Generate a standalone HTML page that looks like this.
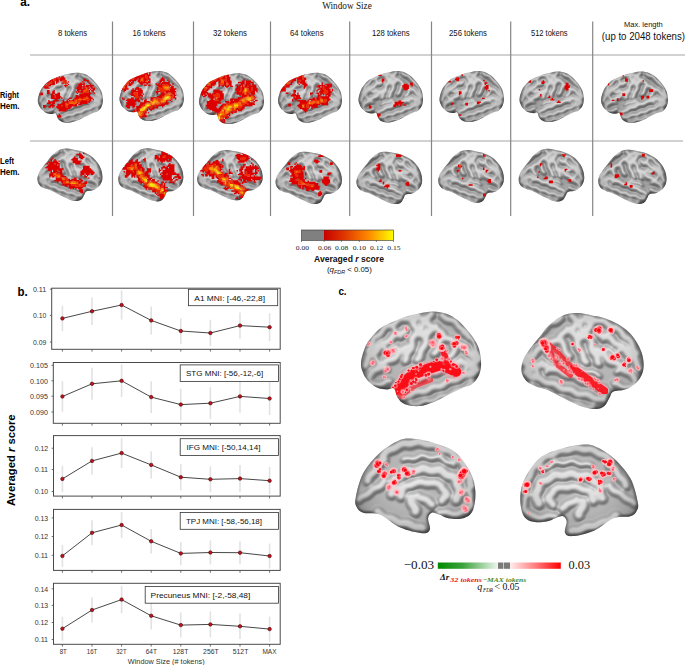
<!DOCTYPE html><html><head><meta charset="utf-8"><style>html,body{margin:0;padding:0;background:#fff;}svg{display:block;}</style></head><body>
<svg width="685" height="665" viewBox="0 0 685 665">
<rect width="685" height="665" fill="#fff"/>
<defs>
<radialGradient id="gVig" cx="52%" cy="45%" r="58%"><stop offset="0" stop-color="#505050" stop-opacity="0"/><stop offset="0.55" stop-color="#505050" stop-opacity="0.05"/><stop offset="0.85" stop-color="#505050" stop-opacity="0.25"/><stop offset="1" stop-color="#404040" stop-opacity="0.45"/></radialGradient>
<filter id="fb1" x="-10%" y="-10%" width="120%" height="120%"><feGaussianBlur stdDeviation="0.9"/></filter>
<filter id="fb2" x="-10%" y="-10%" width="120%" height="120%"><feGaussianBlur stdDeviation="0.5"/></filter>
<clipPath id="cLat"><path d="M0.00,43.00 C0.42,39.15 2.53,32.63 4.20,28.90 C5.87,25.17 7.92,23.08 10.00,20.60 C12.08,18.12 13.92,15.92 16.70,14.00 C19.48,12.08 23.37,10.60 26.70,9.10 C30.03,7.60 33.10,6.17 36.70,5.00 C40.30,3.83 44.42,2.85 48.30,2.10 C52.18,1.35 56.10,0.43 60.00,0.50 C63.90,0.57 68.37,1.35 71.70,2.50 C75.03,3.65 77.50,5.48 80.00,7.40 C82.50,9.32 84.48,11.52 86.70,14.00 C88.92,16.48 91.37,19.27 93.30,22.30 C95.23,25.33 97.18,28.35 98.30,32.20 C99.42,36.05 100.13,41.55 100.00,45.40 C99.87,49.25 98.88,52.55 97.50,55.30 C96.12,58.05 94.07,60.25 91.70,61.90 C89.33,63.55 86.63,63.68 83.30,65.20 C79.97,66.72 75.58,69.08 71.70,71.00 C67.82,72.92 63.90,75.20 60.00,76.70 C56.10,78.20 52.18,79.72 48.30,80.00 C44.42,80.28 39.62,79.50 36.70,78.40 C33.78,77.30 32.33,75.60 30.80,73.40 C29.27,71.20 29.02,66.43 27.50,65.20 C25.98,63.97 24.07,66.13 21.70,66.00 C19.33,65.87 15.95,65.63 13.30,64.40 C10.65,63.17 7.73,60.67 5.80,58.60 C3.87,56.53 2.67,54.60 1.70,52.00 C0.73,49.40 -0.42,46.85 0.00,43.00 Z"/></clipPath>
<clipPath id="cLatM"><path d="M0.00,44.90 C0.28,42.33 1.08,39.17 2.50,36.30 C3.92,33.43 6.37,30.55 8.50,27.70 C10.63,24.85 13.05,22.05 15.30,19.20 C17.55,16.35 19.18,13.32 22.00,10.60 C24.82,7.88 29.08,4.63 32.20,2.90 C35.32,1.17 37.87,0.63 40.70,0.20 C43.53,-0.23 46.38,-0.02 49.20,0.30 C52.02,0.62 54.78,1.52 57.60,2.10 C60.42,2.68 62.98,2.82 66.10,3.80 C69.22,4.78 73.05,6.30 76.30,8.00 C79.55,9.70 82.78,11.57 85.60,14.00 C88.42,16.43 91.08,19.45 93.20,22.60 C95.32,25.75 97.17,29.47 98.30,32.90 C99.43,36.33 100.00,40.07 100.00,43.20 C100.00,46.33 99.43,49.13 98.30,51.70 C97.17,54.27 95.47,56.60 93.20,58.60 C90.93,60.60 87.73,62.55 84.70,63.70 C81.67,64.85 77.12,64.37 75.00,65.50 C72.88,66.63 73.20,68.52 72.00,70.50 C70.80,72.48 69.63,75.82 67.80,77.40 C65.97,78.98 63.83,79.85 61.00,80.00 C58.17,80.15 54.18,79.30 50.80,78.30 C47.42,77.30 44.08,75.58 40.70,74.00 C37.32,72.42 33.90,70.52 30.50,68.80 C27.10,67.08 23.40,64.98 20.30,63.70 C17.20,62.42 14.43,62.10 11.90,61.10 C9.37,60.10 6.95,59.27 5.10,57.70 C3.25,56.13 1.65,53.83 0.80,51.70 C-0.05,49.57 -0.28,47.47 0.00,44.90 Z"/></clipPath>
<clipPath id="cMed"><path d="M0.00,49.90 C0.90,45.15 2.83,35.63 6.20,29.30 C9.57,22.97 15.28,16.52 20.20,11.90 C25.12,7.28 31.05,3.58 35.70,1.60 C40.35,-0.38 42.93,-0.40 48.10,0.00 C53.27,0.40 60.77,2.02 66.70,4.00 C72.63,5.98 78.80,7.68 83.70,11.90 C88.60,16.12 93.38,23.77 96.10,29.30 C98.82,34.83 99.73,39.82 100.00,45.10 C100.27,50.38 99.38,57.30 97.70,61.00 C96.02,64.70 93.27,66.25 89.90,67.30 C86.53,68.35 80.85,67.82 77.50,67.30 C74.15,66.78 72.12,64.98 69.80,64.20 C67.48,63.42 65.15,62.08 63.60,62.60 C62.05,63.12 60.77,64.93 60.50,67.30 C60.23,69.67 62.78,74.68 62.00,76.80 C61.22,78.92 59.93,80.27 55.80,80.00 C51.67,79.73 43.13,77.83 37.20,75.20 C31.27,72.57 25.37,66.30 20.20,64.20 C15.03,62.10 9.43,63.67 6.20,62.60 C2.97,61.53 1.83,59.92 0.80,57.80 C-0.23,55.68 -0.90,54.65 0.00,49.90 Z"/></clipPath>
<clipPath id="cMedM"><path transform="translate(100,0) scale(-1,1)" d="M0.00,49.90 C0.90,45.15 2.83,35.63 6.20,29.30 C9.57,22.97 15.28,16.52 20.20,11.90 C25.12,7.28 31.05,3.58 35.70,1.60 C40.35,-0.38 42.93,-0.40 48.10,0.00 C53.27,0.40 60.77,2.02 66.70,4.00 C72.63,5.98 78.80,7.68 83.70,11.90 C88.60,16.12 93.38,23.77 96.10,29.30 C98.82,34.83 99.73,39.82 100.00,45.10 C100.27,50.38 99.38,57.30 97.70,61.00 C96.02,64.70 93.27,66.25 89.90,67.30 C86.53,68.35 80.85,67.82 77.50,67.30 C74.15,66.78 72.12,64.98 69.80,64.20 C67.48,63.42 65.15,62.08 63.60,62.60 C62.05,63.12 60.77,64.93 60.50,67.30 C60.23,69.67 62.78,74.68 62.00,76.80 C61.22,78.92 59.93,80.27 55.80,80.00 C51.67,79.73 43.13,77.83 37.20,75.20 C31.27,72.57 25.37,66.30 20.20,64.20 C15.03,62.10 9.43,63.67 6.20,62.60 C2.97,61.53 1.83,59.92 0.80,57.80 C-0.23,55.68 -0.90,54.65 0.00,49.90 Z"/></clipPath>
<g id="geoLat">
<path d="M0.00,43.00 C0.42,39.15 2.53,32.63 4.20,28.90 C5.87,25.17 7.92,23.08 10.00,20.60 C12.08,18.12 13.92,15.92 16.70,14.00 C19.48,12.08 23.37,10.60 26.70,9.10 C30.03,7.60 33.10,6.17 36.70,5.00 C40.30,3.83 44.42,2.85 48.30,2.10 C52.18,1.35 56.10,0.43 60.00,0.50 C63.90,0.57 68.37,1.35 71.70,2.50 C75.03,3.65 77.50,5.48 80.00,7.40 C82.50,9.32 84.48,11.52 86.70,14.00 C88.92,16.48 91.37,19.27 93.30,22.30 C95.23,25.33 97.18,28.35 98.30,32.20 C99.42,36.05 100.13,41.55 100.00,45.40 C99.87,49.25 98.88,52.55 97.50,55.30 C96.12,58.05 94.07,60.25 91.70,61.90 C89.33,63.55 86.63,63.68 83.30,65.20 C79.97,66.72 75.58,69.08 71.70,71.00 C67.82,72.92 63.90,75.20 60.00,76.70 C56.10,78.20 52.18,79.72 48.30,80.00 C44.42,80.28 39.62,79.50 36.70,78.40 C33.78,77.30 32.33,75.60 30.80,73.40 C29.27,71.20 29.02,66.43 27.50,65.20 C25.98,63.97 24.07,66.13 21.70,66.00 C19.33,65.87 15.95,65.63 13.30,64.40 C10.65,63.17 7.73,60.67 5.80,58.60 C3.87,56.53 2.67,54.60 1.70,52.00 C0.73,49.40 -0.42,46.85 0.00,43.00 Z" fill="#000" fill-opacity="0.4"/>
<g fill="none" stroke-linecap="round" stroke-linejoin="round" stroke="#000">
<path d="M6.0,34.0L7.3,32.8L8.3,31.4L8.9,29.8L9.1,28.1L9.3,26.3L9.7,24.6L10.6,23.2L11.8,21.8L13.5,21.2L15.1,20.4L16.3,19.2L17.2,17.8L18.0,16.1L19.0,14.6L20.2,13.5L21.8,12.6L23.6,12.4L25.3,12.2L26.9,11.5L28.2,10.5L29.5,9.2L30.7,7.9L32.1,6.9L33.8,6.4L35.7,6.5L37.5,6.6L39.3,6.4L40.8,5.6L42.3,4.5L44.0,4.0" stroke-width="6.50"/>
<path d="M3.6,46.4L4.6,45.2L5.2,43.8L5.6,42.2L6.0,40.6L6.6,39.1L7.5,37.8L8.7,36.7L10.3,36.0L11.8,35.3L13.1,34.2L14.0,32.8L14.7,31.2L15.4,29.7L16.5,28.3L17.8,27.5L19.4,27.1L21.0,26.7L22.5,26.2L23.8,25.3L24.8,24.2L25.7,22.9L26.7,21.5L28.0,20.5L29.5,19.9L31.2,19.6L32.9,19.5L34.5,19.2L36.0,18.5L37.0,17.0" stroke-width="6.50"/>
<path d="M6.6,56.6L7.4,55.0L8.2,53.4L9.0,51.8L10.2,50.6L11.8,49.7L13.5,49.2L15.1,48.6L16.5,47.7L17.6,46.4L18.6,44.9L19.6,43.4L21.0,42.4L22.5,41.7L24.3,41.4L26.0,41.1L27.6,40.5L28.9,39.5L30.1,38.1L30.8,36.5L31.7,35.1L32.9,33.9L34.4,33.1L36.1,32.4L37.0,31.0" stroke-width="6.50"/>
<path d="M6.0,63.1L7.5,62.3L9.1,61.7L10.7,61.6L12.4,61.9L14.1,62.3L15.9,62.3L17.6,61.8L19.1,60.9L20.6,59.7L22.1,58.7L24.0,59.0" stroke-width="5.50"/>
<path d="M47.6,3.3L47.2,4.8L46.5,6.1L45.4,7.3L44.2,8.4L43.3,10.3L43.8,11.7L44.7,13.0L45.8,14.2L47.0,15.4L47.8,17.4L46.8,18.9L45.5,20.3L44.1,21.5L43.0,23.0L42.3,24.8L42.5,26.6L42.7,28.3L42.7,30.0L42.2,31.6L41.2,33.1L40.0,34.3L38.9,35.7L38.2,37.2L37.9,38.8L37.9,40.6L37.0,42.0" stroke-width="6.50"/>
<path d="M58.8,2.3L57.9,3.6L56.7,4.8L55.6,6.0L54.8,7.2L54.3,9.3L55.3,10.5L56.5,11.7L57.5,12.9L58.2,14.2L58.5,16.3L57.1,17.6L55.8,18.9L54.8,20.4L54.3,22.2L54.1,24.0L54.3,25.8L54.1,27.4L53.4,29.0L52.4,30.4L51.5,31.7L50.4,33.1L49.7,34.7L49.4,36.4L49.1,38.3L48.6,39.9L47.0,41.0" stroke-width="6.50"/>
<path d="M68.1,3.8L69.4,5.2L70.8,6.4L72.5,7.1L74.3,7.4L76.3,7.6L77.9,8.3L79.1,9.4L80.2,10.8L81.1,12.3L82.2,13.7L83.3,14.5L84.7,15.6L86.2,16.5L87.6,17.5L88.7,18.8L89.4,20.4L90.0,22.0" stroke-width="6.50"/>
<path d="M62.5,13.3L63.3,14.9L64.4,16.2L65.9,17.3L67.5,18.3L68.9,20.2L68.3,21.8L67.4,23.2L66.4,24.7L65.6,26.2L65.3,27.6L64.8,29.1L64.5,30.8L64.1,32.4L63.4,33.8L62.4,35.0L61.0,36.0" stroke-width="6.00"/>
<path d="M69.6,22.8L71.1,23.3L72.8,23.6L74.5,23.9L76.0,24.4L77.7,25.8L77.6,27.7L77.5,29.7L77.6,31.5L78.5,32.5L77.8,34.2L77.0,35.8L76.0,37.2L74.7,38.3L73.0,39.0" stroke-width="6.00"/>
<path d="M81.8,28.3L83.5,28.8L85.1,29.4L86.5,30.3L87.6,31.6L88.6,33.1L89.4,34.4L90.1,35.8L91.1,37.0L92.4,38.0L93.8,39.1L94.9,40.2L95.8,42.1L95.2,43.6L94.3,45.2L93.6,46.7L93.3,48.3L94.0,50.0" stroke-width="6.50"/>
<path d="M29.7,65.6L30.6,64.3L31.9,63.4L33.3,62.7L34.9,62.2L36.3,61.7L37.8,61.3L39.1,60.5L40.3,59.4L41.5,58.3L42.8,57.3L44.3,56.8L45.8,56.6L47.6,56.6L49.3,56.4L50.8,56.0L52.2,55.1L53.5,53.9L54.8,52.7L56.2,51.8L57.8,51.3L59.4,51.3L61.1,51.4L62.8,51.3L64.3,50.8L65.6,49.9L67.0,48.9L68.3,47.8L69.7,47.2L71.2,46.8L72.8,46.7L74.4,46.7L76.0,46.5L77.5,45.9L78.8,45.0L80.0,43.9L81.6,43.3L83.2,43.1L84.8,43.3L86.4,43.9L88.0,44.0" stroke-width="7.00"/>
<path d="M32.7,72.1L34.3,71.9L36.0,71.9L37.7,72.0L39.3,71.8L40.8,71.3L42.1,70.4L43.4,69.4L44.8,68.5L46.3,68.0L47.8,67.9L49.5,68.0L51.1,68.2L52.7,68.2L54.3,67.8L55.6,66.9L56.9,65.8L58.3,64.8L59.7,64.1L61.3,63.9L63.0,63.9L64.7,64.0L66.3,63.8L67.8,63.1L69.1,62.0L70.4,60.8L71.7,59.7L73.2,59.1L74.8,58.8L76.6,58.8L78.2,58.7L79.8,58.4L81.2,57.6L82.5,56.6L83.8,55.5L85.2,54.7L86.7,54.2L88.4,54.2L90.1,54.2L91.8,53.9L93.2,53.2L94.5,52.1L95.6,50.8L97.0,50.0" stroke-width="6.50"/>
<path d="M41.9,78.5L43.6,78.8L45.2,79.1L46.8,79.1L48.3,78.6L49.8,77.8L51.3,76.9L52.7,76.2L54.3,76.0L55.9,76.1L57.6,76.2L59.3,76.2L60.9,75.8L62.4,75.0L63.8,74.0L65.1,72.9L66.6,72.1L68.2,71.8L69.9,71.9L71.6,71.8L73.1,71.6L74.5,71.0L75.8,70.0L77.0,68.9L78.1,67.8L79.4,67.0L80.9,66.5L82.5,66.4L84.2,66.3L85.9,65.9L87.4,65.1L88.7,63.8L89.9,62.4L91.1,61.1L93.0,61.0" stroke-width="6.00"/>
<path d="M95.6,30.1L95.6,31.7L95.9,33.2L96.6,34.6L97.6,36.0L98.5,37.3L99.1,38.8L99.4,40.3L99.0,42.0" stroke-width="5.00"/>
<path d="M85.4,18.6L86.6,19.7L88.1,20.4L89.7,21.1L91.2,22.0L92.3,23.1L93.2,24.6L94.0,26.0" stroke-width="5.00"/>
<path d="M36.2,52.5L37.6,51.4L39.0,50.2L40.5,49.4L42.2,49.0L44.0,49.0L45.8,49.1L47.6,48.9L49.2,48.1L50.7,47.0L52.2,45.9L54.0,46.0" stroke-width="4.00"/>
<path d="M22.2,10.8L23.9,11.4L25.3,12.3L26.5,13.6L27.5,15.2L28.4,16.4L29.3,18.0L30.6,19.2L32.2,20.4L33.0,22.0" stroke-width="4.50"/>
<path d="M12.7,40.5L13.6,41.7L14.3,43.3L14.8,44.9L15.7,46.7L17.1,47.5L18.8,48.0L20.6,48.1L22.0,49.0" stroke-width="4.50"/>
<path d="M18.4,29.4L19.5,31.0L20.7,32.5L22.0,33.7L24.3,34.5L25.5,33.0L26.6,31.4L28.0,30.3L30.0,30.0" stroke-width="4.00"/>
<path d="M51.9,6.0L51.1,7.5L50.7,9.1L50.7,10.7L51.1,12.4L51.5,14.1L51.7,15.7L51.4,17.3L50.7,18.8L49.9,20.4L50.0,22.0" stroke-width="3.50"/>
<path d="M83.3,40.5L84.3,42.0L85.7,43.2L87.3,44.3L88.8,46.3L88.3,47.8L87.4,49.1L86.3,50.4L86.0,52.0" stroke-width="4.50"/>
<path d="M73.6,46.6L75.4,47.1L77.3,47.6L79.0,48.3L80.0,50.0" stroke-width="4.00"/>
</g>
</g>
<g id="geoMed">
<path d="M0.00,49.90 C0.90,45.15 2.83,35.63 6.20,29.30 C9.57,22.97 15.28,16.52 20.20,11.90 C25.12,7.28 31.05,3.58 35.70,1.60 C40.35,-0.38 42.93,-0.40 48.10,0.00 C53.27,0.40 60.77,2.02 66.70,4.00 C72.63,5.98 78.80,7.68 83.70,11.90 C88.60,16.12 93.38,23.77 96.10,29.30 C98.82,34.83 99.73,39.82 100.00,45.10 C100.27,50.38 99.38,57.30 97.70,61.00 C96.02,64.70 93.27,66.25 89.90,67.30 C86.53,68.35 80.85,67.82 77.50,67.30 C74.15,66.78 72.12,64.98 69.80,64.20 C67.48,63.42 65.15,62.08 63.60,62.60 C62.05,63.12 60.77,64.93 60.50,67.30 C60.23,69.67 62.78,74.68 62.00,76.80 C61.22,78.92 59.93,80.27 55.80,80.00 C51.67,79.73 43.13,77.83 37.20,75.20 C31.27,72.57 25.37,66.30 20.20,64.20 C15.03,62.10 9.43,63.67 6.20,62.60 C2.97,61.53 1.83,59.92 0.80,57.80 C-0.23,55.68 -0.90,54.65 0.00,49.90 Z" fill="#000" fill-opacity="0.55"/>
<g fill="none" stroke-linecap="round" stroke-linejoin="round" stroke="#000">
<path d="M30.0,47.0L30.9,45.6L31.6,44.2L31.9,42.7L31.8,41.1L31.6,39.4L31.5,37.8L31.8,36.3L32.6,34.5L34.3,34.0L35.9,33.5L37.4,32.7L38.6,31.6L39.5,30.2L40.4,28.7L41.9,27.2L43.4,26.9L45.1,27.1L46.7,27.5L48.3,27.8L49.9,27.8L51.4,27.3L52.9,26.5L54.4,25.7L56.1,25.1L57.6,25.3L59.1,25.8L60.6,26.6L62.2,27.2L63.7,27.4L65.3,27.3L66.9,26.8L68.5,26.4L70.4,26.2L71.9,27.0L73.1,28.3L74.3,29.6L75.6,30.7L77.1,31.5L78.8,31.8L80.6,32.0L82.7,32.6L83.6,34.1L84.1,35.8L84.3,37.6L84.7,39.4L85.4,40.9L86.5,41.9L86.7,43.7L86.7,45.5L86.3,47.3L85.5,48.8L84.4,50.3L84.0,52.0" stroke-width="8.00"/>
<path d="M37.7,49.3L38.4,48.0L38.8,46.4L38.9,44.8L38.9,43.2L39.6,41.2L41.2,40.5L43.1,40.2L45.0,40.0L46.8,39.6L48.1,38.8L49.6,38.1L51.1,37.4L52.6,36.9L54.2,36.7L55.7,36.9L57.3,37.4L58.9,37.8L60.5,38.0L61.8,37.7L63.6,37.7L65.5,37.5L67.3,37.7L68.9,38.3L70.4,39.3L71.6,40.2L72.0,41.8L72.9,43.2L74.1,44.4L75.4,45.5L76.6,47.4L75.7,49.0L74.3,50.2L72.8,51.3L72.0,53.0" stroke-width="7.00"/>
<path d="M22.5,14.7L23.5,13.4L24.5,12.0L25.6,10.7L26.8,9.7L28.3,9.1L30.0,8.7L31.7,8.3L33.2,7.6L34.2,6.7L35.6,5.9L37.0,4.9L38.5,4.2L40.0,3.8L41.7,3.9L43.4,4.2L45.0,4.4L46.6,4.2L48.0,3.6L49.5,3.2L51.1,2.7L52.7,2.5L54.3,2.6L55.8,3.2L57.3,3.9L58.8,4.5L60.4,4.8L61.8,4.6L63.5,4.6L65.3,4.6L67.0,4.8L68.5,5.5L69.8,6.6L71.2,7.7L72.6,8.7L74.2,9.2L75.8,9.3L77.4,9.7L78.9,10.1L80.3,10.9L81.4,12.0L82.3,13.3L83.2,14.6L84.3,15.8L85.3,16.5L86.5,17.6L87.9,18.6L89.3,19.7L90.3,21.0L90.9,22.6L91.2,24.3L91.6,26.0L92.1,27.3L92.7,28.7L93.6,30.0L94.7,31.2L95.5,32.5L96.1,34.0L96.2,35.5L96.1,37.1L96.0,38.7L97.0,40.0" stroke-width="8.00"/>
<path d="M10.1,36.1L10.4,34.3L11.0,32.7L11.9,31.3L13.2,30.2L14.6,29.1L15.9,27.9L16.6,26.6L17.4,25.1L18.1,23.6L18.9,22.0L19.9,20.8L21.3,19.9L22.9,19.2L24.0,18.0" stroke-width="7.00"/>
<path d="M2.6,51.5L3.6,50.3L4.9,49.5L6.4,48.9L7.9,48.3L9.4,47.6L10.4,46.8L11.8,45.6L13.1,44.1L14.4,42.9L16.0,42.0L17.7,41.7L19.4,41.0L21.0,40.2L22.2,39.0L23.1,37.5L24.0,36.0" stroke-width="6.50"/>
<path d="M18.4,62.2L19.7,63.3L20.9,64.7L22.2,65.9L23.6,66.8L25.3,67.2L27.0,67.4L28.8,67.6L30.2,68.1L31.7,68.8L33.1,69.8L34.5,70.8L36.0,71.6L37.6,72.0L39.3,71.9L41.0,71.8L42.7,71.8L44.2,72.2L45.6,72.9L47.0,73.8L48.3,74.7L49.8,75.4L51.3,75.6L52.9,75.5L54.6,75.3L56.0,76.0" stroke-width="8.00"/>
<path d="M46.2,49.9L46.1,51.6L46.2,53.3L46.7,54.8L47.5,56.2L48.6,57.5L49.6,58.8L50.4,60.2L50.0,62.0" stroke-width="8.00"/>
<path d="M51.7,48.5L53.0,49.7L54.6,50.5L56.5,51.0L58.4,51.5L60.0,52.3L61.3,53.5L62.5,55.1L64.0,56.0" stroke-width="7.00"/>
<path d="M69.8,62.9L71.6,62.9L73.4,62.6L75.1,62.3L76.8,62.5L78.5,63.1L80.0,64.0L81.7,64.5L83.4,64.6L85.1,64.2L86.7,63.4L88.3,62.6L89.4,62.4L90.6,61.3L92.2,60.5L93.8,59.8L95.3,58.9L96.4,57.8L97.0,56.0" stroke-width="6.50"/>
<path d="M93.6,44.1L94.8,45.6L95.8,47.1L96.3,48.8L96.4,50.6L96.2,52.4L97.0,54.0" stroke-width="5.50"/>
<path d="M39.9,17.5L41.3,16.9L42.8,16.6L44.4,16.7L46.0,17.0L47.6,17.2L49.2,17.1L50.6,16.6L52.0,15.8L53.4,14.9L55.1,14.2L56.6,14.2L58.0,14.7L59.5,15.3L61.0,16.0L62.4,16.4L63.9,16.4L65.5,16.1L67.0,15.6L68.5,15.2L70.4,15.2L71.8,16.2L73.0,17.5L74.2,18.8L75.6,19.8L77.2,20.4L78.9,20.6L80.7,20.8L82.0,22.0" stroke-width="4.50"/>
</g>
</g>
<g id="geoLatC">
<path d="M0.00,43.00 C0.42,39.15 2.53,32.63 4.20,28.90 C5.87,25.17 7.92,23.08 10.00,20.60 C12.08,18.12 13.92,15.92 16.70,14.00 C19.48,12.08 23.37,10.60 26.70,9.10 C30.03,7.60 33.10,6.17 36.70,5.00 C40.30,3.83 44.42,2.85 48.30,2.10 C52.18,1.35 56.10,0.43 60.00,0.50 C63.90,0.57 68.37,1.35 71.70,2.50 C75.03,3.65 77.50,5.48 80.00,7.40 C82.50,9.32 84.48,11.52 86.70,14.00 C88.92,16.48 91.37,19.27 93.30,22.30 C95.23,25.33 97.18,28.35 98.30,32.20 C99.42,36.05 100.13,41.55 100.00,45.40 C99.87,49.25 98.88,52.55 97.50,55.30 C96.12,58.05 94.07,60.25 91.70,61.90 C89.33,63.55 86.63,63.68 83.30,65.20 C79.97,66.72 75.58,69.08 71.70,71.00 C67.82,72.92 63.90,75.20 60.00,76.70 C56.10,78.20 52.18,79.72 48.30,80.00 C44.42,80.28 39.62,79.50 36.70,78.40 C33.78,77.30 32.33,75.60 30.80,73.40 C29.27,71.20 29.02,66.43 27.50,65.20 C25.98,63.97 24.07,66.13 21.70,66.00 C19.33,65.87 15.95,65.63 13.30,64.40 C10.65,63.17 7.73,60.67 5.80,58.60 C3.87,56.53 2.67,54.60 1.70,52.00 C0.73,49.40 -0.42,46.85 0.00,43.00 Z" fill="#000" fill-opacity="0.55"/>
<g fill="none" stroke-linecap="round" stroke-linejoin="round" stroke="#000">
<path d="M6.0,34.0L7.3,32.8L8.3,31.4L8.9,29.8L9.1,28.1L9.3,26.3L9.7,24.6L10.6,23.2L11.8,21.8L13.5,21.2L15.1,20.4L16.3,19.2L17.2,17.8L18.0,16.1L19.0,14.6L20.2,13.5L21.8,12.6L23.6,12.4L25.3,12.2L26.9,11.5L28.2,10.5L29.5,9.2L30.7,7.9L32.1,6.9L33.8,6.4L35.7,6.5L37.5,6.6L39.3,6.4L40.8,5.6L42.3,4.5L44.0,4.0" stroke-width="6.50"/>
<path d="M3.6,46.4L4.6,45.2L5.2,43.8L5.6,42.2L6.0,40.6L6.6,39.1L7.5,37.8L8.7,36.7L10.3,36.0L11.8,35.3L13.1,34.2L14.0,32.8L14.7,31.2L15.4,29.7L16.5,28.3L17.8,27.5L19.4,27.1L21.0,26.7L22.5,26.2L23.8,25.3L24.8,24.2L25.7,22.9L26.7,21.5L28.0,20.5L29.5,19.9L31.2,19.6L32.9,19.5L34.5,19.2L36.0,18.5L37.0,17.0" stroke-width="6.50"/>
<path d="M6.6,56.6L7.4,55.0L8.2,53.4L9.0,51.8L10.2,50.6L11.8,49.7L13.5,49.2L15.1,48.6L16.5,47.7L17.6,46.4L18.6,44.9L19.6,43.4L21.0,42.4L22.5,41.7L24.3,41.4L26.0,41.1L27.6,40.5L28.9,39.5L30.1,38.1L30.8,36.5L31.7,35.1L32.9,33.9L34.4,33.1L36.1,32.4L37.0,31.0" stroke-width="6.50"/>
<path d="M6.0,63.1L7.5,62.3L9.1,61.7L10.7,61.6L12.4,61.9L14.1,62.3L15.9,62.3L17.6,61.8L19.1,60.9L20.6,59.7L22.1,58.7L24.0,59.0" stroke-width="5.50"/>
<path d="M47.6,3.3L47.2,4.8L46.5,6.1L45.4,7.3L44.2,8.4L43.3,10.3L43.8,11.7L44.7,13.0L45.8,14.2L47.0,15.4L47.8,17.4L46.8,18.9L45.5,20.3L44.1,21.5L43.0,23.0L42.3,24.8L42.5,26.6L42.7,28.3L42.7,30.0L42.2,31.6L41.2,33.1L40.0,34.3L38.9,35.7L38.2,37.2L37.9,38.8L37.9,40.6L37.0,42.0" stroke-width="6.50"/>
<path d="M58.8,2.3L57.9,3.6L56.7,4.8L55.6,6.0L54.8,7.2L54.3,9.3L55.3,10.5L56.5,11.7L57.5,12.9L58.2,14.2L58.5,16.3L57.1,17.6L55.8,18.9L54.8,20.4L54.3,22.2L54.1,24.0L54.3,25.8L54.1,27.4L53.4,29.0L52.4,30.4L51.5,31.7L50.4,33.1L49.7,34.7L49.4,36.4L49.1,38.3L48.6,39.9L47.0,41.0" stroke-width="6.50"/>
<path d="M68.1,3.8L69.4,5.2L70.8,6.4L72.5,7.1L74.3,7.4L76.3,7.6L77.9,8.3L79.1,9.4L80.2,10.8L81.1,12.3L82.2,13.7L83.3,14.5L84.7,15.6L86.2,16.5L87.6,17.5L88.7,18.8L89.4,20.4L90.0,22.0" stroke-width="6.50"/>
<path d="M62.5,13.3L63.3,14.9L64.4,16.2L65.9,17.3L67.5,18.3L68.9,20.2L68.3,21.8L67.4,23.2L66.4,24.7L65.6,26.2L65.3,27.6L64.8,29.1L64.5,30.8L64.1,32.4L63.4,33.8L62.4,35.0L61.0,36.0" stroke-width="6.00"/>
<path d="M69.6,22.8L71.1,23.3L72.8,23.6L74.5,23.9L76.0,24.4L77.7,25.8L77.6,27.7L77.5,29.7L77.6,31.5L78.5,32.5L77.8,34.2L77.0,35.8L76.0,37.2L74.7,38.3L73.0,39.0" stroke-width="6.00"/>
<path d="M81.8,28.3L83.5,28.8L85.1,29.4L86.5,30.3L87.6,31.6L88.6,33.1L89.4,34.4L90.1,35.8L91.1,37.0L92.4,38.0L93.8,39.1L94.9,40.2L95.8,42.1L95.2,43.6L94.3,45.2L93.6,46.7L93.3,48.3L94.0,50.0" stroke-width="6.50"/>
<path d="M29.7,65.6L30.6,64.3L31.9,63.4L33.3,62.7L34.9,62.2L36.3,61.7L37.8,61.3L39.1,60.5L40.3,59.4L41.5,58.3L42.8,57.3L44.3,56.8L45.8,56.6L47.6,56.6L49.3,56.4L50.8,56.0L52.2,55.1L53.5,53.9L54.8,52.7L56.2,51.8L57.8,51.3L59.4,51.3L61.1,51.4L62.8,51.3L64.3,50.8L65.6,49.9L67.0,48.9L68.3,47.8L69.7,47.2L71.2,46.8L72.8,46.7L74.4,46.7L76.0,46.5L77.5,45.9L78.8,45.0L80.0,43.9L81.6,43.3L83.2,43.1L84.8,43.3L86.4,43.9L88.0,44.0" stroke-width="7.00"/>
<path d="M32.7,72.1L34.3,71.9L36.0,71.9L37.7,72.0L39.3,71.8L40.8,71.3L42.1,70.4L43.4,69.4L44.8,68.5L46.3,68.0L47.8,67.9L49.5,68.0L51.1,68.2L52.7,68.2L54.3,67.8L55.6,66.9L56.9,65.8L58.3,64.8L59.7,64.1L61.3,63.9L63.0,63.9L64.7,64.0L66.3,63.8L67.8,63.1L69.1,62.0L70.4,60.8L71.7,59.7L73.2,59.1L74.8,58.8L76.6,58.8L78.2,58.7L79.8,58.4L81.2,57.6L82.5,56.6L83.8,55.5L85.2,54.7L86.7,54.2L88.4,54.2L90.1,54.2L91.8,53.9L93.2,53.2L94.5,52.1L95.6,50.8L97.0,50.0" stroke-width="6.50"/>
<path d="M41.9,78.5L43.6,78.8L45.2,79.1L46.8,79.1L48.3,78.6L49.8,77.8L51.3,76.9L52.7,76.2L54.3,76.0L55.9,76.1L57.6,76.2L59.3,76.2L60.9,75.8L62.4,75.0L63.8,74.0L65.1,72.9L66.6,72.1L68.2,71.8L69.9,71.9L71.6,71.8L73.1,71.6L74.5,71.0L75.8,70.0L77.0,68.9L78.1,67.8L79.4,67.0L80.9,66.5L82.5,66.4L84.2,66.3L85.9,65.9L87.4,65.1L88.7,63.8L89.9,62.4L91.1,61.1L93.0,61.0" stroke-width="6.00"/>
<path d="M95.6,30.1L95.6,31.7L95.9,33.2L96.6,34.6L97.6,36.0L98.5,37.3L99.1,38.8L99.4,40.3L99.0,42.0" stroke-width="5.00"/>
<path d="M85.4,18.6L86.6,19.7L88.1,20.4L89.7,21.1L91.2,22.0L92.3,23.1L93.2,24.6L94.0,26.0" stroke-width="5.00"/>
<path d="M36.2,52.5L37.6,51.4L39.0,50.2L40.5,49.4L42.2,49.0L44.0,49.0L45.8,49.1L47.6,48.9L49.2,48.1L50.7,47.0L52.2,45.9L54.0,46.0" stroke-width="4.00"/>
<path d="M22.2,10.8L23.9,11.4L25.3,12.3L26.5,13.6L27.5,15.2L28.4,16.4L29.3,18.0L30.6,19.2L32.2,20.4L33.0,22.0" stroke-width="4.50"/>
<path d="M12.7,40.5L13.6,41.7L14.3,43.3L14.8,44.9L15.7,46.7L17.1,47.5L18.8,48.0L20.6,48.1L22.0,49.0" stroke-width="4.50"/>
<path d="M18.4,29.4L19.5,31.0L20.7,32.5L22.0,33.7L24.3,34.5L25.5,33.0L26.6,31.4L28.0,30.3L30.0,30.0" stroke-width="4.00"/>
<path d="M51.9,6.0L51.1,7.5L50.7,9.1L50.7,10.7L51.1,12.4L51.5,14.1L51.7,15.7L51.4,17.3L50.7,18.8L49.9,20.4L50.0,22.0" stroke-width="3.50"/>
<path d="M83.3,40.5L84.3,42.0L85.7,43.2L87.3,44.3L88.8,46.3L88.3,47.8L87.4,49.1L86.3,50.4L86.0,52.0" stroke-width="4.50"/>
<path d="M73.6,46.6L75.4,47.1L77.3,47.6L79.0,48.3L80.0,50.0" stroke-width="4.00"/>
</g>
</g>
<g id="geoLatM">
<path d="M0.00,44.90 C0.28,42.33 1.08,39.17 2.50,36.30 C3.92,33.43 6.37,30.55 8.50,27.70 C10.63,24.85 13.05,22.05 15.30,19.20 C17.55,16.35 19.18,13.32 22.00,10.60 C24.82,7.88 29.08,4.63 32.20,2.90 C35.32,1.17 37.87,0.63 40.70,0.20 C43.53,-0.23 46.38,-0.02 49.20,0.30 C52.02,0.62 54.78,1.52 57.60,2.10 C60.42,2.68 62.98,2.82 66.10,3.80 C69.22,4.78 73.05,6.30 76.30,8.00 C79.55,9.70 82.78,11.57 85.60,14.00 C88.42,16.43 91.08,19.45 93.20,22.60 C95.32,25.75 97.17,29.47 98.30,32.90 C99.43,36.33 100.00,40.07 100.00,43.20 C100.00,46.33 99.43,49.13 98.30,51.70 C97.17,54.27 95.47,56.60 93.20,58.60 C90.93,60.60 87.73,62.55 84.70,63.70 C81.67,64.85 77.12,64.37 75.00,65.50 C72.88,66.63 73.20,68.52 72.00,70.50 C70.80,72.48 69.63,75.82 67.80,77.40 C65.97,78.98 63.83,79.85 61.00,80.00 C58.17,80.15 54.18,79.30 50.80,78.30 C47.42,77.30 44.08,75.58 40.70,74.00 C37.32,72.42 33.90,70.52 30.50,68.80 C27.10,67.08 23.40,64.98 20.30,63.70 C17.20,62.42 14.43,62.10 11.90,61.10 C9.37,60.10 6.95,59.27 5.10,57.70 C3.25,56.13 1.65,53.83 0.80,51.70 C-0.05,49.57 -0.28,47.47 0.00,44.90 Z" fill="#000" fill-opacity="0.4"/>
<g fill="none" stroke-linecap="round" stroke-linejoin="round" stroke="#000" transform="translate(100,0) scale(-1,1)">
<path d="M6.0,34.0L7.3,32.8L8.3,31.4L8.9,29.8L9.1,28.1L9.3,26.3L9.7,24.6L10.6,23.2L11.8,21.8L13.5,21.2L15.1,20.4L16.3,19.2L17.2,17.8L18.0,16.1L19.0,14.6L20.2,13.5L21.8,12.6L23.6,12.4L25.3,12.2L26.9,11.5L28.2,10.5L29.5,9.2L30.7,7.9L32.1,6.9L33.8,6.4L35.7,6.5L37.5,6.6L39.3,6.4L40.8,5.6L42.3,4.5L44.0,4.0" stroke-width="6.50"/>
<path d="M3.6,46.4L4.6,45.2L5.2,43.8L5.6,42.2L6.0,40.6L6.6,39.1L7.5,37.8L8.7,36.7L10.3,36.0L11.8,35.3L13.1,34.2L14.0,32.8L14.7,31.2L15.4,29.7L16.5,28.3L17.8,27.5L19.4,27.1L21.0,26.7L22.5,26.2L23.8,25.3L24.8,24.2L25.7,22.9L26.7,21.5L28.0,20.5L29.5,19.9L31.2,19.6L32.9,19.5L34.5,19.2L36.0,18.5L37.0,17.0" stroke-width="6.50"/>
<path d="M6.6,56.6L7.4,55.0L8.2,53.4L9.0,51.8L10.2,50.6L11.8,49.7L13.5,49.2L15.1,48.6L16.5,47.7L17.6,46.4L18.6,44.9L19.6,43.4L21.0,42.4L22.5,41.7L24.3,41.4L26.0,41.1L27.6,40.5L28.9,39.5L30.1,38.1L30.8,36.5L31.7,35.1L32.9,33.9L34.4,33.1L36.1,32.4L37.0,31.0" stroke-width="6.50"/>
<path d="M6.0,63.1L7.5,62.3L9.1,61.7L10.7,61.6L12.4,61.9L14.1,62.3L15.9,62.3L17.6,61.8L19.1,60.9L20.6,59.7L22.1,58.7L24.0,59.0" stroke-width="5.50"/>
<path d="M47.6,3.3L47.2,4.8L46.5,6.1L45.4,7.3L44.2,8.4L43.3,10.3L43.8,11.7L44.7,13.0L45.8,14.2L47.0,15.4L47.8,17.4L46.8,18.9L45.5,20.3L44.1,21.5L43.0,23.0L42.3,24.8L42.5,26.6L42.7,28.3L42.7,30.0L42.2,31.6L41.2,33.1L40.0,34.3L38.9,35.7L38.2,37.2L37.9,38.8L37.9,40.6L37.0,42.0" stroke-width="6.50"/>
<path d="M58.8,2.3L57.9,3.6L56.7,4.8L55.6,6.0L54.8,7.2L54.3,9.3L55.3,10.5L56.5,11.7L57.5,12.9L58.2,14.2L58.5,16.3L57.1,17.6L55.8,18.9L54.8,20.4L54.3,22.2L54.1,24.0L54.3,25.8L54.1,27.4L53.4,29.0L52.4,30.4L51.5,31.7L50.4,33.1L49.7,34.7L49.4,36.4L49.1,38.3L48.6,39.9L47.0,41.0" stroke-width="6.50"/>
<path d="M68.1,3.8L69.4,5.2L70.8,6.4L72.5,7.1L74.3,7.4L76.3,7.6L77.9,8.3L79.1,9.4L80.2,10.8L81.1,12.3L82.2,13.7L83.3,14.5L84.7,15.6L86.2,16.5L87.6,17.5L88.7,18.8L89.4,20.4L90.0,22.0" stroke-width="6.50"/>
<path d="M62.5,13.3L63.3,14.9L64.4,16.2L65.9,17.3L67.5,18.3L68.9,20.2L68.3,21.8L67.4,23.2L66.4,24.7L65.6,26.2L65.3,27.6L64.8,29.1L64.5,30.8L64.1,32.4L63.4,33.8L62.4,35.0L61.0,36.0" stroke-width="6.00"/>
<path d="M69.6,22.8L71.1,23.3L72.8,23.6L74.5,23.9L76.0,24.4L77.7,25.8L77.6,27.7L77.5,29.7L77.6,31.5L78.5,32.5L77.8,34.2L77.0,35.8L76.0,37.2L74.7,38.3L73.0,39.0" stroke-width="6.00"/>
<path d="M81.8,28.3L83.5,28.8L85.1,29.4L86.5,30.3L87.6,31.6L88.6,33.1L89.4,34.4L90.1,35.8L91.1,37.0L92.4,38.0L93.8,39.1L94.9,40.2L95.8,42.1L95.2,43.6L94.3,45.2L93.6,46.7L93.3,48.3L94.0,50.0" stroke-width="6.50"/>
<path d="M29.7,65.6L30.6,64.3L31.9,63.4L33.3,62.7L34.9,62.2L36.3,61.7L37.8,61.3L39.1,60.5L40.3,59.4L41.5,58.3L42.8,57.3L44.3,56.8L45.8,56.6L47.6,56.6L49.3,56.4L50.8,56.0L52.2,55.1L53.5,53.9L54.8,52.7L56.2,51.8L57.8,51.3L59.4,51.3L61.1,51.4L62.8,51.3L64.3,50.8L65.6,49.9L67.0,48.9L68.3,47.8L69.7,47.2L71.2,46.8L72.8,46.7L74.4,46.7L76.0,46.5L77.5,45.9L78.8,45.0L80.0,43.9L81.6,43.3L83.2,43.1L84.8,43.3L86.4,43.9L88.0,44.0" stroke-width="7.00"/>
<path d="M32.7,72.1L34.3,71.9L36.0,71.9L37.7,72.0L39.3,71.8L40.8,71.3L42.1,70.4L43.4,69.4L44.8,68.5L46.3,68.0L47.8,67.9L49.5,68.0L51.1,68.2L52.7,68.2L54.3,67.8L55.6,66.9L56.9,65.8L58.3,64.8L59.7,64.1L61.3,63.9L63.0,63.9L64.7,64.0L66.3,63.8L67.8,63.1L69.1,62.0L70.4,60.8L71.7,59.7L73.2,59.1L74.8,58.8L76.6,58.8L78.2,58.7L79.8,58.4L81.2,57.6L82.5,56.6L83.8,55.5L85.2,54.7L86.7,54.2L88.4,54.2L90.1,54.2L91.8,53.9L93.2,53.2L94.5,52.1L95.6,50.8L97.0,50.0" stroke-width="6.50"/>
<path d="M41.9,78.5L43.6,78.8L45.2,79.1L46.8,79.1L48.3,78.6L49.8,77.8L51.3,76.9L52.7,76.2L54.3,76.0L55.9,76.1L57.6,76.2L59.3,76.2L60.9,75.8L62.4,75.0L63.8,74.0L65.1,72.9L66.6,72.1L68.2,71.8L69.9,71.9L71.6,71.8L73.1,71.6L74.5,71.0L75.8,70.0L77.0,68.9L78.1,67.8L79.4,67.0L80.9,66.5L82.5,66.4L84.2,66.3L85.9,65.9L87.4,65.1L88.7,63.8L89.9,62.4L91.1,61.1L93.0,61.0" stroke-width="6.00"/>
<path d="M95.6,30.1L95.6,31.7L95.9,33.2L96.6,34.6L97.6,36.0L98.5,37.3L99.1,38.8L99.4,40.3L99.0,42.0" stroke-width="5.00"/>
<path d="M85.4,18.6L86.6,19.7L88.1,20.4L89.7,21.1L91.2,22.0L92.3,23.1L93.2,24.6L94.0,26.0" stroke-width="5.00"/>
<path d="M36.2,52.5L37.6,51.4L39.0,50.2L40.5,49.4L42.2,49.0L44.0,49.0L45.8,49.1L47.6,48.9L49.2,48.1L50.7,47.0L52.2,45.9L54.0,46.0" stroke-width="4.00"/>
<path d="M22.2,10.8L23.9,11.4L25.3,12.3L26.5,13.6L27.5,15.2L28.4,16.4L29.3,18.0L30.6,19.2L32.2,20.4L33.0,22.0" stroke-width="4.50"/>
<path d="M12.7,40.5L13.6,41.7L14.3,43.3L14.8,44.9L15.7,46.7L17.1,47.5L18.8,48.0L20.6,48.1L22.0,49.0" stroke-width="4.50"/>
<path d="M18.4,29.4L19.5,31.0L20.7,32.5L22.0,33.7L24.3,34.5L25.5,33.0L26.6,31.4L28.0,30.3L30.0,30.0" stroke-width="4.00"/>
<path d="M51.9,6.0L51.1,7.5L50.7,9.1L50.7,10.7L51.1,12.4L51.5,14.1L51.7,15.7L51.4,17.3L50.7,18.8L49.9,20.4L50.0,22.0" stroke-width="3.50"/>
<path d="M83.3,40.5L84.3,42.0L85.7,43.2L87.3,44.3L88.8,46.3L88.3,47.8L87.4,49.1L86.3,50.4L86.0,52.0" stroke-width="4.50"/>
<path d="M73.6,46.6L75.4,47.1L77.3,47.6L79.0,48.3L80.0,50.0" stroke-width="4.00"/>
</g>
</g>
<g id="geoLatCM">
<path d="M0.00,44.90 C0.28,42.33 1.08,39.17 2.50,36.30 C3.92,33.43 6.37,30.55 8.50,27.70 C10.63,24.85 13.05,22.05 15.30,19.20 C17.55,16.35 19.18,13.32 22.00,10.60 C24.82,7.88 29.08,4.63 32.20,2.90 C35.32,1.17 37.87,0.63 40.70,0.20 C43.53,-0.23 46.38,-0.02 49.20,0.30 C52.02,0.62 54.78,1.52 57.60,2.10 C60.42,2.68 62.98,2.82 66.10,3.80 C69.22,4.78 73.05,6.30 76.30,8.00 C79.55,9.70 82.78,11.57 85.60,14.00 C88.42,16.43 91.08,19.45 93.20,22.60 C95.32,25.75 97.17,29.47 98.30,32.90 C99.43,36.33 100.00,40.07 100.00,43.20 C100.00,46.33 99.43,49.13 98.30,51.70 C97.17,54.27 95.47,56.60 93.20,58.60 C90.93,60.60 87.73,62.55 84.70,63.70 C81.67,64.85 77.12,64.37 75.00,65.50 C72.88,66.63 73.20,68.52 72.00,70.50 C70.80,72.48 69.63,75.82 67.80,77.40 C65.97,78.98 63.83,79.85 61.00,80.00 C58.17,80.15 54.18,79.30 50.80,78.30 C47.42,77.30 44.08,75.58 40.70,74.00 C37.32,72.42 33.90,70.52 30.50,68.80 C27.10,67.08 23.40,64.98 20.30,63.70 C17.20,62.42 14.43,62.10 11.90,61.10 C9.37,60.10 6.95,59.27 5.10,57.70 C3.25,56.13 1.65,53.83 0.80,51.70 C-0.05,49.57 -0.28,47.47 0.00,44.90 Z" fill="#000" fill-opacity="0.55"/>
<g fill="none" stroke-linecap="round" stroke-linejoin="round" stroke="#000" transform="translate(100,0) scale(-1,1)">
<path d="M6.0,34.0L7.3,32.8L8.3,31.4L8.9,29.8L9.1,28.1L9.3,26.3L9.7,24.6L10.6,23.2L11.8,21.8L13.5,21.2L15.1,20.4L16.3,19.2L17.2,17.8L18.0,16.1L19.0,14.6L20.2,13.5L21.8,12.6L23.6,12.4L25.3,12.2L26.9,11.5L28.2,10.5L29.5,9.2L30.7,7.9L32.1,6.9L33.8,6.4L35.7,6.5L37.5,6.6L39.3,6.4L40.8,5.6L42.3,4.5L44.0,4.0" stroke-width="6.50"/>
<path d="M3.6,46.4L4.6,45.2L5.2,43.8L5.6,42.2L6.0,40.6L6.6,39.1L7.5,37.8L8.7,36.7L10.3,36.0L11.8,35.3L13.1,34.2L14.0,32.8L14.7,31.2L15.4,29.7L16.5,28.3L17.8,27.5L19.4,27.1L21.0,26.7L22.5,26.2L23.8,25.3L24.8,24.2L25.7,22.9L26.7,21.5L28.0,20.5L29.5,19.9L31.2,19.6L32.9,19.5L34.5,19.2L36.0,18.5L37.0,17.0" stroke-width="6.50"/>
<path d="M6.6,56.6L7.4,55.0L8.2,53.4L9.0,51.8L10.2,50.6L11.8,49.7L13.5,49.2L15.1,48.6L16.5,47.7L17.6,46.4L18.6,44.9L19.6,43.4L21.0,42.4L22.5,41.7L24.3,41.4L26.0,41.1L27.6,40.5L28.9,39.5L30.1,38.1L30.8,36.5L31.7,35.1L32.9,33.9L34.4,33.1L36.1,32.4L37.0,31.0" stroke-width="6.50"/>
<path d="M6.0,63.1L7.5,62.3L9.1,61.7L10.7,61.6L12.4,61.9L14.1,62.3L15.9,62.3L17.6,61.8L19.1,60.9L20.6,59.7L22.1,58.7L24.0,59.0" stroke-width="5.50"/>
<path d="M47.6,3.3L47.2,4.8L46.5,6.1L45.4,7.3L44.2,8.4L43.3,10.3L43.8,11.7L44.7,13.0L45.8,14.2L47.0,15.4L47.8,17.4L46.8,18.9L45.5,20.3L44.1,21.5L43.0,23.0L42.3,24.8L42.5,26.6L42.7,28.3L42.7,30.0L42.2,31.6L41.2,33.1L40.0,34.3L38.9,35.7L38.2,37.2L37.9,38.8L37.9,40.6L37.0,42.0" stroke-width="6.50"/>
<path d="M58.8,2.3L57.9,3.6L56.7,4.8L55.6,6.0L54.8,7.2L54.3,9.3L55.3,10.5L56.5,11.7L57.5,12.9L58.2,14.2L58.5,16.3L57.1,17.6L55.8,18.9L54.8,20.4L54.3,22.2L54.1,24.0L54.3,25.8L54.1,27.4L53.4,29.0L52.4,30.4L51.5,31.7L50.4,33.1L49.7,34.7L49.4,36.4L49.1,38.3L48.6,39.9L47.0,41.0" stroke-width="6.50"/>
<path d="M68.1,3.8L69.4,5.2L70.8,6.4L72.5,7.1L74.3,7.4L76.3,7.6L77.9,8.3L79.1,9.4L80.2,10.8L81.1,12.3L82.2,13.7L83.3,14.5L84.7,15.6L86.2,16.5L87.6,17.5L88.7,18.8L89.4,20.4L90.0,22.0" stroke-width="6.50"/>
<path d="M62.5,13.3L63.3,14.9L64.4,16.2L65.9,17.3L67.5,18.3L68.9,20.2L68.3,21.8L67.4,23.2L66.4,24.7L65.6,26.2L65.3,27.6L64.8,29.1L64.5,30.8L64.1,32.4L63.4,33.8L62.4,35.0L61.0,36.0" stroke-width="6.00"/>
<path d="M69.6,22.8L71.1,23.3L72.8,23.6L74.5,23.9L76.0,24.4L77.7,25.8L77.6,27.7L77.5,29.7L77.6,31.5L78.5,32.5L77.8,34.2L77.0,35.8L76.0,37.2L74.7,38.3L73.0,39.0" stroke-width="6.00"/>
<path d="M81.8,28.3L83.5,28.8L85.1,29.4L86.5,30.3L87.6,31.6L88.6,33.1L89.4,34.4L90.1,35.8L91.1,37.0L92.4,38.0L93.8,39.1L94.9,40.2L95.8,42.1L95.2,43.6L94.3,45.2L93.6,46.7L93.3,48.3L94.0,50.0" stroke-width="6.50"/>
<path d="M29.7,65.6L30.6,64.3L31.9,63.4L33.3,62.7L34.9,62.2L36.3,61.7L37.8,61.3L39.1,60.5L40.3,59.4L41.5,58.3L42.8,57.3L44.3,56.8L45.8,56.6L47.6,56.6L49.3,56.4L50.8,56.0L52.2,55.1L53.5,53.9L54.8,52.7L56.2,51.8L57.8,51.3L59.4,51.3L61.1,51.4L62.8,51.3L64.3,50.8L65.6,49.9L67.0,48.9L68.3,47.8L69.7,47.2L71.2,46.8L72.8,46.7L74.4,46.7L76.0,46.5L77.5,45.9L78.8,45.0L80.0,43.9L81.6,43.3L83.2,43.1L84.8,43.3L86.4,43.9L88.0,44.0" stroke-width="7.00"/>
<path d="M32.7,72.1L34.3,71.9L36.0,71.9L37.7,72.0L39.3,71.8L40.8,71.3L42.1,70.4L43.4,69.4L44.8,68.5L46.3,68.0L47.8,67.9L49.5,68.0L51.1,68.2L52.7,68.2L54.3,67.8L55.6,66.9L56.9,65.8L58.3,64.8L59.7,64.1L61.3,63.9L63.0,63.9L64.7,64.0L66.3,63.8L67.8,63.1L69.1,62.0L70.4,60.8L71.7,59.7L73.2,59.1L74.8,58.8L76.6,58.8L78.2,58.7L79.8,58.4L81.2,57.6L82.5,56.6L83.8,55.5L85.2,54.7L86.7,54.2L88.4,54.2L90.1,54.2L91.8,53.9L93.2,53.2L94.5,52.1L95.6,50.8L97.0,50.0" stroke-width="6.50"/>
<path d="M41.9,78.5L43.6,78.8L45.2,79.1L46.8,79.1L48.3,78.6L49.8,77.8L51.3,76.9L52.7,76.2L54.3,76.0L55.9,76.1L57.6,76.2L59.3,76.2L60.9,75.8L62.4,75.0L63.8,74.0L65.1,72.9L66.6,72.1L68.2,71.8L69.9,71.9L71.6,71.8L73.1,71.6L74.5,71.0L75.8,70.0L77.0,68.9L78.1,67.8L79.4,67.0L80.9,66.5L82.5,66.4L84.2,66.3L85.9,65.9L87.4,65.1L88.7,63.8L89.9,62.4L91.1,61.1L93.0,61.0" stroke-width="6.00"/>
<path d="M95.6,30.1L95.6,31.7L95.9,33.2L96.6,34.6L97.6,36.0L98.5,37.3L99.1,38.8L99.4,40.3L99.0,42.0" stroke-width="5.00"/>
<path d="M85.4,18.6L86.6,19.7L88.1,20.4L89.7,21.1L91.2,22.0L92.3,23.1L93.2,24.6L94.0,26.0" stroke-width="5.00"/>
<path d="M36.2,52.5L37.6,51.4L39.0,50.2L40.5,49.4L42.2,49.0L44.0,49.0L45.8,49.1L47.6,48.9L49.2,48.1L50.7,47.0L52.2,45.9L54.0,46.0" stroke-width="4.00"/>
<path d="M22.2,10.8L23.9,11.4L25.3,12.3L26.5,13.6L27.5,15.2L28.4,16.4L29.3,18.0L30.6,19.2L32.2,20.4L33.0,22.0" stroke-width="4.50"/>
<path d="M12.7,40.5L13.6,41.7L14.3,43.3L14.8,44.9L15.7,46.7L17.1,47.5L18.8,48.0L20.6,48.1L22.0,49.0" stroke-width="4.50"/>
<path d="M18.4,29.4L19.5,31.0L20.7,32.5L22.0,33.7L24.3,34.5L25.5,33.0L26.6,31.4L28.0,30.3L30.0,30.0" stroke-width="4.00"/>
<path d="M51.9,6.0L51.1,7.5L50.7,9.1L50.7,10.7L51.1,12.4L51.5,14.1L51.7,15.7L51.4,17.3L50.7,18.8L49.9,20.4L50.0,22.0" stroke-width="3.50"/>
<path d="M83.3,40.5L84.3,42.0L85.7,43.2L87.3,44.3L88.8,46.3L88.3,47.8L87.4,49.1L86.3,50.4L86.0,52.0" stroke-width="4.50"/>
<path d="M73.6,46.6L75.4,47.1L77.3,47.6L79.0,48.3L80.0,50.0" stroke-width="4.00"/>
</g>
</g>
<path id="vigLat" d="M0.00,43.00 C0.42,39.15 2.53,32.63 4.20,28.90 C5.87,25.17 7.92,23.08 10.00,20.60 C12.08,18.12 13.92,15.92 16.70,14.00 C19.48,12.08 23.37,10.60 26.70,9.10 C30.03,7.60 33.10,6.17 36.70,5.00 C40.30,3.83 44.42,2.85 48.30,2.10 C52.18,1.35 56.10,0.43 60.00,0.50 C63.90,0.57 68.37,1.35 71.70,2.50 C75.03,3.65 77.50,5.48 80.00,7.40 C82.50,9.32 84.48,11.52 86.70,14.00 C88.92,16.48 91.37,19.27 93.30,22.30 C95.23,25.33 97.18,28.35 98.30,32.20 C99.42,36.05 100.13,41.55 100.00,45.40 C99.87,49.25 98.88,52.55 97.50,55.30 C96.12,58.05 94.07,60.25 91.70,61.90 C89.33,63.55 86.63,63.68 83.30,65.20 C79.97,66.72 75.58,69.08 71.70,71.00 C67.82,72.92 63.90,75.20 60.00,76.70 C56.10,78.20 52.18,79.72 48.30,80.00 C44.42,80.28 39.62,79.50 36.70,78.40 C33.78,77.30 32.33,75.60 30.80,73.40 C29.27,71.20 29.02,66.43 27.50,65.20 C25.98,63.97 24.07,66.13 21.70,66.00 C19.33,65.87 15.95,65.63 13.30,64.40 C10.65,63.17 7.73,60.67 5.80,58.60 C3.87,56.53 2.67,54.60 1.70,52.00 C0.73,49.40 -0.42,46.85 0.00,43.00 Z" fill="url(#gVig)"/>
<path id="outLat" d="M0.00,43.00 C0.42,39.15 2.53,32.63 4.20,28.90 C5.87,25.17 7.92,23.08 10.00,20.60 C12.08,18.12 13.92,15.92 16.70,14.00 C19.48,12.08 23.37,10.60 26.70,9.10 C30.03,7.60 33.10,6.17 36.70,5.00 C40.30,3.83 44.42,2.85 48.30,2.10 C52.18,1.35 56.10,0.43 60.00,0.50 C63.90,0.57 68.37,1.35 71.70,2.50 C75.03,3.65 77.50,5.48 80.00,7.40 C82.50,9.32 84.48,11.52 86.70,14.00 C88.92,16.48 91.37,19.27 93.30,22.30 C95.23,25.33 97.18,28.35 98.30,32.20 C99.42,36.05 100.13,41.55 100.00,45.40 C99.87,49.25 98.88,52.55 97.50,55.30 C96.12,58.05 94.07,60.25 91.70,61.90 C89.33,63.55 86.63,63.68 83.30,65.20 C79.97,66.72 75.58,69.08 71.70,71.00 C67.82,72.92 63.90,75.20 60.00,76.70 C56.10,78.20 52.18,79.72 48.30,80.00 C44.42,80.28 39.62,79.50 36.70,78.40 C33.78,77.30 32.33,75.60 30.80,73.40 C29.27,71.20 29.02,66.43 27.50,65.20 C25.98,63.97 24.07,66.13 21.70,66.00 C19.33,65.87 15.95,65.63 13.30,64.40 C10.65,63.17 7.73,60.67 5.80,58.60 C3.87,56.53 2.67,54.60 1.70,52.00 C0.73,49.40 -0.42,46.85 0.00,43.00 Z"/>
<path id="outLatM" d="M0.00,44.90 C0.28,42.33 1.08,39.17 2.50,36.30 C3.92,33.43 6.37,30.55 8.50,27.70 C10.63,24.85 13.05,22.05 15.30,19.20 C17.55,16.35 19.18,13.32 22.00,10.60 C24.82,7.88 29.08,4.63 32.20,2.90 C35.32,1.17 37.87,0.63 40.70,0.20 C43.53,-0.23 46.38,-0.02 49.20,0.30 C52.02,0.62 54.78,1.52 57.60,2.10 C60.42,2.68 62.98,2.82 66.10,3.80 C69.22,4.78 73.05,6.30 76.30,8.00 C79.55,9.70 82.78,11.57 85.60,14.00 C88.42,16.43 91.08,19.45 93.20,22.60 C95.32,25.75 97.17,29.47 98.30,32.90 C99.43,36.33 100.00,40.07 100.00,43.20 C100.00,46.33 99.43,49.13 98.30,51.70 C97.17,54.27 95.47,56.60 93.20,58.60 C90.93,60.60 87.73,62.55 84.70,63.70 C81.67,64.85 77.12,64.37 75.00,65.50 C72.88,66.63 73.20,68.52 72.00,70.50 C70.80,72.48 69.63,75.82 67.80,77.40 C65.97,78.98 63.83,79.85 61.00,80.00 C58.17,80.15 54.18,79.30 50.80,78.30 C47.42,77.30 44.08,75.58 40.70,74.00 C37.32,72.42 33.90,70.52 30.50,68.80 C27.10,67.08 23.40,64.98 20.30,63.70 C17.20,62.42 14.43,62.10 11.90,61.10 C9.37,60.10 6.95,59.27 5.10,57.70 C3.25,56.13 1.65,53.83 0.80,51.70 C-0.05,49.57 -0.28,47.47 0.00,44.90 Z"/>
<path id="vigLatM" d="M0.00,44.90 C0.28,42.33 1.08,39.17 2.50,36.30 C3.92,33.43 6.37,30.55 8.50,27.70 C10.63,24.85 13.05,22.05 15.30,19.20 C17.55,16.35 19.18,13.32 22.00,10.60 C24.82,7.88 29.08,4.63 32.20,2.90 C35.32,1.17 37.87,0.63 40.70,0.20 C43.53,-0.23 46.38,-0.02 49.20,0.30 C52.02,0.62 54.78,1.52 57.60,2.10 C60.42,2.68 62.98,2.82 66.10,3.80 C69.22,4.78 73.05,6.30 76.30,8.00 C79.55,9.70 82.78,11.57 85.60,14.00 C88.42,16.43 91.08,19.45 93.20,22.60 C95.32,25.75 97.17,29.47 98.30,32.90 C99.43,36.33 100.00,40.07 100.00,43.20 C100.00,46.33 99.43,49.13 98.30,51.70 C97.17,54.27 95.47,56.60 93.20,58.60 C90.93,60.60 87.73,62.55 84.70,63.70 C81.67,64.85 77.12,64.37 75.00,65.50 C72.88,66.63 73.20,68.52 72.00,70.50 C70.80,72.48 69.63,75.82 67.80,77.40 C65.97,78.98 63.83,79.85 61.00,80.00 C58.17,80.15 54.18,79.30 50.80,78.30 C47.42,77.30 44.08,75.58 40.70,74.00 C37.32,72.42 33.90,70.52 30.50,68.80 C27.10,67.08 23.40,64.98 20.30,63.70 C17.20,62.42 14.43,62.10 11.90,61.10 C9.37,60.10 6.95,59.27 5.10,57.70 C3.25,56.13 1.65,53.83 0.80,51.70 C-0.05,49.57 -0.28,47.47 0.00,44.90 Z" fill="url(#gVig)"/>
<path id="outMed" d="M0.00,49.90 C0.90,45.15 2.83,35.63 6.20,29.30 C9.57,22.97 15.28,16.52 20.20,11.90 C25.12,7.28 31.05,3.58 35.70,1.60 C40.35,-0.38 42.93,-0.40 48.10,0.00 C53.27,0.40 60.77,2.02 66.70,4.00 C72.63,5.98 78.80,7.68 83.70,11.90 C88.60,16.12 93.38,23.77 96.10,29.30 C98.82,34.83 99.73,39.82 100.00,45.10 C100.27,50.38 99.38,57.30 97.70,61.00 C96.02,64.70 93.27,66.25 89.90,67.30 C86.53,68.35 80.85,67.82 77.50,67.30 C74.15,66.78 72.12,64.98 69.80,64.20 C67.48,63.42 65.15,62.08 63.60,62.60 C62.05,63.12 60.77,64.93 60.50,67.30 C60.23,69.67 62.78,74.68 62.00,76.80 C61.22,78.92 59.93,80.27 55.80,80.00 C51.67,79.73 43.13,77.83 37.20,75.20 C31.27,72.57 25.37,66.30 20.20,64.20 C15.03,62.10 9.43,63.67 6.20,62.60 C2.97,61.53 1.83,59.92 0.80,57.80 C-0.23,55.68 -0.90,54.65 0.00,49.90 Z"/>
<path id="vigMed" d="M0.00,49.90 C0.90,45.15 2.83,35.63 6.20,29.30 C9.57,22.97 15.28,16.52 20.20,11.90 C25.12,7.28 31.05,3.58 35.70,1.60 C40.35,-0.38 42.93,-0.40 48.10,0.00 C53.27,0.40 60.77,2.02 66.70,4.00 C72.63,5.98 78.80,7.68 83.70,11.90 C88.60,16.12 93.38,23.77 96.10,29.30 C98.82,34.83 99.73,39.82 100.00,45.10 C100.27,50.38 99.38,57.30 97.70,61.00 C96.02,64.70 93.27,66.25 89.90,67.30 C86.53,68.35 80.85,67.82 77.50,67.30 C74.15,66.78 72.12,64.98 69.80,64.20 C67.48,63.42 65.15,62.08 63.60,62.60 C62.05,63.12 60.77,64.93 60.50,67.30 C60.23,69.67 62.78,74.68 62.00,76.80 C61.22,78.92 59.93,80.27 55.80,80.00 C51.67,79.73 43.13,77.83 37.20,75.20 C31.27,72.57 25.37,66.30 20.20,64.20 C15.03,62.10 9.43,63.67 6.20,62.60 C2.97,61.53 1.83,59.92 0.80,57.80 C-0.23,55.68 -0.90,54.65 0.00,49.90 Z" fill="url(#gVig)"/>
</defs>
<defs>
<radialGradient id="gBlob"><stop offset="0" stop-color="#f40000"/><stop offset="0.55" stop-color="#ff0a14"/><stop offset="0.8" stop-color="#ff6070" stop-opacity="0.9"/><stop offset="1" stop-color="#ffb0b8" stop-opacity="0.2"/></radialGradient>
<radialGradient id="gBlobP"><stop offset="0" stop-color="#ff3848"/><stop offset="0.5" stop-color="#ff7080"/><stop offset="0.8" stop-color="#ffa8b0" stop-opacity="0.9"/><stop offset="1" stop-color="#ffd8dc" stop-opacity="0.2"/></radialGradient>
</defs>
<g stroke="#c2c2c2" stroke-width="1.7" fill="none">
<line x1="30" y1="55" x2="685" y2="55"/>
<line x1="30" y1="141" x2="683" y2="141"/>
</g>
<g stroke="#858585" stroke-width="1.2" fill="none">
<line x1="112.5" y1="21.5" x2="112.5" y2="216"/>
<line x1="193.5" y1="21.5" x2="193.5" y2="216"/>
<line x1="270.5" y1="21.5" x2="270.5" y2="216"/>
<line x1="349.7" y1="21.5" x2="349.7" y2="216"/>
<line x1="431.5" y1="21.5" x2="431.5" y2="216"/>
<line x1="510.7" y1="21.5" x2="510.7" y2="216"/>
<line x1="592.7" y1="21.5" x2="592.7" y2="216"/>
</g>
<text x="20.2" y="6.4" font-family='"Liberation Sans", sans-serif' font-size="12" font-weight="bold" font-style="normal" fill="#000" text-anchor="start" textLength="9.7" lengthAdjust="spacingAndGlyphs" >a.</text>
<text x="322.2" y="9.0" font-family='"Liberation Serif", serif' font-size="9.3" font-weight="normal" font-style="normal" fill="#111" text-anchor="start" textLength="49.6" lengthAdjust="spacingAndGlyphs" >Window Size</text>
<text x="58" y="35.7" font-family='"Liberation Sans", sans-serif' font-size="9.3" font-weight="normal" font-style="normal" fill="#111" text-anchor="start" textLength="29" lengthAdjust="spacingAndGlyphs" >8 tokens</text>
<text x="132.6" y="35.7" font-family='"Liberation Sans", sans-serif' font-size="9.3" font-weight="normal" font-style="normal" fill="#111" text-anchor="start" textLength="33.1" lengthAdjust="spacingAndGlyphs" >16 tokens</text>
<text x="213" y="35.7" font-family='"Liberation Sans", sans-serif' font-size="9.3" font-weight="normal" font-style="normal" fill="#111" text-anchor="start" textLength="33.9" lengthAdjust="spacingAndGlyphs" >32 tokens</text>
<text x="290" y="35.7" font-family='"Liberation Sans", sans-serif' font-size="9.3" font-weight="normal" font-style="normal" fill="#111" text-anchor="start" textLength="33.5" lengthAdjust="spacingAndGlyphs" >64 tokens</text>
<text x="372" y="35.7" font-family='"Liberation Sans", sans-serif' font-size="9.3" font-weight="normal" font-style="normal" fill="#111" text-anchor="start" textLength="37.5" lengthAdjust="spacingAndGlyphs" >128 tokens</text>
<text x="449" y="35.7" font-family='"Liberation Sans", sans-serif' font-size="9.3" font-weight="normal" font-style="normal" fill="#111" text-anchor="start" textLength="38" lengthAdjust="spacingAndGlyphs" >256 tokens</text>
<text x="531" y="35.7" font-family='"Liberation Sans", sans-serif' font-size="9.3" font-weight="normal" font-style="normal" fill="#111" text-anchor="start" textLength="36.6" lengthAdjust="spacingAndGlyphs" >512 tokens</text>
<text x="624" y="26.6" font-family='"Liberation Sans", sans-serif' font-size="8.1" font-weight="normal" font-style="normal" fill="#111" text-anchor="start" textLength="38.8" lengthAdjust="spacingAndGlyphs" >Max. length</text>
<text x="601.8" y="40.2" font-family='"Liberation Sans", sans-serif' font-size="11.2" font-weight="normal" font-style="normal" fill="#111" text-anchor="start" textLength="83.2" lengthAdjust="spacingAndGlyphs" >(up to 2048 tokens)</text>
<text x="0" y="97.7" font-family='"Liberation Sans", sans-serif' font-size="8.2" font-weight="bold" font-style="normal" fill="#000" text-anchor="start" textLength="18.9" lengthAdjust="spacingAndGlyphs" >Right</text>
<text x="0" y="108.8" font-family='"Liberation Sans", sans-serif' font-size="8.2" font-weight="bold" font-style="normal" fill="#000" text-anchor="start" textLength="19.6" lengthAdjust="spacingAndGlyphs" >Hem.</text>
<text x="0" y="163.6" font-family='"Liberation Sans", sans-serif' font-size="8.2" font-weight="bold" font-style="normal" fill="#000" text-anchor="start" textLength="14" lengthAdjust="spacingAndGlyphs" >Left</text>
<text x="0" y="174.7" font-family='"Liberation Sans", sans-serif' font-size="8.2" font-weight="bold" font-style="normal" fill="#000" text-anchor="start" textLength="19.6" lengthAdjust="spacingAndGlyphs" >Hem.</text>
<defs>
<filter id="fR1" filterUnits="userSpaceOnUse" x="33.8" y="68.4" width="73.1" height="58.3" color-interpolation-filters="sRGB"><feGaussianBlur in="SourceAlpha" stdDeviation="0.896" result="h"/><feDiffuseLighting in="h" surfaceScale="3.938" diffuseConstant="1" lighting-color="#f8f8f8" result="lit"><feDistantLight azimuth="250" elevation="70"/></feDiffuseLighting><feColorMatrix in="h" type="matrix" values="0 0 0 0.7 0.08  0 0 0 0.7 0.08  0 0 0 0.7 0.08  0 0 0 0 1" result="hg"/><feComposite in="lit" in2="hg" operator="arithmetic" k1="0" k2="0.5" k3="0.5" k4="0.0" result="rel"/><feComponentTransfer in="h" result="mask"><feFuncA type="linear" slope="5" intercept="-0.3"/></feComponentTransfer><feComposite in="rel" in2="mask" operator="in"/></filter>
<clipPath id="kfR1"><use href="#outLat" transform="translate(37.80,72.40) scale(0.6510,0.6287)"/></clipPath>
</defs>
<g clip-path="url(#kfR1)"><g filter="url(#fR1)"><use href="#geoLat" transform="translate(37.80,72.40) scale(0.6510,0.6287)"/></g></g>
<use href="#vigLat" transform="translate(37.80,72.40) scale(0.6510,0.6287)"/>
<defs>
<filter id="fR2" filterUnits="userSpaceOnUse" x="115.5" y="66.8" width="72.4" height="58.2" color-interpolation-filters="sRGB"><feGaussianBlur in="SourceAlpha" stdDeviation="0.890" result="h"/><feDiffuseLighting in="h" surfaceScale="3.912" diffuseConstant="1" lighting-color="#f8f8f8" result="lit"><feDistantLight azimuth="250" elevation="70"/></feDiffuseLighting><feColorMatrix in="h" type="matrix" values="0 0 0 0.7 0.08  0 0 0 0.7 0.08  0 0 0 0.7 0.08  0 0 0 0 1" result="hg"/><feComposite in="lit" in2="hg" operator="arithmetic" k1="0" k2="0.5" k3="0.5" k4="0.0" result="rel"/><feComponentTransfer in="h" result="mask"><feFuncA type="linear" slope="5" intercept="-0.3"/></feComponentTransfer><feComposite in="rel" in2="mask" operator="in"/></filter>
<clipPath id="kfR2"><use href="#outLat" transform="translate(119.50,70.80) scale(0.6440,0.6275)"/></clipPath>
</defs>
<g clip-path="url(#kfR2)"><g filter="url(#fR2)"><use href="#geoLat" transform="translate(119.50,70.80) scale(0.6440,0.6275)"/></g></g>
<use href="#vigLat" transform="translate(119.50,70.80) scale(0.6440,0.6275)"/>
<defs>
<filter id="fR3" filterUnits="userSpaceOnUse" x="195.0" y="68.9" width="73.0" height="59.1" color-interpolation-filters="sRGB"><feGaussianBlur in="SourceAlpha" stdDeviation="0.902" result="h"/><feDiffuseLighting in="h" surfaceScale="3.965" diffuseConstant="1" lighting-color="#f8f8f8" result="lit"><feDistantLight azimuth="250" elevation="70"/></feDiffuseLighting><feColorMatrix in="h" type="matrix" values="0 0 0 0.7 0.08  0 0 0 0.7 0.08  0 0 0 0.7 0.08  0 0 0 0 1" result="hg"/><feComposite in="lit" in2="hg" operator="arithmetic" k1="0" k2="0.5" k3="0.5" k4="0.0" result="rel"/><feComponentTransfer in="h" result="mask"><feFuncA type="linear" slope="5" intercept="-0.3"/></feComponentTransfer><feComposite in="rel" in2="mask" operator="in"/></filter>
<clipPath id="kfR3"><use href="#outLat" transform="translate(199.00,72.90) scale(0.6500,0.6387)"/></clipPath>
</defs>
<g clip-path="url(#kfR3)"><g filter="url(#fR3)"><use href="#geoLat" transform="translate(199.00,72.90) scale(0.6500,0.6387)"/></g></g>
<use href="#vigLat" transform="translate(199.00,72.90) scale(0.6500,0.6387)"/>
<defs>
<filter id="fR4" filterUnits="userSpaceOnUse" x="274.0" y="68.4" width="72.0" height="58.3" color-interpolation-filters="sRGB"><feGaussianBlur in="SourceAlpha" stdDeviation="0.888" result="h"/><feDiffuseLighting in="h" surfaceScale="3.904" diffuseConstant="1" lighting-color="#f8f8f8" result="lit"><feDistantLight azimuth="250" elevation="70"/></feDiffuseLighting><feColorMatrix in="h" type="matrix" values="0 0 0 0.7 0.08  0 0 0 0.7 0.08  0 0 0 0.7 0.08  0 0 0 0 1" result="hg"/><feComposite in="lit" in2="hg" operator="arithmetic" k1="0" k2="0.5" k3="0.5" k4="0.0" result="rel"/><feComponentTransfer in="h" result="mask"><feFuncA type="linear" slope="5" intercept="-0.3"/></feComponentTransfer><feComposite in="rel" in2="mask" operator="in"/></filter>
<clipPath id="kfR4"><use href="#outLat" transform="translate(278.00,72.40) scale(0.6400,0.6287)"/></clipPath>
</defs>
<g clip-path="url(#kfR4)"><g filter="url(#fR4)"><use href="#geoLat" transform="translate(278.00,72.40) scale(0.6400,0.6287)"/></g></g>
<use href="#vigLat" transform="translate(278.00,72.40) scale(0.6400,0.6287)"/>
<defs>
<filter id="fR5" filterUnits="userSpaceOnUse" x="354.5" y="66.8" width="72.5" height="59.7" color-interpolation-filters="sRGB"><feGaussianBlur in="SourceAlpha" stdDeviation="0.904" result="h"/><feDiffuseLighting in="h" surfaceScale="3.973" diffuseConstant="1" lighting-color="#f8f8f8" result="lit"><feDistantLight azimuth="250" elevation="70"/></feDiffuseLighting><feColorMatrix in="h" type="matrix" values="0 0 0 0.7 0.08  0 0 0 0.7 0.08  0 0 0 0.7 0.08  0 0 0 0 1" result="hg"/><feComposite in="lit" in2="hg" operator="arithmetic" k1="0" k2="0.5" k3="0.5" k4="0.0" result="rel"/><feComponentTransfer in="h" result="mask"><feFuncA type="linear" slope="5" intercept="-0.3"/></feComponentTransfer><feComposite in="rel" in2="mask" operator="in"/></filter>
<clipPath id="kfR5"><use href="#outLat" transform="translate(358.50,70.80) scale(0.6450,0.6462)"/></clipPath>
</defs>
<g clip-path="url(#kfR5)"><g filter="url(#fR5)"><use href="#geoLat" transform="translate(358.50,70.80) scale(0.6450,0.6462)"/></g></g>
<use href="#vigLat" transform="translate(358.50,70.80) scale(0.6450,0.6462)"/>
<defs>
<filter id="fR6" filterUnits="userSpaceOnUse" x="435.5" y="66.8" width="72.4" height="59.2" color-interpolation-filters="sRGB"><feGaussianBlur in="SourceAlpha" stdDeviation="0.899" result="h"/><feDiffuseLighting in="h" surfaceScale="3.951" diffuseConstant="1" lighting-color="#f8f8f8" result="lit"><feDistantLight azimuth="250" elevation="70"/></feDiffuseLighting><feColorMatrix in="h" type="matrix" values="0 0 0 0.7 0.08  0 0 0 0.7 0.08  0 0 0 0.7 0.08  0 0 0 0 1" result="hg"/><feComposite in="lit" in2="hg" operator="arithmetic" k1="0" k2="0.5" k3="0.5" k4="0.0" result="rel"/><feComponentTransfer in="h" result="mask"><feFuncA type="linear" slope="5" intercept="-0.3"/></feComponentTransfer><feComposite in="rel" in2="mask" operator="in"/></filter>
<clipPath id="kfR6"><use href="#outLat" transform="translate(439.50,70.80) scale(0.6440,0.6400)"/></clipPath>
</defs>
<g clip-path="url(#kfR6)"><g filter="url(#fR6)"><use href="#geoLat" transform="translate(439.50,70.80) scale(0.6440,0.6400)"/></g></g>
<use href="#vigLat" transform="translate(439.50,70.80) scale(0.6440,0.6400)"/>
<defs>
<filter id="fR7" filterUnits="userSpaceOnUse" x="515.5" y="67.3" width="72.3" height="58.7" color-interpolation-filters="sRGB"><feGaussianBlur in="SourceAlpha" stdDeviation="0.894" result="h"/><feDiffuseLighting in="h" surfaceScale="3.928" diffuseConstant="1" lighting-color="#f8f8f8" result="lit"><feDistantLight azimuth="250" elevation="70"/></feDiffuseLighting><feColorMatrix in="h" type="matrix" values="0 0 0 0.7 0.08  0 0 0 0.7 0.08  0 0 0 0.7 0.08  0 0 0 0 1" result="hg"/><feComposite in="lit" in2="hg" operator="arithmetic" k1="0" k2="0.5" k3="0.5" k4="0.0" result="rel"/><feComponentTransfer in="h" result="mask"><feFuncA type="linear" slope="5" intercept="-0.3"/></feComponentTransfer><feComposite in="rel" in2="mask" operator="in"/></filter>
<clipPath id="kfR7"><use href="#outLat" transform="translate(519.50,71.30) scale(0.6430,0.6338)"/></clipPath>
</defs>
<g clip-path="url(#kfR7)"><g filter="url(#fR7)"><use href="#geoLat" transform="translate(519.50,71.30) scale(0.6430,0.6338)"/></g></g>
<use href="#vigLat" transform="translate(519.50,71.30) scale(0.6430,0.6338)"/>
<defs>
<filter id="fR8" filterUnits="userSpaceOnUse" x="597.0" y="67.3" width="74.9" height="59.5" color-interpolation-filters="sRGB"><feGaussianBlur in="SourceAlpha" stdDeviation="0.919" result="h"/><feDiffuseLighting in="h" surfaceScale="4.039" diffuseConstant="1" lighting-color="#f8f8f8" result="lit"><feDistantLight azimuth="250" elevation="70"/></feDiffuseLighting><feColorMatrix in="h" type="matrix" values="0 0 0 0.7 0.08  0 0 0 0.7 0.08  0 0 0 0.7 0.08  0 0 0 0 1" result="hg"/><feComposite in="lit" in2="hg" operator="arithmetic" k1="0" k2="0.5" k3="0.5" k4="0.0" result="rel"/><feComponentTransfer in="h" result="mask"><feFuncA type="linear" slope="5" intercept="-0.3"/></feComponentTransfer><feComposite in="rel" in2="mask" operator="in"/></filter>
<clipPath id="kfR8"><use href="#outLat" transform="translate(601.00,71.30) scale(0.6690,0.6438)"/></clipPath>
</defs>
<g clip-path="url(#kfR8)"><g filter="url(#fR8)"><use href="#geoLat" transform="translate(601.00,71.30) scale(0.6690,0.6438)"/></g></g>
<use href="#vigLat" transform="translate(601.00,71.30) scale(0.6690,0.6438)"/>
<defs>
<filter id="fR9" filterUnits="userSpaceOnUse" x="33.5" y="144.6" width="73.0" height="60.4" color-interpolation-filters="sRGB"><feGaussianBlur in="SourceAlpha" stdDeviation="0.914" result="h"/><feDiffuseLighting in="h" surfaceScale="4.015" diffuseConstant="1" lighting-color="#f8f8f8" result="lit"><feDistantLight azimuth="250" elevation="70"/></feDiffuseLighting><feColorMatrix in="h" type="matrix" values="0 0 0 0.7 0.08  0 0 0 0.7 0.08  0 0 0 0.7 0.08  0 0 0 0 1" result="hg"/><feComposite in="lit" in2="hg" operator="arithmetic" k1="0" k2="0.5" k3="0.5" k4="0.0" result="rel"/><feComponentTransfer in="h" result="mask"><feFuncA type="linear" slope="5" intercept="-0.3"/></feComponentTransfer><feComposite in="rel" in2="mask" operator="in"/></filter>
<clipPath id="kfR9"><use href="#outLatM" transform="translate(37.50,148.60) scale(0.6500,0.6550)"/></clipPath>
</defs>
<g clip-path="url(#kfR9)"><g filter="url(#fR9)"><use href="#geoLatM" transform="translate(37.50,148.60) scale(0.6500,0.6550)"/></g></g>
<use href="#vigLatM" transform="translate(37.50,148.60) scale(0.6500,0.6550)"/>
<defs>
<filter id="fR10" filterUnits="userSpaceOnUse" x="114.3" y="144.4" width="73.1" height="61.1" color-interpolation-filters="sRGB"><feGaussianBlur in="SourceAlpha" stdDeviation="0.920" result="h"/><feDiffuseLighting in="h" surfaceScale="4.045" diffuseConstant="1" lighting-color="#f8f8f8" result="lit"><feDistantLight azimuth="250" elevation="70"/></feDiffuseLighting><feColorMatrix in="h" type="matrix" values="0 0 0 0.7 0.08  0 0 0 0.7 0.08  0 0 0 0.7 0.08  0 0 0 0 1" result="hg"/><feComposite in="lit" in2="hg" operator="arithmetic" k1="0" k2="0.5" k3="0.5" k4="0.0" result="rel"/><feComponentTransfer in="h" result="mask"><feFuncA type="linear" slope="5" intercept="-0.3"/></feComponentTransfer><feComposite in="rel" in2="mask" operator="in"/></filter>
<clipPath id="kfR10"><use href="#outLatM" transform="translate(118.30,148.40) scale(0.6510,0.6637)"/></clipPath>
</defs>
<g clip-path="url(#kfR10)"><g filter="url(#fR10)"><use href="#geoLatM" transform="translate(118.30,148.40) scale(0.6510,0.6637)"/></g></g>
<use href="#vigLatM" transform="translate(118.30,148.40) scale(0.6510,0.6637)"/>
<defs>
<filter id="fR11" filterUnits="userSpaceOnUse" x="193.2" y="146.0" width="73.6" height="58.3" color-interpolation-filters="sRGB"><feGaussianBlur in="SourceAlpha" stdDeviation="0.899" result="h"/><feDiffuseLighting in="h" surfaceScale="3.953" diffuseConstant="1" lighting-color="#f8f8f8" result="lit"><feDistantLight azimuth="250" elevation="70"/></feDiffuseLighting><feColorMatrix in="h" type="matrix" values="0 0 0 0.7 0.08  0 0 0 0.7 0.08  0 0 0 0.7 0.08  0 0 0 0 1" result="hg"/><feComposite in="lit" in2="hg" operator="arithmetic" k1="0" k2="0.5" k3="0.5" k4="0.0" result="rel"/><feComponentTransfer in="h" result="mask"><feFuncA type="linear" slope="5" intercept="-0.3"/></feComponentTransfer><feComposite in="rel" in2="mask" operator="in"/></filter>
<clipPath id="kfR11"><use href="#outLatM" transform="translate(197.20,150.00) scale(0.6560,0.6288)"/></clipPath>
</defs>
<g clip-path="url(#kfR11)"><g filter="url(#fR11)"><use href="#geoLatM" transform="translate(197.20,150.00) scale(0.6560,0.6288)"/></g></g>
<use href="#vigLatM" transform="translate(197.20,150.00) scale(0.6560,0.6288)"/>
<defs>
<filter id="fR12" filterUnits="userSpaceOnUse" x="271.6" y="147.7" width="74.4" height="60.3" color-interpolation-filters="sRGB"><feGaussianBlur in="SourceAlpha" stdDeviation="0.922" result="h"/><feDiffuseLighting in="h" surfaceScale="4.055" diffuseConstant="1" lighting-color="#f8f8f8" result="lit"><feDistantLight azimuth="250" elevation="70"/></feDiffuseLighting><feColorMatrix in="h" type="matrix" values="0 0 0 0.7 0.08  0 0 0 0.7 0.08  0 0 0 0.7 0.08  0 0 0 0 1" result="hg"/><feComposite in="lit" in2="hg" operator="arithmetic" k1="0" k2="0.5" k3="0.5" k4="0.0" result="rel"/><feComponentTransfer in="h" result="mask"><feFuncA type="linear" slope="5" intercept="-0.3"/></feComponentTransfer><feComposite in="rel" in2="mask" operator="in"/></filter>
<clipPath id="kfR12"><use href="#outLatM" transform="translate(275.60,151.70) scale(0.6640,0.6538)"/></clipPath>
</defs>
<g clip-path="url(#kfR12)"><g filter="url(#fR12)"><use href="#geoLatM" transform="translate(275.60,151.70) scale(0.6640,0.6538)"/></g></g>
<use href="#vigLatM" transform="translate(275.60,151.70) scale(0.6640,0.6538)"/>
<defs>
<filter id="fR13" filterUnits="userSpaceOnUse" x="352.5" y="147.7" width="73.7" height="60.4" color-interpolation-filters="sRGB"><feGaussianBlur in="SourceAlpha" stdDeviation="0.918" result="h"/><feDiffuseLighting in="h" surfaceScale="4.037" diffuseConstant="1" lighting-color="#f8f8f8" result="lit"><feDistantLight azimuth="250" elevation="70"/></feDiffuseLighting><feColorMatrix in="h" type="matrix" values="0 0 0 0.7 0.08  0 0 0 0.7 0.08  0 0 0 0.7 0.08  0 0 0 0 1" result="hg"/><feComposite in="lit" in2="hg" operator="arithmetic" k1="0" k2="0.5" k3="0.5" k4="0.0" result="rel"/><feComponentTransfer in="h" result="mask"><feFuncA type="linear" slope="5" intercept="-0.3"/></feComponentTransfer><feComposite in="rel" in2="mask" operator="in"/></filter>
<clipPath id="kfR13"><use href="#outLatM" transform="translate(356.50,151.70) scale(0.6570,0.6550)"/></clipPath>
</defs>
<g clip-path="url(#kfR13)"><g filter="url(#fR13)"><use href="#geoLatM" transform="translate(356.50,151.70) scale(0.6570,0.6550)"/></g></g>
<use href="#vigLatM" transform="translate(356.50,151.70) scale(0.6570,0.6550)"/>
<defs>
<filter id="fR14" filterUnits="userSpaceOnUse" x="434.3" y="146.0" width="73.7" height="60.8" color-interpolation-filters="sRGB"><feGaussianBlur in="SourceAlpha" stdDeviation="0.922" result="h"/><feDiffuseLighting in="h" surfaceScale="4.052" diffuseConstant="1" lighting-color="#f8f8f8" result="lit"><feDistantLight azimuth="250" elevation="70"/></feDiffuseLighting><feColorMatrix in="h" type="matrix" values="0 0 0 0.7 0.08  0 0 0 0.7 0.08  0 0 0 0.7 0.08  0 0 0 0 1" result="hg"/><feComposite in="lit" in2="hg" operator="arithmetic" k1="0" k2="0.5" k3="0.5" k4="0.0" result="rel"/><feComponentTransfer in="h" result="mask"><feFuncA type="linear" slope="5" intercept="-0.3"/></feComponentTransfer><feComposite in="rel" in2="mask" operator="in"/></filter>
<clipPath id="kfR14"><use href="#outLatM" transform="translate(438.30,150.00) scale(0.6570,0.6600)"/></clipPath>
</defs>
<g clip-path="url(#kfR14)"><g filter="url(#fR14)"><use href="#geoLatM" transform="translate(438.30,150.00) scale(0.6570,0.6600)"/></g></g>
<use href="#vigLatM" transform="translate(438.30,150.00) scale(0.6570,0.6600)"/>
<defs>
<filter id="fR15" filterUnits="userSpaceOnUse" x="514.7" y="144.9" width="73.6" height="60.6" color-interpolation-filters="sRGB"><feGaussianBlur in="SourceAlpha" stdDeviation="0.919" result="h"/><feDiffuseLighting in="h" surfaceScale="4.042" diffuseConstant="1" lighting-color="#f8f8f8" result="lit"><feDistantLight azimuth="250" elevation="70"/></feDiffuseLighting><feColorMatrix in="h" type="matrix" values="0 0 0 0.7 0.08  0 0 0 0.7 0.08  0 0 0 0.7 0.08  0 0 0 0 1" result="hg"/><feComposite in="lit" in2="hg" operator="arithmetic" k1="0" k2="0.5" k3="0.5" k4="0.0" result="rel"/><feComponentTransfer in="h" result="mask"><feFuncA type="linear" slope="5" intercept="-0.3"/></feComponentTransfer><feComposite in="rel" in2="mask" operator="in"/></filter>
<clipPath id="kfR15"><use href="#outLatM" transform="translate(518.70,148.90) scale(0.6560,0.6575)"/></clipPath>
</defs>
<g clip-path="url(#kfR15)"><g filter="url(#fR15)"><use href="#geoLatM" transform="translate(518.70,148.90) scale(0.6560,0.6575)"/></g></g>
<use href="#vigLatM" transform="translate(518.70,148.90) scale(0.6560,0.6575)"/>
<defs>
<filter id="fR16" filterUnits="userSpaceOnUse" x="594.3" y="145.7" width="76.3" height="62.3" color-interpolation-filters="sRGB"><feGaussianBlur in="SourceAlpha" stdDeviation="0.953" result="h"/><feDiffuseLighting in="h" surfaceScale="4.190" diffuseConstant="1" lighting-color="#f8f8f8" result="lit"><feDistantLight azimuth="250" elevation="70"/></feDiffuseLighting><feColorMatrix in="h" type="matrix" values="0 0 0 0.7 0.08  0 0 0 0.7 0.08  0 0 0 0.7 0.08  0 0 0 0 1" result="hg"/><feComposite in="lit" in2="hg" operator="arithmetic" k1="0" k2="0.5" k3="0.5" k4="0.0" result="rel"/><feComponentTransfer in="h" result="mask"><feFuncA type="linear" slope="5" intercept="-0.3"/></feComponentTransfer><feComposite in="rel" in2="mask" operator="in"/></filter>
<clipPath id="kfR16"><use href="#outLatM" transform="translate(598.30,149.70) scale(0.6830,0.6788)"/></clipPath>
</defs>
<g clip-path="url(#kfR16)"><g filter="url(#fR16)"><use href="#geoLatM" transform="translate(598.30,149.70) scale(0.6830,0.6788)"/></g></g>
<use href="#vigLatM" transform="translate(598.30,149.70) scale(0.6830,0.6788)"/>
<g transform="translate(37.80,72.40) scale(0.6510,0.6287)" clip-path="url(#cLat)">
<path fill="#dc0000" d="M2.0 34.0h2.2v2.2h-2.2zM4.0 32.0h2.2v2.2h-2.2zM4.0 34.0h2.2v2.2h-2.2zM6.0 32.0h2.2v2.2h-2.2zM6.0 34.0h2.2v2.2h-2.2zM8.0 22.0h2.2v2.2h-2.2zM8.0 52.0h2.2v2.2h-2.2zM8.0 54.0h2.2v2.2h-2.2zM10.0 14.0h2.2v2.2h-2.2zM10.0 16.0h2.2v2.2h-2.2zM10.0 18.0h2.2v2.2h-2.2zM10.0 20.0h2.2v2.2h-2.2zM10.0 22.0h2.2v2.2h-2.2zM10.0 24.0h2.2v2.2h-2.2zM10.0 52.0h2.2v2.2h-2.2zM10.0 54.0h2.2v2.2h-2.2zM12.0 14.0h2.2v2.2h-2.2zM12.0 16.0h2.2v2.2h-2.2zM12.0 22.0h2.2v2.2h-2.2zM12.0 24.0h2.2v2.2h-2.2zM14.0 16.0h2.2v2.2h-2.2zM14.0 22.0h2.2v2.2h-2.2zM14.0 24.0h2.2v2.2h-2.2zM14.0 28.0h2.2v2.2h-2.2zM14.0 30.0h2.2v2.2h-2.2zM14.0 32.0h2.2v2.2h-2.2zM14.0 48.0h2.2v2.2h-2.2zM16.0 14.0h2.2v2.2h-2.2zM16.0 16.0h2.2v2.2h-2.2zM16.0 20.0h2.2v2.2h-2.2zM16.0 24.0h2.2v2.2h-2.2zM16.0 28.0h2.2v2.2h-2.2zM16.0 30.0h2.2v2.2h-2.2zM16.0 32.0h2.2v2.2h-2.2zM16.0 44.0h2.2v2.2h-2.2zM16.0 46.0h2.2v2.2h-2.2zM16.0 48.0h2.2v2.2h-2.2zM16.0 54.0h2.2v2.2h-2.2zM18.0 12.0h2.2v2.2h-2.2zM18.0 14.0h2.2v2.2h-2.2zM18.0 18.0h2.2v2.2h-2.2zM18.0 20.0h2.2v2.2h-2.2zM18.0 46.0h2.2v2.2h-2.2zM18.0 48.0h2.2v2.2h-2.2zM18.0 52.0h2.2v2.2h-2.2zM18.0 54.0h2.2v2.2h-2.2zM20.0 10.0h2.2v2.2h-2.2zM20.0 12.0h2.2v2.2h-2.2zM20.0 18.0h2.2v2.2h-2.2zM20.0 34.0h2.2v2.2h-2.2zM20.0 36.0h2.2v2.2h-2.2zM20.0 38.0h2.2v2.2h-2.2zM20.0 40.0h2.2v2.2h-2.2zM20.0 46.0h2.2v2.2h-2.2zM20.0 50.0h2.2v2.2h-2.2zM20.0 52.0h2.2v2.2h-2.2zM22.0 10.0h2.2v2.2h-2.2zM22.0 12.0h2.2v2.2h-2.2zM22.0 14.0h2.2v2.2h-2.2zM22.0 16.0h2.2v2.2h-2.2zM22.0 18.0h2.2v2.2h-2.2zM22.0 30.0h2.2v2.2h-2.2zM22.0 32.0h2.2v2.2h-2.2zM22.0 34.0h2.2v2.2h-2.2zM22.0 36.0h2.2v2.2h-2.2zM22.0 38.0h2.2v2.2h-2.2zM22.0 40.0h2.2v2.2h-2.2zM22.0 46.0h2.2v2.2h-2.2zM22.0 48.0h2.2v2.2h-2.2zM22.0 50.0h2.2v2.2h-2.2zM22.0 52.0h2.2v2.2h-2.2zM22.0 54.0h2.2v2.2h-2.2zM24.0 6.0h2.2v2.2h-2.2zM24.0 8.0h2.2v2.2h-2.2zM24.0 14.0h2.2v2.2h-2.2zM24.0 16.0h2.2v2.2h-2.2zM24.0 18.0h2.2v2.2h-2.2zM24.0 28.0h2.2v2.2h-2.2zM24.0 30.0h2.2v2.2h-2.2zM24.0 32.0h2.2v2.2h-2.2zM24.0 36.0h2.2v2.2h-2.2zM24.0 38.0h2.2v2.2h-2.2zM24.0 40.0h2.2v2.2h-2.2zM24.0 44.0h2.2v2.2h-2.2zM24.0 46.0h2.2v2.2h-2.2zM24.0 48.0h2.2v2.2h-2.2zM24.0 52.0h2.2v2.2h-2.2zM26.0 8.0h2.2v2.2h-2.2zM26.0 34.0h2.2v2.2h-2.2zM26.0 40.0h2.2v2.2h-2.2zM26.0 42.0h2.2v2.2h-2.2zM26.0 44.0h2.2v2.2h-2.2zM28.0 6.0h2.2v2.2h-2.2zM28.0 8.0h2.2v2.2h-2.2zM28.0 10.0h2.2v2.2h-2.2zM28.0 12.0h2.2v2.2h-2.2zM28.0 14.0h2.2v2.2h-2.2zM28.0 16.0h2.2v2.2h-2.2zM28.0 34.0h2.2v2.2h-2.2zM28.0 36.0h2.2v2.2h-2.2zM28.0 38.0h2.2v2.2h-2.2zM28.0 40.0h2.2v2.2h-2.2zM28.0 42.0h2.2v2.2h-2.2zM28.0 44.0h2.2v2.2h-2.2zM28.0 54.0h2.2v2.2h-2.2zM30.0 4.0h2.2v2.2h-2.2zM30.0 6.0h2.2v2.2h-2.2zM30.0 10.0h2.2v2.2h-2.2zM30.0 12.0h2.2v2.2h-2.2zM30.0 14.0h2.2v2.2h-2.2zM30.0 32.0h2.2v2.2h-2.2zM30.0 34.0h2.2v2.2h-2.2zM30.0 36.0h2.2v2.2h-2.2zM30.0 38.0h2.2v2.2h-2.2zM30.0 40.0h2.2v2.2h-2.2zM30.0 44.0h2.2v2.2h-2.2zM30.0 50.0h2.2v2.2h-2.2zM30.0 52.0h2.2v2.2h-2.2zM30.0 54.0h2.2v2.2h-2.2zM30.0 56.0h2.2v2.2h-2.2zM30.0 68.0h2.2v2.2h-2.2zM30.0 70.0h2.2v2.2h-2.2zM32.0 4.0h2.2v2.2h-2.2zM32.0 6.0h2.2v2.2h-2.2zM32.0 32.0h2.2v2.2h-2.2zM32.0 34.0h2.2v2.2h-2.2zM32.0 36.0h2.2v2.2h-2.2zM32.0 38.0h2.2v2.2h-2.2zM32.0 40.0h2.2v2.2h-2.2zM32.0 50.0h2.2v2.2h-2.2zM32.0 52.0h2.2v2.2h-2.2zM32.0 54.0h2.2v2.2h-2.2zM32.0 56.0h2.2v2.2h-2.2zM32.0 58.0h2.2v2.2h-2.2zM32.0 60.0h2.2v2.2h-2.2zM32.0 66.0h2.2v2.2h-2.2zM32.0 68.0h2.2v2.2h-2.2zM32.0 70.0h2.2v2.2h-2.2zM34.0 8.0h2.2v2.2h-2.2zM34.0 10.0h2.2v2.2h-2.2zM34.0 12.0h2.2v2.2h-2.2zM34.0 38.0h2.2v2.2h-2.2zM34.0 50.0h2.2v2.2h-2.2zM34.0 52.0h2.2v2.2h-2.2zM34.0 54.0h2.2v2.2h-2.2zM34.0 56.0h2.2v2.2h-2.2zM34.0 58.0h2.2v2.2h-2.2zM34.0 60.0h2.2v2.2h-2.2zM34.0 68.0h2.2v2.2h-2.2zM34.0 70.0h2.2v2.2h-2.2zM36.0 6.0h2.2v2.2h-2.2zM36.0 8.0h2.2v2.2h-2.2zM36.0 10.0h2.2v2.2h-2.2zM36.0 12.0h2.2v2.2h-2.2zM36.0 16.0h2.2v2.2h-2.2zM36.0 40.0h2.2v2.2h-2.2zM36.0 48.0h2.2v2.2h-2.2zM36.0 50.0h2.2v2.2h-2.2zM36.0 54.0h2.2v2.2h-2.2zM36.0 56.0h2.2v2.2h-2.2zM36.0 58.0h2.2v2.2h-2.2zM36.0 60.0h2.2v2.2h-2.2zM38.0 6.0h2.2v2.2h-2.2zM38.0 8.0h2.2v2.2h-2.2zM38.0 10.0h2.2v2.2h-2.2zM38.0 16.0h2.2v2.2h-2.2zM38.0 44.0h2.2v2.2h-2.2zM38.0 46.0h2.2v2.2h-2.2zM38.0 48.0h2.2v2.2h-2.2zM38.0 50.0h2.2v2.2h-2.2zM38.0 52.0h2.2v2.2h-2.2zM38.0 54.0h2.2v2.2h-2.2zM38.0 56.0h2.2v2.2h-2.2zM38.0 58.0h2.2v2.2h-2.2zM38.0 60.0h2.2v2.2h-2.2zM40.0 8.0h2.2v2.2h-2.2zM40.0 10.0h2.2v2.2h-2.2zM40.0 20.0h2.2v2.2h-2.2zM40.0 46.0h2.2v2.2h-2.2zM40.0 48.0h2.2v2.2h-2.2zM40.0 50.0h2.2v2.2h-2.2zM40.0 52.0h2.2v2.2h-2.2zM40.0 54.0h2.2v2.2h-2.2zM40.0 56.0h2.2v2.2h-2.2zM40.0 58.0h2.2v2.2h-2.2zM40.0 60.0h2.2v2.2h-2.2zM42.0 12.0h2.2v2.2h-2.2zM42.0 14.0h2.2v2.2h-2.2zM42.0 20.0h2.2v2.2h-2.2zM42.0 22.0h2.2v2.2h-2.2zM42.0 46.0h2.2v2.2h-2.2zM42.0 54.0h2.2v2.2h-2.2zM42.0 56.0h2.2v2.2h-2.2zM42.0 58.0h2.2v2.2h-2.2zM42.0 60.0h2.2v2.2h-2.2zM44.0 16.0h2.2v2.2h-2.2zM44.0 20.0h2.2v2.2h-2.2zM44.0 44.0h2.2v2.2h-2.2zM44.0 46.0h2.2v2.2h-2.2zM44.0 48.0h2.2v2.2h-2.2zM44.0 56.0h2.2v2.2h-2.2zM44.0 58.0h2.2v2.2h-2.2zM46.0 14.0h2.2v2.2h-2.2zM46.0 18.0h2.2v2.2h-2.2zM46.0 42.0h2.2v2.2h-2.2zM46.0 46.0h2.2v2.2h-2.2zM46.0 52.0h2.2v2.2h-2.2zM46.0 54.0h2.2v2.2h-2.2zM46.0 56.0h2.2v2.2h-2.2zM48.0 40.0h2.2v2.2h-2.2zM48.0 44.0h2.2v2.2h-2.2zM48.0 50.0h2.2v2.2h-2.2zM48.0 52.0h2.2v2.2h-2.2zM48.0 54.0h2.2v2.2h-2.2zM48.0 56.0h2.2v2.2h-2.2zM50.0 40.0h2.2v2.2h-2.2zM50.0 50.0h2.2v2.2h-2.2zM50.0 52.0h2.2v2.2h-2.2zM50.0 54.0h2.2v2.2h-2.2zM52.0 44.0h2.2v2.2h-2.2zM52.0 50.0h2.2v2.2h-2.2zM52.0 52.0h2.2v2.2h-2.2zM54.0 42.0h2.2v2.2h-2.2zM54.0 44.0h2.2v2.2h-2.2zM54.0 52.0h2.2v2.2h-2.2zM56.0 40.0h2.2v2.2h-2.2zM56.0 50.0h2.2v2.2h-2.2zM56.0 52.0h2.2v2.2h-2.2zM58.0 24.0h2.2v2.2h-2.2zM58.0 30.0h2.2v2.2h-2.2zM58.0 36.0h2.2v2.2h-2.2zM58.0 38.0h2.2v2.2h-2.2zM58.0 40.0h2.2v2.2h-2.2zM58.0 50.0h2.2v2.2h-2.2zM58.0 52.0h2.2v2.2h-2.2zM60.0 22.0h2.2v2.2h-2.2zM60.0 24.0h2.2v2.2h-2.2zM60.0 26.0h2.2v2.2h-2.2zM60.0 28.0h2.2v2.2h-2.2zM60.0 32.0h2.2v2.2h-2.2zM60.0 36.0h2.2v2.2h-2.2zM60.0 38.0h2.2v2.2h-2.2zM60.0 40.0h2.2v2.2h-2.2zM60.0 48.0h2.2v2.2h-2.2zM62.0 18.0h2.2v2.2h-2.2zM62.0 20.0h2.2v2.2h-2.2zM62.0 22.0h2.2v2.2h-2.2zM62.0 24.0h2.2v2.2h-2.2zM62.0 26.0h2.2v2.2h-2.2zM62.0 28.0h2.2v2.2h-2.2zM62.0 30.0h2.2v2.2h-2.2zM62.0 38.0h2.2v2.2h-2.2zM62.0 40.0h2.2v2.2h-2.2zM62.0 50.0h2.2v2.2h-2.2zM64.0 16.0h2.2v2.2h-2.2zM64.0 18.0h2.2v2.2h-2.2zM64.0 20.0h2.2v2.2h-2.2zM64.0 22.0h2.2v2.2h-2.2zM64.0 24.0h2.2v2.2h-2.2zM64.0 26.0h2.2v2.2h-2.2zM64.0 30.0h2.2v2.2h-2.2zM64.0 34.0h2.2v2.2h-2.2zM64.0 36.0h2.2v2.2h-2.2zM64.0 38.0h2.2v2.2h-2.2zM64.0 46.0h2.2v2.2h-2.2zM64.0 48.0h2.2v2.2h-2.2zM64.0 50.0h2.2v2.2h-2.2zM66.0 16.0h2.2v2.2h-2.2zM66.0 18.0h2.2v2.2h-2.2zM66.0 20.0h2.2v2.2h-2.2zM66.0 22.0h2.2v2.2h-2.2zM66.0 24.0h2.2v2.2h-2.2zM66.0 26.0h2.2v2.2h-2.2zM66.0 28.0h2.2v2.2h-2.2zM66.0 30.0h2.2v2.2h-2.2zM66.0 34.0h2.2v2.2h-2.2zM66.0 36.0h2.2v2.2h-2.2zM66.0 38.0h2.2v2.2h-2.2zM66.0 40.0h2.2v2.2h-2.2zM66.0 44.0h2.2v2.2h-2.2zM66.0 46.0h2.2v2.2h-2.2zM66.0 48.0h2.2v2.2h-2.2zM66.0 50.0h2.2v2.2h-2.2zM68.0 14.0h2.2v2.2h-2.2zM68.0 18.0h2.2v2.2h-2.2zM68.0 22.0h2.2v2.2h-2.2zM68.0 26.0h2.2v2.2h-2.2zM68.0 28.0h2.2v2.2h-2.2zM68.0 30.0h2.2v2.2h-2.2zM68.0 34.0h2.2v2.2h-2.2zM68.0 36.0h2.2v2.2h-2.2zM68.0 38.0h2.2v2.2h-2.2zM68.0 40.0h2.2v2.2h-2.2zM68.0 44.0h2.2v2.2h-2.2zM68.0 46.0h2.2v2.2h-2.2zM68.0 48.0h2.2v2.2h-2.2zM70.0 10.0h2.2v2.2h-2.2zM70.0 12.0h2.2v2.2h-2.2zM70.0 16.0h2.2v2.2h-2.2zM70.0 18.0h2.2v2.2h-2.2zM70.0 20.0h2.2v2.2h-2.2zM70.0 22.0h2.2v2.2h-2.2zM70.0 24.0h2.2v2.2h-2.2zM70.0 26.0h2.2v2.2h-2.2zM70.0 32.0h2.2v2.2h-2.2zM70.0 34.0h2.2v2.2h-2.2zM70.0 36.0h2.2v2.2h-2.2zM70.0 38.0h2.2v2.2h-2.2zM70.0 44.0h2.2v2.2h-2.2zM70.0 46.0h2.2v2.2h-2.2zM70.0 48.0h2.2v2.2h-2.2zM72.0 10.0h2.2v2.2h-2.2zM72.0 12.0h2.2v2.2h-2.2zM72.0 22.0h2.2v2.2h-2.2zM72.0 32.0h2.2v2.2h-2.2zM72.0 34.0h2.2v2.2h-2.2zM72.0 36.0h2.2v2.2h-2.2zM72.0 38.0h2.2v2.2h-2.2zM72.0 44.0h2.2v2.2h-2.2zM72.0 46.0h2.2v2.2h-2.2zM72.0 48.0h2.2v2.2h-2.2zM74.0 12.0h2.2v2.2h-2.2zM74.0 20.0h2.2v2.2h-2.2zM74.0 22.0h2.2v2.2h-2.2zM74.0 32.0h2.2v2.2h-2.2zM74.0 34.0h2.2v2.2h-2.2zM74.0 36.0h2.2v2.2h-2.2zM74.0 44.0h2.2v2.2h-2.2zM74.0 46.0h2.2v2.2h-2.2zM74.0 48.0h2.2v2.2h-2.2zM76.0 12.0h2.2v2.2h-2.2zM76.0 14.0h2.2v2.2h-2.2zM76.0 20.0h2.2v2.2h-2.2zM76.0 22.0h2.2v2.2h-2.2zM76.0 24.0h2.2v2.2h-2.2zM76.0 26.0h2.2v2.2h-2.2zM76.0 32.0h2.2v2.2h-2.2zM76.0 34.0h2.2v2.2h-2.2zM76.0 36.0h2.2v2.2h-2.2zM76.0 38.0h2.2v2.2h-2.2zM76.0 46.0h2.2v2.2h-2.2zM78.0 16.0h2.2v2.2h-2.2zM78.0 20.0h2.2v2.2h-2.2zM78.0 24.0h2.2v2.2h-2.2zM78.0 28.0h2.2v2.2h-2.2zM78.0 30.0h2.2v2.2h-2.2zM78.0 32.0h2.2v2.2h-2.2zM78.0 34.0h2.2v2.2h-2.2zM78.0 36.0h2.2v2.2h-2.2zM78.0 38.0h2.2v2.2h-2.2zM78.0 40.0h2.2v2.2h-2.2zM78.0 44.0h2.2v2.2h-2.2zM78.0 46.0h2.2v2.2h-2.2zM80.0 18.0h2.2v2.2h-2.2zM80.0 20.0h2.2v2.2h-2.2zM80.0 22.0h2.2v2.2h-2.2zM80.0 26.0h2.2v2.2h-2.2zM80.0 32.0h2.2v2.2h-2.2zM80.0 38.0h2.2v2.2h-2.2zM80.0 40.0h2.2v2.2h-2.2zM80.0 42.0h2.2v2.2h-2.2zM80.0 44.0h2.2v2.2h-2.2zM82.0 20.0h2.2v2.2h-2.2zM82.0 22.0h2.2v2.2h-2.2zM82.0 24.0h2.2v2.2h-2.2zM82.0 28.0h2.2v2.2h-2.2zM82.0 40.0h2.2v2.2h-2.2zM84.0 20.0h2.2v2.2h-2.2zM84.0 24.0h2.2v2.2h-2.2zM84.0 26.0h2.2v2.2h-2.2zM84.0 28.0h2.2v2.2h-2.2zM84.0 30.0h2.2v2.2h-2.2zM84.0 42.0h2.2v2.2h-2.2zM86.0 24.0h2.2v2.2h-2.2zM86.0 26.0h2.2v2.2h-2.2zM86.0 32.0h2.2v2.2h-2.2z"/>
<path fill="#ee2a00" d="M12.0 20.0h2.2v2.2h-2.2zM14.0 18.0h2.2v2.2h-2.2zM14.0 20.0h2.2v2.2h-2.2zM16.0 18.0h2.2v2.2h-2.2zM18.0 16.0h2.2v2.2h-2.2zM20.0 14.0h2.2v2.2h-2.2zM20.0 16.0h2.2v2.2h-2.2zM24.0 10.0h2.2v2.2h-2.2zM24.0 12.0h2.2v2.2h-2.2zM26.0 10.0h2.2v2.2h-2.2zM26.0 12.0h2.2v2.2h-2.2zM26.0 36.0h2.2v2.2h-2.2zM26.0 38.0h2.2v2.2h-2.2zM30.0 8.0h2.2v2.2h-2.2zM32.0 8.0h2.2v2.2h-2.2zM32.0 10.0h2.2v2.2h-2.2zM36.0 52.0h2.2v2.2h-2.2zM38.0 12.0h2.2v2.2h-2.2zM38.0 14.0h2.2v2.2h-2.2zM40.0 12.0h2.2v2.2h-2.2zM40.0 14.0h2.2v2.2h-2.2zM40.0 16.0h2.2v2.2h-2.2zM42.0 16.0h2.2v2.2h-2.2zM42.0 18.0h2.2v2.2h-2.2zM42.0 48.0h2.2v2.2h-2.2zM42.0 50.0h2.2v2.2h-2.2zM42.0 52.0h2.2v2.2h-2.2zM44.0 52.0h2.2v2.2h-2.2zM44.0 54.0h2.2v2.2h-2.2zM46.0 48.0h2.2v2.2h-2.2zM46.0 50.0h2.2v2.2h-2.2zM48.0 46.0h2.2v2.2h-2.2zM50.0 44.0h2.2v2.2h-2.2zM50.0 46.0h2.2v2.2h-2.2zM54.0 46.0h2.2v2.2h-2.2zM54.0 50.0h2.2v2.2h-2.2zM56.0 42.0h2.2v2.2h-2.2zM56.0 44.0h2.2v2.2h-2.2zM56.0 46.0h2.2v2.2h-2.2zM58.0 42.0h2.2v2.2h-2.2zM58.0 48.0h2.2v2.2h-2.2zM60.0 42.0h2.2v2.2h-2.2zM60.0 44.0h2.2v2.2h-2.2zM60.0 46.0h2.2v2.2h-2.2zM62.0 44.0h2.2v2.2h-2.2zM62.0 46.0h2.2v2.2h-2.2zM64.0 40.0h2.2v2.2h-2.2zM64.0 44.0h2.2v2.2h-2.2zM68.0 32.0h2.2v2.2h-2.2zM68.0 42.0h2.2v2.2h-2.2zM70.0 30.0h2.2v2.2h-2.2zM70.0 40.0h2.2v2.2h-2.2zM72.0 24.0h2.2v2.2h-2.2zM72.0 26.0h2.2v2.2h-2.2zM72.0 30.0h2.2v2.2h-2.2zM72.0 40.0h2.2v2.2h-2.2zM74.0 24.0h2.2v2.2h-2.2zM74.0 28.0h2.2v2.2h-2.2zM74.0 30.0h2.2v2.2h-2.2zM74.0 38.0h2.2v2.2h-2.2zM74.0 42.0h2.2v2.2h-2.2zM76.0 28.0h2.2v2.2h-2.2zM76.0 30.0h2.2v2.2h-2.2zM76.0 40.0h2.2v2.2h-2.2zM76.0 42.0h2.2v2.2h-2.2zM76.0 44.0h2.2v2.2h-2.2zM78.0 42.0h2.2v2.2h-2.2z"/>
<path fill="#fa6400" d="M44.0 50.0h2.2v2.2h-2.2zM48.0 48.0h2.2v2.2h-2.2zM50.0 48.0h2.2v2.2h-2.2zM52.0 46.0h2.2v2.2h-2.2zM52.0 48.0h2.2v2.2h-2.2zM54.0 48.0h2.2v2.2h-2.2zM56.0 48.0h2.2v2.2h-2.2zM58.0 44.0h2.2v2.2h-2.2zM58.0 46.0h2.2v2.2h-2.2zM62.0 42.0h2.2v2.2h-2.2zM64.0 42.0h2.2v2.2h-2.2zM66.0 42.0h2.2v2.2h-2.2zM70.0 28.0h2.2v2.2h-2.2zM70.0 42.0h2.2v2.2h-2.2zM72.0 28.0h2.2v2.2h-2.2zM72.0 42.0h2.2v2.2h-2.2zM74.0 26.0h2.2v2.2h-2.2zM74.0 40.0h2.2v2.2h-2.2z"/>
</g>
<g transform="translate(119.50,70.80) scale(0.6440,0.6275)" clip-path="url(#cLat)">
<path fill="#dc0000" d="M0.0 22.0h2.2v2.2h-2.2zM2.0 22.0h2.2v2.2h-2.2zM2.0 24.0h2.2v2.2h-2.2zM2.0 26.0h2.2v2.2h-2.2zM2.0 28.0h2.2v2.2h-2.2zM2.0 30.0h2.2v2.2h-2.2zM4.0 22.0h2.2v2.2h-2.2zM4.0 28.0h2.2v2.2h-2.2zM4.0 42.0h2.2v2.2h-2.2zM4.0 44.0h2.2v2.2h-2.2zM6.0 20.0h2.2v2.2h-2.2zM6.0 28.0h2.2v2.2h-2.2zM6.0 30.0h2.2v2.2h-2.2zM6.0 32.0h2.2v2.2h-2.2zM6.0 44.0h2.2v2.2h-2.2zM8.0 16.0h2.2v2.2h-2.2zM8.0 18.0h2.2v2.2h-2.2zM8.0 24.0h2.2v2.2h-2.2zM8.0 26.0h2.2v2.2h-2.2zM8.0 28.0h2.2v2.2h-2.2zM8.0 30.0h2.2v2.2h-2.2zM10.0 14.0h2.2v2.2h-2.2zM10.0 16.0h2.2v2.2h-2.2zM10.0 22.0h2.2v2.2h-2.2zM10.0 24.0h2.2v2.2h-2.2zM10.0 26.0h2.2v2.2h-2.2zM10.0 28.0h2.2v2.2h-2.2zM10.0 46.0h2.2v2.2h-2.2zM10.0 50.0h2.2v2.2h-2.2zM10.0 54.0h2.2v2.2h-2.2zM10.0 56.0h2.2v2.2h-2.2zM12.0 12.0h2.2v2.2h-2.2zM12.0 14.0h2.2v2.2h-2.2zM12.0 28.0h2.2v2.2h-2.2zM12.0 44.0h2.2v2.2h-2.2zM12.0 46.0h2.2v2.2h-2.2zM12.0 48.0h2.2v2.2h-2.2zM12.0 50.0h2.2v2.2h-2.2zM12.0 52.0h2.2v2.2h-2.2zM12.0 54.0h2.2v2.2h-2.2zM12.0 56.0h2.2v2.2h-2.2zM12.0 58.0h2.2v2.2h-2.2zM14.0 10.0h2.2v2.2h-2.2zM14.0 12.0h2.2v2.2h-2.2zM14.0 14.0h2.2v2.2h-2.2zM14.0 18.0h2.2v2.2h-2.2zM14.0 20.0h2.2v2.2h-2.2zM14.0 22.0h2.2v2.2h-2.2zM14.0 44.0h2.2v2.2h-2.2zM14.0 46.0h2.2v2.2h-2.2zM14.0 48.0h2.2v2.2h-2.2zM14.0 50.0h2.2v2.2h-2.2zM14.0 52.0h2.2v2.2h-2.2zM14.0 54.0h2.2v2.2h-2.2zM14.0 56.0h2.2v2.2h-2.2zM14.0 58.0h2.2v2.2h-2.2zM16.0 10.0h2.2v2.2h-2.2zM16.0 12.0h2.2v2.2h-2.2zM16.0 14.0h2.2v2.2h-2.2zM16.0 16.0h2.2v2.2h-2.2zM16.0 20.0h2.2v2.2h-2.2zM16.0 22.0h2.2v2.2h-2.2zM16.0 36.0h2.2v2.2h-2.2zM16.0 44.0h2.2v2.2h-2.2zM16.0 46.0h2.2v2.2h-2.2zM16.0 48.0h2.2v2.2h-2.2zM16.0 50.0h2.2v2.2h-2.2zM16.0 52.0h2.2v2.2h-2.2zM16.0 54.0h2.2v2.2h-2.2zM18.0 8.0h2.2v2.2h-2.2zM18.0 10.0h2.2v2.2h-2.2zM18.0 14.0h2.2v2.2h-2.2zM18.0 18.0h2.2v2.2h-2.2zM18.0 20.0h2.2v2.2h-2.2zM18.0 30.0h2.2v2.2h-2.2zM18.0 32.0h2.2v2.2h-2.2zM18.0 34.0h2.2v2.2h-2.2zM18.0 36.0h2.2v2.2h-2.2zM18.0 38.0h2.2v2.2h-2.2zM18.0 42.0h2.2v2.2h-2.2zM18.0 44.0h2.2v2.2h-2.2zM18.0 46.0h2.2v2.2h-2.2zM18.0 48.0h2.2v2.2h-2.2zM18.0 50.0h2.2v2.2h-2.2zM18.0 52.0h2.2v2.2h-2.2zM18.0 54.0h2.2v2.2h-2.2zM20.0 8.0h2.2v2.2h-2.2zM20.0 14.0h2.2v2.2h-2.2zM20.0 16.0h2.2v2.2h-2.2zM20.0 18.0h2.2v2.2h-2.2zM20.0 28.0h2.2v2.2h-2.2zM20.0 30.0h2.2v2.2h-2.2zM20.0 32.0h2.2v2.2h-2.2zM20.0 34.0h2.2v2.2h-2.2zM20.0 36.0h2.2v2.2h-2.2zM20.0 38.0h2.2v2.2h-2.2zM20.0 42.0h2.2v2.2h-2.2zM20.0 44.0h2.2v2.2h-2.2zM20.0 46.0h2.2v2.2h-2.2zM20.0 48.0h2.2v2.2h-2.2zM20.0 50.0h2.2v2.2h-2.2zM20.0 52.0h2.2v2.2h-2.2zM20.0 54.0h2.2v2.2h-2.2zM20.0 56.0h2.2v2.2h-2.2zM20.0 58.0h2.2v2.2h-2.2zM20.0 64.0h2.2v2.2h-2.2zM20.0 68.0h2.2v2.2h-2.2zM20.0 72.0h2.2v2.2h-2.2zM22.0 6.0h2.2v2.2h-2.2zM22.0 8.0h2.2v2.2h-2.2zM22.0 12.0h2.2v2.2h-2.2zM22.0 14.0h2.2v2.2h-2.2zM22.0 30.0h2.2v2.2h-2.2zM22.0 32.0h2.2v2.2h-2.2zM22.0 38.0h2.2v2.2h-2.2zM22.0 40.0h2.2v2.2h-2.2zM22.0 46.0h2.2v2.2h-2.2zM22.0 48.0h2.2v2.2h-2.2zM22.0 50.0h2.2v2.2h-2.2zM22.0 52.0h2.2v2.2h-2.2zM22.0 54.0h2.2v2.2h-2.2zM22.0 56.0h2.2v2.2h-2.2zM22.0 62.0h2.2v2.2h-2.2zM22.0 64.0h2.2v2.2h-2.2zM22.0 66.0h2.2v2.2h-2.2zM22.0 68.0h2.2v2.2h-2.2zM22.0 70.0h2.2v2.2h-2.2zM22.0 72.0h2.2v2.2h-2.2zM22.0 74.0h2.2v2.2h-2.2zM24.0 2.0h2.2v2.2h-2.2zM24.0 4.0h2.2v2.2h-2.2zM24.0 6.0h2.2v2.2h-2.2zM24.0 8.0h2.2v2.2h-2.2zM24.0 10.0h2.2v2.2h-2.2zM24.0 12.0h2.2v2.2h-2.2zM24.0 14.0h2.2v2.2h-2.2zM24.0 28.0h2.2v2.2h-2.2zM24.0 30.0h2.2v2.2h-2.2zM24.0 32.0h2.2v2.2h-2.2zM24.0 44.0h2.2v2.2h-2.2zM24.0 46.0h2.2v2.2h-2.2zM24.0 48.0h2.2v2.2h-2.2zM24.0 52.0h2.2v2.2h-2.2zM24.0 64.0h2.2v2.2h-2.2zM24.0 66.0h2.2v2.2h-2.2zM24.0 74.0h2.2v2.2h-2.2zM24.0 76.0h2.2v2.2h-2.2zM26.0 4.0h2.2v2.2h-2.2zM26.0 6.0h2.2v2.2h-2.2zM26.0 8.0h2.2v2.2h-2.2zM26.0 10.0h2.2v2.2h-2.2zM26.0 12.0h2.2v2.2h-2.2zM26.0 26.0h2.2v2.2h-2.2zM26.0 28.0h2.2v2.2h-2.2zM26.0 32.0h2.2v2.2h-2.2zM26.0 44.0h2.2v2.2h-2.2zM26.0 46.0h2.2v2.2h-2.2zM26.0 56.0h2.2v2.2h-2.2zM26.0 58.0h2.2v2.2h-2.2zM26.0 60.0h2.2v2.2h-2.2zM26.0 62.0h2.2v2.2h-2.2zM26.0 64.0h2.2v2.2h-2.2zM26.0 74.0h2.2v2.2h-2.2zM26.0 76.0h2.2v2.2h-2.2zM28.0 2.0h2.2v2.2h-2.2zM28.0 4.0h2.2v2.2h-2.2zM28.0 8.0h2.2v2.2h-2.2zM28.0 10.0h2.2v2.2h-2.2zM28.0 14.0h2.2v2.2h-2.2zM28.0 16.0h2.2v2.2h-2.2zM28.0 26.0h2.2v2.2h-2.2zM28.0 28.0h2.2v2.2h-2.2zM28.0 30.0h2.2v2.2h-2.2zM28.0 32.0h2.2v2.2h-2.2zM28.0 34.0h2.2v2.2h-2.2zM28.0 36.0h2.2v2.2h-2.2zM28.0 38.0h2.2v2.2h-2.2zM28.0 42.0h2.2v2.2h-2.2zM28.0 44.0h2.2v2.2h-2.2zM28.0 46.0h2.2v2.2h-2.2zM28.0 48.0h2.2v2.2h-2.2zM28.0 56.0h2.2v2.2h-2.2zM28.0 58.0h2.2v2.2h-2.2zM28.0 60.0h2.2v2.2h-2.2zM28.0 62.0h2.2v2.2h-2.2zM28.0 76.0h2.2v2.2h-2.2zM28.0 78.0h2.2v2.2h-2.2zM30.0 8.0h2.2v2.2h-2.2zM30.0 10.0h2.2v2.2h-2.2zM30.0 12.0h2.2v2.2h-2.2zM30.0 14.0h2.2v2.2h-2.2zM30.0 16.0h2.2v2.2h-2.2zM30.0 18.0h2.2v2.2h-2.2zM30.0 28.0h2.2v2.2h-2.2zM30.0 30.0h2.2v2.2h-2.2zM30.0 32.0h2.2v2.2h-2.2zM30.0 34.0h2.2v2.2h-2.2zM30.0 36.0h2.2v2.2h-2.2zM30.0 38.0h2.2v2.2h-2.2zM30.0 40.0h2.2v2.2h-2.2zM30.0 46.0h2.2v2.2h-2.2zM30.0 48.0h2.2v2.2h-2.2zM30.0 54.0h2.2v2.2h-2.2zM30.0 56.0h2.2v2.2h-2.2zM30.0 58.0h2.2v2.2h-2.2zM30.0 76.0h2.2v2.2h-2.2zM32.0 4.0h2.2v2.2h-2.2zM32.0 6.0h2.2v2.2h-2.2zM32.0 8.0h2.2v2.2h-2.2zM32.0 10.0h2.2v2.2h-2.2zM32.0 18.0h2.2v2.2h-2.2zM32.0 20.0h2.2v2.2h-2.2zM32.0 28.0h2.2v2.2h-2.2zM32.0 30.0h2.2v2.2h-2.2zM32.0 32.0h2.2v2.2h-2.2zM32.0 34.0h2.2v2.2h-2.2zM32.0 36.0h2.2v2.2h-2.2zM32.0 38.0h2.2v2.2h-2.2zM32.0 42.0h2.2v2.2h-2.2zM32.0 50.0h2.2v2.2h-2.2zM32.0 52.0h2.2v2.2h-2.2zM32.0 54.0h2.2v2.2h-2.2zM32.0 56.0h2.2v2.2h-2.2zM32.0 58.0h2.2v2.2h-2.2zM32.0 76.0h2.2v2.2h-2.2zM34.0 2.0h2.2v2.2h-2.2zM34.0 6.0h2.2v2.2h-2.2zM34.0 8.0h2.2v2.2h-2.2zM34.0 18.0h2.2v2.2h-2.2zM34.0 20.0h2.2v2.2h-2.2zM34.0 30.0h2.2v2.2h-2.2zM34.0 32.0h2.2v2.2h-2.2zM34.0 34.0h2.2v2.2h-2.2zM34.0 38.0h2.2v2.2h-2.2zM34.0 40.0h2.2v2.2h-2.2zM34.0 44.0h2.2v2.2h-2.2zM34.0 50.0h2.2v2.2h-2.2zM34.0 52.0h2.2v2.2h-2.2zM34.0 54.0h2.2v2.2h-2.2zM34.0 72.0h2.2v2.2h-2.2zM36.0 0.0h2.2v2.2h-2.2zM36.0 2.0h2.2v2.2h-2.2zM36.0 6.0h2.2v2.2h-2.2zM36.0 8.0h2.2v2.2h-2.2zM36.0 18.0h2.2v2.2h-2.2zM36.0 36.0h2.2v2.2h-2.2zM36.0 50.0h2.2v2.2h-2.2zM36.0 52.0h2.2v2.2h-2.2zM36.0 70.0h2.2v2.2h-2.2zM36.0 72.0h2.2v2.2h-2.2zM38.0 0.0h2.2v2.2h-2.2zM38.0 2.0h2.2v2.2h-2.2zM38.0 4.0h2.2v2.2h-2.2zM38.0 6.0h2.2v2.2h-2.2zM38.0 8.0h2.2v2.2h-2.2zM38.0 10.0h2.2v2.2h-2.2zM38.0 12.0h2.2v2.2h-2.2zM38.0 14.0h2.2v2.2h-2.2zM38.0 16.0h2.2v2.2h-2.2zM38.0 18.0h2.2v2.2h-2.2zM38.0 22.0h2.2v2.2h-2.2zM38.0 46.0h2.2v2.2h-2.2zM38.0 48.0h2.2v2.2h-2.2zM38.0 50.0h2.2v2.2h-2.2zM38.0 52.0h2.2v2.2h-2.2zM38.0 66.0h2.2v2.2h-2.2zM38.0 68.0h2.2v2.2h-2.2zM38.0 70.0h2.2v2.2h-2.2zM38.0 72.0h2.2v2.2h-2.2zM40.0 0.0h2.2v2.2h-2.2zM40.0 2.0h2.2v2.2h-2.2zM40.0 4.0h2.2v2.2h-2.2zM40.0 12.0h2.2v2.2h-2.2zM40.0 14.0h2.2v2.2h-2.2zM40.0 18.0h2.2v2.2h-2.2zM40.0 22.0h2.2v2.2h-2.2zM40.0 44.0h2.2v2.2h-2.2zM40.0 46.0h2.2v2.2h-2.2zM40.0 48.0h2.2v2.2h-2.2zM40.0 50.0h2.2v2.2h-2.2zM40.0 64.0h2.2v2.2h-2.2zM40.0 66.0h2.2v2.2h-2.2zM40.0 70.0h2.2v2.2h-2.2zM40.0 72.0h2.2v2.2h-2.2zM42.0 0.0h2.2v2.2h-2.2zM42.0 2.0h2.2v2.2h-2.2zM42.0 4.0h2.2v2.2h-2.2zM42.0 6.0h2.2v2.2h-2.2zM42.0 12.0h2.2v2.2h-2.2zM42.0 18.0h2.2v2.2h-2.2zM42.0 20.0h2.2v2.2h-2.2zM42.0 48.0h2.2v2.2h-2.2zM42.0 60.0h2.2v2.2h-2.2zM42.0 62.0h2.2v2.2h-2.2zM44.0 0.0h2.2v2.2h-2.2zM44.0 6.0h2.2v2.2h-2.2zM44.0 8.0h2.2v2.2h-2.2zM44.0 10.0h2.2v2.2h-2.2zM44.0 12.0h2.2v2.2h-2.2zM44.0 16.0h2.2v2.2h-2.2zM44.0 18.0h2.2v2.2h-2.2zM44.0 22.0h2.2v2.2h-2.2zM44.0 48.0h2.2v2.2h-2.2zM44.0 58.0h2.2v2.2h-2.2zM44.0 66.0h2.2v2.2h-2.2zM46.0 2.0h2.2v2.2h-2.2zM46.0 4.0h2.2v2.2h-2.2zM46.0 6.0h2.2v2.2h-2.2zM46.0 12.0h2.2v2.2h-2.2zM46.0 14.0h2.2v2.2h-2.2zM46.0 16.0h2.2v2.2h-2.2zM46.0 18.0h2.2v2.2h-2.2zM46.0 22.0h2.2v2.2h-2.2zM46.0 58.0h2.2v2.2h-2.2zM46.0 60.0h2.2v2.2h-2.2zM48.0 42.0h2.2v2.2h-2.2zM48.0 44.0h2.2v2.2h-2.2zM48.0 46.0h2.2v2.2h-2.2zM48.0 54.0h2.2v2.2h-2.2zM48.0 60.0h2.2v2.2h-2.2zM48.0 62.0h2.2v2.2h-2.2zM50.0 42.0h2.2v2.2h-2.2zM50.0 44.0h2.2v2.2h-2.2zM50.0 58.0h2.2v2.2h-2.2zM50.0 60.0h2.2v2.2h-2.2zM52.0 42.0h2.2v2.2h-2.2zM52.0 56.0h2.2v2.2h-2.2zM52.0 58.0h2.2v2.2h-2.2zM52.0 60.0h2.2v2.2h-2.2zM54.0 42.0h2.2v2.2h-2.2zM54.0 54.0h2.2v2.2h-2.2zM54.0 58.0h2.2v2.2h-2.2zM56.0 20.0h2.2v2.2h-2.2zM56.0 32.0h2.2v2.2h-2.2zM56.0 34.0h2.2v2.2h-2.2zM56.0 42.0h2.2v2.2h-2.2zM56.0 56.0h2.2v2.2h-2.2zM56.0 58.0h2.2v2.2h-2.2zM58.0 22.0h2.2v2.2h-2.2zM58.0 26.0h2.2v2.2h-2.2zM58.0 28.0h2.2v2.2h-2.2zM58.0 30.0h2.2v2.2h-2.2zM58.0 32.0h2.2v2.2h-2.2zM58.0 34.0h2.2v2.2h-2.2zM58.0 36.0h2.2v2.2h-2.2zM58.0 40.0h2.2v2.2h-2.2zM58.0 54.0h2.2v2.2h-2.2zM58.0 56.0h2.2v2.2h-2.2zM58.0 58.0h2.2v2.2h-2.2zM60.0 20.0h2.2v2.2h-2.2zM60.0 22.0h2.2v2.2h-2.2zM60.0 24.0h2.2v2.2h-2.2zM60.0 28.0h2.2v2.2h-2.2zM60.0 32.0h2.2v2.2h-2.2zM60.0 40.0h2.2v2.2h-2.2zM60.0 42.0h2.2v2.2h-2.2zM60.0 48.0h2.2v2.2h-2.2zM60.0 54.0h2.2v2.2h-2.2zM62.0 14.0h2.2v2.2h-2.2zM62.0 16.0h2.2v2.2h-2.2zM62.0 18.0h2.2v2.2h-2.2zM62.0 22.0h2.2v2.2h-2.2zM62.0 24.0h2.2v2.2h-2.2zM62.0 32.0h2.2v2.2h-2.2zM62.0 38.0h2.2v2.2h-2.2zM62.0 40.0h2.2v2.2h-2.2zM62.0 42.0h2.2v2.2h-2.2zM62.0 54.0h2.2v2.2h-2.2zM64.0 12.0h2.2v2.2h-2.2zM64.0 14.0h2.2v2.2h-2.2zM64.0 16.0h2.2v2.2h-2.2zM64.0 20.0h2.2v2.2h-2.2zM64.0 22.0h2.2v2.2h-2.2zM64.0 24.0h2.2v2.2h-2.2zM64.0 26.0h2.2v2.2h-2.2zM64.0 34.0h2.2v2.2h-2.2zM64.0 36.0h2.2v2.2h-2.2zM64.0 38.0h2.2v2.2h-2.2zM64.0 40.0h2.2v2.2h-2.2zM64.0 42.0h2.2v2.2h-2.2zM64.0 52.0h2.2v2.2h-2.2zM64.0 54.0h2.2v2.2h-2.2zM66.0 10.0h2.2v2.2h-2.2zM66.0 12.0h2.2v2.2h-2.2zM66.0 14.0h2.2v2.2h-2.2zM66.0 18.0h2.2v2.2h-2.2zM66.0 20.0h2.2v2.2h-2.2zM66.0 34.0h2.2v2.2h-2.2zM66.0 36.0h2.2v2.2h-2.2zM66.0 38.0h2.2v2.2h-2.2zM66.0 52.0h2.2v2.2h-2.2zM66.0 54.0h2.2v2.2h-2.2zM66.0 56.0h2.2v2.2h-2.2zM68.0 12.0h2.2v2.2h-2.2zM68.0 14.0h2.2v2.2h-2.2zM68.0 16.0h2.2v2.2h-2.2zM68.0 18.0h2.2v2.2h-2.2zM68.0 20.0h2.2v2.2h-2.2zM68.0 34.0h2.2v2.2h-2.2zM68.0 36.0h2.2v2.2h-2.2zM68.0 38.0h2.2v2.2h-2.2zM68.0 52.0h2.2v2.2h-2.2zM68.0 54.0h2.2v2.2h-2.2zM70.0 18.0h2.2v2.2h-2.2zM70.0 20.0h2.2v2.2h-2.2zM70.0 36.0h2.2v2.2h-2.2zM70.0 50.0h2.2v2.2h-2.2zM70.0 52.0h2.2v2.2h-2.2zM72.0 18.0h2.2v2.2h-2.2zM72.0 20.0h2.2v2.2h-2.2zM72.0 32.0h2.2v2.2h-2.2zM72.0 34.0h2.2v2.2h-2.2zM72.0 48.0h2.2v2.2h-2.2zM72.0 50.0h2.2v2.2h-2.2zM72.0 52.0h2.2v2.2h-2.2zM74.0 14.0h2.2v2.2h-2.2zM74.0 18.0h2.2v2.2h-2.2zM74.0 20.0h2.2v2.2h-2.2zM74.0 32.0h2.2v2.2h-2.2zM74.0 34.0h2.2v2.2h-2.2zM74.0 46.0h2.2v2.2h-2.2zM74.0 50.0h2.2v2.2h-2.2zM74.0 52.0h2.2v2.2h-2.2zM76.0 16.0h2.2v2.2h-2.2zM76.0 18.0h2.2v2.2h-2.2zM76.0 20.0h2.2v2.2h-2.2zM76.0 22.0h2.2v2.2h-2.2zM76.0 32.0h2.2v2.2h-2.2zM78.0 22.0h2.2v2.2h-2.2zM78.0 28.0h2.2v2.2h-2.2zM78.0 30.0h2.2v2.2h-2.2zM78.0 32.0h2.2v2.2h-2.2zM78.0 46.0h2.2v2.2h-2.2zM80.0 24.0h2.2v2.2h-2.2zM80.0 26.0h2.2v2.2h-2.2zM80.0 28.0h2.2v2.2h-2.2zM80.0 30.0h2.2v2.2h-2.2zM80.0 32.0h2.2v2.2h-2.2zM80.0 34.0h2.2v2.2h-2.2zM80.0 38.0h2.2v2.2h-2.2zM80.0 44.0h2.2v2.2h-2.2zM80.0 48.0h2.2v2.2h-2.2zM82.0 20.0h2.2v2.2h-2.2zM82.0 24.0h2.2v2.2h-2.2zM82.0 26.0h2.2v2.2h-2.2zM82.0 28.0h2.2v2.2h-2.2zM82.0 30.0h2.2v2.2h-2.2zM82.0 32.0h2.2v2.2h-2.2zM82.0 34.0h2.2v2.2h-2.2zM82.0 36.0h2.2v2.2h-2.2zM82.0 42.0h2.2v2.2h-2.2zM84.0 28.0h2.2v2.2h-2.2zM84.0 30.0h2.2v2.2h-2.2zM84.0 32.0h2.2v2.2h-2.2zM84.0 34.0h2.2v2.2h-2.2zM84.0 36.0h2.2v2.2h-2.2zM84.0 38.0h2.2v2.2h-2.2zM84.0 40.0h2.2v2.2h-2.2zM84.0 42.0h2.2v2.2h-2.2zM86.0 28.0h2.2v2.2h-2.2zM86.0 32.0h2.2v2.2h-2.2zM86.0 38.0h2.2v2.2h-2.2zM86.0 42.0h2.2v2.2h-2.2zM86.0 44.0h2.2v2.2h-2.2z"/>
<path fill="#ee2a00" d="M4.0 24.0h2.2v2.2h-2.2zM4.0 26.0h2.2v2.2h-2.2zM6.0 22.0h2.2v2.2h-2.2zM8.0 20.0h2.2v2.2h-2.2zM8.0 22.0h2.2v2.2h-2.2zM10.0 18.0h2.2v2.2h-2.2zM10.0 20.0h2.2v2.2h-2.2zM12.0 16.0h2.2v2.2h-2.2zM12.0 18.0h2.2v2.2h-2.2zM12.0 20.0h2.2v2.2h-2.2zM14.0 16.0h2.2v2.2h-2.2zM18.0 12.0h2.2v2.2h-2.2zM20.0 10.0h2.2v2.2h-2.2zM20.0 12.0h2.2v2.2h-2.2zM22.0 10.0h2.2v2.2h-2.2zM22.0 34.0h2.2v2.2h-2.2zM22.0 36.0h2.2v2.2h-2.2zM24.0 34.0h2.2v2.2h-2.2zM24.0 36.0h2.2v2.2h-2.2zM24.0 38.0h2.2v2.2h-2.2zM24.0 40.0h2.2v2.2h-2.2zM24.0 42.0h2.2v2.2h-2.2zM24.0 68.0h2.2v2.2h-2.2zM24.0 70.0h2.2v2.2h-2.2zM24.0 72.0h2.2v2.2h-2.2zM26.0 34.0h2.2v2.2h-2.2zM26.0 36.0h2.2v2.2h-2.2zM26.0 38.0h2.2v2.2h-2.2zM26.0 40.0h2.2v2.2h-2.2zM26.0 42.0h2.2v2.2h-2.2zM26.0 66.0h2.2v2.2h-2.2zM26.0 72.0h2.2v2.2h-2.2zM28.0 6.0h2.2v2.2h-2.2zM28.0 40.0h2.2v2.2h-2.2zM28.0 64.0h2.2v2.2h-2.2zM28.0 70.0h2.2v2.2h-2.2zM28.0 72.0h2.2v2.2h-2.2zM28.0 74.0h2.2v2.2h-2.2zM30.0 6.0h2.2v2.2h-2.2zM30.0 60.0h2.2v2.2h-2.2zM30.0 62.0h2.2v2.2h-2.2zM30.0 72.0h2.2v2.2h-2.2zM30.0 74.0h2.2v2.2h-2.2zM32.0 12.0h2.2v2.2h-2.2zM32.0 14.0h2.2v2.2h-2.2zM32.0 16.0h2.2v2.2h-2.2zM32.0 72.0h2.2v2.2h-2.2zM32.0 74.0h2.2v2.2h-2.2zM34.0 4.0h2.2v2.2h-2.2zM34.0 10.0h2.2v2.2h-2.2zM34.0 16.0h2.2v2.2h-2.2zM34.0 56.0h2.2v2.2h-2.2zM34.0 68.0h2.2v2.2h-2.2zM34.0 70.0h2.2v2.2h-2.2zM36.0 4.0h2.2v2.2h-2.2zM36.0 10.0h2.2v2.2h-2.2zM36.0 12.0h2.2v2.2h-2.2zM36.0 14.0h2.2v2.2h-2.2zM36.0 16.0h2.2v2.2h-2.2zM36.0 54.0h2.2v2.2h-2.2zM36.0 64.0h2.2v2.2h-2.2zM36.0 66.0h2.2v2.2h-2.2zM36.0 68.0h2.2v2.2h-2.2zM38.0 54.0h2.2v2.2h-2.2zM38.0 64.0h2.2v2.2h-2.2zM40.0 6.0h2.2v2.2h-2.2zM40.0 8.0h2.2v2.2h-2.2zM40.0 10.0h2.2v2.2h-2.2zM40.0 16.0h2.2v2.2h-2.2zM40.0 60.0h2.2v2.2h-2.2zM40.0 62.0h2.2v2.2h-2.2zM42.0 8.0h2.2v2.2h-2.2zM42.0 10.0h2.2v2.2h-2.2zM42.0 14.0h2.2v2.2h-2.2zM42.0 50.0h2.2v2.2h-2.2zM42.0 58.0h2.2v2.2h-2.2zM44.0 50.0h2.2v2.2h-2.2zM46.0 48.0h2.2v2.2h-2.2zM46.0 50.0h2.2v2.2h-2.2zM46.0 56.0h2.2v2.2h-2.2zM48.0 52.0h2.2v2.2h-2.2zM48.0 56.0h2.2v2.2h-2.2zM48.0 58.0h2.2v2.2h-2.2zM50.0 46.0h2.2v2.2h-2.2zM50.0 54.0h2.2v2.2h-2.2zM50.0 56.0h2.2v2.2h-2.2zM52.0 44.0h2.2v2.2h-2.2zM52.0 54.0h2.2v2.2h-2.2zM54.0 52.0h2.2v2.2h-2.2zM56.0 44.0h2.2v2.2h-2.2zM56.0 52.0h2.2v2.2h-2.2zM56.0 54.0h2.2v2.2h-2.2zM58.0 42.0h2.2v2.2h-2.2zM58.0 44.0h2.2v2.2h-2.2zM60.0 26.0h2.2v2.2h-2.2zM60.0 44.0h2.2v2.2h-2.2zM60.0 46.0h2.2v2.2h-2.2zM60.0 52.0h2.2v2.2h-2.2zM62.0 26.0h2.2v2.2h-2.2zM62.0 28.0h2.2v2.2h-2.2zM62.0 30.0h2.2v2.2h-2.2zM62.0 44.0h2.2v2.2h-2.2zM62.0 46.0h2.2v2.2h-2.2zM62.0 48.0h2.2v2.2h-2.2zM62.0 50.0h2.2v2.2h-2.2zM62.0 52.0h2.2v2.2h-2.2zM64.0 28.0h2.2v2.2h-2.2zM64.0 30.0h2.2v2.2h-2.2zM64.0 32.0h2.2v2.2h-2.2zM64.0 44.0h2.2v2.2h-2.2zM64.0 50.0h2.2v2.2h-2.2zM66.0 22.0h2.2v2.2h-2.2zM66.0 24.0h2.2v2.2h-2.2zM66.0 26.0h2.2v2.2h-2.2zM66.0 28.0h2.2v2.2h-2.2zM66.0 30.0h2.2v2.2h-2.2zM66.0 32.0h2.2v2.2h-2.2zM66.0 40.0h2.2v2.2h-2.2zM66.0 42.0h2.2v2.2h-2.2zM66.0 50.0h2.2v2.2h-2.2zM68.0 22.0h2.2v2.2h-2.2zM68.0 28.0h2.2v2.2h-2.2zM68.0 30.0h2.2v2.2h-2.2zM68.0 32.0h2.2v2.2h-2.2zM68.0 40.0h2.2v2.2h-2.2zM68.0 50.0h2.2v2.2h-2.2zM70.0 22.0h2.2v2.2h-2.2zM70.0 30.0h2.2v2.2h-2.2zM70.0 32.0h2.2v2.2h-2.2zM72.0 22.0h2.2v2.2h-2.2zM72.0 30.0h2.2v2.2h-2.2zM72.0 36.0h2.2v2.2h-2.2zM72.0 46.0h2.2v2.2h-2.2zM74.0 22.0h2.2v2.2h-2.2zM74.0 30.0h2.2v2.2h-2.2zM74.0 36.0h2.2v2.2h-2.2zM76.0 24.0h2.2v2.2h-2.2zM76.0 28.0h2.2v2.2h-2.2zM76.0 30.0h2.2v2.2h-2.2zM76.0 34.0h2.2v2.2h-2.2zM76.0 46.0h2.2v2.2h-2.2zM78.0 26.0h2.2v2.2h-2.2zM78.0 34.0h2.2v2.2h-2.2zM78.0 38.0h2.2v2.2h-2.2zM78.0 44.0h2.2v2.2h-2.2zM80.0 36.0h2.2v2.2h-2.2zM80.0 40.0h2.2v2.2h-2.2zM80.0 42.0h2.2v2.2h-2.2zM82.0 38.0h2.2v2.2h-2.2zM82.0 40.0h2.2v2.2h-2.2z"/>
<path fill="#fa6400" d="M6.0 24.0h2.2v2.2h-2.2zM6.0 26.0h2.2v2.2h-2.2zM26.0 68.0h2.2v2.2h-2.2zM26.0 70.0h2.2v2.2h-2.2zM28.0 66.0h2.2v2.2h-2.2zM30.0 64.0h2.2v2.2h-2.2zM30.0 70.0h2.2v2.2h-2.2zM32.0 64.0h2.2v2.2h-2.2zM32.0 66.0h2.2v2.2h-2.2zM32.0 68.0h2.2v2.2h-2.2zM32.0 70.0h2.2v2.2h-2.2zM34.0 12.0h2.2v2.2h-2.2zM34.0 14.0h2.2v2.2h-2.2zM34.0 58.0h2.2v2.2h-2.2zM34.0 64.0h2.2v2.2h-2.2zM34.0 66.0h2.2v2.2h-2.2zM36.0 56.0h2.2v2.2h-2.2zM38.0 62.0h2.2v2.2h-2.2zM40.0 52.0h2.2v2.2h-2.2zM42.0 16.0h2.2v2.2h-2.2zM44.0 56.0h2.2v2.2h-2.2zM46.0 52.0h2.2v2.2h-2.2zM48.0 50.0h2.2v2.2h-2.2zM50.0 48.0h2.2v2.2h-2.2zM52.0 46.0h2.2v2.2h-2.2zM52.0 52.0h2.2v2.2h-2.2zM54.0 44.0h2.2v2.2h-2.2zM54.0 50.0h2.2v2.2h-2.2zM56.0 46.0h2.2v2.2h-2.2zM56.0 50.0h2.2v2.2h-2.2zM58.0 46.0h2.2v2.2h-2.2zM58.0 50.0h2.2v2.2h-2.2zM58.0 52.0h2.2v2.2h-2.2zM60.0 50.0h2.2v2.2h-2.2zM64.0 46.0h2.2v2.2h-2.2zM66.0 44.0h2.2v2.2h-2.2zM66.0 46.0h2.2v2.2h-2.2zM68.0 24.0h2.2v2.2h-2.2zM68.0 26.0h2.2v2.2h-2.2zM68.0 42.0h2.2v2.2h-2.2zM70.0 24.0h2.2v2.2h-2.2zM70.0 28.0h2.2v2.2h-2.2zM70.0 38.0h2.2v2.2h-2.2zM70.0 48.0h2.2v2.2h-2.2zM72.0 24.0h2.2v2.2h-2.2zM72.0 28.0h2.2v2.2h-2.2zM72.0 38.0h2.2v2.2h-2.2zM74.0 24.0h2.2v2.2h-2.2zM74.0 28.0h2.2v2.2h-2.2zM74.0 38.0h2.2v2.2h-2.2zM74.0 44.0h2.2v2.2h-2.2zM76.0 26.0h2.2v2.2h-2.2zM76.0 36.0h2.2v2.2h-2.2zM76.0 38.0h2.2v2.2h-2.2zM76.0 44.0h2.2v2.2h-2.2zM78.0 36.0h2.2v2.2h-2.2zM78.0 40.0h2.2v2.2h-2.2zM78.0 42.0h2.2v2.2h-2.2z"/>
<path fill="#ff9c00" d="M28.0 68.0h2.2v2.2h-2.2zM30.0 66.0h2.2v2.2h-2.2zM30.0 68.0h2.2v2.2h-2.2zM32.0 60.0h2.2v2.2h-2.2zM36.0 62.0h2.2v2.2h-2.2zM38.0 56.0h2.2v2.2h-2.2zM40.0 54.0h2.2v2.2h-2.2zM40.0 58.0h2.2v2.2h-2.2zM42.0 52.0h2.2v2.2h-2.2zM42.0 56.0h2.2v2.2h-2.2zM44.0 52.0h2.2v2.2h-2.2zM46.0 54.0h2.2v2.2h-2.2zM48.0 48.0h2.2v2.2h-2.2zM50.0 50.0h2.2v2.2h-2.2zM50.0 52.0h2.2v2.2h-2.2zM52.0 48.0h2.2v2.2h-2.2zM54.0 46.0h2.2v2.2h-2.2zM54.0 48.0h2.2v2.2h-2.2zM56.0 48.0h2.2v2.2h-2.2zM58.0 48.0h2.2v2.2h-2.2zM64.0 48.0h2.2v2.2h-2.2zM66.0 48.0h2.2v2.2h-2.2zM68.0 44.0h2.2v2.2h-2.2zM68.0 46.0h2.2v2.2h-2.2zM68.0 48.0h2.2v2.2h-2.2zM70.0 26.0h2.2v2.2h-2.2zM70.0 40.0h2.2v2.2h-2.2zM70.0 46.0h2.2v2.2h-2.2zM72.0 26.0h2.2v2.2h-2.2zM72.0 40.0h2.2v2.2h-2.2zM72.0 44.0h2.2v2.2h-2.2zM74.0 26.0h2.2v2.2h-2.2zM76.0 40.0h2.2v2.2h-2.2zM76.0 42.0h2.2v2.2h-2.2z"/>
<path fill="#ffd000" d="M32.0 62.0h2.2v2.2h-2.2zM34.0 60.0h2.2v2.2h-2.2zM34.0 62.0h2.2v2.2h-2.2zM36.0 58.0h2.2v2.2h-2.2zM36.0 60.0h2.2v2.2h-2.2zM38.0 60.0h2.2v2.2h-2.2zM40.0 56.0h2.2v2.2h-2.2zM52.0 50.0h2.2v2.2h-2.2zM70.0 42.0h2.2v2.2h-2.2zM70.0 44.0h2.2v2.2h-2.2zM74.0 40.0h2.2v2.2h-2.2z"/>
<path fill="#fff000" d="M38.0 58.0h2.2v2.2h-2.2zM42.0 54.0h2.2v2.2h-2.2zM44.0 54.0h2.2v2.2h-2.2zM72.0 42.0h2.2v2.2h-2.2zM74.0 42.0h2.2v2.2h-2.2z"/>
</g>
<g transform="translate(199.00,72.90) scale(0.6500,0.6387)" clip-path="url(#cLat)">
<path fill="#dc0000" d="M0.0 24.0h2.2v2.2h-2.2zM0.0 26.0h2.2v2.2h-2.2zM0.0 28.0h2.2v2.2h-2.2zM2.0 20.0h2.2v2.2h-2.2zM2.0 24.0h2.2v2.2h-2.2zM2.0 26.0h2.2v2.2h-2.2zM2.0 28.0h2.2v2.2h-2.2zM2.0 30.0h2.2v2.2h-2.2zM2.0 32.0h2.2v2.2h-2.2zM4.0 20.0h2.2v2.2h-2.2zM4.0 22.0h2.2v2.2h-2.2zM4.0 24.0h2.2v2.2h-2.2zM4.0 26.0h2.2v2.2h-2.2zM4.0 28.0h2.2v2.2h-2.2zM4.0 30.0h2.2v2.2h-2.2zM4.0 32.0h2.2v2.2h-2.2zM4.0 34.0h2.2v2.2h-2.2zM6.0 16.0h2.2v2.2h-2.2zM6.0 18.0h2.2v2.2h-2.2zM6.0 20.0h2.2v2.2h-2.2zM6.0 22.0h2.2v2.2h-2.2zM6.0 24.0h2.2v2.2h-2.2zM6.0 26.0h2.2v2.2h-2.2zM6.0 28.0h2.2v2.2h-2.2zM6.0 30.0h2.2v2.2h-2.2zM6.0 32.0h2.2v2.2h-2.2zM6.0 36.0h2.2v2.2h-2.2zM8.0 16.0h2.2v2.2h-2.2zM8.0 18.0h2.2v2.2h-2.2zM8.0 20.0h2.2v2.2h-2.2zM8.0 28.0h2.2v2.2h-2.2zM8.0 30.0h2.2v2.2h-2.2zM8.0 32.0h2.2v2.2h-2.2zM8.0 34.0h2.2v2.2h-2.2zM8.0 36.0h2.2v2.2h-2.2zM10.0 10.0h2.2v2.2h-2.2zM10.0 12.0h2.2v2.2h-2.2zM10.0 14.0h2.2v2.2h-2.2zM10.0 16.0h2.2v2.2h-2.2zM10.0 18.0h2.2v2.2h-2.2zM10.0 20.0h2.2v2.2h-2.2zM10.0 26.0h2.2v2.2h-2.2zM10.0 28.0h2.2v2.2h-2.2zM10.0 30.0h2.2v2.2h-2.2zM10.0 34.0h2.2v2.2h-2.2zM10.0 50.0h2.2v2.2h-2.2zM12.0 10.0h2.2v2.2h-2.2zM12.0 12.0h2.2v2.2h-2.2zM12.0 20.0h2.2v2.2h-2.2zM12.0 24.0h2.2v2.2h-2.2zM12.0 26.0h2.2v2.2h-2.2zM12.0 30.0h2.2v2.2h-2.2zM12.0 32.0h2.2v2.2h-2.2zM12.0 44.0h2.2v2.2h-2.2zM12.0 46.0h2.2v2.2h-2.2zM12.0 48.0h2.2v2.2h-2.2zM12.0 50.0h2.2v2.2h-2.2zM12.0 52.0h2.2v2.2h-2.2zM12.0 54.0h2.2v2.2h-2.2zM14.0 8.0h2.2v2.2h-2.2zM14.0 10.0h2.2v2.2h-2.2zM14.0 20.0h2.2v2.2h-2.2zM14.0 22.0h2.2v2.2h-2.2zM14.0 24.0h2.2v2.2h-2.2zM14.0 32.0h2.2v2.2h-2.2zM14.0 34.0h2.2v2.2h-2.2zM14.0 36.0h2.2v2.2h-2.2zM14.0 44.0h2.2v2.2h-2.2zM14.0 46.0h2.2v2.2h-2.2zM14.0 48.0h2.2v2.2h-2.2zM14.0 50.0h2.2v2.2h-2.2zM14.0 52.0h2.2v2.2h-2.2zM14.0 54.0h2.2v2.2h-2.2zM16.0 6.0h2.2v2.2h-2.2zM16.0 8.0h2.2v2.2h-2.2zM16.0 12.0h2.2v2.2h-2.2zM16.0 20.0h2.2v2.2h-2.2zM16.0 22.0h2.2v2.2h-2.2zM16.0 32.0h2.2v2.2h-2.2zM16.0 34.0h2.2v2.2h-2.2zM16.0 36.0h2.2v2.2h-2.2zM16.0 38.0h2.2v2.2h-2.2zM16.0 42.0h2.2v2.2h-2.2zM16.0 44.0h2.2v2.2h-2.2zM16.0 46.0h2.2v2.2h-2.2zM16.0 48.0h2.2v2.2h-2.2zM16.0 50.0h2.2v2.2h-2.2zM16.0 52.0h2.2v2.2h-2.2zM16.0 54.0h2.2v2.2h-2.2zM16.0 56.0h2.2v2.2h-2.2zM18.0 6.0h2.2v2.2h-2.2zM18.0 8.0h2.2v2.2h-2.2zM18.0 10.0h2.2v2.2h-2.2zM18.0 16.0h2.2v2.2h-2.2zM18.0 18.0h2.2v2.2h-2.2zM18.0 20.0h2.2v2.2h-2.2zM18.0 22.0h2.2v2.2h-2.2zM18.0 34.0h2.2v2.2h-2.2zM18.0 36.0h2.2v2.2h-2.2zM18.0 38.0h2.2v2.2h-2.2zM18.0 40.0h2.2v2.2h-2.2zM18.0 42.0h2.2v2.2h-2.2zM18.0 44.0h2.2v2.2h-2.2zM18.0 46.0h2.2v2.2h-2.2zM18.0 48.0h2.2v2.2h-2.2zM18.0 50.0h2.2v2.2h-2.2zM18.0 52.0h2.2v2.2h-2.2zM18.0 54.0h2.2v2.2h-2.2zM18.0 56.0h2.2v2.2h-2.2zM18.0 72.0h2.2v2.2h-2.2zM20.0 2.0h2.2v2.2h-2.2zM20.0 6.0h2.2v2.2h-2.2zM20.0 8.0h2.2v2.2h-2.2zM20.0 10.0h2.2v2.2h-2.2zM20.0 14.0h2.2v2.2h-2.2zM20.0 16.0h2.2v2.2h-2.2zM20.0 18.0h2.2v2.2h-2.2zM20.0 32.0h2.2v2.2h-2.2zM20.0 34.0h2.2v2.2h-2.2zM20.0 36.0h2.2v2.2h-2.2zM20.0 38.0h2.2v2.2h-2.2zM20.0 40.0h2.2v2.2h-2.2zM20.0 42.0h2.2v2.2h-2.2zM20.0 44.0h2.2v2.2h-2.2zM20.0 46.0h2.2v2.2h-2.2zM20.0 48.0h2.2v2.2h-2.2zM20.0 50.0h2.2v2.2h-2.2zM20.0 52.0h2.2v2.2h-2.2zM20.0 54.0h2.2v2.2h-2.2zM20.0 56.0h2.2v2.2h-2.2zM20.0 58.0h2.2v2.2h-2.2zM20.0 68.0h2.2v2.2h-2.2zM20.0 70.0h2.2v2.2h-2.2zM20.0 72.0h2.2v2.2h-2.2zM22.0 4.0h2.2v2.2h-2.2zM22.0 12.0h2.2v2.2h-2.2zM22.0 14.0h2.2v2.2h-2.2zM22.0 16.0h2.2v2.2h-2.2zM22.0 18.0h2.2v2.2h-2.2zM22.0 26.0h2.2v2.2h-2.2zM22.0 28.0h2.2v2.2h-2.2zM22.0 30.0h2.2v2.2h-2.2zM22.0 32.0h2.2v2.2h-2.2zM22.0 36.0h2.2v2.2h-2.2zM22.0 38.0h2.2v2.2h-2.2zM22.0 42.0h2.2v2.2h-2.2zM22.0 44.0h2.2v2.2h-2.2zM22.0 46.0h2.2v2.2h-2.2zM22.0 48.0h2.2v2.2h-2.2zM22.0 50.0h2.2v2.2h-2.2zM22.0 52.0h2.2v2.2h-2.2zM22.0 54.0h2.2v2.2h-2.2zM22.0 56.0h2.2v2.2h-2.2zM22.0 58.0h2.2v2.2h-2.2zM22.0 68.0h2.2v2.2h-2.2zM22.0 70.0h2.2v2.2h-2.2zM22.0 72.0h2.2v2.2h-2.2zM22.0 74.0h2.2v2.2h-2.2zM22.0 76.0h2.2v2.2h-2.2zM24.0 4.0h2.2v2.2h-2.2zM24.0 6.0h2.2v2.2h-2.2zM24.0 12.0h2.2v2.2h-2.2zM24.0 14.0h2.2v2.2h-2.2zM24.0 16.0h2.2v2.2h-2.2zM24.0 26.0h2.2v2.2h-2.2zM24.0 28.0h2.2v2.2h-2.2zM24.0 30.0h2.2v2.2h-2.2zM24.0 32.0h2.2v2.2h-2.2zM24.0 44.0h2.2v2.2h-2.2zM24.0 46.0h2.2v2.2h-2.2zM24.0 48.0h2.2v2.2h-2.2zM24.0 50.0h2.2v2.2h-2.2zM24.0 52.0h2.2v2.2h-2.2zM24.0 54.0h2.2v2.2h-2.2zM24.0 56.0h2.2v2.2h-2.2zM24.0 58.0h2.2v2.2h-2.2zM24.0 60.0h2.2v2.2h-2.2zM24.0 64.0h2.2v2.2h-2.2zM24.0 66.0h2.2v2.2h-2.2zM24.0 68.0h2.2v2.2h-2.2zM24.0 70.0h2.2v2.2h-2.2zM24.0 72.0h2.2v2.2h-2.2zM24.0 74.0h2.2v2.2h-2.2zM24.0 76.0h2.2v2.2h-2.2zM24.0 78.0h2.2v2.2h-2.2zM24.0 80.0h2.2v2.2h-2.2zM26.0 6.0h2.2v2.2h-2.2zM26.0 10.0h2.2v2.2h-2.2zM26.0 12.0h2.2v2.2h-2.2zM26.0 26.0h2.2v2.2h-2.2zM26.0 28.0h2.2v2.2h-2.2zM26.0 30.0h2.2v2.2h-2.2zM26.0 44.0h2.2v2.2h-2.2zM26.0 46.0h2.2v2.2h-2.2zM26.0 48.0h2.2v2.2h-2.2zM26.0 50.0h2.2v2.2h-2.2zM26.0 54.0h2.2v2.2h-2.2zM26.0 56.0h2.2v2.2h-2.2zM26.0 58.0h2.2v2.2h-2.2zM26.0 60.0h2.2v2.2h-2.2zM26.0 70.0h2.2v2.2h-2.2zM26.0 78.0h2.2v2.2h-2.2zM26.0 80.0h2.2v2.2h-2.2zM28.0 2.0h2.2v2.2h-2.2zM28.0 4.0h2.2v2.2h-2.2zM28.0 6.0h2.2v2.2h-2.2zM28.0 8.0h2.2v2.2h-2.2zM28.0 10.0h2.2v2.2h-2.2zM28.0 26.0h2.2v2.2h-2.2zM28.0 28.0h2.2v2.2h-2.2zM28.0 30.0h2.2v2.2h-2.2zM28.0 38.0h2.2v2.2h-2.2zM28.0 40.0h2.2v2.2h-2.2zM28.0 44.0h2.2v2.2h-2.2zM28.0 46.0h2.2v2.2h-2.2zM28.0 56.0h2.2v2.2h-2.2zM28.0 58.0h2.2v2.2h-2.2zM28.0 60.0h2.2v2.2h-2.2zM28.0 62.0h2.2v2.2h-2.2zM28.0 76.0h2.2v2.2h-2.2zM28.0 78.0h2.2v2.2h-2.2zM28.0 80.0h2.2v2.2h-2.2zM30.0 0.0h2.2v2.2h-2.2zM30.0 2.0h2.2v2.2h-2.2zM30.0 8.0h2.2v2.2h-2.2zM30.0 10.0h2.2v2.2h-2.2zM30.0 12.0h2.2v2.2h-2.2zM30.0 14.0h2.2v2.2h-2.2zM30.0 16.0h2.2v2.2h-2.2zM30.0 18.0h2.2v2.2h-2.2zM30.0 20.0h2.2v2.2h-2.2zM30.0 26.0h2.2v2.2h-2.2zM30.0 28.0h2.2v2.2h-2.2zM30.0 30.0h2.2v2.2h-2.2zM30.0 32.0h2.2v2.2h-2.2zM30.0 38.0h2.2v2.2h-2.2zM30.0 40.0h2.2v2.2h-2.2zM30.0 42.0h2.2v2.2h-2.2zM30.0 44.0h2.2v2.2h-2.2zM30.0 46.0h2.2v2.2h-2.2zM30.0 54.0h2.2v2.2h-2.2zM30.0 56.0h2.2v2.2h-2.2zM30.0 58.0h2.2v2.2h-2.2zM30.0 60.0h2.2v2.2h-2.2zM30.0 76.0h2.2v2.2h-2.2zM30.0 78.0h2.2v2.2h-2.2zM30.0 80.0h2.2v2.2h-2.2zM32.0 0.0h2.2v2.2h-2.2zM32.0 2.0h2.2v2.2h-2.2zM32.0 4.0h2.2v2.2h-2.2zM32.0 12.0h2.2v2.2h-2.2zM32.0 18.0h2.2v2.2h-2.2zM32.0 28.0h2.2v2.2h-2.2zM32.0 30.0h2.2v2.2h-2.2zM32.0 32.0h2.2v2.2h-2.2zM32.0 34.0h2.2v2.2h-2.2zM32.0 36.0h2.2v2.2h-2.2zM32.0 38.0h2.2v2.2h-2.2zM32.0 40.0h2.2v2.2h-2.2zM32.0 42.0h2.2v2.2h-2.2zM32.0 46.0h2.2v2.2h-2.2zM32.0 52.0h2.2v2.2h-2.2zM32.0 54.0h2.2v2.2h-2.2zM32.0 56.0h2.2v2.2h-2.2zM32.0 58.0h2.2v2.2h-2.2zM32.0 74.0h2.2v2.2h-2.2zM32.0 78.0h2.2v2.2h-2.2zM32.0 80.0h2.2v2.2h-2.2zM34.0 0.0h2.2v2.2h-2.2zM34.0 2.0h2.2v2.2h-2.2zM34.0 4.0h2.2v2.2h-2.2zM34.0 8.0h2.2v2.2h-2.2zM34.0 18.0h2.2v2.2h-2.2zM34.0 28.0h2.2v2.2h-2.2zM34.0 30.0h2.2v2.2h-2.2zM34.0 32.0h2.2v2.2h-2.2zM34.0 34.0h2.2v2.2h-2.2zM34.0 36.0h2.2v2.2h-2.2zM34.0 38.0h2.2v2.2h-2.2zM34.0 40.0h2.2v2.2h-2.2zM34.0 50.0h2.2v2.2h-2.2zM34.0 52.0h2.2v2.2h-2.2zM34.0 54.0h2.2v2.2h-2.2zM34.0 74.0h2.2v2.2h-2.2zM34.0 76.0h2.2v2.2h-2.2zM34.0 78.0h2.2v2.2h-2.2zM36.0 0.0h2.2v2.2h-2.2zM36.0 2.0h2.2v2.2h-2.2zM36.0 6.0h2.2v2.2h-2.2zM36.0 8.0h2.2v2.2h-2.2zM36.0 18.0h2.2v2.2h-2.2zM36.0 20.0h2.2v2.2h-2.2zM36.0 32.0h2.2v2.2h-2.2zM36.0 34.0h2.2v2.2h-2.2zM36.0 36.0h2.2v2.2h-2.2zM36.0 38.0h2.2v2.2h-2.2zM36.0 40.0h2.2v2.2h-2.2zM36.0 48.0h2.2v2.2h-2.2zM36.0 50.0h2.2v2.2h-2.2zM36.0 52.0h2.2v2.2h-2.2zM36.0 68.0h2.2v2.2h-2.2zM36.0 72.0h2.2v2.2h-2.2zM36.0 76.0h2.2v2.2h-2.2zM36.0 80.0h2.2v2.2h-2.2zM38.0 0.0h2.2v2.2h-2.2zM38.0 2.0h2.2v2.2h-2.2zM38.0 4.0h2.2v2.2h-2.2zM38.0 6.0h2.2v2.2h-2.2zM38.0 8.0h2.2v2.2h-2.2zM38.0 12.0h2.2v2.2h-2.2zM38.0 14.0h2.2v2.2h-2.2zM38.0 16.0h2.2v2.2h-2.2zM38.0 18.0h2.2v2.2h-2.2zM38.0 48.0h2.2v2.2h-2.2zM38.0 72.0h2.2v2.2h-2.2zM38.0 74.0h2.2v2.2h-2.2zM38.0 76.0h2.2v2.2h-2.2zM40.0 0.0h2.2v2.2h-2.2zM40.0 2.0h2.2v2.2h-2.2zM40.0 14.0h2.2v2.2h-2.2zM40.0 16.0h2.2v2.2h-2.2zM40.0 18.0h2.2v2.2h-2.2zM40.0 20.0h2.2v2.2h-2.2zM40.0 44.0h2.2v2.2h-2.2zM40.0 48.0h2.2v2.2h-2.2zM40.0 68.0h2.2v2.2h-2.2zM40.0 70.0h2.2v2.2h-2.2zM42.0 0.0h2.2v2.2h-2.2zM42.0 2.0h2.2v2.2h-2.2zM42.0 4.0h2.2v2.2h-2.2zM42.0 6.0h2.2v2.2h-2.2zM42.0 8.0h2.2v2.2h-2.2zM42.0 10.0h2.2v2.2h-2.2zM42.0 12.0h2.2v2.2h-2.2zM42.0 20.0h2.2v2.2h-2.2zM42.0 22.0h2.2v2.2h-2.2zM42.0 44.0h2.2v2.2h-2.2zM42.0 46.0h2.2v2.2h-2.2zM42.0 64.0h2.2v2.2h-2.2zM42.0 66.0h2.2v2.2h-2.2zM42.0 68.0h2.2v2.2h-2.2zM42.0 70.0h2.2v2.2h-2.2zM44.0 2.0h2.2v2.2h-2.2zM44.0 4.0h2.2v2.2h-2.2zM44.0 6.0h2.2v2.2h-2.2zM44.0 8.0h2.2v2.2h-2.2zM44.0 10.0h2.2v2.2h-2.2zM44.0 12.0h2.2v2.2h-2.2zM44.0 14.0h2.2v2.2h-2.2zM44.0 18.0h2.2v2.2h-2.2zM44.0 20.0h2.2v2.2h-2.2zM44.0 44.0h2.2v2.2h-2.2zM44.0 46.0h2.2v2.2h-2.2zM44.0 64.0h2.2v2.2h-2.2zM44.0 68.0h2.2v2.2h-2.2zM46.0 6.0h2.2v2.2h-2.2zM46.0 8.0h2.2v2.2h-2.2zM46.0 10.0h2.2v2.2h-2.2zM46.0 12.0h2.2v2.2h-2.2zM46.0 14.0h2.2v2.2h-2.2zM46.0 16.0h2.2v2.2h-2.2zM46.0 18.0h2.2v2.2h-2.2zM46.0 46.0h2.2v2.2h-2.2zM46.0 62.0h2.2v2.2h-2.2zM46.0 64.0h2.2v2.2h-2.2zM46.0 66.0h2.2v2.2h-2.2zM48.0 12.0h2.2v2.2h-2.2zM48.0 14.0h2.2v2.2h-2.2zM48.0 16.0h2.2v2.2h-2.2zM48.0 18.0h2.2v2.2h-2.2zM48.0 20.0h2.2v2.2h-2.2zM48.0 40.0h2.2v2.2h-2.2zM48.0 42.0h2.2v2.2h-2.2zM48.0 44.0h2.2v2.2h-2.2zM48.0 46.0h2.2v2.2h-2.2zM48.0 48.0h2.2v2.2h-2.2zM48.0 60.0h2.2v2.2h-2.2zM50.0 20.0h2.2v2.2h-2.2zM50.0 40.0h2.2v2.2h-2.2zM50.0 42.0h2.2v2.2h-2.2zM50.0 44.0h2.2v2.2h-2.2zM50.0 46.0h2.2v2.2h-2.2zM50.0 54.0h2.2v2.2h-2.2zM50.0 60.0h2.2v2.2h-2.2zM50.0 62.0h2.2v2.2h-2.2zM52.0 40.0h2.2v2.2h-2.2zM52.0 44.0h2.2v2.2h-2.2zM52.0 46.0h2.2v2.2h-2.2zM52.0 60.0h2.2v2.2h-2.2zM54.0 40.0h2.2v2.2h-2.2zM54.0 42.0h2.2v2.2h-2.2zM54.0 44.0h2.2v2.2h-2.2zM54.0 60.0h2.2v2.2h-2.2zM56.0 18.0h2.2v2.2h-2.2zM56.0 24.0h2.2v2.2h-2.2zM56.0 26.0h2.2v2.2h-2.2zM56.0 30.0h2.2v2.2h-2.2zM56.0 40.0h2.2v2.2h-2.2zM56.0 42.0h2.2v2.2h-2.2zM56.0 44.0h2.2v2.2h-2.2zM56.0 56.0h2.2v2.2h-2.2zM56.0 58.0h2.2v2.2h-2.2zM56.0 60.0h2.2v2.2h-2.2zM58.0 18.0h2.2v2.2h-2.2zM58.0 20.0h2.2v2.2h-2.2zM58.0 22.0h2.2v2.2h-2.2zM58.0 24.0h2.2v2.2h-2.2zM58.0 26.0h2.2v2.2h-2.2zM58.0 28.0h2.2v2.2h-2.2zM58.0 30.0h2.2v2.2h-2.2zM58.0 32.0h2.2v2.2h-2.2zM58.0 40.0h2.2v2.2h-2.2zM58.0 42.0h2.2v2.2h-2.2zM58.0 44.0h2.2v2.2h-2.2zM58.0 54.0h2.2v2.2h-2.2zM58.0 56.0h2.2v2.2h-2.2zM60.0 14.0h2.2v2.2h-2.2zM60.0 20.0h2.2v2.2h-2.2zM60.0 22.0h2.2v2.2h-2.2zM60.0 24.0h2.2v2.2h-2.2zM60.0 26.0h2.2v2.2h-2.2zM60.0 28.0h2.2v2.2h-2.2zM60.0 30.0h2.2v2.2h-2.2zM60.0 32.0h2.2v2.2h-2.2zM60.0 38.0h2.2v2.2h-2.2zM60.0 40.0h2.2v2.2h-2.2zM60.0 42.0h2.2v2.2h-2.2zM60.0 56.0h2.2v2.2h-2.2zM60.0 58.0h2.2v2.2h-2.2zM62.0 14.0h2.2v2.2h-2.2zM62.0 18.0h2.2v2.2h-2.2zM62.0 20.0h2.2v2.2h-2.2zM62.0 22.0h2.2v2.2h-2.2zM62.0 24.0h2.2v2.2h-2.2zM62.0 26.0h2.2v2.2h-2.2zM62.0 30.0h2.2v2.2h-2.2zM62.0 32.0h2.2v2.2h-2.2zM62.0 34.0h2.2v2.2h-2.2zM62.0 38.0h2.2v2.2h-2.2zM62.0 40.0h2.2v2.2h-2.2zM62.0 56.0h2.2v2.2h-2.2zM62.0 58.0h2.2v2.2h-2.2zM64.0 14.0h2.2v2.2h-2.2zM64.0 16.0h2.2v2.2h-2.2zM64.0 18.0h2.2v2.2h-2.2zM64.0 28.0h2.2v2.2h-2.2zM64.0 30.0h2.2v2.2h-2.2zM64.0 32.0h2.2v2.2h-2.2zM64.0 38.0h2.2v2.2h-2.2zM64.0 54.0h2.2v2.2h-2.2zM64.0 56.0h2.2v2.2h-2.2zM64.0 58.0h2.2v2.2h-2.2zM66.0 12.0h2.2v2.2h-2.2zM66.0 14.0h2.2v2.2h-2.2zM66.0 16.0h2.2v2.2h-2.2zM66.0 18.0h2.2v2.2h-2.2zM66.0 20.0h2.2v2.2h-2.2zM66.0 22.0h2.2v2.2h-2.2zM66.0 24.0h2.2v2.2h-2.2zM66.0 26.0h2.2v2.2h-2.2zM66.0 32.0h2.2v2.2h-2.2zM66.0 34.0h2.2v2.2h-2.2zM66.0 36.0h2.2v2.2h-2.2zM66.0 38.0h2.2v2.2h-2.2zM66.0 52.0h2.2v2.2h-2.2zM66.0 54.0h2.2v2.2h-2.2zM66.0 56.0h2.2v2.2h-2.2zM68.0 10.0h2.2v2.2h-2.2zM68.0 12.0h2.2v2.2h-2.2zM68.0 14.0h2.2v2.2h-2.2zM68.0 16.0h2.2v2.2h-2.2zM68.0 22.0h2.2v2.2h-2.2zM68.0 24.0h2.2v2.2h-2.2zM68.0 32.0h2.2v2.2h-2.2zM68.0 34.0h2.2v2.2h-2.2zM68.0 36.0h2.2v2.2h-2.2zM68.0 50.0h2.2v2.2h-2.2zM68.0 52.0h2.2v2.2h-2.2zM68.0 54.0h2.2v2.2h-2.2zM70.0 18.0h2.2v2.2h-2.2zM70.0 20.0h2.2v2.2h-2.2zM70.0 34.0h2.2v2.2h-2.2zM70.0 36.0h2.2v2.2h-2.2zM70.0 48.0h2.2v2.2h-2.2zM70.0 50.0h2.2v2.2h-2.2zM72.0 12.0h2.2v2.2h-2.2zM72.0 14.0h2.2v2.2h-2.2zM72.0 16.0h2.2v2.2h-2.2zM72.0 18.0h2.2v2.2h-2.2zM72.0 20.0h2.2v2.2h-2.2zM72.0 34.0h2.2v2.2h-2.2zM72.0 48.0h2.2v2.2h-2.2zM72.0 50.0h2.2v2.2h-2.2zM74.0 12.0h2.2v2.2h-2.2zM74.0 14.0h2.2v2.2h-2.2zM74.0 16.0h2.2v2.2h-2.2zM74.0 18.0h2.2v2.2h-2.2zM74.0 22.0h2.2v2.2h-2.2zM74.0 30.0h2.2v2.2h-2.2zM74.0 32.0h2.2v2.2h-2.2zM74.0 44.0h2.2v2.2h-2.2zM74.0 46.0h2.2v2.2h-2.2zM74.0 50.0h2.2v2.2h-2.2zM76.0 12.0h2.2v2.2h-2.2zM76.0 14.0h2.2v2.2h-2.2zM76.0 16.0h2.2v2.2h-2.2zM76.0 18.0h2.2v2.2h-2.2zM76.0 20.0h2.2v2.2h-2.2zM76.0 22.0h2.2v2.2h-2.2zM76.0 24.0h2.2v2.2h-2.2zM76.0 26.0h2.2v2.2h-2.2zM76.0 32.0h2.2v2.2h-2.2zM76.0 34.0h2.2v2.2h-2.2zM76.0 44.0h2.2v2.2h-2.2zM76.0 46.0h2.2v2.2h-2.2zM76.0 48.0h2.2v2.2h-2.2zM76.0 50.0h2.2v2.2h-2.2zM78.0 12.0h2.2v2.2h-2.2zM78.0 14.0h2.2v2.2h-2.2zM78.0 18.0h2.2v2.2h-2.2zM78.0 20.0h2.2v2.2h-2.2zM78.0 22.0h2.2v2.2h-2.2zM78.0 24.0h2.2v2.2h-2.2zM78.0 26.0h2.2v2.2h-2.2zM78.0 30.0h2.2v2.2h-2.2zM78.0 34.0h2.2v2.2h-2.2zM78.0 46.0h2.2v2.2h-2.2zM78.0 48.0h2.2v2.2h-2.2zM78.0 50.0h2.2v2.2h-2.2zM80.0 14.0h2.2v2.2h-2.2zM80.0 20.0h2.2v2.2h-2.2zM80.0 28.0h2.2v2.2h-2.2zM80.0 30.0h2.2v2.2h-2.2zM80.0 32.0h2.2v2.2h-2.2zM80.0 46.0h2.2v2.2h-2.2zM80.0 48.0h2.2v2.2h-2.2zM80.0 50.0h2.2v2.2h-2.2zM82.0 14.0h2.2v2.2h-2.2zM82.0 16.0h2.2v2.2h-2.2zM82.0 18.0h2.2v2.2h-2.2zM82.0 20.0h2.2v2.2h-2.2zM82.0 22.0h2.2v2.2h-2.2zM82.0 24.0h2.2v2.2h-2.2zM82.0 26.0h2.2v2.2h-2.2zM82.0 28.0h2.2v2.2h-2.2zM82.0 30.0h2.2v2.2h-2.2zM82.0 32.0h2.2v2.2h-2.2zM82.0 34.0h2.2v2.2h-2.2zM82.0 42.0h2.2v2.2h-2.2zM82.0 46.0h2.2v2.2h-2.2zM82.0 48.0h2.2v2.2h-2.2zM84.0 18.0h2.2v2.2h-2.2zM84.0 20.0h2.2v2.2h-2.2zM84.0 22.0h2.2v2.2h-2.2zM84.0 24.0h2.2v2.2h-2.2zM84.0 26.0h2.2v2.2h-2.2zM84.0 28.0h2.2v2.2h-2.2zM84.0 30.0h2.2v2.2h-2.2zM84.0 32.0h2.2v2.2h-2.2zM84.0 36.0h2.2v2.2h-2.2zM84.0 40.0h2.2v2.2h-2.2zM84.0 44.0h2.2v2.2h-2.2zM84.0 48.0h2.2v2.2h-2.2zM86.0 18.0h2.2v2.2h-2.2zM86.0 20.0h2.2v2.2h-2.2zM86.0 22.0h2.2v2.2h-2.2zM86.0 24.0h2.2v2.2h-2.2zM86.0 26.0h2.2v2.2h-2.2zM86.0 38.0h2.2v2.2h-2.2zM86.0 42.0h2.2v2.2h-2.2zM88.0 24.0h2.2v2.2h-2.2zM88.0 26.0h2.2v2.2h-2.2zM88.0 28.0h2.2v2.2h-2.2zM88.0 42.0h2.2v2.2h-2.2z"/>
<path fill="#ee2a00" d="M8.0 22.0h2.2v2.2h-2.2zM8.0 24.0h2.2v2.2h-2.2zM8.0 26.0h2.2v2.2h-2.2zM10.0 24.0h2.2v2.2h-2.2zM12.0 14.0h2.2v2.2h-2.2zM12.0 16.0h2.2v2.2h-2.2zM12.0 18.0h2.2v2.2h-2.2zM12.0 22.0h2.2v2.2h-2.2zM14.0 12.0h2.2v2.2h-2.2zM14.0 14.0h2.2v2.2h-2.2zM14.0 18.0h2.2v2.2h-2.2zM16.0 10.0h2.2v2.2h-2.2zM16.0 14.0h2.2v2.2h-2.2zM16.0 16.0h2.2v2.2h-2.2zM16.0 18.0h2.2v2.2h-2.2zM18.0 12.0h2.2v2.2h-2.2zM18.0 14.0h2.2v2.2h-2.2zM20.0 12.0h2.2v2.2h-2.2zM22.0 6.0h2.2v2.2h-2.2zM22.0 8.0h2.2v2.2h-2.2zM22.0 10.0h2.2v2.2h-2.2zM22.0 34.0h2.2v2.2h-2.2zM24.0 8.0h2.2v2.2h-2.2zM24.0 10.0h2.2v2.2h-2.2zM24.0 34.0h2.2v2.2h-2.2zM24.0 36.0h2.2v2.2h-2.2zM24.0 38.0h2.2v2.2h-2.2zM24.0 40.0h2.2v2.2h-2.2zM24.0 42.0h2.2v2.2h-2.2zM26.0 8.0h2.2v2.2h-2.2zM26.0 32.0h2.2v2.2h-2.2zM26.0 34.0h2.2v2.2h-2.2zM26.0 36.0h2.2v2.2h-2.2zM26.0 40.0h2.2v2.2h-2.2zM26.0 42.0h2.2v2.2h-2.2zM26.0 64.0h2.2v2.2h-2.2zM26.0 66.0h2.2v2.2h-2.2zM26.0 68.0h2.2v2.2h-2.2zM26.0 72.0h2.2v2.2h-2.2zM26.0 74.0h2.2v2.2h-2.2zM26.0 76.0h2.2v2.2h-2.2zM28.0 32.0h2.2v2.2h-2.2zM28.0 34.0h2.2v2.2h-2.2zM28.0 36.0h2.2v2.2h-2.2zM28.0 42.0h2.2v2.2h-2.2zM28.0 64.0h2.2v2.2h-2.2zM28.0 74.0h2.2v2.2h-2.2zM30.0 4.0h2.2v2.2h-2.2zM30.0 6.0h2.2v2.2h-2.2zM30.0 34.0h2.2v2.2h-2.2zM30.0 36.0h2.2v2.2h-2.2zM30.0 62.0h2.2v2.2h-2.2zM30.0 74.0h2.2v2.2h-2.2zM32.0 8.0h2.2v2.2h-2.2zM32.0 10.0h2.2v2.2h-2.2zM32.0 14.0h2.2v2.2h-2.2zM32.0 16.0h2.2v2.2h-2.2zM32.0 60.0h2.2v2.2h-2.2zM32.0 68.0h2.2v2.2h-2.2zM32.0 72.0h2.2v2.2h-2.2zM32.0 76.0h2.2v2.2h-2.2zM34.0 6.0h2.2v2.2h-2.2zM34.0 16.0h2.2v2.2h-2.2zM34.0 56.0h2.2v2.2h-2.2zM34.0 66.0h2.2v2.2h-2.2zM34.0 68.0h2.2v2.2h-2.2zM34.0 72.0h2.2v2.2h-2.2zM36.0 4.0h2.2v2.2h-2.2zM36.0 10.0h2.2v2.2h-2.2zM36.0 16.0h2.2v2.2h-2.2zM36.0 54.0h2.2v2.2h-2.2zM36.0 66.0h2.2v2.2h-2.2zM36.0 70.0h2.2v2.2h-2.2zM38.0 10.0h2.2v2.2h-2.2zM38.0 50.0h2.2v2.2h-2.2zM38.0 58.0h2.2v2.2h-2.2zM38.0 60.0h2.2v2.2h-2.2zM38.0 62.0h2.2v2.2h-2.2zM38.0 66.0h2.2v2.2h-2.2zM38.0 68.0h2.2v2.2h-2.2zM40.0 4.0h2.2v2.2h-2.2zM40.0 6.0h2.2v2.2h-2.2zM40.0 8.0h2.2v2.2h-2.2zM40.0 10.0h2.2v2.2h-2.2zM40.0 12.0h2.2v2.2h-2.2zM40.0 50.0h2.2v2.2h-2.2zM40.0 64.0h2.2v2.2h-2.2zM40.0 66.0h2.2v2.2h-2.2zM42.0 14.0h2.2v2.2h-2.2zM42.0 18.0h2.2v2.2h-2.2zM42.0 48.0h2.2v2.2h-2.2zM44.0 16.0h2.2v2.2h-2.2zM44.0 48.0h2.2v2.2h-2.2zM44.0 62.0h2.2v2.2h-2.2zM46.0 48.0h2.2v2.2h-2.2zM46.0 60.0h2.2v2.2h-2.2zM48.0 54.0h2.2v2.2h-2.2zM50.0 48.0h2.2v2.2h-2.2zM50.0 56.0h2.2v2.2h-2.2zM50.0 58.0h2.2v2.2h-2.2zM52.0 54.0h2.2v2.2h-2.2zM52.0 56.0h2.2v2.2h-2.2zM52.0 58.0h2.2v2.2h-2.2zM54.0 46.0h2.2v2.2h-2.2zM54.0 58.0h2.2v2.2h-2.2zM56.0 46.0h2.2v2.2h-2.2zM56.0 54.0h2.2v2.2h-2.2zM58.0 46.0h2.2v2.2h-2.2zM60.0 44.0h2.2v2.2h-2.2zM60.0 52.0h2.2v2.2h-2.2zM60.0 54.0h2.2v2.2h-2.2zM62.0 28.0h2.2v2.2h-2.2zM62.0 42.0h2.2v2.2h-2.2zM62.0 44.0h2.2v2.2h-2.2zM62.0 50.0h2.2v2.2h-2.2zM62.0 52.0h2.2v2.2h-2.2zM62.0 54.0h2.2v2.2h-2.2zM64.0 22.0h2.2v2.2h-2.2zM64.0 24.0h2.2v2.2h-2.2zM64.0 26.0h2.2v2.2h-2.2zM64.0 40.0h2.2v2.2h-2.2zM64.0 44.0h2.2v2.2h-2.2zM64.0 46.0h2.2v2.2h-2.2zM64.0 48.0h2.2v2.2h-2.2zM64.0 52.0h2.2v2.2h-2.2zM66.0 28.0h2.2v2.2h-2.2zM66.0 30.0h2.2v2.2h-2.2zM66.0 46.0h2.2v2.2h-2.2zM66.0 48.0h2.2v2.2h-2.2zM66.0 50.0h2.2v2.2h-2.2zM68.0 20.0h2.2v2.2h-2.2zM68.0 26.0h2.2v2.2h-2.2zM68.0 30.0h2.2v2.2h-2.2zM68.0 38.0h2.2v2.2h-2.2zM68.0 46.0h2.2v2.2h-2.2zM68.0 48.0h2.2v2.2h-2.2zM70.0 22.0h2.2v2.2h-2.2zM70.0 42.0h2.2v2.2h-2.2zM70.0 46.0h2.2v2.2h-2.2zM72.0 22.0h2.2v2.2h-2.2zM72.0 30.0h2.2v2.2h-2.2zM72.0 32.0h2.2v2.2h-2.2zM72.0 36.0h2.2v2.2h-2.2zM72.0 44.0h2.2v2.2h-2.2zM72.0 46.0h2.2v2.2h-2.2zM74.0 20.0h2.2v2.2h-2.2zM74.0 24.0h2.2v2.2h-2.2zM74.0 26.0h2.2v2.2h-2.2zM74.0 28.0h2.2v2.2h-2.2zM74.0 34.0h2.2v2.2h-2.2zM74.0 48.0h2.2v2.2h-2.2zM76.0 28.0h2.2v2.2h-2.2zM76.0 30.0h2.2v2.2h-2.2zM76.0 36.0h2.2v2.2h-2.2zM78.0 28.0h2.2v2.2h-2.2zM78.0 36.0h2.2v2.2h-2.2zM80.0 22.0h2.2v2.2h-2.2zM80.0 24.0h2.2v2.2h-2.2zM80.0 26.0h2.2v2.2h-2.2zM80.0 34.0h2.2v2.2h-2.2zM80.0 42.0h2.2v2.2h-2.2zM82.0 36.0h2.2v2.2h-2.2zM82.0 40.0h2.2v2.2h-2.2zM84.0 38.0h2.2v2.2h-2.2z"/>
<path fill="#fa6400" d="M10.0 22.0h2.2v2.2h-2.2zM14.0 16.0h2.2v2.2h-2.2zM26.0 38.0h2.2v2.2h-2.2zM28.0 66.0h2.2v2.2h-2.2zM30.0 64.0h2.2v2.2h-2.2zM32.0 6.0h2.2v2.2h-2.2zM32.0 62.0h2.2v2.2h-2.2zM32.0 66.0h2.2v2.2h-2.2zM32.0 70.0h2.2v2.2h-2.2zM34.0 10.0h2.2v2.2h-2.2zM34.0 12.0h2.2v2.2h-2.2zM34.0 14.0h2.2v2.2h-2.2zM34.0 58.0h2.2v2.2h-2.2zM34.0 60.0h2.2v2.2h-2.2zM34.0 62.0h2.2v2.2h-2.2zM34.0 70.0h2.2v2.2h-2.2zM36.0 12.0h2.2v2.2h-2.2zM36.0 14.0h2.2v2.2h-2.2zM36.0 56.0h2.2v2.2h-2.2zM36.0 60.0h2.2v2.2h-2.2zM36.0 62.0h2.2v2.2h-2.2zM36.0 64.0h2.2v2.2h-2.2zM38.0 52.0h2.2v2.2h-2.2zM38.0 56.0h2.2v2.2h-2.2zM38.0 64.0h2.2v2.2h-2.2zM40.0 52.0h2.2v2.2h-2.2zM40.0 58.0h2.2v2.2h-2.2zM40.0 60.0h2.2v2.2h-2.2zM40.0 62.0h2.2v2.2h-2.2zM42.0 16.0h2.2v2.2h-2.2zM42.0 50.0h2.2v2.2h-2.2zM42.0 52.0h2.2v2.2h-2.2zM42.0 54.0h2.2v2.2h-2.2zM42.0 62.0h2.2v2.2h-2.2zM44.0 50.0h2.2v2.2h-2.2zM44.0 60.0h2.2v2.2h-2.2zM46.0 50.0h2.2v2.2h-2.2zM48.0 50.0h2.2v2.2h-2.2zM48.0 56.0h2.2v2.2h-2.2zM48.0 58.0h2.2v2.2h-2.2zM50.0 50.0h2.2v2.2h-2.2zM50.0 52.0h2.2v2.2h-2.2zM52.0 48.0h2.2v2.2h-2.2zM52.0 50.0h2.2v2.2h-2.2zM52.0 52.0h2.2v2.2h-2.2zM54.0 56.0h2.2v2.2h-2.2zM60.0 46.0h2.2v2.2h-2.2zM60.0 48.0h2.2v2.2h-2.2zM60.0 50.0h2.2v2.2h-2.2zM62.0 46.0h2.2v2.2h-2.2zM62.0 48.0h2.2v2.2h-2.2zM64.0 42.0h2.2v2.2h-2.2zM64.0 50.0h2.2v2.2h-2.2zM66.0 40.0h2.2v2.2h-2.2zM66.0 44.0h2.2v2.2h-2.2zM68.0 28.0h2.2v2.2h-2.2zM68.0 40.0h2.2v2.2h-2.2zM68.0 44.0h2.2v2.2h-2.2zM70.0 30.0h2.2v2.2h-2.2zM70.0 32.0h2.2v2.2h-2.2zM70.0 38.0h2.2v2.2h-2.2zM70.0 40.0h2.2v2.2h-2.2zM70.0 44.0h2.2v2.2h-2.2zM72.0 24.0h2.2v2.2h-2.2zM72.0 28.0h2.2v2.2h-2.2zM72.0 38.0h2.2v2.2h-2.2zM72.0 42.0h2.2v2.2h-2.2zM74.0 36.0h2.2v2.2h-2.2zM74.0 42.0h2.2v2.2h-2.2zM78.0 42.0h2.2v2.2h-2.2zM80.0 36.0h2.2v2.2h-2.2zM80.0 38.0h2.2v2.2h-2.2zM80.0 40.0h2.2v2.2h-2.2zM82.0 38.0h2.2v2.2h-2.2z"/>
<path fill="#ff9c00" d="M28.0 68.0h2.2v2.2h-2.2zM28.0 72.0h2.2v2.2h-2.2zM30.0 66.0h2.2v2.2h-2.2zM30.0 72.0h2.2v2.2h-2.2zM34.0 64.0h2.2v2.2h-2.2zM36.0 58.0h2.2v2.2h-2.2zM38.0 54.0h2.2v2.2h-2.2zM40.0 54.0h2.2v2.2h-2.2zM40.0 56.0h2.2v2.2h-2.2zM42.0 56.0h2.2v2.2h-2.2zM42.0 58.0h2.2v2.2h-2.2zM42.0 60.0h2.2v2.2h-2.2zM44.0 52.0h2.2v2.2h-2.2zM44.0 58.0h2.2v2.2h-2.2zM46.0 54.0h2.2v2.2h-2.2zM46.0 56.0h2.2v2.2h-2.2zM46.0 58.0h2.2v2.2h-2.2zM54.0 48.0h2.2v2.2h-2.2zM54.0 52.0h2.2v2.2h-2.2zM54.0 54.0h2.2v2.2h-2.2zM56.0 48.0h2.2v2.2h-2.2zM56.0 52.0h2.2v2.2h-2.2zM58.0 48.0h2.2v2.2h-2.2zM58.0 52.0h2.2v2.2h-2.2zM66.0 42.0h2.2v2.2h-2.2zM68.0 42.0h2.2v2.2h-2.2zM70.0 24.0h2.2v2.2h-2.2zM70.0 28.0h2.2v2.2h-2.2zM72.0 26.0h2.2v2.2h-2.2zM72.0 40.0h2.2v2.2h-2.2zM74.0 38.0h2.2v2.2h-2.2zM74.0 40.0h2.2v2.2h-2.2zM76.0 38.0h2.2v2.2h-2.2zM76.0 42.0h2.2v2.2h-2.2zM78.0 38.0h2.2v2.2h-2.2z"/>
<path fill="#ffd000" d="M28.0 70.0h2.2v2.2h-2.2zM30.0 68.0h2.2v2.2h-2.2zM44.0 54.0h2.2v2.2h-2.2zM44.0 56.0h2.2v2.2h-2.2zM46.0 52.0h2.2v2.2h-2.2zM48.0 52.0h2.2v2.2h-2.2zM54.0 50.0h2.2v2.2h-2.2zM56.0 50.0h2.2v2.2h-2.2zM58.0 50.0h2.2v2.2h-2.2zM70.0 26.0h2.2v2.2h-2.2zM76.0 40.0h2.2v2.2h-2.2zM78.0 40.0h2.2v2.2h-2.2z"/>
<path fill="#fff000" d="M30.0 70.0h2.2v2.2h-2.2zM32.0 64.0h2.2v2.2h-2.2z"/>
</g>
<g transform="translate(278.00,72.40) scale(0.6400,0.6287)" clip-path="url(#cLat)">
<path fill="#dc0000" d="M0.0 26.0h2.2v2.2h-2.2zM2.0 24.0h2.2v2.2h-2.2zM2.0 30.0h2.2v2.2h-2.2zM4.0 24.0h2.2v2.2h-2.2zM4.0 26.0h2.2v2.2h-2.2zM4.0 28.0h2.2v2.2h-2.2zM6.0 20.0h2.2v2.2h-2.2zM6.0 24.0h2.2v2.2h-2.2zM6.0 26.0h2.2v2.2h-2.2zM6.0 28.0h2.2v2.2h-2.2zM8.0 22.0h2.2v2.2h-2.2zM8.0 24.0h2.2v2.2h-2.2zM8.0 26.0h2.2v2.2h-2.2zM8.0 28.0h2.2v2.2h-2.2zM10.0 18.0h2.2v2.2h-2.2zM10.0 22.0h2.2v2.2h-2.2zM10.0 24.0h2.2v2.2h-2.2zM10.0 26.0h2.2v2.2h-2.2zM10.0 28.0h2.2v2.2h-2.2zM12.0 14.0h2.2v2.2h-2.2zM12.0 20.0h2.2v2.2h-2.2zM12.0 22.0h2.2v2.2h-2.2zM12.0 32.0h2.2v2.2h-2.2zM14.0 14.0h2.2v2.2h-2.2zM14.0 20.0h2.2v2.2h-2.2zM14.0 22.0h2.2v2.2h-2.2zM14.0 32.0h2.2v2.2h-2.2zM16.0 12.0h2.2v2.2h-2.2zM16.0 18.0h2.2v2.2h-2.2zM16.0 20.0h2.2v2.2h-2.2zM16.0 22.0h2.2v2.2h-2.2zM16.0 50.0h2.2v2.2h-2.2zM16.0 52.0h2.2v2.2h-2.2zM18.0 6.0h2.2v2.2h-2.2zM18.0 14.0h2.2v2.2h-2.2zM18.0 18.0h2.2v2.2h-2.2zM18.0 50.0h2.2v2.2h-2.2zM18.0 52.0h2.2v2.2h-2.2zM20.0 6.0h2.2v2.2h-2.2zM20.0 8.0h2.2v2.2h-2.2zM20.0 14.0h2.2v2.2h-2.2zM20.0 16.0h2.2v2.2h-2.2zM20.0 18.0h2.2v2.2h-2.2zM20.0 36.0h2.2v2.2h-2.2zM22.0 8.0h2.2v2.2h-2.2zM22.0 10.0h2.2v2.2h-2.2zM22.0 12.0h2.2v2.2h-2.2zM22.0 14.0h2.2v2.2h-2.2zM22.0 34.0h2.2v2.2h-2.2zM22.0 36.0h2.2v2.2h-2.2zM22.0 42.0h2.2v2.2h-2.2zM22.0 44.0h2.2v2.2h-2.2zM24.0 4.0h2.2v2.2h-2.2zM24.0 6.0h2.2v2.2h-2.2zM24.0 8.0h2.2v2.2h-2.2zM24.0 10.0h2.2v2.2h-2.2zM24.0 12.0h2.2v2.2h-2.2zM24.0 28.0h2.2v2.2h-2.2zM24.0 30.0h2.2v2.2h-2.2zM24.0 32.0h2.2v2.2h-2.2zM24.0 34.0h2.2v2.2h-2.2zM24.0 36.0h2.2v2.2h-2.2zM24.0 38.0h2.2v2.2h-2.2zM24.0 40.0h2.2v2.2h-2.2zM26.0 4.0h2.2v2.2h-2.2zM26.0 6.0h2.2v2.2h-2.2zM26.0 8.0h2.2v2.2h-2.2zM26.0 10.0h2.2v2.2h-2.2zM26.0 12.0h2.2v2.2h-2.2zM26.0 28.0h2.2v2.2h-2.2zM26.0 30.0h2.2v2.2h-2.2zM26.0 34.0h2.2v2.2h-2.2zM26.0 36.0h2.2v2.2h-2.2zM26.0 40.0h2.2v2.2h-2.2zM26.0 42.0h2.2v2.2h-2.2zM28.0 4.0h2.2v2.2h-2.2zM28.0 8.0h2.2v2.2h-2.2zM28.0 36.0h2.2v2.2h-2.2zM28.0 38.0h2.2v2.2h-2.2zM28.0 40.0h2.2v2.2h-2.2zM28.0 42.0h2.2v2.2h-2.2zM30.0 2.0h2.2v2.2h-2.2zM30.0 8.0h2.2v2.2h-2.2zM30.0 10.0h2.2v2.2h-2.2zM30.0 12.0h2.2v2.2h-2.2zM30.0 14.0h2.2v2.2h-2.2zM30.0 16.0h2.2v2.2h-2.2zM30.0 32.0h2.2v2.2h-2.2zM30.0 34.0h2.2v2.2h-2.2zM30.0 36.0h2.2v2.2h-2.2zM30.0 38.0h2.2v2.2h-2.2zM30.0 40.0h2.2v2.2h-2.2zM30.0 44.0h2.2v2.2h-2.2zM30.0 52.0h2.2v2.2h-2.2zM32.0 2.0h2.2v2.2h-2.2zM32.0 4.0h2.2v2.2h-2.2zM32.0 6.0h2.2v2.2h-2.2zM32.0 8.0h2.2v2.2h-2.2zM32.0 10.0h2.2v2.2h-2.2zM32.0 14.0h2.2v2.2h-2.2zM32.0 18.0h2.2v2.2h-2.2zM32.0 36.0h2.2v2.2h-2.2zM32.0 38.0h2.2v2.2h-2.2zM32.0 40.0h2.2v2.2h-2.2zM32.0 44.0h2.2v2.2h-2.2zM32.0 50.0h2.2v2.2h-2.2zM32.0 52.0h2.2v2.2h-2.2zM32.0 54.0h2.2v2.2h-2.2zM34.0 4.0h2.2v2.2h-2.2zM34.0 6.0h2.2v2.2h-2.2zM34.0 8.0h2.2v2.2h-2.2zM34.0 10.0h2.2v2.2h-2.2zM34.0 14.0h2.2v2.2h-2.2zM34.0 16.0h2.2v2.2h-2.2zM34.0 40.0h2.2v2.2h-2.2zM34.0 44.0h2.2v2.2h-2.2zM34.0 46.0h2.2v2.2h-2.2zM34.0 48.0h2.2v2.2h-2.2zM34.0 50.0h2.2v2.2h-2.2zM34.0 52.0h2.2v2.2h-2.2zM34.0 54.0h2.2v2.2h-2.2zM34.0 56.0h2.2v2.2h-2.2zM36.0 2.0h2.2v2.2h-2.2zM36.0 4.0h2.2v2.2h-2.2zM36.0 6.0h2.2v2.2h-2.2zM36.0 8.0h2.2v2.2h-2.2zM36.0 10.0h2.2v2.2h-2.2zM36.0 12.0h2.2v2.2h-2.2zM36.0 14.0h2.2v2.2h-2.2zM36.0 16.0h2.2v2.2h-2.2zM36.0 44.0h2.2v2.2h-2.2zM36.0 46.0h2.2v2.2h-2.2zM36.0 48.0h2.2v2.2h-2.2zM36.0 50.0h2.2v2.2h-2.2zM36.0 52.0h2.2v2.2h-2.2zM36.0 54.0h2.2v2.2h-2.2zM36.0 56.0h2.2v2.2h-2.2zM38.0 2.0h2.2v2.2h-2.2zM38.0 12.0h2.2v2.2h-2.2zM38.0 14.0h2.2v2.2h-2.2zM38.0 16.0h2.2v2.2h-2.2zM38.0 18.0h2.2v2.2h-2.2zM38.0 44.0h2.2v2.2h-2.2zM38.0 46.0h2.2v2.2h-2.2zM38.0 48.0h2.2v2.2h-2.2zM38.0 56.0h2.2v2.2h-2.2zM38.0 58.0h2.2v2.2h-2.2zM40.0 2.0h2.2v2.2h-2.2zM40.0 8.0h2.2v2.2h-2.2zM40.0 10.0h2.2v2.2h-2.2zM40.0 12.0h2.2v2.2h-2.2zM40.0 14.0h2.2v2.2h-2.2zM40.0 16.0h2.2v2.2h-2.2zM40.0 18.0h2.2v2.2h-2.2zM40.0 20.0h2.2v2.2h-2.2zM40.0 22.0h2.2v2.2h-2.2zM40.0 24.0h2.2v2.2h-2.2zM40.0 44.0h2.2v2.2h-2.2zM40.0 46.0h2.2v2.2h-2.2zM40.0 48.0h2.2v2.2h-2.2zM40.0 56.0h2.2v2.2h-2.2zM40.0 58.0h2.2v2.2h-2.2zM40.0 60.0h2.2v2.2h-2.2zM42.0 8.0h2.2v2.2h-2.2zM42.0 10.0h2.2v2.2h-2.2zM42.0 16.0h2.2v2.2h-2.2zM42.0 18.0h2.2v2.2h-2.2zM42.0 20.0h2.2v2.2h-2.2zM42.0 22.0h2.2v2.2h-2.2zM42.0 44.0h2.2v2.2h-2.2zM42.0 46.0h2.2v2.2h-2.2zM42.0 48.0h2.2v2.2h-2.2zM42.0 50.0h2.2v2.2h-2.2zM42.0 52.0h2.2v2.2h-2.2zM42.0 54.0h2.2v2.2h-2.2zM42.0 56.0h2.2v2.2h-2.2zM42.0 58.0h2.2v2.2h-2.2zM42.0 60.0h2.2v2.2h-2.2zM42.0 62.0h2.2v2.2h-2.2zM44.0 18.0h2.2v2.2h-2.2zM44.0 20.0h2.2v2.2h-2.2zM44.0 46.0h2.2v2.2h-2.2zM44.0 48.0h2.2v2.2h-2.2zM44.0 56.0h2.2v2.2h-2.2zM44.0 58.0h2.2v2.2h-2.2zM44.0 60.0h2.2v2.2h-2.2zM46.0 44.0h2.2v2.2h-2.2zM46.0 46.0h2.2v2.2h-2.2zM46.0 56.0h2.2v2.2h-2.2zM48.0 42.0h2.2v2.2h-2.2zM48.0 52.0h2.2v2.2h-2.2zM48.0 54.0h2.2v2.2h-2.2zM50.0 32.0h2.2v2.2h-2.2zM50.0 34.0h2.2v2.2h-2.2zM50.0 42.0h2.2v2.2h-2.2zM50.0 52.0h2.2v2.2h-2.2zM52.0 32.0h2.2v2.2h-2.2zM52.0 42.0h2.2v2.2h-2.2zM52.0 44.0h2.2v2.2h-2.2zM52.0 52.0h2.2v2.2h-2.2zM52.0 54.0h2.2v2.2h-2.2zM52.0 56.0h2.2v2.2h-2.2zM54.0 40.0h2.2v2.2h-2.2zM54.0 42.0h2.2v2.2h-2.2zM54.0 50.0h2.2v2.2h-2.2zM54.0 52.0h2.2v2.2h-2.2zM54.0 54.0h2.2v2.2h-2.2zM56.0 40.0h2.2v2.2h-2.2zM56.0 42.0h2.2v2.2h-2.2zM56.0 50.0h2.2v2.2h-2.2zM56.0 52.0h2.2v2.2h-2.2zM56.0 54.0h2.2v2.2h-2.2zM58.0 48.0h2.2v2.2h-2.2zM58.0 50.0h2.2v2.2h-2.2zM58.0 52.0h2.2v2.2h-2.2zM58.0 54.0h2.2v2.2h-2.2zM60.0 22.0h2.2v2.2h-2.2zM60.0 28.0h2.2v2.2h-2.2zM60.0 32.0h2.2v2.2h-2.2zM60.0 40.0h2.2v2.2h-2.2zM60.0 42.0h2.2v2.2h-2.2zM60.0 50.0h2.2v2.2h-2.2zM60.0 52.0h2.2v2.2h-2.2zM60.0 54.0h2.2v2.2h-2.2zM62.0 20.0h2.2v2.2h-2.2zM62.0 22.0h2.2v2.2h-2.2zM62.0 26.0h2.2v2.2h-2.2zM62.0 32.0h2.2v2.2h-2.2zM62.0 34.0h2.2v2.2h-2.2zM62.0 36.0h2.2v2.2h-2.2zM62.0 38.0h2.2v2.2h-2.2zM62.0 40.0h2.2v2.2h-2.2zM62.0 42.0h2.2v2.2h-2.2zM62.0 50.0h2.2v2.2h-2.2zM64.0 20.0h2.2v2.2h-2.2zM64.0 22.0h2.2v2.2h-2.2zM64.0 24.0h2.2v2.2h-2.2zM64.0 30.0h2.2v2.2h-2.2zM64.0 36.0h2.2v2.2h-2.2zM64.0 40.0h2.2v2.2h-2.2zM64.0 50.0h2.2v2.2h-2.2zM66.0 20.0h2.2v2.2h-2.2zM66.0 24.0h2.2v2.2h-2.2zM66.0 26.0h2.2v2.2h-2.2zM66.0 28.0h2.2v2.2h-2.2zM66.0 30.0h2.2v2.2h-2.2zM66.0 32.0h2.2v2.2h-2.2zM66.0 34.0h2.2v2.2h-2.2zM66.0 38.0h2.2v2.2h-2.2zM66.0 48.0h2.2v2.2h-2.2zM68.0 16.0h2.2v2.2h-2.2zM68.0 18.0h2.2v2.2h-2.2zM68.0 20.0h2.2v2.2h-2.2zM68.0 22.0h2.2v2.2h-2.2zM68.0 24.0h2.2v2.2h-2.2zM68.0 26.0h2.2v2.2h-2.2zM68.0 28.0h2.2v2.2h-2.2zM68.0 30.0h2.2v2.2h-2.2zM68.0 32.0h2.2v2.2h-2.2zM68.0 38.0h2.2v2.2h-2.2zM68.0 40.0h2.2v2.2h-2.2zM68.0 48.0h2.2v2.2h-2.2zM68.0 50.0h2.2v2.2h-2.2zM70.0 20.0h2.2v2.2h-2.2zM70.0 28.0h2.2v2.2h-2.2zM70.0 30.0h2.2v2.2h-2.2zM70.0 34.0h2.2v2.2h-2.2zM70.0 38.0h2.2v2.2h-2.2zM70.0 40.0h2.2v2.2h-2.2zM70.0 42.0h2.2v2.2h-2.2zM70.0 48.0h2.2v2.2h-2.2zM70.0 50.0h2.2v2.2h-2.2zM72.0 20.0h2.2v2.2h-2.2zM72.0 22.0h2.2v2.2h-2.2zM72.0 24.0h2.2v2.2h-2.2zM72.0 38.0h2.2v2.2h-2.2zM72.0 40.0h2.2v2.2h-2.2zM72.0 48.0h2.2v2.2h-2.2zM72.0 50.0h2.2v2.2h-2.2zM74.0 18.0h2.2v2.2h-2.2zM74.0 22.0h2.2v2.2h-2.2zM74.0 24.0h2.2v2.2h-2.2zM74.0 26.0h2.2v2.2h-2.2zM74.0 34.0h2.2v2.2h-2.2zM74.0 36.0h2.2v2.2h-2.2zM74.0 38.0h2.2v2.2h-2.2zM74.0 40.0h2.2v2.2h-2.2zM74.0 46.0h2.2v2.2h-2.2zM74.0 48.0h2.2v2.2h-2.2zM74.0 50.0h2.2v2.2h-2.2zM76.0 18.0h2.2v2.2h-2.2zM76.0 20.0h2.2v2.2h-2.2zM76.0 22.0h2.2v2.2h-2.2zM76.0 24.0h2.2v2.2h-2.2zM76.0 26.0h2.2v2.2h-2.2zM76.0 32.0h2.2v2.2h-2.2zM76.0 34.0h2.2v2.2h-2.2zM76.0 38.0h2.2v2.2h-2.2zM76.0 40.0h2.2v2.2h-2.2zM76.0 42.0h2.2v2.2h-2.2zM76.0 44.0h2.2v2.2h-2.2zM76.0 46.0h2.2v2.2h-2.2zM76.0 48.0h2.2v2.2h-2.2zM76.0 50.0h2.2v2.2h-2.2zM78.0 18.0h2.2v2.2h-2.2zM78.0 20.0h2.2v2.2h-2.2zM78.0 22.0h2.2v2.2h-2.2zM78.0 24.0h2.2v2.2h-2.2zM78.0 26.0h2.2v2.2h-2.2zM78.0 28.0h2.2v2.2h-2.2zM78.0 30.0h2.2v2.2h-2.2zM78.0 32.0h2.2v2.2h-2.2zM78.0 34.0h2.2v2.2h-2.2zM78.0 36.0h2.2v2.2h-2.2zM78.0 38.0h2.2v2.2h-2.2zM78.0 40.0h2.2v2.2h-2.2zM78.0 42.0h2.2v2.2h-2.2zM78.0 44.0h2.2v2.2h-2.2zM80.0 18.0h2.2v2.2h-2.2zM80.0 20.0h2.2v2.2h-2.2zM80.0 22.0h2.2v2.2h-2.2zM80.0 26.0h2.2v2.2h-2.2zM80.0 28.0h2.2v2.2h-2.2zM80.0 30.0h2.2v2.2h-2.2zM80.0 32.0h2.2v2.2h-2.2zM80.0 34.0h2.2v2.2h-2.2zM80.0 36.0h2.2v2.2h-2.2zM80.0 42.0h2.2v2.2h-2.2zM82.0 18.0h2.2v2.2h-2.2zM82.0 20.0h2.2v2.2h-2.2zM82.0 22.0h2.2v2.2h-2.2zM82.0 30.0h2.2v2.2h-2.2zM84.0 26.0h2.2v2.2h-2.2zM84.0 28.0h2.2v2.2h-2.2z"/>
<path fill="#ee2a00" d="M10.0 20.0h2.2v2.2h-2.2zM12.0 16.0h2.2v2.2h-2.2zM12.0 18.0h2.2v2.2h-2.2zM14.0 18.0h2.2v2.2h-2.2zM16.0 14.0h2.2v2.2h-2.2zM16.0 16.0h2.2v2.2h-2.2zM18.0 12.0h2.2v2.2h-2.2zM20.0 10.0h2.2v2.2h-2.2zM20.0 12.0h2.2v2.2h-2.2zM26.0 38.0h2.2v2.2h-2.2zM28.0 6.0h2.2v2.2h-2.2zM30.0 4.0h2.2v2.2h-2.2zM30.0 6.0h2.2v2.2h-2.2zM32.0 12.0h2.2v2.2h-2.2zM34.0 12.0h2.2v2.2h-2.2zM38.0 4.0h2.2v2.2h-2.2zM38.0 6.0h2.2v2.2h-2.2zM38.0 8.0h2.2v2.2h-2.2zM38.0 10.0h2.2v2.2h-2.2zM38.0 50.0h2.2v2.2h-2.2zM40.0 50.0h2.2v2.2h-2.2zM40.0 52.0h2.2v2.2h-2.2zM40.0 54.0h2.2v2.2h-2.2zM44.0 50.0h2.2v2.2h-2.2zM44.0 52.0h2.2v2.2h-2.2zM44.0 54.0h2.2v2.2h-2.2zM46.0 48.0h2.2v2.2h-2.2zM46.0 50.0h2.2v2.2h-2.2zM46.0 52.0h2.2v2.2h-2.2zM46.0 54.0h2.2v2.2h-2.2zM48.0 50.0h2.2v2.2h-2.2zM50.0 46.0h2.2v2.2h-2.2zM50.0 50.0h2.2v2.2h-2.2zM52.0 46.0h2.2v2.2h-2.2zM52.0 50.0h2.2v2.2h-2.2zM54.0 44.0h2.2v2.2h-2.2zM56.0 44.0h2.2v2.2h-2.2zM56.0 48.0h2.2v2.2h-2.2zM58.0 42.0h2.2v2.2h-2.2zM58.0 44.0h2.2v2.2h-2.2zM58.0 46.0h2.2v2.2h-2.2zM60.0 44.0h2.2v2.2h-2.2zM60.0 48.0h2.2v2.2h-2.2zM62.0 44.0h2.2v2.2h-2.2zM64.0 26.0h2.2v2.2h-2.2zM64.0 42.0h2.2v2.2h-2.2zM64.0 44.0h2.2v2.2h-2.2zM64.0 46.0h2.2v2.2h-2.2zM64.0 48.0h2.2v2.2h-2.2zM66.0 40.0h2.2v2.2h-2.2zM66.0 46.0h2.2v2.2h-2.2zM68.0 46.0h2.2v2.2h-2.2zM70.0 22.0h2.2v2.2h-2.2zM70.0 24.0h2.2v2.2h-2.2zM70.0 26.0h2.2v2.2h-2.2zM70.0 32.0h2.2v2.2h-2.2zM70.0 44.0h2.2v2.2h-2.2zM70.0 46.0h2.2v2.2h-2.2zM72.0 26.0h2.2v2.2h-2.2zM72.0 28.0h2.2v2.2h-2.2zM72.0 30.0h2.2v2.2h-2.2zM72.0 32.0h2.2v2.2h-2.2zM72.0 42.0h2.2v2.2h-2.2zM72.0 44.0h2.2v2.2h-2.2zM72.0 46.0h2.2v2.2h-2.2zM74.0 28.0h2.2v2.2h-2.2zM74.0 30.0h2.2v2.2h-2.2zM74.0 32.0h2.2v2.2h-2.2zM74.0 42.0h2.2v2.2h-2.2zM74.0 44.0h2.2v2.2h-2.2zM76.0 28.0h2.2v2.2h-2.2zM76.0 30.0h2.2v2.2h-2.2z"/>
<path fill="#fa6400" d="M14.0 16.0h2.2v2.2h-2.2zM38.0 54.0h2.2v2.2h-2.2zM48.0 46.0h2.2v2.2h-2.2zM50.0 48.0h2.2v2.2h-2.2zM52.0 48.0h2.2v2.2h-2.2zM54.0 46.0h2.2v2.2h-2.2zM54.0 48.0h2.2v2.2h-2.2zM56.0 46.0h2.2v2.2h-2.2zM60.0 46.0h2.2v2.2h-2.2zM62.0 46.0h2.2v2.2h-2.2zM62.0 48.0h2.2v2.2h-2.2zM66.0 42.0h2.2v2.2h-2.2zM66.0 44.0h2.2v2.2h-2.2zM68.0 42.0h2.2v2.2h-2.2z"/>
<path fill="#ff9c00" d="M38.0 52.0h2.2v2.2h-2.2zM48.0 48.0h2.2v2.2h-2.2zM68.0 44.0h2.2v2.2h-2.2z"/>
</g>
<g transform="translate(358.50,70.80) scale(0.6450,0.6462)" clip-path="url(#cLat)">
<path fill="#dc0000" d="M16.0 52.0h2.2v2.2h-2.2zM16.0 54.0h2.2v2.2h-2.2zM16.0 56.0h2.2v2.2h-2.2zM18.0 54.0h2.2v2.2h-2.2zM18.0 56.0h2.2v2.2h-2.2zM28.0 66.0h2.2v2.2h-2.2zM28.0 68.0h2.2v2.2h-2.2zM30.0 6.0h2.2v2.2h-2.2zM30.0 66.0h2.2v2.2h-2.2zM30.0 68.0h2.2v2.2h-2.2zM30.0 70.0h2.2v2.2h-2.2zM32.0 4.0h2.2v2.2h-2.2zM32.0 6.0h2.2v2.2h-2.2zM32.0 66.0h2.2v2.2h-2.2zM32.0 68.0h2.2v2.2h-2.2zM34.0 6.0h2.2v2.2h-2.2zM36.0 12.0h2.2v2.2h-2.2zM36.0 14.0h2.2v2.2h-2.2zM36.0 16.0h2.2v2.2h-2.2zM38.0 12.0h2.2v2.2h-2.2zM38.0 14.0h2.2v2.2h-2.2zM54.0 52.0h2.2v2.2h-2.2zM54.0 54.0h2.2v2.2h-2.2zM56.0 48.0h2.2v2.2h-2.2zM56.0 50.0h2.2v2.2h-2.2zM56.0 52.0h2.2v2.2h-2.2zM56.0 54.0h2.2v2.2h-2.2zM58.0 48.0h2.2v2.2h-2.2zM58.0 50.0h2.2v2.2h-2.2zM58.0 52.0h2.2v2.2h-2.2zM60.0 48.0h2.2v2.2h-2.2zM60.0 50.0h2.2v2.2h-2.2zM60.0 52.0h2.2v2.2h-2.2zM62.0 46.0h2.2v2.2h-2.2zM62.0 48.0h2.2v2.2h-2.2zM62.0 50.0h2.2v2.2h-2.2zM64.0 46.0h2.2v2.2h-2.2zM64.0 48.0h2.2v2.2h-2.2zM64.0 50.0h2.2v2.2h-2.2zM64.0 52.0h2.2v2.2h-2.2zM66.0 48.0h2.2v2.2h-2.2zM66.0 50.0h2.2v2.2h-2.2zM68.0 22.0h2.2v2.2h-2.2zM68.0 24.0h2.2v2.2h-2.2zM68.0 48.0h2.2v2.2h-2.2zM70.0 20.0h2.2v2.2h-2.2zM70.0 22.0h2.2v2.2h-2.2zM70.0 24.0h2.2v2.2h-2.2zM70.0 26.0h2.2v2.2h-2.2zM70.0 28.0h2.2v2.2h-2.2zM70.0 52.0h2.2v2.2h-2.2zM72.0 20.0h2.2v2.2h-2.2zM72.0 22.0h2.2v2.2h-2.2zM72.0 24.0h2.2v2.2h-2.2zM72.0 26.0h2.2v2.2h-2.2zM72.0 28.0h2.2v2.2h-2.2zM72.0 52.0h2.2v2.2h-2.2zM74.0 20.0h2.2v2.2h-2.2zM74.0 22.0h2.2v2.2h-2.2zM74.0 24.0h2.2v2.2h-2.2zM74.0 26.0h2.2v2.2h-2.2zM74.0 28.0h2.2v2.2h-2.2zM76.0 22.0h2.2v2.2h-2.2zM76.0 24.0h2.2v2.2h-2.2zM76.0 26.0h2.2v2.2h-2.2zM80.0 18.0h2.2v2.2h-2.2zM80.0 20.0h2.2v2.2h-2.2zM82.0 18.0h2.2v2.2h-2.2zM82.0 20.0h2.2v2.2h-2.2zM82.0 22.0h2.2v2.2h-2.2z"/>
</g>
<g transform="translate(439.50,70.80) scale(0.6440,0.6400)" clip-path="url(#cLat)">
<path fill="#dc0000" d="M14.0 16.0h2.2v2.2h-2.2zM16.0 16.0h2.2v2.2h-2.2zM18.0 50.0h2.2v2.2h-2.2zM18.0 52.0h2.2v2.2h-2.2zM20.0 50.0h2.2v2.2h-2.2zM24.0 12.0h2.2v2.2h-2.2zM26.0 10.0h2.2v2.2h-2.2zM26.0 12.0h2.2v2.2h-2.2zM26.0 14.0h2.2v2.2h-2.2zM28.0 10.0h2.2v2.2h-2.2zM28.0 12.0h2.2v2.2h-2.2zM28.0 14.0h2.2v2.2h-2.2zM30.0 32.0h2.2v2.2h-2.2zM30.0 34.0h2.2v2.2h-2.2zM30.0 36.0h2.2v2.2h-2.2zM30.0 68.0h2.2v2.2h-2.2zM32.0 4.0h2.2v2.2h-2.2zM32.0 32.0h2.2v2.2h-2.2zM32.0 34.0h2.2v2.2h-2.2zM32.0 68.0h2.2v2.2h-2.2zM34.0 4.0h2.2v2.2h-2.2zM34.0 6.0h2.2v2.2h-2.2zM40.0 50.0h2.2v2.2h-2.2zM40.0 52.0h2.2v2.2h-2.2zM42.0 50.0h2.2v2.2h-2.2zM42.0 52.0h2.2v2.2h-2.2zM58.0 48.0h2.2v2.2h-2.2zM58.0 50.0h2.2v2.2h-2.2zM60.0 48.0h2.2v2.2h-2.2zM60.0 50.0h2.2v2.2h-2.2zM62.0 48.0h2.2v2.2h-2.2zM66.0 42.0h2.2v2.2h-2.2zM68.0 14.0h2.2v2.2h-2.2zM68.0 42.0h2.2v2.2h-2.2zM70.0 18.0h2.2v2.2h-2.2zM70.0 20.0h2.2v2.2h-2.2zM70.0 24.0h2.2v2.2h-2.2zM70.0 26.0h2.2v2.2h-2.2zM72.0 18.0h2.2v2.2h-2.2zM72.0 22.0h2.2v2.2h-2.2zM72.0 24.0h2.2v2.2h-2.2zM72.0 26.0h2.2v2.2h-2.2zM72.0 28.0h2.2v2.2h-2.2zM74.0 22.0h2.2v2.2h-2.2zM74.0 24.0h2.2v2.2h-2.2zM74.0 26.0h2.2v2.2h-2.2zM76.0 30.0h2.2v2.2h-2.2z"/>
</g>
<g transform="translate(519.50,71.30) scale(0.6430,0.6338)" clip-path="url(#cLat)">
<path fill="#dc0000" d="M14.0 14.0h2.2v2.2h-2.2zM14.0 16.0h2.2v2.2h-2.2zM16.0 14.0h2.2v2.2h-2.2zM16.0 16.0h2.2v2.2h-2.2zM30.0 28.0h2.2v2.2h-2.2zM32.0 2.0h2.2v2.2h-2.2zM32.0 36.0h2.2v2.2h-2.2zM32.0 38.0h2.2v2.2h-2.2zM34.0 2.0h2.2v2.2h-2.2zM34.0 16.0h2.2v2.2h-2.2zM34.0 18.0h2.2v2.2h-2.2zM36.0 14.0h2.2v2.2h-2.2zM36.0 16.0h2.2v2.2h-2.2zM36.0 18.0h2.2v2.2h-2.2zM38.0 16.0h2.2v2.2h-2.2zM44.0 40.0h2.2v2.2h-2.2zM46.0 38.0h2.2v2.2h-2.2zM46.0 40.0h2.2v2.2h-2.2zM48.0 44.0h2.2v2.2h-2.2zM50.0 42.0h2.2v2.2h-2.2zM50.0 44.0h2.2v2.2h-2.2zM52.0 44.0h2.2v2.2h-2.2zM58.0 48.0h2.2v2.2h-2.2zM60.0 46.0h2.2v2.2h-2.2zM60.0 48.0h2.2v2.2h-2.2zM62.0 48.0h2.2v2.2h-2.2zM70.0 22.0h2.2v2.2h-2.2zM70.0 24.0h2.2v2.2h-2.2zM70.0 26.0h2.2v2.2h-2.2zM72.0 18.0h2.2v2.2h-2.2zM72.0 20.0h2.2v2.2h-2.2zM72.0 22.0h2.2v2.2h-2.2zM72.0 24.0h2.2v2.2h-2.2zM72.0 26.0h2.2v2.2h-2.2zM72.0 28.0h2.2v2.2h-2.2zM74.0 18.0h2.2v2.2h-2.2zM74.0 20.0h2.2v2.2h-2.2zM74.0 22.0h2.2v2.2h-2.2zM74.0 24.0h2.2v2.2h-2.2zM74.0 26.0h2.2v2.2h-2.2zM74.0 28.0h2.2v2.2h-2.2zM76.0 22.0h2.2v2.2h-2.2zM76.0 24.0h2.2v2.2h-2.2z"/>
</g>
<g transform="translate(601.00,71.30) scale(0.6690,0.6438)" clip-path="url(#cLat)">
<path fill="#dc0000" d="M10.0 18.0h2.2v2.2h-2.2zM10.0 20.0h2.2v2.2h-2.2zM16.0 44.0h2.2v2.2h-2.2zM18.0 44.0h2.2v2.2h-2.2zM24.0 42.0h2.2v2.2h-2.2zM24.0 44.0h2.2v2.2h-2.2zM28.0 4.0h2.2v2.2h-2.2zM28.0 64.0h2.2v2.2h-2.2zM28.0 66.0h2.2v2.2h-2.2zM30.0 4.0h2.2v2.2h-2.2zM30.0 64.0h2.2v2.2h-2.2zM30.0 66.0h2.2v2.2h-2.2zM32.0 4.0h2.2v2.2h-2.2zM32.0 6.0h2.2v2.2h-2.2zM32.0 34.0h2.2v2.2h-2.2zM32.0 36.0h2.2v2.2h-2.2zM34.0 34.0h2.2v2.2h-2.2zM34.0 36.0h2.2v2.2h-2.2zM36.0 10.0h2.2v2.2h-2.2zM36.0 12.0h2.2v2.2h-2.2zM36.0 14.0h2.2v2.2h-2.2zM38.0 12.0h2.2v2.2h-2.2zM38.0 14.0h2.2v2.2h-2.2zM60.0 38.0h2.2v2.2h-2.2zM60.0 40.0h2.2v2.2h-2.2zM60.0 42.0h2.2v2.2h-2.2zM62.0 14.0h2.2v2.2h-2.2zM62.0 38.0h2.2v2.2h-2.2zM62.0 40.0h2.2v2.2h-2.2zM68.0 38.0h2.2v2.2h-2.2zM68.0 40.0h2.2v2.2h-2.2zM70.0 38.0h2.2v2.2h-2.2zM70.0 40.0h2.2v2.2h-2.2zM72.0 28.0h2.2v2.2h-2.2zM72.0 30.0h2.2v2.2h-2.2zM74.0 28.0h2.2v2.2h-2.2zM74.0 30.0h2.2v2.2h-2.2zM76.0 28.0h2.2v2.2h-2.2zM76.0 30.0h2.2v2.2h-2.2z"/>
</g>
<g transform="translate(37.50,148.60) scale(0.6500,0.6550)" clip-path="url(#cLatM)">
<path fill="#dc0000" d="M10.0 22.0h2.2v2.2h-2.2zM12.0 28.0h2.2v2.2h-2.2zM14.0 22.0h2.2v2.2h-2.2zM14.0 26.0h2.2v2.2h-2.2zM14.0 28.0h2.2v2.2h-2.2zM16.0 20.0h2.2v2.2h-2.2zM16.0 24.0h2.2v2.2h-2.2zM16.0 26.0h2.2v2.2h-2.2zM16.0 28.0h2.2v2.2h-2.2zM16.0 30.0h2.2v2.2h-2.2zM16.0 32.0h2.2v2.2h-2.2zM18.0 20.0h2.2v2.2h-2.2zM18.0 22.0h2.2v2.2h-2.2zM18.0 24.0h2.2v2.2h-2.2zM18.0 26.0h2.2v2.2h-2.2zM18.0 28.0h2.2v2.2h-2.2zM18.0 30.0h2.2v2.2h-2.2zM18.0 32.0h2.2v2.2h-2.2zM18.0 38.0h2.2v2.2h-2.2zM18.0 40.0h2.2v2.2h-2.2zM18.0 42.0h2.2v2.2h-2.2zM20.0 16.0h2.2v2.2h-2.2zM20.0 18.0h2.2v2.2h-2.2zM20.0 20.0h2.2v2.2h-2.2zM20.0 22.0h2.2v2.2h-2.2zM20.0 24.0h2.2v2.2h-2.2zM20.0 26.0h2.2v2.2h-2.2zM20.0 28.0h2.2v2.2h-2.2zM20.0 30.0h2.2v2.2h-2.2zM20.0 32.0h2.2v2.2h-2.2zM20.0 34.0h2.2v2.2h-2.2zM20.0 36.0h2.2v2.2h-2.2zM20.0 38.0h2.2v2.2h-2.2zM20.0 40.0h2.2v2.2h-2.2zM22.0 14.0h2.2v2.2h-2.2zM22.0 20.0h2.2v2.2h-2.2zM22.0 22.0h2.2v2.2h-2.2zM22.0 24.0h2.2v2.2h-2.2zM22.0 26.0h2.2v2.2h-2.2zM22.0 28.0h2.2v2.2h-2.2zM22.0 30.0h2.2v2.2h-2.2zM22.0 36.0h2.2v2.2h-2.2zM22.0 38.0h2.2v2.2h-2.2zM22.0 40.0h2.2v2.2h-2.2zM22.0 42.0h2.2v2.2h-2.2zM24.0 18.0h2.2v2.2h-2.2zM24.0 20.0h2.2v2.2h-2.2zM24.0 22.0h2.2v2.2h-2.2zM24.0 24.0h2.2v2.2h-2.2zM24.0 26.0h2.2v2.2h-2.2zM24.0 28.0h2.2v2.2h-2.2zM24.0 30.0h2.2v2.2h-2.2zM24.0 32.0h2.2v2.2h-2.2zM24.0 34.0h2.2v2.2h-2.2zM24.0 36.0h2.2v2.2h-2.2zM24.0 42.0h2.2v2.2h-2.2zM26.0 16.0h2.2v2.2h-2.2zM26.0 18.0h2.2v2.2h-2.2zM26.0 20.0h2.2v2.2h-2.2zM26.0 24.0h2.2v2.2h-2.2zM26.0 26.0h2.2v2.2h-2.2zM26.0 28.0h2.2v2.2h-2.2zM26.0 30.0h2.2v2.2h-2.2zM26.0 32.0h2.2v2.2h-2.2zM26.0 34.0h2.2v2.2h-2.2zM26.0 36.0h2.2v2.2h-2.2zM26.0 48.0h2.2v2.2h-2.2zM28.0 18.0h2.2v2.2h-2.2zM28.0 20.0h2.2v2.2h-2.2zM28.0 22.0h2.2v2.2h-2.2zM28.0 24.0h2.2v2.2h-2.2zM28.0 26.0h2.2v2.2h-2.2zM28.0 28.0h2.2v2.2h-2.2zM28.0 30.0h2.2v2.2h-2.2zM28.0 32.0h2.2v2.2h-2.2zM28.0 34.0h2.2v2.2h-2.2zM28.0 44.0h2.2v2.2h-2.2zM28.0 46.0h2.2v2.2h-2.2zM28.0 48.0h2.2v2.2h-2.2zM30.0 20.0h2.2v2.2h-2.2zM30.0 22.0h2.2v2.2h-2.2zM30.0 26.0h2.2v2.2h-2.2zM30.0 28.0h2.2v2.2h-2.2zM30.0 30.0h2.2v2.2h-2.2zM30.0 34.0h2.2v2.2h-2.2zM30.0 36.0h2.2v2.2h-2.2zM30.0 44.0h2.2v2.2h-2.2zM30.0 46.0h2.2v2.2h-2.2zM30.0 48.0h2.2v2.2h-2.2zM30.0 50.0h2.2v2.2h-2.2zM32.0 18.0h2.2v2.2h-2.2zM32.0 22.0h2.2v2.2h-2.2zM32.0 24.0h2.2v2.2h-2.2zM32.0 26.0h2.2v2.2h-2.2zM32.0 28.0h2.2v2.2h-2.2zM32.0 30.0h2.2v2.2h-2.2zM32.0 32.0h2.2v2.2h-2.2zM32.0 36.0h2.2v2.2h-2.2zM32.0 44.0h2.2v2.2h-2.2zM32.0 46.0h2.2v2.2h-2.2zM32.0 48.0h2.2v2.2h-2.2zM34.0 30.0h2.2v2.2h-2.2zM34.0 32.0h2.2v2.2h-2.2zM34.0 34.0h2.2v2.2h-2.2zM34.0 36.0h2.2v2.2h-2.2zM34.0 38.0h2.2v2.2h-2.2zM34.0 44.0h2.2v2.2h-2.2zM34.0 46.0h2.2v2.2h-2.2zM34.0 48.0h2.2v2.2h-2.2zM36.0 30.0h2.2v2.2h-2.2zM36.0 32.0h2.2v2.2h-2.2zM36.0 34.0h2.2v2.2h-2.2zM36.0 36.0h2.2v2.2h-2.2zM36.0 38.0h2.2v2.2h-2.2zM36.0 40.0h2.2v2.2h-2.2zM36.0 42.0h2.2v2.2h-2.2zM36.0 46.0h2.2v2.2h-2.2zM36.0 48.0h2.2v2.2h-2.2zM36.0 50.0h2.2v2.2h-2.2zM38.0 30.0h2.2v2.2h-2.2zM38.0 40.0h2.2v2.2h-2.2zM38.0 42.0h2.2v2.2h-2.2zM38.0 48.0h2.2v2.2h-2.2zM38.0 50.0h2.2v2.2h-2.2zM38.0 52.0h2.2v2.2h-2.2zM38.0 54.0h2.2v2.2h-2.2zM40.0 42.0h2.2v2.2h-2.2zM40.0 48.0h2.2v2.2h-2.2zM40.0 54.0h2.2v2.2h-2.2zM42.0 42.0h2.2v2.2h-2.2zM42.0 48.0h2.2v2.2h-2.2zM42.0 54.0h2.2v2.2h-2.2zM42.0 56.0h2.2v2.2h-2.2zM44.0 44.0h2.2v2.2h-2.2zM44.0 54.0h2.2v2.2h-2.2zM44.0 56.0h2.2v2.2h-2.2zM46.0 46.0h2.2v2.2h-2.2zM46.0 54.0h2.2v2.2h-2.2zM48.0 46.0h2.2v2.2h-2.2zM48.0 48.0h2.2v2.2h-2.2zM48.0 50.0h2.2v2.2h-2.2zM48.0 54.0h2.2v2.2h-2.2zM48.0 56.0h2.2v2.2h-2.2zM48.0 58.0h2.2v2.2h-2.2zM50.0 48.0h2.2v2.2h-2.2zM50.0 54.0h2.2v2.2h-2.2zM50.0 56.0h2.2v2.2h-2.2zM50.0 58.0h2.2v2.2h-2.2zM50.0 60.0h2.2v2.2h-2.2zM52.0 16.0h2.2v2.2h-2.2zM52.0 46.0h2.2v2.2h-2.2zM52.0 48.0h2.2v2.2h-2.2zM52.0 56.0h2.2v2.2h-2.2zM52.0 58.0h2.2v2.2h-2.2zM54.0 14.0h2.2v2.2h-2.2zM54.0 16.0h2.2v2.2h-2.2zM54.0 18.0h2.2v2.2h-2.2zM54.0 20.0h2.2v2.2h-2.2zM54.0 46.0h2.2v2.2h-2.2zM54.0 56.0h2.2v2.2h-2.2zM54.0 58.0h2.2v2.2h-2.2zM54.0 60.0h2.2v2.2h-2.2zM56.0 12.0h2.2v2.2h-2.2zM56.0 14.0h2.2v2.2h-2.2zM56.0 16.0h2.2v2.2h-2.2zM56.0 18.0h2.2v2.2h-2.2zM56.0 20.0h2.2v2.2h-2.2zM56.0 44.0h2.2v2.2h-2.2zM56.0 46.0h2.2v2.2h-2.2zM56.0 48.0h2.2v2.2h-2.2zM56.0 56.0h2.2v2.2h-2.2zM56.0 58.0h2.2v2.2h-2.2zM58.0 14.0h2.2v2.2h-2.2zM58.0 16.0h2.2v2.2h-2.2zM58.0 18.0h2.2v2.2h-2.2zM58.0 20.0h2.2v2.2h-2.2zM58.0 22.0h2.2v2.2h-2.2zM58.0 44.0h2.2v2.2h-2.2zM58.0 46.0h2.2v2.2h-2.2zM58.0 48.0h2.2v2.2h-2.2zM58.0 58.0h2.2v2.2h-2.2zM58.0 60.0h2.2v2.2h-2.2zM60.0 8.0h2.2v2.2h-2.2zM60.0 14.0h2.2v2.2h-2.2zM60.0 16.0h2.2v2.2h-2.2zM60.0 18.0h2.2v2.2h-2.2zM60.0 20.0h2.2v2.2h-2.2zM60.0 22.0h2.2v2.2h-2.2zM60.0 48.0h2.2v2.2h-2.2zM60.0 58.0h2.2v2.2h-2.2zM62.0 8.0h2.2v2.2h-2.2zM62.0 18.0h2.2v2.2h-2.2zM62.0 20.0h2.2v2.2h-2.2zM62.0 22.0h2.2v2.2h-2.2zM62.0 48.0h2.2v2.2h-2.2zM62.0 50.0h2.2v2.2h-2.2zM62.0 58.0h2.2v2.2h-2.2zM62.0 60.0h2.2v2.2h-2.2zM64.0 6.0h2.2v2.2h-2.2zM64.0 8.0h2.2v2.2h-2.2zM64.0 10.0h2.2v2.2h-2.2zM64.0 12.0h2.2v2.2h-2.2zM64.0 18.0h2.2v2.2h-2.2zM64.0 20.0h2.2v2.2h-2.2zM64.0 22.0h2.2v2.2h-2.2zM64.0 46.0h2.2v2.2h-2.2zM64.0 50.0h2.2v2.2h-2.2zM64.0 52.0h2.2v2.2h-2.2zM64.0 58.0h2.2v2.2h-2.2zM64.0 60.0h2.2v2.2h-2.2zM64.0 62.0h2.2v2.2h-2.2zM64.0 64.0h2.2v2.2h-2.2zM66.0 8.0h2.2v2.2h-2.2zM66.0 10.0h2.2v2.2h-2.2zM66.0 12.0h2.2v2.2h-2.2zM66.0 14.0h2.2v2.2h-2.2zM66.0 18.0h2.2v2.2h-2.2zM66.0 34.0h2.2v2.2h-2.2zM66.0 36.0h2.2v2.2h-2.2zM66.0 38.0h2.2v2.2h-2.2zM66.0 40.0h2.2v2.2h-2.2zM66.0 46.0h2.2v2.2h-2.2zM66.0 48.0h2.2v2.2h-2.2zM66.0 50.0h2.2v2.2h-2.2zM66.0 58.0h2.2v2.2h-2.2zM66.0 60.0h2.2v2.2h-2.2zM66.0 62.0h2.2v2.2h-2.2zM66.0 64.0h2.2v2.2h-2.2zM66.0 66.0h2.2v2.2h-2.2zM68.0 10.0h2.2v2.2h-2.2zM68.0 12.0h2.2v2.2h-2.2zM68.0 14.0h2.2v2.2h-2.2zM68.0 32.0h2.2v2.2h-2.2zM68.0 34.0h2.2v2.2h-2.2zM68.0 36.0h2.2v2.2h-2.2zM68.0 38.0h2.2v2.2h-2.2zM68.0 48.0h2.2v2.2h-2.2zM68.0 58.0h2.2v2.2h-2.2zM68.0 62.0h2.2v2.2h-2.2zM68.0 64.0h2.2v2.2h-2.2zM68.0 66.0h2.2v2.2h-2.2zM70.0 6.0h2.2v2.2h-2.2zM70.0 12.0h2.2v2.2h-2.2zM70.0 26.0h2.2v2.2h-2.2zM70.0 28.0h2.2v2.2h-2.2zM70.0 30.0h2.2v2.2h-2.2zM70.0 32.0h2.2v2.2h-2.2zM70.0 34.0h2.2v2.2h-2.2zM70.0 36.0h2.2v2.2h-2.2zM70.0 38.0h2.2v2.2h-2.2zM70.0 52.0h2.2v2.2h-2.2zM70.0 56.0h2.2v2.2h-2.2zM72.0 26.0h2.2v2.2h-2.2zM72.0 28.0h2.2v2.2h-2.2zM72.0 30.0h2.2v2.2h-2.2zM72.0 32.0h2.2v2.2h-2.2zM72.0 34.0h2.2v2.2h-2.2zM72.0 36.0h2.2v2.2h-2.2zM72.0 40.0h2.2v2.2h-2.2zM72.0 42.0h2.2v2.2h-2.2zM72.0 50.0h2.2v2.2h-2.2zM72.0 52.0h2.2v2.2h-2.2zM72.0 54.0h2.2v2.2h-2.2zM72.0 56.0h2.2v2.2h-2.2zM74.0 26.0h2.2v2.2h-2.2zM74.0 28.0h2.2v2.2h-2.2zM74.0 30.0h2.2v2.2h-2.2zM74.0 32.0h2.2v2.2h-2.2zM74.0 34.0h2.2v2.2h-2.2zM74.0 36.0h2.2v2.2h-2.2zM74.0 38.0h2.2v2.2h-2.2zM74.0 42.0h2.2v2.2h-2.2zM74.0 50.0h2.2v2.2h-2.2zM74.0 52.0h2.2v2.2h-2.2zM76.0 26.0h2.2v2.2h-2.2zM76.0 28.0h2.2v2.2h-2.2zM76.0 30.0h2.2v2.2h-2.2zM76.0 32.0h2.2v2.2h-2.2zM76.0 34.0h2.2v2.2h-2.2zM76.0 36.0h2.2v2.2h-2.2zM76.0 38.0h2.2v2.2h-2.2zM76.0 40.0h2.2v2.2h-2.2zM78.0 26.0h2.2v2.2h-2.2zM78.0 28.0h2.2v2.2h-2.2zM78.0 30.0h2.2v2.2h-2.2zM78.0 32.0h2.2v2.2h-2.2zM78.0 34.0h2.2v2.2h-2.2zM78.0 36.0h2.2v2.2h-2.2zM78.0 38.0h2.2v2.2h-2.2zM78.0 44.0h2.2v2.2h-2.2zM80.0 30.0h2.2v2.2h-2.2zM80.0 32.0h2.2v2.2h-2.2zM80.0 34.0h2.2v2.2h-2.2zM80.0 36.0h2.2v2.2h-2.2zM82.0 32.0h2.2v2.2h-2.2zM82.0 34.0h2.2v2.2h-2.2zM82.0 36.0h2.2v2.2h-2.2zM82.0 38.0h2.2v2.2h-2.2zM84.0 34.0h2.2v2.2h-2.2zM84.0 36.0h2.2v2.2h-2.2zM84.0 38.0h2.2v2.2h-2.2zM86.0 36.0h2.2v2.2h-2.2zM94.0 44.0h2.2v2.2h-2.2z"/>
<path fill="#ee2a00" d="M24.0 38.0h2.2v2.2h-2.2zM24.0 40.0h2.2v2.2h-2.2zM26.0 22.0h2.2v2.2h-2.2zM26.0 40.0h2.2v2.2h-2.2zM28.0 36.0h2.2v2.2h-2.2zM28.0 38.0h2.2v2.2h-2.2zM28.0 42.0h2.2v2.2h-2.2zM30.0 38.0h2.2v2.2h-2.2zM32.0 38.0h2.2v2.2h-2.2zM34.0 40.0h2.2v2.2h-2.2zM34.0 42.0h2.2v2.2h-2.2zM36.0 44.0h2.2v2.2h-2.2zM40.0 44.0h2.2v2.2h-2.2zM40.0 50.0h2.2v2.2h-2.2zM40.0 52.0h2.2v2.2h-2.2zM42.0 44.0h2.2v2.2h-2.2zM42.0 46.0h2.2v2.2h-2.2zM42.0 50.0h2.2v2.2h-2.2zM42.0 52.0h2.2v2.2h-2.2zM44.0 46.0h2.2v2.2h-2.2zM44.0 48.0h2.2v2.2h-2.2zM44.0 52.0h2.2v2.2h-2.2zM46.0 48.0h2.2v2.2h-2.2zM46.0 52.0h2.2v2.2h-2.2zM48.0 52.0h2.2v2.2h-2.2zM50.0 50.0h2.2v2.2h-2.2zM52.0 54.0h2.2v2.2h-2.2zM54.0 48.0h2.2v2.2h-2.2zM54.0 54.0h2.2v2.2h-2.2zM56.0 54.0h2.2v2.2h-2.2zM58.0 50.0h2.2v2.2h-2.2zM58.0 54.0h2.2v2.2h-2.2zM58.0 56.0h2.2v2.2h-2.2zM60.0 50.0h2.2v2.2h-2.2zM60.0 54.0h2.2v2.2h-2.2zM60.0 56.0h2.2v2.2h-2.2zM62.0 52.0h2.2v2.2h-2.2zM62.0 54.0h2.2v2.2h-2.2zM62.0 56.0h2.2v2.2h-2.2zM64.0 56.0h2.2v2.2h-2.2zM66.0 52.0h2.2v2.2h-2.2zM66.0 54.0h2.2v2.2h-2.2zM66.0 56.0h2.2v2.2h-2.2zM68.0 52.0h2.2v2.2h-2.2zM68.0 54.0h2.2v2.2h-2.2zM68.0 56.0h2.2v2.2h-2.2zM70.0 54.0h2.2v2.2h-2.2z"/>
<path fill="#fa6400" d="M26.0 38.0h2.2v2.2h-2.2zM28.0 40.0h2.2v2.2h-2.2zM30.0 40.0h2.2v2.2h-2.2zM30.0 42.0h2.2v2.2h-2.2zM32.0 40.0h2.2v2.2h-2.2zM38.0 44.0h2.2v2.2h-2.2zM38.0 46.0h2.2v2.2h-2.2zM40.0 46.0h2.2v2.2h-2.2zM44.0 50.0h2.2v2.2h-2.2zM46.0 50.0h2.2v2.2h-2.2zM50.0 52.0h2.2v2.2h-2.2zM52.0 50.0h2.2v2.2h-2.2zM54.0 50.0h2.2v2.2h-2.2zM56.0 50.0h2.2v2.2h-2.2zM58.0 52.0h2.2v2.2h-2.2zM60.0 52.0h2.2v2.2h-2.2zM64.0 54.0h2.2v2.2h-2.2z"/>
<path fill="#ff9c00" d="M32.0 42.0h2.2v2.2h-2.2zM52.0 52.0h2.2v2.2h-2.2zM54.0 52.0h2.2v2.2h-2.2zM56.0 52.0h2.2v2.2h-2.2z"/>
</g>
<g transform="translate(118.30,148.40) scale(0.6510,0.6637)" clip-path="url(#cLatM)">
<path fill="#dc0000" d="M6.0 28.0h2.2v2.2h-2.2zM6.0 30.0h2.2v2.2h-2.2zM8.0 20.0h2.2v2.2h-2.2zM8.0 22.0h2.2v2.2h-2.2zM8.0 24.0h2.2v2.2h-2.2zM8.0 28.0h2.2v2.2h-2.2zM8.0 30.0h2.2v2.2h-2.2zM8.0 34.0h2.2v2.2h-2.2zM10.0 20.0h2.2v2.2h-2.2zM10.0 22.0h2.2v2.2h-2.2zM10.0 24.0h2.2v2.2h-2.2zM10.0 26.0h2.2v2.2h-2.2zM10.0 28.0h2.2v2.2h-2.2zM10.0 30.0h2.2v2.2h-2.2zM10.0 40.0h2.2v2.2h-2.2zM10.0 42.0h2.2v2.2h-2.2zM12.0 22.0h2.2v2.2h-2.2zM12.0 24.0h2.2v2.2h-2.2zM12.0 26.0h2.2v2.2h-2.2zM12.0 28.0h2.2v2.2h-2.2zM12.0 30.0h2.2v2.2h-2.2zM12.0 32.0h2.2v2.2h-2.2zM12.0 34.0h2.2v2.2h-2.2zM12.0 36.0h2.2v2.2h-2.2zM12.0 38.0h2.2v2.2h-2.2zM12.0 40.0h2.2v2.2h-2.2zM12.0 42.0h2.2v2.2h-2.2zM14.0 22.0h2.2v2.2h-2.2zM14.0 24.0h2.2v2.2h-2.2zM14.0 26.0h2.2v2.2h-2.2zM14.0 32.0h2.2v2.2h-2.2zM14.0 34.0h2.2v2.2h-2.2zM14.0 36.0h2.2v2.2h-2.2zM14.0 38.0h2.2v2.2h-2.2zM14.0 40.0h2.2v2.2h-2.2zM16.0 18.0h2.2v2.2h-2.2zM16.0 20.0h2.2v2.2h-2.2zM16.0 22.0h2.2v2.2h-2.2zM16.0 24.0h2.2v2.2h-2.2zM16.0 26.0h2.2v2.2h-2.2zM16.0 32.0h2.2v2.2h-2.2zM16.0 34.0h2.2v2.2h-2.2zM16.0 36.0h2.2v2.2h-2.2zM16.0 38.0h2.2v2.2h-2.2zM18.0 18.0h2.2v2.2h-2.2zM18.0 20.0h2.2v2.2h-2.2zM18.0 22.0h2.2v2.2h-2.2zM18.0 24.0h2.2v2.2h-2.2zM18.0 34.0h2.2v2.2h-2.2zM18.0 36.0h2.2v2.2h-2.2zM20.0 16.0h2.2v2.2h-2.2zM20.0 18.0h2.2v2.2h-2.2zM20.0 20.0h2.2v2.2h-2.2zM20.0 22.0h2.2v2.2h-2.2zM20.0 26.0h2.2v2.2h-2.2zM20.0 34.0h2.2v2.2h-2.2zM20.0 36.0h2.2v2.2h-2.2zM20.0 38.0h2.2v2.2h-2.2zM20.0 40.0h2.2v2.2h-2.2zM20.0 42.0h2.2v2.2h-2.2zM22.0 20.0h2.2v2.2h-2.2zM22.0 22.0h2.2v2.2h-2.2zM22.0 24.0h2.2v2.2h-2.2zM22.0 36.0h2.2v2.2h-2.2zM22.0 38.0h2.2v2.2h-2.2zM22.0 40.0h2.2v2.2h-2.2zM24.0 20.0h2.2v2.2h-2.2zM24.0 32.0h2.2v2.2h-2.2zM24.0 34.0h2.2v2.2h-2.2zM24.0 36.0h2.2v2.2h-2.2zM24.0 38.0h2.2v2.2h-2.2zM24.0 40.0h2.2v2.2h-2.2zM24.0 42.0h2.2v2.2h-2.2zM26.0 18.0h2.2v2.2h-2.2zM26.0 20.0h2.2v2.2h-2.2zM26.0 32.0h2.2v2.2h-2.2zM26.0 34.0h2.2v2.2h-2.2zM26.0 36.0h2.2v2.2h-2.2zM26.0 38.0h2.2v2.2h-2.2zM28.0 16.0h2.2v2.2h-2.2zM28.0 18.0h2.2v2.2h-2.2zM28.0 20.0h2.2v2.2h-2.2zM28.0 22.0h2.2v2.2h-2.2zM28.0 24.0h2.2v2.2h-2.2zM28.0 26.0h2.2v2.2h-2.2zM28.0 40.0h2.2v2.2h-2.2zM28.0 42.0h2.2v2.2h-2.2zM30.0 20.0h2.2v2.2h-2.2zM30.0 22.0h2.2v2.2h-2.2zM30.0 24.0h2.2v2.2h-2.2zM30.0 26.0h2.2v2.2h-2.2zM30.0 28.0h2.2v2.2h-2.2zM30.0 30.0h2.2v2.2h-2.2zM30.0 42.0h2.2v2.2h-2.2zM30.0 44.0h2.2v2.2h-2.2zM30.0 46.0h2.2v2.2h-2.2zM30.0 48.0h2.2v2.2h-2.2zM32.0 20.0h2.2v2.2h-2.2zM32.0 24.0h2.2v2.2h-2.2zM32.0 26.0h2.2v2.2h-2.2zM32.0 28.0h2.2v2.2h-2.2zM32.0 30.0h2.2v2.2h-2.2zM32.0 44.0h2.2v2.2h-2.2zM32.0 46.0h2.2v2.2h-2.2zM32.0 48.0h2.2v2.2h-2.2zM32.0 50.0h2.2v2.2h-2.2zM34.0 24.0h2.2v2.2h-2.2zM34.0 26.0h2.2v2.2h-2.2zM34.0 28.0h2.2v2.2h-2.2zM34.0 48.0h2.2v2.2h-2.2zM34.0 50.0h2.2v2.2h-2.2zM34.0 52.0h2.2v2.2h-2.2zM36.0 28.0h2.2v2.2h-2.2zM36.0 30.0h2.2v2.2h-2.2zM36.0 32.0h2.2v2.2h-2.2zM36.0 50.0h2.2v2.2h-2.2zM38.0 16.0h2.2v2.2h-2.2zM38.0 30.0h2.2v2.2h-2.2zM38.0 32.0h2.2v2.2h-2.2zM38.0 34.0h2.2v2.2h-2.2zM38.0 56.0h2.2v2.2h-2.2zM40.0 14.0h2.2v2.2h-2.2zM40.0 16.0h2.2v2.2h-2.2zM40.0 18.0h2.2v2.2h-2.2zM40.0 36.0h2.2v2.2h-2.2zM40.0 38.0h2.2v2.2h-2.2zM40.0 40.0h2.2v2.2h-2.2zM40.0 54.0h2.2v2.2h-2.2zM40.0 56.0h2.2v2.2h-2.2zM40.0 58.0h2.2v2.2h-2.2zM42.0 34.0h2.2v2.2h-2.2zM42.0 36.0h2.2v2.2h-2.2zM42.0 38.0h2.2v2.2h-2.2zM42.0 40.0h2.2v2.2h-2.2zM42.0 56.0h2.2v2.2h-2.2zM42.0 58.0h2.2v2.2h-2.2zM42.0 60.0h2.2v2.2h-2.2zM44.0 30.0h2.2v2.2h-2.2zM44.0 32.0h2.2v2.2h-2.2zM44.0 34.0h2.2v2.2h-2.2zM44.0 36.0h2.2v2.2h-2.2zM44.0 38.0h2.2v2.2h-2.2zM44.0 40.0h2.2v2.2h-2.2zM44.0 42.0h2.2v2.2h-2.2zM44.0 46.0h2.2v2.2h-2.2zM44.0 58.0h2.2v2.2h-2.2zM46.0 30.0h2.2v2.2h-2.2zM46.0 32.0h2.2v2.2h-2.2zM46.0 34.0h2.2v2.2h-2.2zM46.0 40.0h2.2v2.2h-2.2zM46.0 42.0h2.2v2.2h-2.2zM46.0 44.0h2.2v2.2h-2.2zM46.0 46.0h2.2v2.2h-2.2zM46.0 48.0h2.2v2.2h-2.2zM46.0 60.0h2.2v2.2h-2.2zM48.0 30.0h2.2v2.2h-2.2zM48.0 32.0h2.2v2.2h-2.2zM48.0 34.0h2.2v2.2h-2.2zM48.0 44.0h2.2v2.2h-2.2zM48.0 46.0h2.2v2.2h-2.2zM48.0 60.0h2.2v2.2h-2.2zM50.0 44.0h2.2v2.2h-2.2zM50.0 48.0h2.2v2.2h-2.2zM50.0 60.0h2.2v2.2h-2.2zM52.0 46.0h2.2v2.2h-2.2zM52.0 48.0h2.2v2.2h-2.2zM52.0 62.0h2.2v2.2h-2.2zM52.0 64.0h2.2v2.2h-2.2zM54.0 46.0h2.2v2.2h-2.2zM54.0 48.0h2.2v2.2h-2.2zM54.0 60.0h2.2v2.2h-2.2zM54.0 62.0h2.2v2.2h-2.2zM54.0 64.0h2.2v2.2h-2.2zM56.0 10.0h2.2v2.2h-2.2zM56.0 12.0h2.2v2.2h-2.2zM56.0 14.0h2.2v2.2h-2.2zM56.0 50.0h2.2v2.2h-2.2zM56.0 62.0h2.2v2.2h-2.2zM56.0 64.0h2.2v2.2h-2.2zM56.0 66.0h2.2v2.2h-2.2zM58.0 10.0h2.2v2.2h-2.2zM58.0 12.0h2.2v2.2h-2.2zM58.0 14.0h2.2v2.2h-2.2zM58.0 50.0h2.2v2.2h-2.2zM58.0 68.0h2.2v2.2h-2.2zM60.0 12.0h2.2v2.2h-2.2zM60.0 14.0h2.2v2.2h-2.2zM60.0 16.0h2.2v2.2h-2.2zM60.0 18.0h2.2v2.2h-2.2zM60.0 48.0h2.2v2.2h-2.2zM60.0 52.0h2.2v2.2h-2.2zM60.0 64.0h2.2v2.2h-2.2zM60.0 66.0h2.2v2.2h-2.2zM60.0 70.0h2.2v2.2h-2.2zM62.0 14.0h2.2v2.2h-2.2zM62.0 16.0h2.2v2.2h-2.2zM62.0 30.0h2.2v2.2h-2.2zM62.0 32.0h2.2v2.2h-2.2zM62.0 34.0h2.2v2.2h-2.2zM62.0 54.0h2.2v2.2h-2.2zM62.0 68.0h2.2v2.2h-2.2zM62.0 70.0h2.2v2.2h-2.2zM64.0 10.0h2.2v2.2h-2.2zM64.0 12.0h2.2v2.2h-2.2zM64.0 14.0h2.2v2.2h-2.2zM64.0 16.0h2.2v2.2h-2.2zM64.0 18.0h2.2v2.2h-2.2zM64.0 32.0h2.2v2.2h-2.2zM64.0 38.0h2.2v2.2h-2.2zM64.0 54.0h2.2v2.2h-2.2zM64.0 56.0h2.2v2.2h-2.2zM64.0 68.0h2.2v2.2h-2.2zM64.0 70.0h2.2v2.2h-2.2zM64.0 72.0h2.2v2.2h-2.2zM64.0 74.0h2.2v2.2h-2.2zM66.0 4.0h2.2v2.2h-2.2zM66.0 6.0h2.2v2.2h-2.2zM66.0 8.0h2.2v2.2h-2.2zM66.0 10.0h2.2v2.2h-2.2zM66.0 12.0h2.2v2.2h-2.2zM66.0 14.0h2.2v2.2h-2.2zM66.0 16.0h2.2v2.2h-2.2zM66.0 18.0h2.2v2.2h-2.2zM66.0 20.0h2.2v2.2h-2.2zM66.0 28.0h2.2v2.2h-2.2zM66.0 30.0h2.2v2.2h-2.2zM66.0 36.0h2.2v2.2h-2.2zM66.0 40.0h2.2v2.2h-2.2zM66.0 42.0h2.2v2.2h-2.2zM66.0 50.0h2.2v2.2h-2.2zM66.0 52.0h2.2v2.2h-2.2zM66.0 54.0h2.2v2.2h-2.2zM66.0 68.0h2.2v2.2h-2.2zM66.0 70.0h2.2v2.2h-2.2zM66.0 72.0h2.2v2.2h-2.2zM66.0 74.0h2.2v2.2h-2.2zM68.0 4.0h2.2v2.2h-2.2zM68.0 6.0h2.2v2.2h-2.2zM68.0 8.0h2.2v2.2h-2.2zM68.0 10.0h2.2v2.2h-2.2zM68.0 14.0h2.2v2.2h-2.2zM68.0 16.0h2.2v2.2h-2.2zM68.0 18.0h2.2v2.2h-2.2zM68.0 26.0h2.2v2.2h-2.2zM68.0 28.0h2.2v2.2h-2.2zM68.0 32.0h2.2v2.2h-2.2zM68.0 34.0h2.2v2.2h-2.2zM68.0 36.0h2.2v2.2h-2.2zM68.0 38.0h2.2v2.2h-2.2zM68.0 40.0h2.2v2.2h-2.2zM68.0 42.0h2.2v2.2h-2.2zM68.0 44.0h2.2v2.2h-2.2zM68.0 46.0h2.2v2.2h-2.2zM68.0 50.0h2.2v2.2h-2.2zM68.0 56.0h2.2v2.2h-2.2zM68.0 68.0h2.2v2.2h-2.2zM68.0 70.0h2.2v2.2h-2.2zM68.0 72.0h2.2v2.2h-2.2zM70.0 4.0h2.2v2.2h-2.2zM70.0 6.0h2.2v2.2h-2.2zM70.0 8.0h2.2v2.2h-2.2zM70.0 14.0h2.2v2.2h-2.2zM70.0 16.0h2.2v2.2h-2.2zM70.0 18.0h2.2v2.2h-2.2zM70.0 26.0h2.2v2.2h-2.2zM70.0 28.0h2.2v2.2h-2.2zM70.0 32.0h2.2v2.2h-2.2zM70.0 34.0h2.2v2.2h-2.2zM70.0 36.0h2.2v2.2h-2.2zM70.0 38.0h2.2v2.2h-2.2zM70.0 40.0h2.2v2.2h-2.2zM70.0 42.0h2.2v2.2h-2.2zM70.0 44.0h2.2v2.2h-2.2zM70.0 46.0h2.2v2.2h-2.2zM70.0 52.0h2.2v2.2h-2.2zM70.0 54.0h2.2v2.2h-2.2zM70.0 56.0h2.2v2.2h-2.2zM70.0 58.0h2.2v2.2h-2.2zM70.0 60.0h2.2v2.2h-2.2zM70.0 62.0h2.2v2.2h-2.2zM70.0 64.0h2.2v2.2h-2.2zM70.0 72.0h2.2v2.2h-2.2zM72.0 6.0h2.2v2.2h-2.2zM72.0 8.0h2.2v2.2h-2.2zM72.0 10.0h2.2v2.2h-2.2zM72.0 12.0h2.2v2.2h-2.2zM72.0 14.0h2.2v2.2h-2.2zM72.0 16.0h2.2v2.2h-2.2zM72.0 28.0h2.2v2.2h-2.2zM72.0 30.0h2.2v2.2h-2.2zM72.0 32.0h2.2v2.2h-2.2zM72.0 34.0h2.2v2.2h-2.2zM72.0 36.0h2.2v2.2h-2.2zM72.0 38.0h2.2v2.2h-2.2zM72.0 40.0h2.2v2.2h-2.2zM72.0 42.0h2.2v2.2h-2.2zM72.0 44.0h2.2v2.2h-2.2zM72.0 46.0h2.2v2.2h-2.2zM72.0 50.0h2.2v2.2h-2.2zM72.0 58.0h2.2v2.2h-2.2zM72.0 62.0h2.2v2.2h-2.2zM74.0 4.0h2.2v2.2h-2.2zM74.0 6.0h2.2v2.2h-2.2zM74.0 8.0h2.2v2.2h-2.2zM74.0 10.0h2.2v2.2h-2.2zM74.0 12.0h2.2v2.2h-2.2zM74.0 14.0h2.2v2.2h-2.2zM74.0 16.0h2.2v2.2h-2.2zM74.0 18.0h2.2v2.2h-2.2zM74.0 26.0h2.2v2.2h-2.2zM74.0 28.0h2.2v2.2h-2.2zM74.0 30.0h2.2v2.2h-2.2zM74.0 32.0h2.2v2.2h-2.2zM74.0 34.0h2.2v2.2h-2.2zM74.0 36.0h2.2v2.2h-2.2zM74.0 40.0h2.2v2.2h-2.2zM74.0 42.0h2.2v2.2h-2.2zM74.0 44.0h2.2v2.2h-2.2zM74.0 46.0h2.2v2.2h-2.2zM74.0 58.0h2.2v2.2h-2.2zM74.0 62.0h2.2v2.2h-2.2zM74.0 66.0h2.2v2.2h-2.2zM74.0 68.0h2.2v2.2h-2.2zM74.0 70.0h2.2v2.2h-2.2zM74.0 72.0h2.2v2.2h-2.2zM76.0 6.0h2.2v2.2h-2.2zM76.0 10.0h2.2v2.2h-2.2zM76.0 12.0h2.2v2.2h-2.2zM76.0 14.0h2.2v2.2h-2.2zM76.0 18.0h2.2v2.2h-2.2zM76.0 24.0h2.2v2.2h-2.2zM76.0 26.0h2.2v2.2h-2.2zM76.0 30.0h2.2v2.2h-2.2zM76.0 32.0h2.2v2.2h-2.2zM76.0 34.0h2.2v2.2h-2.2zM76.0 36.0h2.2v2.2h-2.2zM76.0 38.0h2.2v2.2h-2.2zM76.0 40.0h2.2v2.2h-2.2zM76.0 42.0h2.2v2.2h-2.2zM76.0 44.0h2.2v2.2h-2.2zM76.0 46.0h2.2v2.2h-2.2zM76.0 66.0h2.2v2.2h-2.2zM76.0 68.0h2.2v2.2h-2.2zM76.0 70.0h2.2v2.2h-2.2zM78.0 6.0h2.2v2.2h-2.2zM78.0 8.0h2.2v2.2h-2.2zM78.0 10.0h2.2v2.2h-2.2zM78.0 12.0h2.2v2.2h-2.2zM78.0 14.0h2.2v2.2h-2.2zM78.0 16.0h2.2v2.2h-2.2zM78.0 18.0h2.2v2.2h-2.2zM78.0 22.0h2.2v2.2h-2.2zM78.0 24.0h2.2v2.2h-2.2zM78.0 26.0h2.2v2.2h-2.2zM78.0 28.0h2.2v2.2h-2.2zM78.0 30.0h2.2v2.2h-2.2zM78.0 32.0h2.2v2.2h-2.2zM78.0 34.0h2.2v2.2h-2.2zM78.0 36.0h2.2v2.2h-2.2zM78.0 38.0h2.2v2.2h-2.2zM78.0 40.0h2.2v2.2h-2.2zM78.0 42.0h2.2v2.2h-2.2zM78.0 44.0h2.2v2.2h-2.2zM78.0 46.0h2.2v2.2h-2.2zM78.0 50.0h2.2v2.2h-2.2zM80.0 6.0h2.2v2.2h-2.2zM80.0 8.0h2.2v2.2h-2.2zM80.0 10.0h2.2v2.2h-2.2zM80.0 12.0h2.2v2.2h-2.2zM80.0 14.0h2.2v2.2h-2.2zM80.0 16.0h2.2v2.2h-2.2zM80.0 24.0h2.2v2.2h-2.2zM80.0 26.0h2.2v2.2h-2.2zM80.0 28.0h2.2v2.2h-2.2zM80.0 30.0h2.2v2.2h-2.2zM80.0 32.0h2.2v2.2h-2.2zM80.0 34.0h2.2v2.2h-2.2zM80.0 36.0h2.2v2.2h-2.2zM80.0 38.0h2.2v2.2h-2.2zM80.0 40.0h2.2v2.2h-2.2zM80.0 42.0h2.2v2.2h-2.2zM80.0 44.0h2.2v2.2h-2.2zM80.0 46.0h2.2v2.2h-2.2zM80.0 48.0h2.2v2.2h-2.2zM80.0 50.0h2.2v2.2h-2.2zM82.0 12.0h2.2v2.2h-2.2zM82.0 24.0h2.2v2.2h-2.2zM82.0 26.0h2.2v2.2h-2.2zM82.0 28.0h2.2v2.2h-2.2zM82.0 30.0h2.2v2.2h-2.2zM82.0 32.0h2.2v2.2h-2.2zM82.0 34.0h2.2v2.2h-2.2zM82.0 36.0h2.2v2.2h-2.2zM82.0 38.0h2.2v2.2h-2.2zM82.0 46.0h2.2v2.2h-2.2zM82.0 50.0h2.2v2.2h-2.2zM84.0 24.0h2.2v2.2h-2.2zM84.0 26.0h2.2v2.2h-2.2zM84.0 28.0h2.2v2.2h-2.2zM84.0 30.0h2.2v2.2h-2.2zM84.0 32.0h2.2v2.2h-2.2zM84.0 34.0h2.2v2.2h-2.2zM84.0 36.0h2.2v2.2h-2.2zM84.0 38.0h2.2v2.2h-2.2zM84.0 44.0h2.2v2.2h-2.2zM84.0 50.0h2.2v2.2h-2.2zM84.0 52.0h2.2v2.2h-2.2zM86.0 36.0h2.2v2.2h-2.2zM86.0 38.0h2.2v2.2h-2.2zM86.0 42.0h2.2v2.2h-2.2zM86.0 48.0h2.2v2.2h-2.2zM88.0 38.0h2.2v2.2h-2.2zM88.0 42.0h2.2v2.2h-2.2zM88.0 46.0h2.2v2.2h-2.2zM90.0 38.0h2.2v2.2h-2.2zM90.0 40.0h2.2v2.2h-2.2zM90.0 42.0h2.2v2.2h-2.2zM90.0 46.0h2.2v2.2h-2.2zM92.0 38.0h2.2v2.2h-2.2zM92.0 40.0h2.2v2.2h-2.2zM92.0 42.0h2.2v2.2h-2.2zM92.0 44.0h2.2v2.2h-2.2zM94.0 42.0h2.2v2.2h-2.2zM94.0 44.0h2.2v2.2h-2.2z"/>
<path fill="#ee2a00" d="M14.0 28.0h2.2v2.2h-2.2zM14.0 30.0h2.2v2.2h-2.2zM16.0 30.0h2.2v2.2h-2.2zM18.0 26.0h2.2v2.2h-2.2zM18.0 32.0h2.2v2.2h-2.2zM20.0 24.0h2.2v2.2h-2.2zM20.0 32.0h2.2v2.2h-2.2zM22.0 26.0h2.2v2.2h-2.2zM22.0 30.0h2.2v2.2h-2.2zM22.0 32.0h2.2v2.2h-2.2zM22.0 34.0h2.2v2.2h-2.2zM24.0 22.0h2.2v2.2h-2.2zM24.0 24.0h2.2v2.2h-2.2zM24.0 26.0h2.2v2.2h-2.2zM24.0 28.0h2.2v2.2h-2.2zM24.0 30.0h2.2v2.2h-2.2zM26.0 22.0h2.2v2.2h-2.2zM26.0 30.0h2.2v2.2h-2.2zM28.0 28.0h2.2v2.2h-2.2zM28.0 30.0h2.2v2.2h-2.2zM28.0 32.0h2.2v2.2h-2.2zM30.0 40.0h2.2v2.2h-2.2zM32.0 32.0h2.2v2.2h-2.2zM32.0 40.0h2.2v2.2h-2.2zM34.0 30.0h2.2v2.2h-2.2zM34.0 32.0h2.2v2.2h-2.2zM34.0 44.0h2.2v2.2h-2.2zM34.0 46.0h2.2v2.2h-2.2zM36.0 34.0h2.2v2.2h-2.2zM36.0 38.0h2.2v2.2h-2.2zM36.0 48.0h2.2v2.2h-2.2zM38.0 36.0h2.2v2.2h-2.2zM38.0 38.0h2.2v2.2h-2.2zM38.0 40.0h2.2v2.2h-2.2zM38.0 42.0h2.2v2.2h-2.2zM38.0 48.0h2.2v2.2h-2.2zM38.0 50.0h2.2v2.2h-2.2zM38.0 52.0h2.2v2.2h-2.2zM40.0 42.0h2.2v2.2h-2.2zM40.0 52.0h2.2v2.2h-2.2zM42.0 42.0h2.2v2.2h-2.2zM42.0 52.0h2.2v2.2h-2.2zM42.0 54.0h2.2v2.2h-2.2zM44.0 48.0h2.2v2.2h-2.2zM44.0 50.0h2.2v2.2h-2.2zM44.0 52.0h2.2v2.2h-2.2zM44.0 56.0h2.2v2.2h-2.2zM46.0 50.0h2.2v2.2h-2.2zM46.0 58.0h2.2v2.2h-2.2zM48.0 58.0h2.2v2.2h-2.2zM50.0 58.0h2.2v2.2h-2.2zM52.0 50.0h2.2v2.2h-2.2zM52.0 60.0h2.2v2.2h-2.2zM54.0 50.0h2.2v2.2h-2.2zM56.0 60.0h2.2v2.2h-2.2zM58.0 52.0h2.2v2.2h-2.2zM58.0 60.0h2.2v2.2h-2.2zM58.0 62.0h2.2v2.2h-2.2zM58.0 64.0h2.2v2.2h-2.2zM60.0 54.0h2.2v2.2h-2.2zM60.0 62.0h2.2v2.2h-2.2zM62.0 62.0h2.2v2.2h-2.2zM62.0 64.0h2.2v2.2h-2.2zM62.0 66.0h2.2v2.2h-2.2zM64.0 58.0h2.2v2.2h-2.2zM64.0 60.0h2.2v2.2h-2.2zM64.0 66.0h2.2v2.2h-2.2zM66.0 56.0h2.2v2.2h-2.2zM66.0 58.0h2.2v2.2h-2.2zM66.0 66.0h2.2v2.2h-2.2zM68.0 12.0h2.2v2.2h-2.2zM68.0 58.0h2.2v2.2h-2.2zM68.0 64.0h2.2v2.2h-2.2zM68.0 66.0h2.2v2.2h-2.2zM70.0 10.0h2.2v2.2h-2.2zM70.0 12.0h2.2v2.2h-2.2zM70.0 70.0h2.2v2.2h-2.2zM72.0 64.0h2.2v2.2h-2.2zM72.0 66.0h2.2v2.2h-2.2zM72.0 68.0h2.2v2.2h-2.2zM72.0 70.0h2.2v2.2h-2.2zM74.0 38.0h2.2v2.2h-2.2zM74.0 64.0h2.2v2.2h-2.2z"/>
<path fill="#fa6400" d="M16.0 28.0h2.2v2.2h-2.2zM18.0 28.0h2.2v2.2h-2.2zM18.0 30.0h2.2v2.2h-2.2zM20.0 28.0h2.2v2.2h-2.2zM22.0 28.0h2.2v2.2h-2.2zM26.0 24.0h2.2v2.2h-2.2zM26.0 26.0h2.2v2.2h-2.2zM26.0 28.0h2.2v2.2h-2.2zM28.0 34.0h2.2v2.2h-2.2zM28.0 36.0h2.2v2.2h-2.2zM28.0 38.0h2.2v2.2h-2.2zM30.0 32.0h2.2v2.2h-2.2zM30.0 38.0h2.2v2.2h-2.2zM32.0 38.0h2.2v2.2h-2.2zM32.0 42.0h2.2v2.2h-2.2zM34.0 34.0h2.2v2.2h-2.2zM34.0 38.0h2.2v2.2h-2.2zM34.0 40.0h2.2v2.2h-2.2zM34.0 42.0h2.2v2.2h-2.2zM36.0 36.0h2.2v2.2h-2.2zM36.0 40.0h2.2v2.2h-2.2zM36.0 42.0h2.2v2.2h-2.2zM36.0 46.0h2.2v2.2h-2.2zM40.0 50.0h2.2v2.2h-2.2zM42.0 44.0h2.2v2.2h-2.2zM42.0 50.0h2.2v2.2h-2.2zM44.0 54.0h2.2v2.2h-2.2zM46.0 52.0h2.2v2.2h-2.2zM46.0 56.0h2.2v2.2h-2.2zM48.0 50.0h2.2v2.2h-2.2zM50.0 50.0h2.2v2.2h-2.2zM52.0 58.0h2.2v2.2h-2.2zM54.0 52.0h2.2v2.2h-2.2zM54.0 58.0h2.2v2.2h-2.2zM56.0 52.0h2.2v2.2h-2.2zM58.0 54.0h2.2v2.2h-2.2zM60.0 56.0h2.2v2.2h-2.2zM60.0 60.0h2.2v2.2h-2.2zM62.0 56.0h2.2v2.2h-2.2zM62.0 58.0h2.2v2.2h-2.2zM62.0 60.0h2.2v2.2h-2.2zM64.0 62.0h2.2v2.2h-2.2zM66.0 64.0h2.2v2.2h-2.2zM68.0 60.0h2.2v2.2h-2.2zM70.0 68.0h2.2v2.2h-2.2z"/>
<path fill="#ff9c00" d="M20.0 30.0h2.2v2.2h-2.2zM30.0 34.0h2.2v2.2h-2.2zM30.0 36.0h2.2v2.2h-2.2zM32.0 34.0h2.2v2.2h-2.2zM34.0 36.0h2.2v2.2h-2.2zM36.0 44.0h2.2v2.2h-2.2zM38.0 44.0h2.2v2.2h-2.2zM38.0 46.0h2.2v2.2h-2.2zM40.0 44.0h2.2v2.2h-2.2zM40.0 48.0h2.2v2.2h-2.2zM46.0 54.0h2.2v2.2h-2.2zM48.0 56.0h2.2v2.2h-2.2zM52.0 52.0h2.2v2.2h-2.2zM56.0 54.0h2.2v2.2h-2.2zM56.0 58.0h2.2v2.2h-2.2zM58.0 56.0h2.2v2.2h-2.2zM60.0 58.0h2.2v2.2h-2.2zM64.0 64.0h2.2v2.2h-2.2zM66.0 60.0h2.2v2.2h-2.2zM68.0 62.0h2.2v2.2h-2.2zM70.0 66.0h2.2v2.2h-2.2z"/>
<path fill="#ffd000" d="M40.0 46.0h2.2v2.2h-2.2zM42.0 46.0h2.2v2.2h-2.2zM48.0 52.0h2.2v2.2h-2.2zM50.0 52.0h2.2v2.2h-2.2zM50.0 56.0h2.2v2.2h-2.2zM52.0 56.0h2.2v2.2h-2.2zM54.0 54.0h2.2v2.2h-2.2zM54.0 56.0h2.2v2.2h-2.2zM56.0 56.0h2.2v2.2h-2.2zM58.0 58.0h2.2v2.2h-2.2zM66.0 62.0h2.2v2.2h-2.2z"/>
<path fill="#fff000" d="M32.0 36.0h2.2v2.2h-2.2zM42.0 48.0h2.2v2.2h-2.2zM48.0 54.0h2.2v2.2h-2.2zM50.0 54.0h2.2v2.2h-2.2zM52.0 54.0h2.2v2.2h-2.2z"/>
</g>
<g transform="translate(197.20,150.00) scale(0.6560,0.6288)" clip-path="url(#cLatM)">
<path fill="#dc0000" d="M4.0 32.0h2.2v2.2h-2.2zM6.0 20.0h2.2v2.2h-2.2zM6.0 22.0h2.2v2.2h-2.2zM6.0 26.0h2.2v2.2h-2.2zM6.0 32.0h2.2v2.2h-2.2zM6.0 38.0h2.2v2.2h-2.2zM8.0 18.0h2.2v2.2h-2.2zM8.0 20.0h2.2v2.2h-2.2zM8.0 24.0h2.2v2.2h-2.2zM8.0 26.0h2.2v2.2h-2.2zM8.0 28.0h2.2v2.2h-2.2zM8.0 30.0h2.2v2.2h-2.2zM8.0 32.0h2.2v2.2h-2.2zM8.0 34.0h2.2v2.2h-2.2zM8.0 38.0h2.2v2.2h-2.2zM8.0 40.0h2.2v2.2h-2.2zM10.0 18.0h2.2v2.2h-2.2zM10.0 20.0h2.2v2.2h-2.2zM10.0 22.0h2.2v2.2h-2.2zM10.0 24.0h2.2v2.2h-2.2zM10.0 26.0h2.2v2.2h-2.2zM10.0 32.0h2.2v2.2h-2.2zM12.0 22.0h2.2v2.2h-2.2zM12.0 24.0h2.2v2.2h-2.2zM12.0 26.0h2.2v2.2h-2.2zM12.0 34.0h2.2v2.2h-2.2zM12.0 38.0h2.2v2.2h-2.2zM12.0 40.0h2.2v2.2h-2.2zM14.0 26.0h2.2v2.2h-2.2zM14.0 34.0h2.2v2.2h-2.2zM14.0 36.0h2.2v2.2h-2.2zM14.0 38.0h2.2v2.2h-2.2zM14.0 40.0h2.2v2.2h-2.2zM16.0 18.0h2.2v2.2h-2.2zM16.0 32.0h2.2v2.2h-2.2zM16.0 34.0h2.2v2.2h-2.2zM16.0 36.0h2.2v2.2h-2.2zM18.0 18.0h2.2v2.2h-2.2zM18.0 20.0h2.2v2.2h-2.2zM18.0 22.0h2.2v2.2h-2.2zM18.0 32.0h2.2v2.2h-2.2zM18.0 34.0h2.2v2.2h-2.2zM18.0 36.0h2.2v2.2h-2.2zM18.0 38.0h2.2v2.2h-2.2zM18.0 40.0h2.2v2.2h-2.2zM20.0 22.0h2.2v2.2h-2.2zM20.0 24.0h2.2v2.2h-2.2zM20.0 38.0h2.2v2.2h-2.2zM20.0 40.0h2.2v2.2h-2.2zM22.0 20.0h2.2v2.2h-2.2zM22.0 22.0h2.2v2.2h-2.2zM22.0 38.0h2.2v2.2h-2.2zM22.0 40.0h2.2v2.2h-2.2zM22.0 42.0h2.2v2.2h-2.2zM22.0 44.0h2.2v2.2h-2.2zM24.0 18.0h2.2v2.2h-2.2zM24.0 20.0h2.2v2.2h-2.2zM24.0 38.0h2.2v2.2h-2.2zM24.0 40.0h2.2v2.2h-2.2zM24.0 42.0h2.2v2.2h-2.2zM24.0 44.0h2.2v2.2h-2.2zM26.0 18.0h2.2v2.2h-2.2zM26.0 20.0h2.2v2.2h-2.2zM26.0 26.0h2.2v2.2h-2.2zM26.0 36.0h2.2v2.2h-2.2zM26.0 38.0h2.2v2.2h-2.2zM28.0 16.0h2.2v2.2h-2.2zM28.0 18.0h2.2v2.2h-2.2zM28.0 20.0h2.2v2.2h-2.2zM28.0 22.0h2.2v2.2h-2.2zM28.0 40.0h2.2v2.2h-2.2zM28.0 42.0h2.2v2.2h-2.2zM30.0 16.0h2.2v2.2h-2.2zM30.0 18.0h2.2v2.2h-2.2zM30.0 20.0h2.2v2.2h-2.2zM30.0 22.0h2.2v2.2h-2.2zM30.0 42.0h2.2v2.2h-2.2zM30.0 44.0h2.2v2.2h-2.2zM30.0 48.0h2.2v2.2h-2.2zM30.0 50.0h2.2v2.2h-2.2zM32.0 18.0h2.2v2.2h-2.2zM32.0 20.0h2.2v2.2h-2.2zM32.0 22.0h2.2v2.2h-2.2zM32.0 24.0h2.2v2.2h-2.2zM32.0 26.0h2.2v2.2h-2.2zM32.0 44.0h2.2v2.2h-2.2zM32.0 46.0h2.2v2.2h-2.2zM32.0 48.0h2.2v2.2h-2.2zM32.0 50.0h2.2v2.2h-2.2zM34.0 22.0h2.2v2.2h-2.2zM34.0 24.0h2.2v2.2h-2.2zM34.0 26.0h2.2v2.2h-2.2zM34.0 28.0h2.2v2.2h-2.2zM34.0 30.0h2.2v2.2h-2.2zM34.0 32.0h2.2v2.2h-2.2zM34.0 48.0h2.2v2.2h-2.2zM34.0 50.0h2.2v2.2h-2.2zM34.0 52.0h2.2v2.2h-2.2zM36.0 22.0h2.2v2.2h-2.2zM36.0 26.0h2.2v2.2h-2.2zM36.0 30.0h2.2v2.2h-2.2zM36.0 38.0h2.2v2.2h-2.2zM36.0 50.0h2.2v2.2h-2.2zM36.0 52.0h2.2v2.2h-2.2zM36.0 54.0h2.2v2.2h-2.2zM38.0 14.0h2.2v2.2h-2.2zM38.0 16.0h2.2v2.2h-2.2zM38.0 24.0h2.2v2.2h-2.2zM38.0 26.0h2.2v2.2h-2.2zM38.0 34.0h2.2v2.2h-2.2zM38.0 50.0h2.2v2.2h-2.2zM38.0 52.0h2.2v2.2h-2.2zM38.0 54.0h2.2v2.2h-2.2zM40.0 38.0h2.2v2.2h-2.2zM40.0 40.0h2.2v2.2h-2.2zM40.0 42.0h2.2v2.2h-2.2zM40.0 60.0h2.2v2.2h-2.2zM42.0 36.0h2.2v2.2h-2.2zM42.0 38.0h2.2v2.2h-2.2zM42.0 40.0h2.2v2.2h-2.2zM42.0 42.0h2.2v2.2h-2.2zM42.0 58.0h2.2v2.2h-2.2zM42.0 60.0h2.2v2.2h-2.2zM42.0 62.0h2.2v2.2h-2.2zM44.0 36.0h2.2v2.2h-2.2zM44.0 38.0h2.2v2.2h-2.2zM44.0 40.0h2.2v2.2h-2.2zM44.0 60.0h2.2v2.2h-2.2zM44.0 62.0h2.2v2.2h-2.2zM46.0 40.0h2.2v2.2h-2.2zM46.0 42.0h2.2v2.2h-2.2zM46.0 48.0h2.2v2.2h-2.2zM46.0 58.0h2.2v2.2h-2.2zM46.0 60.0h2.2v2.2h-2.2zM48.0 30.0h2.2v2.2h-2.2zM48.0 32.0h2.2v2.2h-2.2zM48.0 34.0h2.2v2.2h-2.2zM48.0 36.0h2.2v2.2h-2.2zM48.0 44.0h2.2v2.2h-2.2zM48.0 48.0h2.2v2.2h-2.2zM50.0 34.0h2.2v2.2h-2.2zM50.0 36.0h2.2v2.2h-2.2zM50.0 44.0h2.2v2.2h-2.2zM52.0 36.0h2.2v2.2h-2.2zM52.0 46.0h2.2v2.2h-2.2zM52.0 50.0h2.2v2.2h-2.2zM52.0 64.0h2.2v2.2h-2.2zM54.0 48.0h2.2v2.2h-2.2zM54.0 50.0h2.2v2.2h-2.2zM54.0 64.0h2.2v2.2h-2.2zM56.0 48.0h2.2v2.2h-2.2zM56.0 50.0h2.2v2.2h-2.2zM56.0 52.0h2.2v2.2h-2.2zM56.0 64.0h2.2v2.2h-2.2zM56.0 68.0h2.2v2.2h-2.2zM58.0 8.0h2.2v2.2h-2.2zM58.0 48.0h2.2v2.2h-2.2zM58.0 50.0h2.2v2.2h-2.2zM58.0 52.0h2.2v2.2h-2.2zM58.0 64.0h2.2v2.2h-2.2zM58.0 66.0h2.2v2.2h-2.2zM58.0 68.0h2.2v2.2h-2.2zM58.0 76.0h2.2v2.2h-2.2zM60.0 6.0h2.2v2.2h-2.2zM60.0 8.0h2.2v2.2h-2.2zM60.0 10.0h2.2v2.2h-2.2zM60.0 12.0h2.2v2.2h-2.2zM60.0 32.0h2.2v2.2h-2.2zM60.0 48.0h2.2v2.2h-2.2zM60.0 50.0h2.2v2.2h-2.2zM60.0 52.0h2.2v2.2h-2.2zM60.0 64.0h2.2v2.2h-2.2zM60.0 66.0h2.2v2.2h-2.2zM60.0 74.0h2.2v2.2h-2.2zM60.0 76.0h2.2v2.2h-2.2zM62.0 6.0h2.2v2.2h-2.2zM62.0 8.0h2.2v2.2h-2.2zM62.0 10.0h2.2v2.2h-2.2zM62.0 12.0h2.2v2.2h-2.2zM62.0 14.0h2.2v2.2h-2.2zM62.0 18.0h2.2v2.2h-2.2zM62.0 38.0h2.2v2.2h-2.2zM62.0 46.0h2.2v2.2h-2.2zM62.0 50.0h2.2v2.2h-2.2zM62.0 52.0h2.2v2.2h-2.2zM62.0 54.0h2.2v2.2h-2.2zM62.0 68.0h2.2v2.2h-2.2zM64.0 6.0h2.2v2.2h-2.2zM64.0 8.0h2.2v2.2h-2.2zM64.0 10.0h2.2v2.2h-2.2zM64.0 12.0h2.2v2.2h-2.2zM64.0 14.0h2.2v2.2h-2.2zM64.0 16.0h2.2v2.2h-2.2zM64.0 18.0h2.2v2.2h-2.2zM64.0 30.0h2.2v2.2h-2.2zM64.0 32.0h2.2v2.2h-2.2zM64.0 36.0h2.2v2.2h-2.2zM64.0 38.0h2.2v2.2h-2.2zM64.0 42.0h2.2v2.2h-2.2zM64.0 44.0h2.2v2.2h-2.2zM64.0 46.0h2.2v2.2h-2.2zM64.0 52.0h2.2v2.2h-2.2zM64.0 54.0h2.2v2.2h-2.2zM64.0 56.0h2.2v2.2h-2.2zM64.0 72.0h2.2v2.2h-2.2zM64.0 74.0h2.2v2.2h-2.2zM66.0 8.0h2.2v2.2h-2.2zM66.0 10.0h2.2v2.2h-2.2zM66.0 16.0h2.2v2.2h-2.2zM66.0 18.0h2.2v2.2h-2.2zM66.0 26.0h2.2v2.2h-2.2zM66.0 28.0h2.2v2.2h-2.2zM66.0 30.0h2.2v2.2h-2.2zM66.0 32.0h2.2v2.2h-2.2zM66.0 34.0h2.2v2.2h-2.2zM66.0 36.0h2.2v2.2h-2.2zM66.0 38.0h2.2v2.2h-2.2zM66.0 42.0h2.2v2.2h-2.2zM66.0 46.0h2.2v2.2h-2.2zM66.0 48.0h2.2v2.2h-2.2zM66.0 56.0h2.2v2.2h-2.2zM66.0 70.0h2.2v2.2h-2.2zM66.0 74.0h2.2v2.2h-2.2zM68.0 4.0h2.2v2.2h-2.2zM68.0 8.0h2.2v2.2h-2.2zM68.0 10.0h2.2v2.2h-2.2zM68.0 16.0h2.2v2.2h-2.2zM68.0 18.0h2.2v2.2h-2.2zM68.0 26.0h2.2v2.2h-2.2zM68.0 28.0h2.2v2.2h-2.2zM68.0 30.0h2.2v2.2h-2.2zM68.0 34.0h2.2v2.2h-2.2zM68.0 36.0h2.2v2.2h-2.2zM68.0 38.0h2.2v2.2h-2.2zM68.0 40.0h2.2v2.2h-2.2zM68.0 42.0h2.2v2.2h-2.2zM68.0 44.0h2.2v2.2h-2.2zM68.0 50.0h2.2v2.2h-2.2zM68.0 52.0h2.2v2.2h-2.2zM68.0 56.0h2.2v2.2h-2.2zM68.0 72.0h2.2v2.2h-2.2zM68.0 74.0h2.2v2.2h-2.2zM70.0 6.0h2.2v2.2h-2.2zM70.0 8.0h2.2v2.2h-2.2zM70.0 10.0h2.2v2.2h-2.2zM70.0 16.0h2.2v2.2h-2.2zM70.0 18.0h2.2v2.2h-2.2zM70.0 22.0h2.2v2.2h-2.2zM70.0 24.0h2.2v2.2h-2.2zM70.0 26.0h2.2v2.2h-2.2zM70.0 38.0h2.2v2.2h-2.2zM70.0 40.0h2.2v2.2h-2.2zM70.0 42.0h2.2v2.2h-2.2zM70.0 44.0h2.2v2.2h-2.2zM70.0 46.0h2.2v2.2h-2.2zM70.0 48.0h2.2v2.2h-2.2zM70.0 50.0h2.2v2.2h-2.2zM70.0 58.0h2.2v2.2h-2.2zM70.0 64.0h2.2v2.2h-2.2zM70.0 72.0h2.2v2.2h-2.2zM70.0 74.0h2.2v2.2h-2.2zM70.0 76.0h2.2v2.2h-2.2zM72.0 4.0h2.2v2.2h-2.2zM72.0 6.0h2.2v2.2h-2.2zM72.0 8.0h2.2v2.2h-2.2zM72.0 10.0h2.2v2.2h-2.2zM72.0 14.0h2.2v2.2h-2.2zM72.0 16.0h2.2v2.2h-2.2zM72.0 22.0h2.2v2.2h-2.2zM72.0 30.0h2.2v2.2h-2.2zM72.0 32.0h2.2v2.2h-2.2zM72.0 34.0h2.2v2.2h-2.2zM72.0 36.0h2.2v2.2h-2.2zM72.0 40.0h2.2v2.2h-2.2zM72.0 42.0h2.2v2.2h-2.2zM72.0 44.0h2.2v2.2h-2.2zM72.0 46.0h2.2v2.2h-2.2zM72.0 48.0h2.2v2.2h-2.2zM72.0 50.0h2.2v2.2h-2.2zM72.0 60.0h2.2v2.2h-2.2zM72.0 64.0h2.2v2.2h-2.2zM72.0 72.0h2.2v2.2h-2.2zM72.0 76.0h2.2v2.2h-2.2zM74.0 4.0h2.2v2.2h-2.2zM74.0 6.0h2.2v2.2h-2.2zM74.0 8.0h2.2v2.2h-2.2zM74.0 10.0h2.2v2.2h-2.2zM74.0 12.0h2.2v2.2h-2.2zM74.0 14.0h2.2v2.2h-2.2zM74.0 16.0h2.2v2.2h-2.2zM74.0 26.0h2.2v2.2h-2.2zM74.0 28.0h2.2v2.2h-2.2zM74.0 30.0h2.2v2.2h-2.2zM74.0 32.0h2.2v2.2h-2.2zM74.0 40.0h2.2v2.2h-2.2zM74.0 42.0h2.2v2.2h-2.2zM74.0 44.0h2.2v2.2h-2.2zM74.0 46.0h2.2v2.2h-2.2zM74.0 50.0h2.2v2.2h-2.2zM74.0 62.0h2.2v2.2h-2.2zM74.0 64.0h2.2v2.2h-2.2zM74.0 72.0h2.2v2.2h-2.2zM74.0 74.0h2.2v2.2h-2.2zM76.0 6.0h2.2v2.2h-2.2zM76.0 8.0h2.2v2.2h-2.2zM76.0 10.0h2.2v2.2h-2.2zM76.0 12.0h2.2v2.2h-2.2zM76.0 14.0h2.2v2.2h-2.2zM76.0 26.0h2.2v2.2h-2.2zM76.0 28.0h2.2v2.2h-2.2zM76.0 30.0h2.2v2.2h-2.2zM76.0 32.0h2.2v2.2h-2.2zM76.0 34.0h2.2v2.2h-2.2zM76.0 36.0h2.2v2.2h-2.2zM76.0 42.0h2.2v2.2h-2.2zM76.0 44.0h2.2v2.2h-2.2zM76.0 46.0h2.2v2.2h-2.2zM76.0 48.0h2.2v2.2h-2.2zM76.0 62.0h2.2v2.2h-2.2zM76.0 64.0h2.2v2.2h-2.2zM76.0 66.0h2.2v2.2h-2.2zM76.0 68.0h2.2v2.2h-2.2zM76.0 70.0h2.2v2.2h-2.2zM78.0 6.0h2.2v2.2h-2.2zM78.0 8.0h2.2v2.2h-2.2zM78.0 12.0h2.2v2.2h-2.2zM78.0 26.0h2.2v2.2h-2.2zM78.0 28.0h2.2v2.2h-2.2zM78.0 30.0h2.2v2.2h-2.2zM78.0 32.0h2.2v2.2h-2.2zM78.0 34.0h2.2v2.2h-2.2zM78.0 36.0h2.2v2.2h-2.2zM78.0 42.0h2.2v2.2h-2.2zM78.0 44.0h2.2v2.2h-2.2zM78.0 46.0h2.2v2.2h-2.2zM78.0 48.0h2.2v2.2h-2.2zM80.0 24.0h2.2v2.2h-2.2zM80.0 26.0h2.2v2.2h-2.2zM80.0 28.0h2.2v2.2h-2.2zM80.0 30.0h2.2v2.2h-2.2zM80.0 32.0h2.2v2.2h-2.2zM80.0 34.0h2.2v2.2h-2.2zM80.0 36.0h2.2v2.2h-2.2zM80.0 38.0h2.2v2.2h-2.2zM80.0 40.0h2.2v2.2h-2.2zM80.0 42.0h2.2v2.2h-2.2zM80.0 44.0h2.2v2.2h-2.2zM80.0 46.0h2.2v2.2h-2.2zM80.0 48.0h2.2v2.2h-2.2zM82.0 14.0h2.2v2.2h-2.2zM82.0 20.0h2.2v2.2h-2.2zM82.0 26.0h2.2v2.2h-2.2zM82.0 28.0h2.2v2.2h-2.2zM82.0 30.0h2.2v2.2h-2.2zM82.0 32.0h2.2v2.2h-2.2zM82.0 34.0h2.2v2.2h-2.2zM82.0 36.0h2.2v2.2h-2.2zM82.0 38.0h2.2v2.2h-2.2zM82.0 42.0h2.2v2.2h-2.2zM82.0 44.0h2.2v2.2h-2.2zM82.0 48.0h2.2v2.2h-2.2zM84.0 10.0h2.2v2.2h-2.2zM84.0 22.0h2.2v2.2h-2.2zM84.0 24.0h2.2v2.2h-2.2zM84.0 26.0h2.2v2.2h-2.2zM84.0 28.0h2.2v2.2h-2.2zM84.0 30.0h2.2v2.2h-2.2zM84.0 36.0h2.2v2.2h-2.2zM84.0 38.0h2.2v2.2h-2.2zM84.0 42.0h2.2v2.2h-2.2zM84.0 44.0h2.2v2.2h-2.2zM84.0 46.0h2.2v2.2h-2.2zM86.0 26.0h2.2v2.2h-2.2zM86.0 28.0h2.2v2.2h-2.2zM86.0 36.0h2.2v2.2h-2.2zM86.0 40.0h2.2v2.2h-2.2zM86.0 42.0h2.2v2.2h-2.2zM86.0 44.0h2.2v2.2h-2.2zM86.0 46.0h2.2v2.2h-2.2zM86.0 48.0h2.2v2.2h-2.2zM86.0 50.0h2.2v2.2h-2.2zM88.0 24.0h2.2v2.2h-2.2zM88.0 26.0h2.2v2.2h-2.2zM88.0 28.0h2.2v2.2h-2.2zM88.0 30.0h2.2v2.2h-2.2zM88.0 32.0h2.2v2.2h-2.2zM88.0 34.0h2.2v2.2h-2.2zM88.0 36.0h2.2v2.2h-2.2zM88.0 38.0h2.2v2.2h-2.2zM88.0 42.0h2.2v2.2h-2.2zM88.0 44.0h2.2v2.2h-2.2zM88.0 46.0h2.2v2.2h-2.2zM88.0 50.0h2.2v2.2h-2.2zM90.0 26.0h2.2v2.2h-2.2zM90.0 28.0h2.2v2.2h-2.2zM90.0 30.0h2.2v2.2h-2.2zM90.0 34.0h2.2v2.2h-2.2zM90.0 36.0h2.2v2.2h-2.2zM90.0 42.0h2.2v2.2h-2.2zM90.0 44.0h2.2v2.2h-2.2zM90.0 46.0h2.2v2.2h-2.2zM92.0 28.0h2.2v2.2h-2.2zM92.0 32.0h2.2v2.2h-2.2zM92.0 42.0h2.2v2.2h-2.2zM92.0 44.0h2.2v2.2h-2.2zM92.0 46.0h2.2v2.2h-2.2zM94.0 42.0h2.2v2.2h-2.2zM94.0 44.0h2.2v2.2h-2.2zM94.0 46.0h2.2v2.2h-2.2zM96.0 42.0h2.2v2.2h-2.2zM96.0 44.0h2.2v2.2h-2.2z"/>
<path fill="#ee2a00" d="M10.0 28.0h2.2v2.2h-2.2zM10.0 30.0h2.2v2.2h-2.2zM12.0 28.0h2.2v2.2h-2.2zM12.0 30.0h2.2v2.2h-2.2zM12.0 32.0h2.2v2.2h-2.2zM14.0 22.0h2.2v2.2h-2.2zM14.0 24.0h2.2v2.2h-2.2zM14.0 28.0h2.2v2.2h-2.2zM14.0 30.0h2.2v2.2h-2.2zM14.0 32.0h2.2v2.2h-2.2zM16.0 22.0h2.2v2.2h-2.2zM16.0 24.0h2.2v2.2h-2.2zM16.0 26.0h2.2v2.2h-2.2zM16.0 28.0h2.2v2.2h-2.2zM16.0 30.0h2.2v2.2h-2.2zM16.0 38.0h2.2v2.2h-2.2zM18.0 24.0h2.2v2.2h-2.2zM18.0 26.0h2.2v2.2h-2.2zM20.0 26.0h2.2v2.2h-2.2zM20.0 32.0h2.2v2.2h-2.2zM20.0 34.0h2.2v2.2h-2.2zM20.0 36.0h2.2v2.2h-2.2zM22.0 36.0h2.2v2.2h-2.2zM24.0 22.0h2.2v2.2h-2.2zM24.0 24.0h2.2v2.2h-2.2zM24.0 26.0h2.2v2.2h-2.2zM24.0 34.0h2.2v2.2h-2.2zM24.0 36.0h2.2v2.2h-2.2zM26.0 22.0h2.2v2.2h-2.2zM26.0 24.0h2.2v2.2h-2.2zM26.0 34.0h2.2v2.2h-2.2zM28.0 24.0h2.2v2.2h-2.2zM28.0 38.0h2.2v2.2h-2.2zM30.0 24.0h2.2v2.2h-2.2zM30.0 40.0h2.2v2.2h-2.2zM32.0 28.0h2.2v2.2h-2.2zM32.0 30.0h2.2v2.2h-2.2zM32.0 32.0h2.2v2.2h-2.2zM32.0 38.0h2.2v2.2h-2.2zM32.0 40.0h2.2v2.2h-2.2zM32.0 42.0h2.2v2.2h-2.2zM34.0 38.0h2.2v2.2h-2.2zM34.0 40.0h2.2v2.2h-2.2zM34.0 42.0h2.2v2.2h-2.2zM34.0 44.0h2.2v2.2h-2.2zM34.0 46.0h2.2v2.2h-2.2zM36.0 34.0h2.2v2.2h-2.2zM36.0 40.0h2.2v2.2h-2.2zM36.0 42.0h2.2v2.2h-2.2zM36.0 46.0h2.2v2.2h-2.2zM36.0 48.0h2.2v2.2h-2.2zM38.0 36.0h2.2v2.2h-2.2zM38.0 38.0h2.2v2.2h-2.2zM38.0 40.0h2.2v2.2h-2.2zM38.0 42.0h2.2v2.2h-2.2zM40.0 50.0h2.2v2.2h-2.2zM40.0 52.0h2.2v2.2h-2.2zM40.0 54.0h2.2v2.2h-2.2zM42.0 56.0h2.2v2.2h-2.2zM44.0 42.0h2.2v2.2h-2.2zM44.0 48.0h2.2v2.2h-2.2zM44.0 50.0h2.2v2.2h-2.2zM44.0 52.0h2.2v2.2h-2.2zM44.0 54.0h2.2v2.2h-2.2zM44.0 56.0h2.2v2.2h-2.2zM46.0 44.0h2.2v2.2h-2.2zM46.0 46.0h2.2v2.2h-2.2zM46.0 50.0h2.2v2.2h-2.2zM46.0 52.0h2.2v2.2h-2.2zM46.0 54.0h2.2v2.2h-2.2zM46.0 56.0h2.2v2.2h-2.2zM48.0 50.0h2.2v2.2h-2.2zM48.0 56.0h2.2v2.2h-2.2zM48.0 58.0h2.2v2.2h-2.2zM50.0 48.0h2.2v2.2h-2.2zM50.0 50.0h2.2v2.2h-2.2zM50.0 52.0h2.2v2.2h-2.2zM50.0 60.0h2.2v2.2h-2.2zM52.0 48.0h2.2v2.2h-2.2zM52.0 52.0h2.2v2.2h-2.2zM54.0 52.0h2.2v2.2h-2.2zM54.0 58.0h2.2v2.2h-2.2zM56.0 62.0h2.2v2.2h-2.2zM58.0 54.0h2.2v2.2h-2.2zM58.0 62.0h2.2v2.2h-2.2zM60.0 54.0h2.2v2.2h-2.2zM62.0 64.0h2.2v2.2h-2.2zM62.0 66.0h2.2v2.2h-2.2zM64.0 58.0h2.2v2.2h-2.2zM64.0 64.0h2.2v2.2h-2.2zM64.0 68.0h2.2v2.2h-2.2zM66.0 12.0h2.2v2.2h-2.2zM66.0 14.0h2.2v2.2h-2.2zM66.0 58.0h2.2v2.2h-2.2zM66.0 64.0h2.2v2.2h-2.2zM68.0 12.0h2.2v2.2h-2.2zM68.0 14.0h2.2v2.2h-2.2zM68.0 58.0h2.2v2.2h-2.2zM68.0 64.0h2.2v2.2h-2.2zM68.0 70.0h2.2v2.2h-2.2zM70.0 12.0h2.2v2.2h-2.2zM70.0 14.0h2.2v2.2h-2.2zM70.0 60.0h2.2v2.2h-2.2zM70.0 66.0h2.2v2.2h-2.2zM70.0 68.0h2.2v2.2h-2.2zM70.0 70.0h2.2v2.2h-2.2zM72.0 12.0h2.2v2.2h-2.2zM72.0 38.0h2.2v2.2h-2.2zM72.0 62.0h2.2v2.2h-2.2zM72.0 66.0h2.2v2.2h-2.2zM72.0 70.0h2.2v2.2h-2.2zM74.0 34.0h2.2v2.2h-2.2zM74.0 36.0h2.2v2.2h-2.2zM74.0 38.0h2.2v2.2h-2.2zM74.0 66.0h2.2v2.2h-2.2zM74.0 68.0h2.2v2.2h-2.2zM74.0 70.0h2.2v2.2h-2.2zM76.0 38.0h2.2v2.2h-2.2zM76.0 40.0h2.2v2.2h-2.2zM78.0 38.0h2.2v2.2h-2.2zM78.0 40.0h2.2v2.2h-2.2z"/>
<path fill="#fa6400" d="M18.0 30.0h2.2v2.2h-2.2zM22.0 24.0h2.2v2.2h-2.2zM22.0 26.0h2.2v2.2h-2.2zM22.0 32.0h2.2v2.2h-2.2zM22.0 34.0h2.2v2.2h-2.2zM24.0 28.0h2.2v2.2h-2.2zM24.0 32.0h2.2v2.2h-2.2zM28.0 28.0h2.2v2.2h-2.2zM28.0 36.0h2.2v2.2h-2.2zM30.0 26.0h2.2v2.2h-2.2zM30.0 28.0h2.2v2.2h-2.2zM30.0 30.0h2.2v2.2h-2.2zM30.0 38.0h2.2v2.2h-2.2zM34.0 34.0h2.2v2.2h-2.2zM36.0 36.0h2.2v2.2h-2.2zM36.0 44.0h2.2v2.2h-2.2zM38.0 48.0h2.2v2.2h-2.2zM40.0 48.0h2.2v2.2h-2.2zM42.0 44.0h2.2v2.2h-2.2zM42.0 48.0h2.2v2.2h-2.2zM42.0 54.0h2.2v2.2h-2.2zM44.0 44.0h2.2v2.2h-2.2zM44.0 46.0h2.2v2.2h-2.2zM48.0 52.0h2.2v2.2h-2.2zM48.0 54.0h2.2v2.2h-2.2zM50.0 58.0h2.2v2.2h-2.2zM52.0 58.0h2.2v2.2h-2.2zM52.0 60.0h2.2v2.2h-2.2zM54.0 54.0h2.2v2.2h-2.2zM54.0 56.0h2.2v2.2h-2.2zM54.0 60.0h2.2v2.2h-2.2zM56.0 54.0h2.2v2.2h-2.2zM56.0 58.0h2.2v2.2h-2.2zM56.0 60.0h2.2v2.2h-2.2zM60.0 62.0h2.2v2.2h-2.2zM62.0 56.0h2.2v2.2h-2.2zM62.0 62.0h2.2v2.2h-2.2zM64.0 62.0h2.2v2.2h-2.2zM64.0 66.0h2.2v2.2h-2.2zM66.0 60.0h2.2v2.2h-2.2zM66.0 68.0h2.2v2.2h-2.2zM68.0 60.0h2.2v2.2h-2.2zM68.0 62.0h2.2v2.2h-2.2zM70.0 62.0h2.2v2.2h-2.2zM72.0 68.0h2.2v2.2h-2.2z"/>
<path fill="#ff9c00" d="M18.0 28.0h2.2v2.2h-2.2zM20.0 28.0h2.2v2.2h-2.2zM20.0 30.0h2.2v2.2h-2.2zM22.0 28.0h2.2v2.2h-2.2zM22.0 30.0h2.2v2.2h-2.2zM24.0 30.0h2.2v2.2h-2.2zM26.0 28.0h2.2v2.2h-2.2zM26.0 32.0h2.2v2.2h-2.2zM28.0 26.0h2.2v2.2h-2.2zM28.0 30.0h2.2v2.2h-2.2zM28.0 34.0h2.2v2.2h-2.2zM30.0 32.0h2.2v2.2h-2.2zM34.0 36.0h2.2v2.2h-2.2zM38.0 44.0h2.2v2.2h-2.2zM38.0 46.0h2.2v2.2h-2.2zM40.0 44.0h2.2v2.2h-2.2zM42.0 46.0h2.2v2.2h-2.2zM42.0 50.0h2.2v2.2h-2.2zM42.0 52.0h2.2v2.2h-2.2zM50.0 56.0h2.2v2.2h-2.2zM56.0 56.0h2.2v2.2h-2.2zM58.0 56.0h2.2v2.2h-2.2zM58.0 60.0h2.2v2.2h-2.2zM60.0 56.0h2.2v2.2h-2.2zM64.0 60.0h2.2v2.2h-2.2zM66.0 62.0h2.2v2.2h-2.2zM66.0 66.0h2.2v2.2h-2.2zM68.0 66.0h2.2v2.2h-2.2zM68.0 68.0h2.2v2.2h-2.2z"/>
<path fill="#ffd000" d="M26.0 30.0h2.2v2.2h-2.2zM28.0 32.0h2.2v2.2h-2.2zM30.0 36.0h2.2v2.2h-2.2zM32.0 34.0h2.2v2.2h-2.2zM40.0 46.0h2.2v2.2h-2.2zM50.0 54.0h2.2v2.2h-2.2zM52.0 54.0h2.2v2.2h-2.2zM52.0 56.0h2.2v2.2h-2.2zM60.0 60.0h2.2v2.2h-2.2zM62.0 58.0h2.2v2.2h-2.2z"/>
<path fill="#fff000" d="M30.0 34.0h2.2v2.2h-2.2zM32.0 36.0h2.2v2.2h-2.2zM58.0 58.0h2.2v2.2h-2.2zM60.0 58.0h2.2v2.2h-2.2zM62.0 60.0h2.2v2.2h-2.2z"/>
</g>
<g transform="translate(275.60,151.70) scale(0.6640,0.6538)" clip-path="url(#cLatM)">
<path fill="#dc0000" d="M16.0 24.0h2.2v2.2h-2.2zM16.0 26.0h2.2v2.2h-2.2zM18.0 16.0h2.2v2.2h-2.2zM18.0 18.0h2.2v2.2h-2.2zM18.0 24.0h2.2v2.2h-2.2zM18.0 26.0h2.2v2.2h-2.2zM20.0 16.0h2.2v2.2h-2.2zM20.0 18.0h2.2v2.2h-2.2zM20.0 28.0h2.2v2.2h-2.2zM20.0 44.0h2.2v2.2h-2.2zM22.0 22.0h2.2v2.2h-2.2zM22.0 24.0h2.2v2.2h-2.2zM22.0 26.0h2.2v2.2h-2.2zM22.0 28.0h2.2v2.2h-2.2zM22.0 30.0h2.2v2.2h-2.2zM22.0 36.0h2.2v2.2h-2.2zM22.0 40.0h2.2v2.2h-2.2zM22.0 42.0h2.2v2.2h-2.2zM22.0 44.0h2.2v2.2h-2.2zM24.0 22.0h2.2v2.2h-2.2zM24.0 26.0h2.2v2.2h-2.2zM24.0 28.0h2.2v2.2h-2.2zM24.0 30.0h2.2v2.2h-2.2zM24.0 32.0h2.2v2.2h-2.2zM24.0 34.0h2.2v2.2h-2.2zM24.0 36.0h2.2v2.2h-2.2zM24.0 40.0h2.2v2.2h-2.2zM24.0 42.0h2.2v2.2h-2.2zM24.0 44.0h2.2v2.2h-2.2zM24.0 46.0h2.2v2.2h-2.2zM24.0 48.0h2.2v2.2h-2.2zM26.0 24.0h2.2v2.2h-2.2zM26.0 26.0h2.2v2.2h-2.2zM26.0 28.0h2.2v2.2h-2.2zM26.0 30.0h2.2v2.2h-2.2zM26.0 32.0h2.2v2.2h-2.2zM26.0 34.0h2.2v2.2h-2.2zM26.0 36.0h2.2v2.2h-2.2zM26.0 38.0h2.2v2.2h-2.2zM26.0 40.0h2.2v2.2h-2.2zM26.0 42.0h2.2v2.2h-2.2zM26.0 44.0h2.2v2.2h-2.2zM26.0 46.0h2.2v2.2h-2.2zM26.0 48.0h2.2v2.2h-2.2zM28.0 18.0h2.2v2.2h-2.2zM28.0 22.0h2.2v2.2h-2.2zM28.0 24.0h2.2v2.2h-2.2zM28.0 26.0h2.2v2.2h-2.2zM28.0 34.0h2.2v2.2h-2.2zM28.0 36.0h2.2v2.2h-2.2zM28.0 38.0h2.2v2.2h-2.2zM28.0 40.0h2.2v2.2h-2.2zM28.0 42.0h2.2v2.2h-2.2zM28.0 44.0h2.2v2.2h-2.2zM28.0 46.0h2.2v2.2h-2.2zM28.0 48.0h2.2v2.2h-2.2zM30.0 16.0h2.2v2.2h-2.2zM30.0 20.0h2.2v2.2h-2.2zM30.0 22.0h2.2v2.2h-2.2zM30.0 24.0h2.2v2.2h-2.2zM30.0 26.0h2.2v2.2h-2.2zM30.0 38.0h2.2v2.2h-2.2zM30.0 40.0h2.2v2.2h-2.2zM30.0 44.0h2.2v2.2h-2.2zM30.0 46.0h2.2v2.2h-2.2zM30.0 48.0h2.2v2.2h-2.2zM32.0 18.0h2.2v2.2h-2.2zM32.0 20.0h2.2v2.2h-2.2zM32.0 22.0h2.2v2.2h-2.2zM32.0 24.0h2.2v2.2h-2.2zM32.0 26.0h2.2v2.2h-2.2zM32.0 32.0h2.2v2.2h-2.2zM32.0 38.0h2.2v2.2h-2.2zM32.0 44.0h2.2v2.2h-2.2zM32.0 46.0h2.2v2.2h-2.2zM32.0 48.0h2.2v2.2h-2.2zM32.0 50.0h2.2v2.2h-2.2zM34.0 20.0h2.2v2.2h-2.2zM34.0 22.0h2.2v2.2h-2.2zM34.0 24.0h2.2v2.2h-2.2zM34.0 26.0h2.2v2.2h-2.2zM34.0 32.0h2.2v2.2h-2.2zM34.0 34.0h2.2v2.2h-2.2zM34.0 36.0h2.2v2.2h-2.2zM34.0 38.0h2.2v2.2h-2.2zM34.0 40.0h2.2v2.2h-2.2zM34.0 50.0h2.2v2.2h-2.2zM34.0 52.0h2.2v2.2h-2.2zM36.0 20.0h2.2v2.2h-2.2zM36.0 22.0h2.2v2.2h-2.2zM36.0 24.0h2.2v2.2h-2.2zM36.0 26.0h2.2v2.2h-2.2zM36.0 32.0h2.2v2.2h-2.2zM36.0 34.0h2.2v2.2h-2.2zM36.0 36.0h2.2v2.2h-2.2zM36.0 38.0h2.2v2.2h-2.2zM36.0 40.0h2.2v2.2h-2.2zM36.0 42.0h2.2v2.2h-2.2zM36.0 50.0h2.2v2.2h-2.2zM36.0 52.0h2.2v2.2h-2.2zM36.0 54.0h2.2v2.2h-2.2zM38.0 22.0h2.2v2.2h-2.2zM38.0 24.0h2.2v2.2h-2.2zM38.0 26.0h2.2v2.2h-2.2zM38.0 28.0h2.2v2.2h-2.2zM38.0 30.0h2.2v2.2h-2.2zM38.0 32.0h2.2v2.2h-2.2zM38.0 34.0h2.2v2.2h-2.2zM38.0 36.0h2.2v2.2h-2.2zM38.0 38.0h2.2v2.2h-2.2zM38.0 40.0h2.2v2.2h-2.2zM38.0 42.0h2.2v2.2h-2.2zM38.0 50.0h2.2v2.2h-2.2zM40.0 24.0h2.2v2.2h-2.2zM40.0 26.0h2.2v2.2h-2.2zM40.0 30.0h2.2v2.2h-2.2zM40.0 32.0h2.2v2.2h-2.2zM40.0 34.0h2.2v2.2h-2.2zM40.0 36.0h2.2v2.2h-2.2zM40.0 38.0h2.2v2.2h-2.2zM40.0 40.0h2.2v2.2h-2.2zM40.0 42.0h2.2v2.2h-2.2zM40.0 44.0h2.2v2.2h-2.2zM40.0 50.0h2.2v2.2h-2.2zM40.0 52.0h2.2v2.2h-2.2zM40.0 54.0h2.2v2.2h-2.2zM40.0 56.0h2.2v2.2h-2.2zM42.0 22.0h2.2v2.2h-2.2zM42.0 24.0h2.2v2.2h-2.2zM42.0 26.0h2.2v2.2h-2.2zM42.0 42.0h2.2v2.2h-2.2zM42.0 44.0h2.2v2.2h-2.2zM42.0 46.0h2.2v2.2h-2.2zM42.0 50.0h2.2v2.2h-2.2zM42.0 52.0h2.2v2.2h-2.2zM44.0 32.0h2.2v2.2h-2.2zM44.0 34.0h2.2v2.2h-2.2zM44.0 40.0h2.2v2.2h-2.2zM44.0 46.0h2.2v2.2h-2.2zM44.0 50.0h2.2v2.2h-2.2zM44.0 52.0h2.2v2.2h-2.2zM44.0 54.0h2.2v2.2h-2.2zM46.0 46.0h2.2v2.2h-2.2zM46.0 48.0h2.2v2.2h-2.2zM46.0 52.0h2.2v2.2h-2.2zM46.0 54.0h2.2v2.2h-2.2zM46.0 56.0h2.2v2.2h-2.2zM46.0 58.0h2.2v2.2h-2.2zM48.0 44.0h2.2v2.2h-2.2zM48.0 46.0h2.2v2.2h-2.2zM48.0 52.0h2.2v2.2h-2.2zM48.0 54.0h2.2v2.2h-2.2zM48.0 56.0h2.2v2.2h-2.2zM48.0 58.0h2.2v2.2h-2.2zM50.0 46.0h2.2v2.2h-2.2zM50.0 48.0h2.2v2.2h-2.2zM50.0 54.0h2.2v2.2h-2.2zM50.0 56.0h2.2v2.2h-2.2zM52.0 46.0h2.2v2.2h-2.2zM52.0 48.0h2.2v2.2h-2.2zM52.0 54.0h2.2v2.2h-2.2zM52.0 56.0h2.2v2.2h-2.2zM54.0 46.0h2.2v2.2h-2.2zM54.0 48.0h2.2v2.2h-2.2zM54.0 54.0h2.2v2.2h-2.2zM54.0 56.0h2.2v2.2h-2.2zM54.0 58.0h2.2v2.2h-2.2zM56.0 46.0h2.2v2.2h-2.2zM56.0 48.0h2.2v2.2h-2.2zM56.0 54.0h2.2v2.2h-2.2zM56.0 56.0h2.2v2.2h-2.2zM56.0 58.0h2.2v2.2h-2.2zM58.0 12.0h2.2v2.2h-2.2zM58.0 14.0h2.2v2.2h-2.2zM58.0 46.0h2.2v2.2h-2.2zM58.0 48.0h2.2v2.2h-2.2zM58.0 50.0h2.2v2.2h-2.2zM58.0 52.0h2.2v2.2h-2.2zM58.0 54.0h2.2v2.2h-2.2zM58.0 56.0h2.2v2.2h-2.2zM60.0 12.0h2.2v2.2h-2.2zM60.0 14.0h2.2v2.2h-2.2zM60.0 16.0h2.2v2.2h-2.2zM60.0 48.0h2.2v2.2h-2.2zM60.0 50.0h2.2v2.2h-2.2zM60.0 52.0h2.2v2.2h-2.2zM60.0 54.0h2.2v2.2h-2.2zM60.0 56.0h2.2v2.2h-2.2zM62.0 12.0h2.2v2.2h-2.2zM62.0 14.0h2.2v2.2h-2.2zM62.0 16.0h2.2v2.2h-2.2zM62.0 48.0h2.2v2.2h-2.2zM62.0 50.0h2.2v2.2h-2.2zM62.0 52.0h2.2v2.2h-2.2zM62.0 54.0h2.2v2.2h-2.2zM62.0 56.0h2.2v2.2h-2.2zM64.0 6.0h2.2v2.2h-2.2zM64.0 14.0h2.2v2.2h-2.2zM64.0 52.0h2.2v2.2h-2.2zM64.0 54.0h2.2v2.2h-2.2zM64.0 56.0h2.2v2.2h-2.2zM64.0 62.0h2.2v2.2h-2.2zM64.0 64.0h2.2v2.2h-2.2zM64.0 66.0h2.2v2.2h-2.2zM66.0 4.0h2.2v2.2h-2.2zM66.0 6.0h2.2v2.2h-2.2zM66.0 28.0h2.2v2.2h-2.2zM66.0 30.0h2.2v2.2h-2.2zM66.0 60.0h2.2v2.2h-2.2zM66.0 62.0h2.2v2.2h-2.2zM66.0 64.0h2.2v2.2h-2.2zM66.0 66.0h2.2v2.2h-2.2zM68.0 4.0h2.2v2.2h-2.2zM68.0 6.0h2.2v2.2h-2.2zM68.0 28.0h2.2v2.2h-2.2zM68.0 30.0h2.2v2.2h-2.2zM68.0 62.0h2.2v2.2h-2.2zM68.0 64.0h2.2v2.2h-2.2zM70.0 4.0h2.2v2.2h-2.2zM70.0 6.0h2.2v2.2h-2.2zM70.0 42.0h2.2v2.2h-2.2zM70.0 44.0h2.2v2.2h-2.2zM70.0 46.0h2.2v2.2h-2.2zM72.0 38.0h2.2v2.2h-2.2zM72.0 40.0h2.2v2.2h-2.2zM72.0 42.0h2.2v2.2h-2.2zM72.0 44.0h2.2v2.2h-2.2zM72.0 46.0h2.2v2.2h-2.2zM72.0 48.0h2.2v2.2h-2.2zM74.0 38.0h2.2v2.2h-2.2zM74.0 40.0h2.2v2.2h-2.2zM74.0 42.0h2.2v2.2h-2.2zM74.0 44.0h2.2v2.2h-2.2zM74.0 46.0h2.2v2.2h-2.2zM74.0 48.0h2.2v2.2h-2.2zM74.0 50.0h2.2v2.2h-2.2zM76.0 38.0h2.2v2.2h-2.2zM76.0 40.0h2.2v2.2h-2.2zM76.0 42.0h2.2v2.2h-2.2zM76.0 44.0h2.2v2.2h-2.2zM76.0 46.0h2.2v2.2h-2.2zM76.0 48.0h2.2v2.2h-2.2zM76.0 50.0h2.2v2.2h-2.2zM78.0 32.0h2.2v2.2h-2.2zM78.0 34.0h2.2v2.2h-2.2zM78.0 38.0h2.2v2.2h-2.2zM78.0 40.0h2.2v2.2h-2.2zM78.0 42.0h2.2v2.2h-2.2zM78.0 44.0h2.2v2.2h-2.2zM78.0 46.0h2.2v2.2h-2.2zM78.0 48.0h2.2v2.2h-2.2zM80.0 32.0h2.2v2.2h-2.2zM80.0 34.0h2.2v2.2h-2.2zM80.0 42.0h2.2v2.2h-2.2zM80.0 44.0h2.2v2.2h-2.2zM80.0 46.0h2.2v2.2h-2.2zM82.0 16.0h2.2v2.2h-2.2zM82.0 18.0h2.2v2.2h-2.2zM82.0 32.0h2.2v2.2h-2.2zM84.0 16.0h2.2v2.2h-2.2zM84.0 18.0h2.2v2.2h-2.2z"/>
<path fill="#ee2a00" d="M28.0 28.0h2.2v2.2h-2.2zM28.0 30.0h2.2v2.2h-2.2zM28.0 32.0h2.2v2.2h-2.2zM30.0 28.0h2.2v2.2h-2.2zM30.0 32.0h2.2v2.2h-2.2zM30.0 34.0h2.2v2.2h-2.2zM30.0 36.0h2.2v2.2h-2.2zM30.0 42.0h2.2v2.2h-2.2zM32.0 28.0h2.2v2.2h-2.2zM32.0 34.0h2.2v2.2h-2.2zM32.0 36.0h2.2v2.2h-2.2zM32.0 40.0h2.2v2.2h-2.2zM32.0 42.0h2.2v2.2h-2.2zM34.0 28.0h2.2v2.2h-2.2zM34.0 30.0h2.2v2.2h-2.2zM34.0 42.0h2.2v2.2h-2.2zM34.0 44.0h2.2v2.2h-2.2zM34.0 46.0h2.2v2.2h-2.2zM34.0 48.0h2.2v2.2h-2.2zM36.0 28.0h2.2v2.2h-2.2zM36.0 30.0h2.2v2.2h-2.2zM36.0 44.0h2.2v2.2h-2.2zM36.0 46.0h2.2v2.2h-2.2zM36.0 48.0h2.2v2.2h-2.2zM38.0 44.0h2.2v2.2h-2.2zM38.0 48.0h2.2v2.2h-2.2zM40.0 46.0h2.2v2.2h-2.2zM44.0 48.0h2.2v2.2h-2.2zM46.0 50.0h2.2v2.2h-2.2zM48.0 48.0h2.2v2.2h-2.2zM48.0 50.0h2.2v2.2h-2.2zM50.0 50.0h2.2v2.2h-2.2zM50.0 52.0h2.2v2.2h-2.2zM52.0 50.0h2.2v2.2h-2.2zM52.0 52.0h2.2v2.2h-2.2zM54.0 50.0h2.2v2.2h-2.2zM56.0 50.0h2.2v2.2h-2.2zM56.0 52.0h2.2v2.2h-2.2z"/>
<path fill="#fa6400" d="M30.0 30.0h2.2v2.2h-2.2zM32.0 30.0h2.2v2.2h-2.2zM38.0 46.0h2.2v2.2h-2.2zM40.0 48.0h2.2v2.2h-2.2zM42.0 48.0h2.2v2.2h-2.2zM54.0 52.0h2.2v2.2h-2.2z"/>
</g>
<g transform="translate(356.50,151.70) scale(0.6570,0.6550)" clip-path="url(#cLatM)">
<path fill="#dc0000" d="M30.0 20.0h2.2v2.2h-2.2zM30.0 24.0h2.2v2.2h-2.2zM30.0 26.0h2.2v2.2h-2.2zM32.0 18.0h2.2v2.2h-2.2zM32.0 20.0h2.2v2.2h-2.2zM32.0 22.0h2.2v2.2h-2.2zM32.0 24.0h2.2v2.2h-2.2zM32.0 26.0h2.2v2.2h-2.2zM32.0 28.0h2.2v2.2h-2.2zM34.0 18.0h2.2v2.2h-2.2zM34.0 20.0h2.2v2.2h-2.2zM34.0 22.0h2.2v2.2h-2.2zM34.0 24.0h2.2v2.2h-2.2zM34.0 26.0h2.2v2.2h-2.2zM34.0 44.0h2.2v2.2h-2.2zM36.0 42.0h2.2v2.2h-2.2zM36.0 44.0h2.2v2.2h-2.2zM40.0 46.0h2.2v2.2h-2.2zM40.0 48.0h2.2v2.2h-2.2zM42.0 52.0h2.2v2.2h-2.2zM44.0 50.0h2.2v2.2h-2.2zM44.0 52.0h2.2v2.2h-2.2zM46.0 50.0h2.2v2.2h-2.2zM46.0 52.0h2.2v2.2h-2.2zM46.0 54.0h2.2v2.2h-2.2zM48.0 50.0h2.2v2.2h-2.2zM48.0 52.0h2.2v2.2h-2.2zM60.0 4.0h2.2v2.2h-2.2zM60.0 6.0h2.2v2.2h-2.2zM62.0 4.0h2.2v2.2h-2.2zM62.0 6.0h2.2v2.2h-2.2zM64.0 4.0h2.2v2.2h-2.2zM64.0 6.0h2.2v2.2h-2.2zM64.0 28.0h2.2v2.2h-2.2zM66.0 4.0h2.2v2.2h-2.2zM66.0 6.0h2.2v2.2h-2.2zM66.0 28.0h2.2v2.2h-2.2zM68.0 4.0h2.2v2.2h-2.2zM74.0 48.0h2.2v2.2h-2.2zM76.0 46.0h2.2v2.2h-2.2zM76.0 48.0h2.2v2.2h-2.2zM76.0 50.0h2.2v2.2h-2.2zM78.0 46.0h2.2v2.2h-2.2zM78.0 48.0h2.2v2.2h-2.2zM78.0 50.0h2.2v2.2h-2.2z"/>
</g>
<g transform="translate(438.30,150.00) scale(0.6570,0.6600)" clip-path="url(#cLatM)">
<path fill="#dc0000" d="M28.0 30.0h2.2v2.2h-2.2zM28.0 32.0h2.2v2.2h-2.2zM30.0 22.0h2.2v2.2h-2.2zM30.0 24.0h2.2v2.2h-2.2zM30.0 30.0h2.2v2.2h-2.2zM32.0 26.0h2.2v2.2h-2.2zM34.0 24.0h2.2v2.2h-2.2zM36.0 42.0h2.2v2.2h-2.2zM46.0 52.0h2.2v2.2h-2.2zM48.0 52.0h2.2v2.2h-2.2zM50.0 52.0h2.2v2.2h-2.2zM68.0 6.0h2.2v2.2h-2.2zM68.0 8.0h2.2v2.2h-2.2zM68.0 26.0h2.2v2.2h-2.2zM68.0 28.0h2.2v2.2h-2.2zM68.0 66.0h2.2v2.2h-2.2zM68.0 68.0h2.2v2.2h-2.2zM70.0 8.0h2.2v2.2h-2.2zM70.0 66.0h2.2v2.2h-2.2zM70.0 68.0h2.2v2.2h-2.2zM72.0 30.0h2.2v2.2h-2.2zM72.0 32.0h2.2v2.2h-2.2zM74.0 30.0h2.2v2.2h-2.2zM74.0 46.0h2.2v2.2h-2.2zM76.0 44.0h2.2v2.2h-2.2zM76.0 46.0h2.2v2.2h-2.2zM76.0 48.0h2.2v2.2h-2.2zM78.0 44.0h2.2v2.2h-2.2zM78.0 46.0h2.2v2.2h-2.2zM78.0 48.0h2.2v2.2h-2.2z"/>
<path fill="#ee2a00" d="M32.0 22.0h2.2v2.2h-2.2zM32.0 24.0h2.2v2.2h-2.2z"/>
</g>
<g transform="translate(518.70,148.90) scale(0.6560,0.6575)" clip-path="url(#cLatM)">
<path fill="#dc0000" d="M28.0 42.0h2.2v2.2h-2.2zM30.0 34.0h2.2v2.2h-2.2zM32.0 22.0h2.2v2.2h-2.2zM32.0 24.0h2.2v2.2h-2.2zM34.0 22.0h2.2v2.2h-2.2zM38.0 44.0h2.2v2.2h-2.2zM40.0 42.0h2.2v2.2h-2.2zM40.0 44.0h2.2v2.2h-2.2zM42.0 42.0h2.2v2.2h-2.2zM42.0 44.0h2.2v2.2h-2.2zM46.0 48.0h2.2v2.2h-2.2zM46.0 50.0h2.2v2.2h-2.2zM48.0 48.0h2.2v2.2h-2.2zM48.0 50.0h2.2v2.2h-2.2zM50.0 48.0h2.2v2.2h-2.2zM50.0 50.0h2.2v2.2h-2.2zM66.0 8.0h2.2v2.2h-2.2zM68.0 8.0h2.2v2.2h-2.2zM68.0 10.0h2.2v2.2h-2.2zM70.0 8.0h2.2v2.2h-2.2zM70.0 30.0h2.2v2.2h-2.2zM70.0 32.0h2.2v2.2h-2.2zM72.0 30.0h2.2v2.2h-2.2zM74.0 46.0h2.2v2.2h-2.2zM76.0 46.0h2.2v2.2h-2.2zM76.0 48.0h2.2v2.2h-2.2zM78.0 46.0h2.2v2.2h-2.2zM78.0 48.0h2.2v2.2h-2.2z"/>
</g>
<g transform="translate(598.30,149.70) scale(0.6830,0.6788)" clip-path="url(#cLatM)">
<path fill="#dc0000" d="M18.0 20.0h2.2v2.2h-2.2zM18.0 22.0h2.2v2.2h-2.2zM18.0 24.0h2.2v2.2h-2.2zM24.0 36.0h2.2v2.2h-2.2zM24.0 38.0h2.2v2.2h-2.2zM24.0 40.0h2.2v2.2h-2.2zM26.0 36.0h2.2v2.2h-2.2zM26.0 38.0h2.2v2.2h-2.2zM26.0 40.0h2.2v2.2h-2.2zM28.0 36.0h2.2v2.2h-2.2zM28.0 38.0h2.2v2.2h-2.2zM38.0 50.0h2.2v2.2h-2.2zM40.0 48.0h2.2v2.2h-2.2zM40.0 50.0h2.2v2.2h-2.2zM46.0 52.0h2.2v2.2h-2.2zM46.0 54.0h2.2v2.2h-2.2zM48.0 52.0h2.2v2.2h-2.2zM48.0 54.0h2.2v2.2h-2.2zM64.0 6.0h2.2v2.2h-2.2zM64.0 8.0h2.2v2.2h-2.2zM66.0 6.0h2.2v2.2h-2.2zM66.0 8.0h2.2v2.2h-2.2zM78.0 34.0h2.2v2.2h-2.2zM80.0 32.0h2.2v2.2h-2.2zM80.0 34.0h2.2v2.2h-2.2z"/>
</g>
<defs><linearGradient id="gHot" x1="0" x2="1" y1="0" y2="0"><stop offset="0" stop-color="#c80000"/><stop offset="0.3" stop-color="#e03800"/><stop offset="0.65" stop-color="#ff8c00"/><stop offset="1" stop-color="#ffff00"/></linearGradient></defs>
<rect x="301.5" y="230" width="22.5" height="10.4" fill="#808080"/>
<rect x="324" y="230" width="69.5" height="10.4" fill="url(#gHot)"/>
<rect x="301.5" y="230" width="92" height="10.4" fill="none" stroke="#333" stroke-width="0.6"/>
<line x1="301.5" y1="240.4" x2="301.5" y2="242" stroke="#333" stroke-width="0.6"/>
<line x1="324" y1="240.4" x2="324" y2="242" stroke="#333" stroke-width="0.6"/>
<line x1="341.4" y1="240.4" x2="341.4" y2="242" stroke="#333" stroke-width="0.6"/>
<line x1="359.3" y1="240.4" x2="359.3" y2="242" stroke="#333" stroke-width="0.6"/>
<line x1="376.4" y1="240.4" x2="376.4" y2="242" stroke="#333" stroke-width="0.6"/>
<line x1="393.5" y1="240.4" x2="393.5" y2="242" stroke="#333" stroke-width="0.6"/>
<text x="295.8" y="249.6" font-family='"Liberation Serif", serif' font-size="7" font-weight="normal" font-style="normal" fill="#222" text-anchor="start" textLength="13.2" lengthAdjust="spacingAndGlyphs" >0.00</text>
<text x="318" y="249.6" font-family='"Liberation Serif", serif' font-size="7" font-weight="normal" font-style="normal" fill="#222" text-anchor="start" textLength="13.2" lengthAdjust="spacingAndGlyphs" >0.06</text>
<text x="335" y="249.6" font-family='"Liberation Serif", serif' font-size="7" font-weight="normal" font-style="normal" fill="#222" text-anchor="start" textLength="13.2" lengthAdjust="spacingAndGlyphs" >0.08</text>
<text x="352.8" y="249.6" font-family='"Liberation Serif", serif' font-size="7" font-weight="normal" font-style="normal" fill="#222" text-anchor="start" textLength="13.2" lengthAdjust="spacingAndGlyphs" >0.10</text>
<text x="370" y="249.6" font-family='"Liberation Serif", serif' font-size="7" font-weight="normal" font-style="normal" fill="#222" text-anchor="start" textLength="13.2" lengthAdjust="spacingAndGlyphs" >0.12</text>
<text x="387.3" y="249.6" font-family='"Liberation Serif", serif' font-size="7" font-weight="normal" font-style="normal" fill="#222" text-anchor="start" textLength="13.2" lengthAdjust="spacingAndGlyphs" >0.15</text>
<text x="314" y="262.3" font-family='"Liberation Sans", sans-serif' font-size="9.6" font-weight="bold" fill="#111" textLength="70" lengthAdjust="spacingAndGlyphs">Averaged <tspan font-style="italic">r</tspan> score</text>
<text x="327" y="272" font-family='"Liberation Sans", sans-serif' font-size="8" fill="#111" textLength="44.8" lengthAdjust="spacingAndGlyphs">(<tspan font-style="italic">q</tspan><tspan font-size="5.5" font-style="italic" dy="1.5">FDR</tspan><tspan dy="-1.5"> &lt; 0.05)</tspan></text>
<text x="17.4" y="296" font-family='"Liberation Sans", sans-serif' font-size="12" font-weight="bold" font-style="normal" fill="#000" text-anchor="start" textLength="10.2" lengthAdjust="spacingAndGlyphs" >b.</text>
<g stroke="#e2e2e2" stroke-width="1.6">
<line x1="62.4" y1="305.6" x2="62.4" y2="331.2"/>
<line x1="92.0" y1="297.6" x2="92.0" y2="325.0"/>
<line x1="121.6" y1="290.4" x2="121.6" y2="319.6"/>
<line x1="151.2" y1="306.4" x2="151.2" y2="334.4"/>
<line x1="180.8" y1="318.3" x2="180.8" y2="343.7"/>
<line x1="210.4" y1="319.7" x2="210.4" y2="346.3"/>
<line x1="240.0" y1="312.4" x2="240.0" y2="338.8"/>
<line x1="269.6" y1="313.2" x2="269.6" y2="341.2"/>
</g>
<polyline points="62.4,318.4 92.0,311.3 121.6,305.0 151.2,320.4 180.8,331.0 210.4,333.0 240.0,325.6 269.6,327.2" fill="none" stroke="#484848" stroke-width="1"/>
<circle cx="62.4" cy="318.4" r="1.75" fill="#c8101c" stroke="#3a0808" stroke-width="0.6"/>
<circle cx="92.0" cy="311.3" r="1.75" fill="#c8101c" stroke="#3a0808" stroke-width="0.6"/>
<circle cx="121.6" cy="305.0" r="1.75" fill="#c8101c" stroke="#3a0808" stroke-width="0.6"/>
<circle cx="151.2" cy="320.4" r="1.75" fill="#c8101c" stroke="#3a0808" stroke-width="0.6"/>
<circle cx="180.8" cy="331.0" r="1.75" fill="#c8101c" stroke="#3a0808" stroke-width="0.6"/>
<circle cx="210.4" cy="333.0" r="1.75" fill="#c8101c" stroke="#3a0808" stroke-width="0.6"/>
<circle cx="240.0" cy="325.6" r="1.75" fill="#c8101c" stroke="#3a0808" stroke-width="0.6"/>
<circle cx="269.6" cy="327.2" r="1.75" fill="#c8101c" stroke="#3a0808" stroke-width="0.6"/>
<rect x="51.7" y="288.2" width="228.5" height="61.1" fill="none" stroke="#4a4a4a" stroke-width="1"/>
<g stroke="#4a4a4a" stroke-width="0.8">
<line x1="62.4" y1="349.3" x2="62.4" y2="351.6"/>
<line x1="92.0" y1="349.3" x2="92.0" y2="351.6"/>
<line x1="121.6" y1="349.3" x2="121.6" y2="351.6"/>
<line x1="151.2" y1="349.3" x2="151.2" y2="351.6"/>
<line x1="180.8" y1="349.3" x2="180.8" y2="351.6"/>
<line x1="210.4" y1="349.3" x2="210.4" y2="351.6"/>
<line x1="240.0" y1="349.3" x2="240.0" y2="351.6"/>
<line x1="269.6" y1="349.3" x2="269.6" y2="351.6"/>
<line x1="49.9" y1="289.2" x2="51.7" y2="289.2"/>
<line x1="49.9" y1="315.4" x2="51.7" y2="315.4"/>
<line x1="49.9" y1="342.0" x2="51.7" y2="342.0"/>
</g>
<text x="46.300000000000004" y="292.09999999999997" font-family='"Liberation Sans", sans-serif' font-size="7.6" font-weight="normal" font-style="normal" fill="#333" text-anchor="end" textLength="13.4" lengthAdjust="spacingAndGlyphs" >0.11</text>
<text x="46.300000000000004" y="318.29999999999995" font-family='"Liberation Sans", sans-serif' font-size="7.6" font-weight="normal" font-style="normal" fill="#333" text-anchor="end" textLength="13.4" lengthAdjust="spacingAndGlyphs" >0.10</text>
<text x="46.300000000000004" y="344.9" font-family='"Liberation Sans", sans-serif' font-size="7.6" font-weight="normal" font-style="normal" fill="#333" text-anchor="end" textLength="13.4" lengthAdjust="spacingAndGlyphs" >0.09</text>
<rect x="188.4" y="289.3" width="89.3" height="16.4" fill="#fff" stroke="#333" stroke-width="0.8"/>
<text x="194.3" y="300.6" font-family='"Liberation Sans", sans-serif' font-size="8" font-weight="normal" font-style="normal" fill="#111" text-anchor="start" textLength="70.7" lengthAdjust="spacingAndGlyphs" >A1 MNI: [-46,-22,8]</text>
<g stroke="#e2e2e2" stroke-width="1.6">
<line x1="62.4" y1="381.2" x2="62.4" y2="411.8"/>
<line x1="92.0" y1="367.8" x2="92.0" y2="399.8"/>
<line x1="121.6" y1="364.5" x2="121.6" y2="397.1"/>
<line x1="151.2" y1="381.3" x2="151.2" y2="412.9"/>
<line x1="180.8" y1="388.8" x2="180.8" y2="420.4"/>
<line x1="210.4" y1="387.2" x2="210.4" y2="419.2"/>
<line x1="240.0" y1="380.1" x2="240.0" y2="412.7"/>
<line x1="269.6" y1="382.0" x2="269.6" y2="415.0"/>
</g>
<polyline points="62.4,396.5 92.0,383.8 121.6,380.8 151.2,397.1 180.8,404.6 210.4,403.2 240.0,396.4 269.6,398.5" fill="none" stroke="#484848" stroke-width="1"/>
<circle cx="62.4" cy="396.5" r="1.75" fill="#c8101c" stroke="#3a0808" stroke-width="0.6"/>
<circle cx="92.0" cy="383.8" r="1.75" fill="#c8101c" stroke="#3a0808" stroke-width="0.6"/>
<circle cx="121.6" cy="380.8" r="1.75" fill="#c8101c" stroke="#3a0808" stroke-width="0.6"/>
<circle cx="151.2" cy="397.1" r="1.75" fill="#c8101c" stroke="#3a0808" stroke-width="0.6"/>
<circle cx="180.8" cy="404.6" r="1.75" fill="#c8101c" stroke="#3a0808" stroke-width="0.6"/>
<circle cx="210.4" cy="403.2" r="1.75" fill="#c8101c" stroke="#3a0808" stroke-width="0.6"/>
<circle cx="240.0" cy="396.4" r="1.75" fill="#c8101c" stroke="#3a0808" stroke-width="0.6"/>
<circle cx="269.6" cy="398.5" r="1.75" fill="#c8101c" stroke="#3a0808" stroke-width="0.6"/>
<rect x="53.3" y="362.5" width="226.9" height="60.8" fill="none" stroke="#4a4a4a" stroke-width="1"/>
<g stroke="#4a4a4a" stroke-width="0.8">
<line x1="62.4" y1="423.3" x2="62.4" y2="425.6"/>
<line x1="92.0" y1="423.3" x2="92.0" y2="425.6"/>
<line x1="121.6" y1="423.3" x2="121.6" y2="425.6"/>
<line x1="151.2" y1="423.3" x2="151.2" y2="425.6"/>
<line x1="180.8" y1="423.3" x2="180.8" y2="425.6"/>
<line x1="210.4" y1="423.3" x2="210.4" y2="425.6"/>
<line x1="240.0" y1="423.3" x2="240.0" y2="425.6"/>
<line x1="269.6" y1="423.3" x2="269.6" y2="425.6"/>
<line x1="51.5" y1="365.3" x2="53.3" y2="365.3"/>
<line x1="51.5" y1="380.8" x2="53.3" y2="380.8"/>
<line x1="51.5" y1="396.2" x2="53.3" y2="396.2"/>
<line x1="51.5" y1="412.0" x2="53.3" y2="412.0"/>
</g>
<text x="47.9" y="368.2" font-family='"Liberation Sans", sans-serif' font-size="7.6" font-weight="normal" font-style="normal" fill="#333" text-anchor="end" textLength="17.8" lengthAdjust="spacingAndGlyphs" >0.105</text>
<text x="47.9" y="383.7" font-family='"Liberation Sans", sans-serif' font-size="7.6" font-weight="normal" font-style="normal" fill="#333" text-anchor="end" textLength="17.8" lengthAdjust="spacingAndGlyphs" >0.100</text>
<text x="47.9" y="399.09999999999997" font-family='"Liberation Sans", sans-serif' font-size="7.6" font-weight="normal" font-style="normal" fill="#333" text-anchor="end" textLength="17.8" lengthAdjust="spacingAndGlyphs" >0.095</text>
<text x="47.9" y="414.9" font-family='"Liberation Sans", sans-serif' font-size="7.6" font-weight="normal" font-style="normal" fill="#333" text-anchor="end" textLength="17.8" lengthAdjust="spacingAndGlyphs" >0.090</text>
<rect x="180.2" y="364.9" width="98.2" height="16.5" fill="#fff" stroke="#333" stroke-width="0.8"/>
<text x="186" y="376.25" font-family='"Liberation Sans", sans-serif' font-size="8" font-weight="normal" font-style="normal" fill="#111" text-anchor="start" textLength="77.2" lengthAdjust="spacingAndGlyphs" >STG MNI: [-56,-12,-6]</text>
<g stroke="#e2e2e2" stroke-width="1.6">
<line x1="62.4" y1="465.7" x2="62.4" y2="492.1"/>
<line x1="92.0" y1="447.2" x2="92.0" y2="474.6"/>
<line x1="121.6" y1="438.1" x2="121.6" y2="468.1"/>
<line x1="151.2" y1="451.2" x2="151.2" y2="478.6"/>
<line x1="180.8" y1="464.2" x2="180.8" y2="490.2"/>
<line x1="210.4" y1="466.3" x2="210.4" y2="492.3"/>
<line x1="240.0" y1="465.1" x2="240.0" y2="492.1"/>
<line x1="269.6" y1="467.0" x2="269.6" y2="494.4"/>
</g>
<polyline points="62.4,478.9 92.0,460.9 121.6,453.1 151.2,464.9 180.8,477.2 210.4,479.3 240.0,478.6 269.6,480.7" fill="none" stroke="#484848" stroke-width="1"/>
<circle cx="62.4" cy="478.9" r="1.75" fill="#c8101c" stroke="#3a0808" stroke-width="0.6"/>
<circle cx="92.0" cy="460.9" r="1.75" fill="#c8101c" stroke="#3a0808" stroke-width="0.6"/>
<circle cx="121.6" cy="453.1" r="1.75" fill="#c8101c" stroke="#3a0808" stroke-width="0.6"/>
<circle cx="151.2" cy="464.9" r="1.75" fill="#c8101c" stroke="#3a0808" stroke-width="0.6"/>
<circle cx="180.8" cy="477.2" r="1.75" fill="#c8101c" stroke="#3a0808" stroke-width="0.6"/>
<circle cx="210.4" cy="479.3" r="1.75" fill="#c8101c" stroke="#3a0808" stroke-width="0.6"/>
<circle cx="240.0" cy="478.6" r="1.75" fill="#c8101c" stroke="#3a0808" stroke-width="0.6"/>
<circle cx="269.6" cy="480.7" r="1.75" fill="#c8101c" stroke="#3a0808" stroke-width="0.6"/>
<rect x="53.5" y="435.6" width="226.7" height="60.5" fill="none" stroke="#4a4a4a" stroke-width="1"/>
<g stroke="#4a4a4a" stroke-width="0.8">
<line x1="62.4" y1="496.1" x2="62.4" y2="498.4"/>
<line x1="92.0" y1="496.1" x2="92.0" y2="498.4"/>
<line x1="121.6" y1="496.1" x2="121.6" y2="498.4"/>
<line x1="151.2" y1="496.1" x2="151.2" y2="498.4"/>
<line x1="180.8" y1="496.1" x2="180.8" y2="498.4"/>
<line x1="210.4" y1="496.1" x2="210.4" y2="498.4"/>
<line x1="240.0" y1="496.1" x2="240.0" y2="498.4"/>
<line x1="269.6" y1="496.1" x2="269.6" y2="498.4"/>
<line x1="51.7" y1="448.2" x2="53.5" y2="448.2"/>
<line x1="51.7" y1="469.5" x2="53.5" y2="469.5"/>
<line x1="51.7" y1="491.5" x2="53.5" y2="491.5"/>
</g>
<text x="48.1" y="451.09999999999997" font-family='"Liberation Sans", sans-serif' font-size="7.6" font-weight="normal" font-style="normal" fill="#333" text-anchor="end" textLength="13.4" lengthAdjust="spacingAndGlyphs" >0.12</text>
<text x="48.1" y="472.4" font-family='"Liberation Sans", sans-serif' font-size="7.6" font-weight="normal" font-style="normal" fill="#333" text-anchor="end" textLength="13.4" lengthAdjust="spacingAndGlyphs" >0.11</text>
<text x="48.1" y="494.4" font-family='"Liberation Sans", sans-serif' font-size="7.6" font-weight="normal" font-style="normal" fill="#333" text-anchor="end" textLength="13.4" lengthAdjust="spacingAndGlyphs" >0.10</text>
<rect x="180.2" y="438.7" width="98.2" height="16.8" fill="#fff" stroke="#333" stroke-width="0.8"/>
<text x="186.5" y="450.20000000000005" font-family='"Liberation Sans", sans-serif' font-size="8" font-weight="normal" font-style="normal" fill="#111" text-anchor="start" textLength="73.9" lengthAdjust="spacingAndGlyphs" >IFG MNI: [-50,14,14]</text>
<g stroke="#e2e2e2" stroke-width="1.6">
<line x1="62.4" y1="544.9" x2="62.4" y2="566.9"/>
<line x1="92.0" y1="520.3" x2="92.0" y2="545.3"/>
<line x1="121.6" y1="512.0" x2="121.6" y2="538.0"/>
<line x1="151.2" y1="529.0" x2="151.2" y2="553.6"/>
<line x1="180.8" y1="541.9" x2="180.8" y2="564.9"/>
<line x1="210.4" y1="540.5" x2="210.4" y2="564.5"/>
<line x1="240.0" y1="541.2" x2="240.0" y2="564.2"/>
<line x1="269.6" y1="543.5" x2="269.6" y2="568.5"/>
</g>
<polyline points="62.4,555.9 92.0,532.8 121.6,525.0 151.2,541.3 180.8,553.4 210.4,552.5 240.0,552.7 269.6,556.0" fill="none" stroke="#484848" stroke-width="1"/>
<circle cx="62.4" cy="555.9" r="1.75" fill="#c8101c" stroke="#3a0808" stroke-width="0.6"/>
<circle cx="92.0" cy="532.8" r="1.75" fill="#c8101c" stroke="#3a0808" stroke-width="0.6"/>
<circle cx="121.6" cy="525.0" r="1.75" fill="#c8101c" stroke="#3a0808" stroke-width="0.6"/>
<circle cx="151.2" cy="541.3" r="1.75" fill="#c8101c" stroke="#3a0808" stroke-width="0.6"/>
<circle cx="180.8" cy="553.4" r="1.75" fill="#c8101c" stroke="#3a0808" stroke-width="0.6"/>
<circle cx="210.4" cy="552.5" r="1.75" fill="#c8101c" stroke="#3a0808" stroke-width="0.6"/>
<circle cx="240.0" cy="552.7" r="1.75" fill="#c8101c" stroke="#3a0808" stroke-width="0.6"/>
<circle cx="269.6" cy="556.0" r="1.75" fill="#c8101c" stroke="#3a0808" stroke-width="0.6"/>
<rect x="53.5" y="509.4" width="226.7" height="61.0" fill="none" stroke="#4a4a4a" stroke-width="1"/>
<g stroke="#4a4a4a" stroke-width="0.8">
<line x1="62.4" y1="570.4" x2="62.4" y2="572.7"/>
<line x1="92.0" y1="570.4" x2="92.0" y2="572.7"/>
<line x1="121.6" y1="570.4" x2="121.6" y2="572.7"/>
<line x1="151.2" y1="570.4" x2="151.2" y2="572.7"/>
<line x1="180.8" y1="570.4" x2="180.8" y2="572.7"/>
<line x1="210.4" y1="570.4" x2="210.4" y2="572.7"/>
<line x1="240.0" y1="570.4" x2="240.0" y2="572.7"/>
<line x1="269.6" y1="570.4" x2="269.6" y2="572.7"/>
<line x1="51.7" y1="517.9" x2="53.5" y2="517.9"/>
<line x1="51.7" y1="536.5" x2="53.5" y2="536.5"/>
<line x1="51.7" y1="555.3" x2="53.5" y2="555.3"/>
</g>
<text x="48.1" y="520.8" font-family='"Liberation Sans", sans-serif' font-size="7.6" font-weight="normal" font-style="normal" fill="#333" text-anchor="end" textLength="13.4" lengthAdjust="spacingAndGlyphs" >0.13</text>
<text x="48.1" y="539.4" font-family='"Liberation Sans", sans-serif' font-size="7.6" font-weight="normal" font-style="normal" fill="#333" text-anchor="end" textLength="13.4" lengthAdjust="spacingAndGlyphs" >0.12</text>
<text x="48.1" y="558.1999999999999" font-family='"Liberation Sans", sans-serif' font-size="7.6" font-weight="normal" font-style="normal" fill="#333" text-anchor="end" textLength="13.4" lengthAdjust="spacingAndGlyphs" >0.11</text>
<rect x="180.2" y="512.5" width="98.2" height="16.8" fill="#fff" stroke="#333" stroke-width="0.8"/>
<text x="186" y="524.0" font-family='"Liberation Sans", sans-serif' font-size="8" font-weight="normal" font-style="normal" fill="#111" text-anchor="start" textLength="76" lengthAdjust="spacingAndGlyphs" >TPJ MNI: [-58,-56,18]</text>
<g stroke="#e2e2e2" stroke-width="1.6">
<line x1="62.4" y1="616.7" x2="62.4" y2="640.7"/>
<line x1="92.0" y1="597.5" x2="92.0" y2="622.5"/>
<line x1="121.6" y1="585.9" x2="121.6" y2="613.3"/>
<line x1="151.2" y1="602.1" x2="151.2" y2="629.5"/>
<line x1="180.8" y1="612.6" x2="180.8" y2="637.6"/>
<line x1="210.4" y1="611.4" x2="210.4" y2="637.4"/>
<line x1="240.0" y1="613.6" x2="240.0" y2="639.0"/>
<line x1="269.6" y1="616.6" x2="269.6" y2="641.6"/>
</g>
<polyline points="62.4,628.7 92.0,610.0 121.6,599.6 151.2,615.8 180.8,625.1 210.4,624.4 240.0,626.3 269.6,629.1" fill="none" stroke="#484848" stroke-width="1"/>
<circle cx="62.4" cy="628.7" r="1.75" fill="#c8101c" stroke="#3a0808" stroke-width="0.6"/>
<circle cx="92.0" cy="610.0" r="1.75" fill="#c8101c" stroke="#3a0808" stroke-width="0.6"/>
<circle cx="121.6" cy="599.6" r="1.75" fill="#c8101c" stroke="#3a0808" stroke-width="0.6"/>
<circle cx="151.2" cy="615.8" r="1.75" fill="#c8101c" stroke="#3a0808" stroke-width="0.6"/>
<circle cx="180.8" cy="625.1" r="1.75" fill="#c8101c" stroke="#3a0808" stroke-width="0.6"/>
<circle cx="210.4" cy="624.4" r="1.75" fill="#c8101c" stroke="#3a0808" stroke-width="0.6"/>
<circle cx="240.0" cy="626.3" r="1.75" fill="#c8101c" stroke="#3a0808" stroke-width="0.6"/>
<circle cx="269.6" cy="629.1" r="1.75" fill="#c8101c" stroke="#3a0808" stroke-width="0.6"/>
<rect x="53.5" y="583.3" width="226.7" height="61.0" fill="none" stroke="#4a4a4a" stroke-width="1"/>
<g stroke="#4a4a4a" stroke-width="0.8">
<line x1="62.4" y1="644.3" x2="62.4" y2="646.6"/>
<line x1="92.0" y1="644.3" x2="92.0" y2="646.6"/>
<line x1="121.6" y1="644.3" x2="121.6" y2="646.6"/>
<line x1="151.2" y1="644.3" x2="151.2" y2="646.6"/>
<line x1="180.8" y1="644.3" x2="180.8" y2="646.6"/>
<line x1="210.4" y1="644.3" x2="210.4" y2="646.6"/>
<line x1="240.0" y1="644.3" x2="240.0" y2="646.6"/>
<line x1="269.6" y1="644.3" x2="269.6" y2="646.6"/>
<line x1="51.7" y1="588.8" x2="53.5" y2="588.8"/>
<line x1="51.7" y1="605.4" x2="53.5" y2="605.4"/>
<line x1="51.7" y1="622.5" x2="53.5" y2="622.5"/>
<line x1="51.7" y1="639.5" x2="53.5" y2="639.5"/>
</g>
<text x="48.1" y="591.6999999999999" font-family='"Liberation Sans", sans-serif' font-size="7.6" font-weight="normal" font-style="normal" fill="#333" text-anchor="end" textLength="13.4" lengthAdjust="spacingAndGlyphs" >0.14</text>
<text x="48.1" y="608.3" font-family='"Liberation Sans", sans-serif' font-size="7.6" font-weight="normal" font-style="normal" fill="#333" text-anchor="end" textLength="13.4" lengthAdjust="spacingAndGlyphs" >0.13</text>
<text x="48.1" y="625.4" font-family='"Liberation Sans", sans-serif' font-size="7.6" font-weight="normal" font-style="normal" fill="#333" text-anchor="end" textLength="13.4" lengthAdjust="spacingAndGlyphs" >0.12</text>
<text x="48.1" y="642.4" font-family='"Liberation Sans", sans-serif' font-size="7.6" font-weight="normal" font-style="normal" fill="#333" text-anchor="end" textLength="13.4" lengthAdjust="spacingAndGlyphs" >0.11</text>
<rect x="145.2" y="586.4" width="133.2" height="16.8" fill="#fff" stroke="#333" stroke-width="0.8"/>
<text x="150.6" y="597.9" font-family='"Liberation Sans", sans-serif' font-size="8" font-weight="normal" font-style="normal" fill="#111" text-anchor="start" textLength="99.7" lengthAdjust="spacingAndGlyphs" >Precuneus MNI: [-2,-58,48]</text>
<text x="59.7" y="653.9" font-family='"Liberation Sans", sans-serif' font-size="6.3" font-weight="normal" font-style="normal" fill="#333" text-anchor="start" textLength="7.2" lengthAdjust="spacingAndGlyphs" >8T</text>
<text x="86.8" y="653.9" font-family='"Liberation Sans", sans-serif' font-size="6.3" font-weight="normal" font-style="normal" fill="#333" text-anchor="start" textLength="10.5" lengthAdjust="spacingAndGlyphs" >16T</text>
<text x="116.3" y="653.9" font-family='"Liberation Sans", sans-serif' font-size="6.3" font-weight="normal" font-style="normal" fill="#333" text-anchor="start" textLength="10.2" lengthAdjust="spacingAndGlyphs" >32T</text>
<text x="145.7" y="653.9" font-family='"Liberation Sans", sans-serif' font-size="6.3" font-weight="normal" font-style="normal" fill="#333" text-anchor="start" textLength="11.2" lengthAdjust="spacingAndGlyphs" >64T</text>
<text x="172.8" y="653.9" font-family='"Liberation Sans", sans-serif' font-size="6.3" font-weight="normal" font-style="normal" fill="#333" text-anchor="start" textLength="15.5" lengthAdjust="spacingAndGlyphs" >128T</text>
<text x="203.1" y="653.9" font-family='"Liberation Sans", sans-serif' font-size="6.3" font-weight="normal" font-style="normal" fill="#333" text-anchor="start" textLength="15.6" lengthAdjust="spacingAndGlyphs" >256T</text>
<text x="232.7" y="653.9" font-family='"Liberation Sans", sans-serif' font-size="6.3" font-weight="normal" font-style="normal" fill="#333" text-anchor="start" textLength="15.7" lengthAdjust="spacingAndGlyphs" >512T</text>
<text x="262.4" y="653.9" font-family='"Liberation Sans", sans-serif' font-size="6.3" font-weight="normal" font-style="normal" fill="#333" text-anchor="start" textLength="14.1" lengthAdjust="spacingAndGlyphs" >MAX</text>
<text x="127.8" y="663.6" font-family='"Liberation Sans", sans-serif' font-size="6.6" font-weight="normal" font-style="normal" fill="#333" text-anchor="start" textLength="76.8" lengthAdjust="spacingAndGlyphs" >Window Size (# tokens)</text>
<text transform="translate(14.6,506.1) rotate(-90)" font-family='"Liberation Sans", sans-serif' font-size="10" font-weight="bold" fill="#000" textLength="91.7" lengthAdjust="spacingAndGlyphs">Averaged <tspan font-style="italic">r</tspan> score</text>
<text x="338.4" y="295.2" font-family='"Liberation Sans", sans-serif' font-size="11" font-weight="bold" font-style="normal" fill="#000" text-anchor="start" textLength="8.2" lengthAdjust="spacingAndGlyphs" >c.</text>
<defs>
<filter id="fR17" filterUnits="userSpaceOnUse" x="357.0" y="307.0" width="128.1" height="103.1" color-interpolation-filters="sRGB"><feGaussianBlur in="SourceAlpha" stdDeviation="1.792" result="h"/><feDiffuseLighting in="h" surfaceScale="6.985" diffuseConstant="1" lighting-color="#f8f8f8" result="lit"><feDistantLight azimuth="250" elevation="70"/></feDiffuseLighting><feColorMatrix in="h" type="matrix" values="0 0 0 0.7 0.16  0 0 0 0.7 0.16  0 0 0 0.7 0.16  0 0 0 0 1" result="hg"/><feComposite in="lit" in2="hg" operator="arithmetic" k1="0" k2="0.5" k3="0.5" k4="0.0" result="rel"/><feComponentTransfer in="h" result="mask"><feFuncA type="linear" slope="5" intercept="-0.3"/></feComponentTransfer><feComposite in="rel" in2="mask" operator="in"/></filter>
<clipPath id="kfR17"><use href="#outLat" transform="translate(361.00,311.00) scale(1.2010,1.1888)"/></clipPath>
</defs>
<g clip-path="url(#kfR17)"><g filter="url(#fR17)"><use href="#geoLatC" transform="translate(361.00,311.00) scale(1.2010,1.1888)"/></g></g>
<use href="#vigLat" transform="translate(361.00,311.00) scale(1.2010,1.1888)"/>
<defs>
<filter id="fR18" filterUnits="userSpaceOnUse" x="517.6" y="309.0" width="130.1" height="104.1" color-interpolation-filters="sRGB"><feGaussianBlur in="SourceAlpha" stdDeviation="1.817" result="h"/><feDiffuseLighting in="h" surfaceScale="7.080" diffuseConstant="1" lighting-color="#f8f8f8" result="lit"><feDistantLight azimuth="250" elevation="70"/></feDiffuseLighting><feColorMatrix in="h" type="matrix" values="0 0 0 0.7 0.16  0 0 0 0.7 0.16  0 0 0 0.7 0.16  0 0 0 0 1" result="hg"/><feComposite in="lit" in2="hg" operator="arithmetic" k1="0" k2="0.5" k3="0.5" k4="0.0" result="rel"/><feComponentTransfer in="h" result="mask"><feFuncA type="linear" slope="5" intercept="-0.3"/></feComponentTransfer><feComposite in="rel" in2="mask" operator="in"/></filter>
<clipPath id="kfR18"><use href="#outLatM" transform="translate(521.60,313.00) scale(1.2210,1.2013)"/></clipPath>
</defs>
<g clip-path="url(#kfR18)"><g filter="url(#fR18)"><use href="#geoLatCM" transform="translate(521.60,313.00) scale(1.2210,1.2013)"/></g></g>
<use href="#vigLatM" transform="translate(521.60,313.00) scale(1.2210,1.2013)"/>
<defs>
<filter id="fR19" filterUnits="userSpaceOnUse" x="351.7" y="434.8" width="127.7" height="102.4" color-interpolation-filters="sRGB"><feGaussianBlur in="SourceAlpha" stdDeviation="1.783" result="h"/><feDiffuseLighting in="h" surfaceScale="6.948" diffuseConstant="1" lighting-color="#f8f8f8" result="lit"><feDistantLight azimuth="250" elevation="70"/></feDiffuseLighting><feColorMatrix in="h" type="matrix" values="0 0 0 0.7 0.16  0 0 0 0.7 0.16  0 0 0 0.7 0.16  0 0 0 0 1" result="hg"/><feComposite in="lit" in2="hg" operator="arithmetic" k1="0" k2="0.5" k3="0.5" k4="0.0" result="rel"/><feComponentTransfer in="h" result="mask"><feFuncA type="linear" slope="5" intercept="-0.3"/></feComponentTransfer><feComposite in="rel" in2="mask" operator="in"/></filter>
<clipPath id="kfR19"><use href="#outMed" transform="translate(355.70,438.80) scale(1.1970,1.1800)"/></clipPath>
</defs>
<g clip-path="url(#kfR19)"><g filter="url(#fR19)"><use href="#geoMed" transform="translate(355.70,438.80) scale(1.1970,1.1800)"/></g></g>
<use href="#vigMed" transform="translate(355.70,438.80) scale(1.1970,1.1800)"/>
<defs>
<filter id="fR20" filterUnits="userSpaceOnUse" x="516.3" y="440.8" width="125.4" height="99.3" color-interpolation-filters="sRGB"><feGaussianBlur in="SourceAlpha" stdDeviation="1.736" result="h"/><feDiffuseLighting in="h" surfaceScale="6.768" diffuseConstant="1" lighting-color="#f8f8f8" result="lit"><feDistantLight azimuth="250" elevation="70"/></feDiffuseLighting><feColorMatrix in="h" type="matrix" values="0 0 0 0.7 0.16  0 0 0 0.7 0.16  0 0 0 0.7 0.16  0 0 0 0 1" result="hg"/><feComposite in="lit" in2="hg" operator="arithmetic" k1="0" k2="0.5" k3="0.5" k4="0.0" result="rel"/><feComponentTransfer in="h" result="mask"><feFuncA type="linear" slope="5" intercept="-0.3"/></feComponentTransfer><feComposite in="rel" in2="mask" operator="in"/></filter>
<clipPath id="kfR20"><use href="#outMed" transform="translate(637.70,444.80) scale(-1.1740,1.1413)"/></clipPath>
</defs>
<g clip-path="url(#kfR20)"><g filter="url(#fR20)"><use href="#geoMed" transform="translate(637.70,444.80) scale(-1.1740,1.1413)"/></g></g>
<use href="#vigMed" transform="translate(637.70,444.80) scale(-1.1740,1.1413)"/>
<defs><linearGradient id="gDiv" x1="0" x2="1" y1="0" y2="0"><stop offset="0" stop-color="#008a00"/><stop offset="0.2" stop-color="#3aa23a"/><stop offset="0.49" stop-color="#eef6ee"/><stop offset="0.491" stop-color="#7a7a7a"/><stop offset="0.533" stop-color="#7a7a7a"/><stop offset="0.534" stop-color="#c8c8c8"/><stop offset="0.539" stop-color="#c8c8c8"/><stop offset="0.540" stop-color="#7a7a7a"/><stop offset="0.583" stop-color="#7a7a7a"/><stop offset="0.584" stop-color="#ffeeee"/><stop offset="0.8" stop-color="#ff7a7a"/><stop offset="1" stop-color="#ff0000"/></linearGradient></defs>
<rect x="437.8" y="562.5" width="123" height="6.3" fill="url(#gDiv)"/>
<text x="403.7" y="568.6" font-family='"Liberation Serif", serif' font-size="12.5" font-weight="normal" font-style="normal" fill="#111" text-anchor="start" textLength="30.4" lengthAdjust="spacingAndGlyphs" >−0.03</text>
<text x="568.6" y="568.6" font-family='"Liberation Serif", serif' font-size="12.5" font-weight="normal" font-style="normal" fill="#111" text-anchor="start" textLength="21.6" lengthAdjust="spacingAndGlyphs" >0.03</text>
<text x="440.1" y="580.2" font-family='"Liberation Serif", serif' font-size="9" font-weight="bold" font-style="italic" fill="#111">Δr</text>
<text x="450.3" y="582.2" font-family='"Liberation Serif", serif' font-size="6.8" font-weight="bold" font-style="italic" fill="#f01820" textLength="31.7" lengthAdjust="spacingAndGlyphs">32 tokens</text>
<text x="482.4" y="582.2" font-family='"Liberation Serif", serif' font-size="6.8" font-weight="bold" font-style="italic" fill="#4e8a2e" textLength="43.8" lengthAdjust="spacingAndGlyphs">−MAX tokens</text>
<text x="477.3" y="589.5" font-family='"Liberation Serif", serif' font-size="10" font-style="italic" fill="#111">q</text>
<text x="483" y="591.5" font-family='"Liberation Serif", serif' font-size="5.8" font-style="italic" fill="#111" textLength="10" lengthAdjust="spacingAndGlyphs">FDR</text>
<text x="494.5" y="590" font-family='"Liberation Serif", serif' font-size="10" fill="#111" textLength="25" lengthAdjust="spacingAndGlyphs">&lt; 0.05</text>
<g transform="translate(361.00,311.00) scale(1.2010,1.1888)" clip-path="url(#cLat)">
<path d="M30.0,68.0 L36.0,60.0 L44.0,53.0 L55.0,49.0 L67.0,45.0 L79.0,51.0" fill="none" stroke="#ff9aa6" stroke-width="13.2" stroke-linecap="round" stroke-linejoin="round" opacity="0.55" filter="url(#fb1)"/>
<path d="M30.0,68.0 L36.0,60.0 L44.0,53.0 L55.0,49.0 L67.0,45.0 L79.0,51.0" fill="none" stroke="#fa0a18" stroke-width="8.8" stroke-linecap="round" stroke-linejoin="round" opacity="1.00" filter="url(#fb2)"/>
<path d="M33.0,72.0 L45.0,63.0 L58.0,58.0" fill="none" stroke="#ff9aa6" stroke-width="6.0" stroke-linecap="round" stroke-linejoin="round" opacity="0.33" filter="url(#fb1)"/>
<path d="M33.0,72.0 L45.0,63.0 L58.0,58.0" fill="none" stroke="#fa0a18" stroke-width="4.0" stroke-linecap="round" stroke-linejoin="round" opacity="0.60" filter="url(#fb2)"/>
<path d="M67.0,30.0 L70.0,38.0 L72.0,44.0" fill="none" stroke="#ff9aa6" stroke-width="7.2" stroke-linecap="round" stroke-linejoin="round" opacity="0.50" filter="url(#fb1)"/>
<path d="M67.0,30.0 L70.0,38.0 L72.0,44.0" fill="none" stroke="#fa0a18" stroke-width="4.8" stroke-linecap="round" stroke-linejoin="round" opacity="0.90" filter="url(#fb2)"/>
<circle cx="28.6" cy="62.9" r="2.18" fill="#ffc4c8" opacity="0.44"/>
<circle cx="26.5" cy="64.5" r="1.84" fill="#ffc4c8" opacity="0.44"/>
<circle cx="31.3" cy="58.7" r="1.53" fill="#ffc4c8" opacity="0.44"/>
<circle cx="38.1" cy="66.2" r="2.07" fill="#ffc4c8" opacity="0.44"/>
<circle cx="37.0" cy="68.3" r="1.27" fill="#ffc4c8" opacity="0.44"/>
<circle cx="29.1" cy="60.4" r="1.29" fill="#ffc4c8" opacity="0.44"/>
<circle cx="32.2" cy="57.4" r="1.83" fill="#ffc4c8" opacity="0.44"/>
<circle cx="31.2" cy="59.4" r="1.93" fill="#ffc4c8" opacity="0.44"/>
<circle cx="43.6" cy="59.4" r="1.67" fill="#ffc4c8" opacity="0.44"/>
<circle cx="45.1" cy="60.0" r="2.43" fill="#ffc4c8" opacity="0.44"/>
<circle cx="33.4" cy="55.2" r="2.35" fill="#ffc4c8" opacity="0.44"/>
<circle cx="39.6" cy="50.1" r="1.87" fill="#ffc4c8" opacity="0.44"/>
<circle cx="43.5" cy="59.6" r="2.43" fill="#ffc4c8" opacity="0.44"/>
<circle cx="41.9" cy="61.0" r="2.64" fill="#ffc4c8" opacity="0.44"/>
<circle cx="34.2" cy="53.6" r="1.83" fill="#ffc4c8" opacity="0.44"/>
<circle cx="49.6" cy="45.2" r="2.55" fill="#ffc4c8" opacity="0.44"/>
<circle cx="54.1" cy="54.1" r="2.40" fill="#ffc4c8" opacity="0.44"/>
<circle cx="42.9" cy="47.8" r="1.51" fill="#ffc4c8" opacity="0.44"/>
<circle cx="44.0" cy="47.9" r="1.75" fill="#ffc4c8" opacity="0.44"/>
<circle cx="45.8" cy="57.2" r="2.12" fill="#ffc4c8" opacity="0.44"/>
<circle cx="46.4" cy="47.3" r="2.47" fill="#ffc4c8" opacity="0.44"/>
<circle cx="43.3" cy="48.1" r="1.71" fill="#ffc4c8" opacity="0.44"/>
<circle cx="46.1" cy="58.0" r="1.99" fill="#ffc4c8" opacity="0.44"/>
<circle cx="56.3" cy="53.2" r="2.24" fill="#ffc4c8" opacity="0.44"/>
<circle cx="56.3" cy="53.1" r="2.41" fill="#ffc4c8" opacity="0.44"/>
<circle cx="68.6" cy="50.3" r="1.75" fill="#ffc4c8" opacity="0.44"/>
<circle cx="63.0" cy="41.0" r="2.19" fill="#ffc4c8" opacity="0.44"/>
<circle cx="60.2" cy="42.6" r="1.22" fill="#ffc4c8" opacity="0.44"/>
<circle cx="78.5" cy="45.4" r="2.04" fill="#ffc4c8" opacity="0.44"/>
<circle cx="74.6" cy="43.0" r="1.56" fill="#ffc4c8" opacity="0.44"/>
<circle cx="79.6" cy="46.6" r="2.27" fill="#ffc4c8" opacity="0.44"/>
<circle cx="76.9" cy="45.1" r="2.52" fill="#ffc4c8" opacity="0.44"/>
<circle cx="74.9" cy="42.4" r="1.70" fill="#ffc4c8" opacity="0.44"/>
<circle cx="44.0" cy="67.0" r="1.36" fill="#ffc4c8" opacity="0.26"/>
<circle cx="34.7" cy="67.6" r="2.37" fill="#ffc4c8" opacity="0.26"/>
<circle cx="35.0" cy="67.9" r="1.83" fill="#ffc4c8" opacity="0.26"/>
<circle cx="36.2" cy="72.5" r="2.06" fill="#ffc4c8" opacity="0.26"/>
<circle cx="40.1" cy="63.9" r="1.29" fill="#ffc4c8" opacity="0.26"/>
<circle cx="35.0" cy="73.0" r="1.88" fill="#ffc4c8" opacity="0.26"/>
<circle cx="35.0" cy="68.0" r="1.99" fill="#ffc4c8" opacity="0.26"/>
<circle cx="34.6" cy="68.1" r="1.44" fill="#ffc4c8" opacity="0.26"/>
<circle cx="56.4" cy="56.3" r="2.43" fill="#ffc4c8" opacity="0.26"/>
<circle cx="48.6" cy="59.0" r="1.39" fill="#ffc4c8" opacity="0.26"/>
<circle cx="68.2" cy="31.2" r="2.83" fill="#ffc4c8" opacity="0.50"/>
<circle cx="67.0" cy="30.7" r="3.91" fill="#ffc4c8" opacity="0.50"/>
<circle cx="67.8" cy="29.7" r="2.88" fill="#ffc4c8" opacity="0.50"/>
<circle cx="66.9" cy="31.2" r="3.21" fill="#ffc4c8" opacity="0.50"/>
<circle cx="67.4" cy="31.3" r="2.85" fill="#ffc4c8" opacity="0.50"/>
<circle cx="79.5" cy="27.1" r="3.37" fill="#ffc4c8" opacity="0.44"/>
<circle cx="77.8" cy="29.4" r="2.93" fill="#ffc4c8" opacity="0.44"/>
<circle cx="77.7" cy="27.5" r="3.06" fill="#ffc4c8" opacity="0.44"/>
<circle cx="76.7" cy="27.7" r="2.73" fill="#ffc4c8" opacity="0.44"/>
<circle cx="77.7" cy="27.5" r="2.85" fill="#ffc4c8" opacity="0.44"/>
<circle cx="66.0" cy="21.6" r="2.09" fill="#ffc4c8" opacity="0.44"/>
<circle cx="65.9" cy="21.3" r="2.39" fill="#ffc4c8" opacity="0.44"/>
<circle cx="64.7" cy="20.8" r="3.21" fill="#ffc4c8" opacity="0.44"/>
<circle cx="64.8" cy="20.2" r="3.41" fill="#ffc4c8" opacity="0.44"/>
<circle cx="65.0" cy="21.5" r="3.58" fill="#ffc4c8" opacity="0.44"/>
<circle cx="59.9" cy="28.5" r="3.04" fill="#ffc4c8" opacity="0.39"/>
<circle cx="60.5" cy="27.9" r="3.43" fill="#ffc4c8" opacity="0.39"/>
<circle cx="58.4" cy="26.6" r="3.30" fill="#ffc4c8" opacity="0.39"/>
<circle cx="59.8" cy="28.2" r="2.82" fill="#ffc4c8" opacity="0.39"/>
<circle cx="59.9" cy="26.4" r="3.33" fill="#ffc4c8" opacity="0.39"/>
<circle cx="79.7" cy="22.1" r="2.58" fill="#ffc4c8" opacity="0.44"/>
<circle cx="80.7" cy="22.4" r="1.73" fill="#ffc4c8" opacity="0.44"/>
<circle cx="81.1" cy="23.1" r="1.83" fill="#ffc4c8" opacity="0.44"/>
<circle cx="81.2" cy="22.0" r="2.51" fill="#ffc4c8" opacity="0.44"/>
<circle cx="84.6" cy="29.8" r="2.80" fill="#ffc4c8" opacity="0.39"/>
<circle cx="86.7" cy="30.6" r="3.20" fill="#ffc4c8" opacity="0.39"/>
<circle cx="84.5" cy="30.6" r="3.06" fill="#ffc4c8" opacity="0.39"/>
<circle cx="86.5" cy="31.1" r="2.42" fill="#ffc4c8" opacity="0.39"/>
<circle cx="85.8" cy="30.8" r="3.17" fill="#ffc4c8" opacity="0.39"/>
<circle cx="71.5" cy="34.2" r="1.42" fill="#ffc4c8" opacity="0.40"/>
<circle cx="71.7" cy="33.4" r="1.29" fill="#ffc4c8" opacity="0.40"/>
<circle cx="67.4" cy="40.2" r="2.60" fill="#ffc4c8" opacity="0.40"/>
<circle cx="67.6" cy="40.2" r="1.52" fill="#ffc4c8" opacity="0.40"/>
<circle cx="73.4" cy="40.7" r="1.99" fill="#ffc4c8" opacity="0.40"/>
<circle cx="22.5" cy="35.2" r="3.87" fill="#ffc4c8" opacity="0.50"/>
<circle cx="20.6" cy="35.2" r="3.65" fill="#ffc4c8" opacity="0.50"/>
<circle cx="22.5" cy="37.0" r="3.26" fill="#ffc4c8" opacity="0.50"/>
<circle cx="22.3" cy="35.3" r="3.27" fill="#ffc4c8" opacity="0.50"/>
<circle cx="21.7" cy="35.5" r="2.62" fill="#ffc4c8" opacity="0.50"/>
<circle cx="25.8" cy="33.4" r="2.79" fill="#ffc4c8" opacity="0.39"/>
<circle cx="27.0" cy="33.0" r="2.79" fill="#ffc4c8" opacity="0.39"/>
<circle cx="26.9" cy="33.9" r="2.62" fill="#ffc4c8" opacity="0.39"/>
<circle cx="26.3" cy="32.8" r="2.18" fill="#ffc4c8" opacity="0.39"/>
<circle cx="8.9" cy="44.0" r="2.46" fill="#ffc4c8" opacity="0.39"/>
<circle cx="9.6" cy="43.6" r="2.05" fill="#ffc4c8" opacity="0.39"/>
<circle cx="10.1" cy="43.1" r="2.78" fill="#ffc4c8" opacity="0.39"/>
<circle cx="9.7" cy="44.4" r="2.01" fill="#ffc4c8" opacity="0.39"/>
<circle cx="21.4" cy="50.1" r="1.94" fill="#ffc4c8" opacity="0.39"/>
<circle cx="20.6" cy="50.3" r="2.85" fill="#ffc4c8" opacity="0.39"/>
<circle cx="21.8" cy="48.6" r="2.89" fill="#ffc4c8" opacity="0.39"/>
<circle cx="22.2" cy="49.1" r="2.63" fill="#ffc4c8" opacity="0.39"/>
<circle cx="20.0" cy="55.9" r="1.82" fill="#ffc4c8" opacity="0.33"/>
<circle cx="19.2" cy="55.0" r="1.65" fill="#ffc4c8" opacity="0.33"/>
<circle cx="20.2" cy="56.0" r="1.48" fill="#ffc4c8" opacity="0.33"/>
<circle cx="18.8" cy="55.8" r="1.66" fill="#ffc4c8" opacity="0.33"/>
<circle cx="37.6" cy="13.8" r="1.62" fill="#ffc4c8" opacity="0.39"/>
<circle cx="37.5" cy="14.6" r="1.94" fill="#ffc4c8" opacity="0.39"/>
<circle cx="37.6" cy="15.0" r="1.52" fill="#ffc4c8" opacity="0.39"/>
<circle cx="38.0" cy="15.9" r="1.87" fill="#ffc4c8" opacity="0.39"/>
<circle cx="28.7" cy="19.0" r="2.40" fill="#ffc4c8" opacity="0.39"/>
<circle cx="28.4" cy="18.0" r="1.55" fill="#ffc4c8" opacity="0.39"/>
<circle cx="28.8" cy="18.2" r="1.45" fill="#ffc4c8" opacity="0.39"/>
<circle cx="28.5" cy="18.3" r="1.95" fill="#ffc4c8" opacity="0.39"/>
<circle cx="38.3" cy="20.7" r="1.78" fill="#ffc4c8" opacity="0.33"/>
<circle cx="37.2" cy="21.5" r="1.75" fill="#ffc4c8" opacity="0.33"/>
<circle cx="37.7" cy="21.3" r="1.64" fill="#ffc4c8" opacity="0.33"/>
<circle cx="37.8" cy="21.2" r="1.88" fill="#ffc4c8" opacity="0.33"/>
<circle cx="6.2" cy="26.8" r="1.58" fill="#ffc4c8" opacity="0.33"/>
<circle cx="6.9" cy="27.8" r="1.77" fill="#ffc4c8" opacity="0.33"/>
<circle cx="5.9" cy="27.9" r="2.24" fill="#ffc4c8" opacity="0.33"/>
<circle cx="6.9" cy="27.5" r="1.38" fill="#ffc4c8" opacity="0.33"/>
<circle cx="24.4" cy="25.8" r="1.66" fill="#ffc4c8" opacity="0.33"/>
<circle cx="24.6" cy="26.7" r="1.58" fill="#ffc4c8" opacity="0.33"/>
<circle cx="25.3" cy="26.3" r="2.02" fill="#ffc4c8" opacity="0.33"/>
<circle cx="71.8" cy="58.8" r="1.46" fill="#ffc4c8" opacity="0.33"/>
<circle cx="71.8" cy="59.3" r="2.07" fill="#ffc4c8" opacity="0.33"/>
<circle cx="72.2" cy="58.5" r="2.03" fill="#ffc4c8" opacity="0.33"/>
<circle cx="71.5" cy="58.3" r="1.93" fill="#ffc4c8" opacity="0.33"/>
<circle cx="85.8" cy="52.2" r="1.59" fill="#ffc4c8" opacity="0.33"/>
<circle cx="85.6" cy="51.7" r="1.67" fill="#ffc4c8" opacity="0.33"/>
<circle cx="85.2" cy="52.2" r="2.02" fill="#ffc4c8" opacity="0.33"/>
<circle cx="85.0" cy="51.9" r="1.42" fill="#ffc4c8" opacity="0.33"/>
<circle cx="87.4" cy="34.9" r="1.76" fill="#ffc4c8" opacity="0.33"/>
<circle cx="88.1" cy="35.7" r="1.36" fill="#ffc4c8" opacity="0.33"/>
<circle cx="87.8" cy="35.5" r="2.36" fill="#ffc4c8" opacity="0.33"/>
<circle cx="87.4" cy="34.2" r="1.85" fill="#ffc4c8" opacity="0.33"/>
<circle cx="28.6" cy="62.9" r="1.45" fill="url(#gBlob)" opacity="0.91"/>
<circle cx="26.5" cy="64.5" r="1.22" fill="url(#gBlob)" opacity="0.91"/>
<circle cx="31.3" cy="58.7" r="1.02" fill="url(#gBlob)" opacity="0.91"/>
<circle cx="38.1" cy="66.2" r="1.38" fill="url(#gBlob)" opacity="0.91"/>
<circle cx="37.0" cy="68.3" r="0.85" fill="url(#gBlob)" opacity="0.91"/>
<circle cx="29.1" cy="60.4" r="0.86" fill="url(#gBlob)" opacity="0.91"/>
<circle cx="32.2" cy="57.4" r="1.22" fill="url(#gBlob)" opacity="0.91"/>
<circle cx="31.2" cy="59.4" r="1.29" fill="url(#gBlob)" opacity="0.91"/>
<circle cx="43.6" cy="59.4" r="1.11" fill="url(#gBlob)" opacity="0.91"/>
<circle cx="45.1" cy="60.0" r="1.62" fill="url(#gBlob)" opacity="0.91"/>
<circle cx="33.4" cy="55.2" r="1.57" fill="url(#gBlob)" opacity="0.91"/>
<circle cx="39.6" cy="50.1" r="1.25" fill="url(#gBlob)" opacity="0.91"/>
<circle cx="43.5" cy="59.6" r="1.62" fill="url(#gBlob)" opacity="0.91"/>
<circle cx="41.9" cy="61.0" r="1.76" fill="url(#gBlob)" opacity="0.91"/>
<circle cx="34.2" cy="53.6" r="1.22" fill="url(#gBlob)" opacity="0.91"/>
<circle cx="49.6" cy="45.2" r="1.70" fill="url(#gBlob)" opacity="0.91"/>
<circle cx="54.1" cy="54.1" r="1.60" fill="url(#gBlob)" opacity="0.91"/>
<circle cx="42.9" cy="47.8" r="1.01" fill="url(#gBlob)" opacity="0.91"/>
<circle cx="44.0" cy="47.9" r="1.16" fill="url(#gBlob)" opacity="0.91"/>
<circle cx="45.8" cy="57.2" r="1.41" fill="url(#gBlob)" opacity="0.91"/>
<circle cx="46.4" cy="47.3" r="1.65" fill="url(#gBlob)" opacity="0.91"/>
<circle cx="43.3" cy="48.1" r="1.14" fill="url(#gBlob)" opacity="0.91"/>
<circle cx="46.1" cy="58.0" r="1.33" fill="url(#gBlob)" opacity="0.91"/>
<circle cx="56.3" cy="53.2" r="1.50" fill="url(#gBlob)" opacity="0.91"/>
<circle cx="56.3" cy="53.1" r="1.61" fill="url(#gBlob)" opacity="0.91"/>
<circle cx="68.6" cy="50.3" r="1.16" fill="url(#gBlob)" opacity="0.91"/>
<circle cx="63.0" cy="41.0" r="1.46" fill="url(#gBlob)" opacity="0.91"/>
<circle cx="60.2" cy="42.6" r="0.81" fill="url(#gBlob)" opacity="0.91"/>
<circle cx="78.5" cy="45.4" r="1.36" fill="url(#gBlob)" opacity="0.91"/>
<circle cx="74.6" cy="43.0" r="1.04" fill="url(#gBlob)" opacity="0.91"/>
<circle cx="79.6" cy="46.6" r="1.52" fill="url(#gBlob)" opacity="0.91"/>
<circle cx="76.9" cy="45.1" r="1.68" fill="url(#gBlob)" opacity="0.91"/>
<circle cx="74.9" cy="42.4" r="1.13" fill="url(#gBlob)" opacity="0.91"/>
<circle cx="44.0" cy="67.0" r="0.90" fill="url(#gBlobP)" opacity="0.69"/>
<circle cx="34.7" cy="67.6" r="1.58" fill="url(#gBlobP)" opacity="0.69"/>
<circle cx="35.0" cy="67.9" r="1.22" fill="url(#gBlobP)" opacity="0.69"/>
<circle cx="36.2" cy="72.5" r="1.37" fill="url(#gBlobP)" opacity="0.69"/>
<circle cx="40.1" cy="63.9" r="0.86" fill="url(#gBlobP)" opacity="0.69"/>
<circle cx="35.0" cy="73.0" r="1.25" fill="url(#gBlobP)" opacity="0.69"/>
<circle cx="35.0" cy="68.0" r="1.33" fill="url(#gBlobP)" opacity="0.69"/>
<circle cx="34.6" cy="68.1" r="0.96" fill="url(#gBlobP)" opacity="0.69"/>
<circle cx="56.4" cy="56.3" r="1.62" fill="url(#gBlobP)" opacity="0.69"/>
<circle cx="48.6" cy="59.0" r="0.93" fill="url(#gBlobP)" opacity="0.69"/>
<circle cx="68.2" cy="31.2" r="1.89" fill="url(#gBlob)" opacity="0.98"/>
<circle cx="67.0" cy="30.7" r="2.61" fill="url(#gBlob)" opacity="0.98"/>
<circle cx="67.8" cy="29.7" r="1.92" fill="url(#gBlob)" opacity="0.98"/>
<circle cx="66.9" cy="31.2" r="2.14" fill="url(#gBlob)" opacity="0.98"/>
<circle cx="67.4" cy="31.3" r="1.90" fill="url(#gBlob)" opacity="0.98"/>
<circle cx="79.5" cy="27.1" r="2.25" fill="url(#gBlob)" opacity="0.91"/>
<circle cx="77.8" cy="29.4" r="1.95" fill="url(#gBlob)" opacity="0.91"/>
<circle cx="77.7" cy="27.5" r="2.04" fill="url(#gBlob)" opacity="0.91"/>
<circle cx="76.7" cy="27.7" r="1.82" fill="url(#gBlob)" opacity="0.91"/>
<circle cx="77.7" cy="27.5" r="1.90" fill="url(#gBlob)" opacity="0.91"/>
<circle cx="66.0" cy="21.6" r="1.39" fill="url(#gBlob)" opacity="0.91"/>
<circle cx="65.9" cy="21.3" r="1.59" fill="url(#gBlob)" opacity="0.91"/>
<circle cx="64.7" cy="20.8" r="2.14" fill="url(#gBlob)" opacity="0.91"/>
<circle cx="64.8" cy="20.2" r="2.27" fill="url(#gBlob)" opacity="0.91"/>
<circle cx="65.0" cy="21.5" r="2.38" fill="url(#gBlob)" opacity="0.91"/>
<circle cx="59.9" cy="28.5" r="2.03" fill="url(#gBlobP)" opacity="0.84"/>
<circle cx="60.5" cy="27.9" r="2.29" fill="url(#gBlobP)" opacity="0.84"/>
<circle cx="58.4" cy="26.6" r="2.20" fill="url(#gBlobP)" opacity="0.84"/>
<circle cx="59.8" cy="28.2" r="1.88" fill="url(#gBlobP)" opacity="0.84"/>
<circle cx="59.9" cy="26.4" r="2.22" fill="url(#gBlobP)" opacity="0.84"/>
<circle cx="79.7" cy="22.1" r="1.72" fill="url(#gBlob)" opacity="0.91"/>
<circle cx="80.7" cy="22.4" r="1.15" fill="url(#gBlob)" opacity="0.91"/>
<circle cx="81.1" cy="23.1" r="1.22" fill="url(#gBlob)" opacity="0.91"/>
<circle cx="81.2" cy="22.0" r="1.67" fill="url(#gBlob)" opacity="0.91"/>
<circle cx="84.6" cy="29.8" r="1.86" fill="url(#gBlobP)" opacity="0.84"/>
<circle cx="86.7" cy="30.6" r="2.14" fill="url(#gBlobP)" opacity="0.84"/>
<circle cx="84.5" cy="30.6" r="2.04" fill="url(#gBlobP)" opacity="0.84"/>
<circle cx="86.5" cy="31.1" r="1.61" fill="url(#gBlobP)" opacity="0.84"/>
<circle cx="85.8" cy="30.8" r="2.12" fill="url(#gBlobP)" opacity="0.84"/>
<circle cx="71.5" cy="34.2" r="0.95" fill="url(#gBlobP)" opacity="0.85"/>
<circle cx="71.7" cy="33.4" r="0.86" fill="url(#gBlobP)" opacity="0.85"/>
<circle cx="67.4" cy="40.2" r="1.74" fill="url(#gBlobP)" opacity="0.85"/>
<circle cx="67.6" cy="40.2" r="1.01" fill="url(#gBlobP)" opacity="0.85"/>
<circle cx="73.4" cy="40.7" r="1.32" fill="url(#gBlobP)" opacity="0.85"/>
<circle cx="22.5" cy="35.2" r="2.58" fill="url(#gBlob)" opacity="0.98"/>
<circle cx="20.6" cy="35.2" r="2.44" fill="url(#gBlob)" opacity="0.98"/>
<circle cx="22.5" cy="37.0" r="2.17" fill="url(#gBlob)" opacity="0.98"/>
<circle cx="22.3" cy="35.3" r="2.18" fill="url(#gBlob)" opacity="0.98"/>
<circle cx="21.7" cy="35.5" r="1.75" fill="url(#gBlob)" opacity="0.98"/>
<circle cx="25.8" cy="33.4" r="1.86" fill="url(#gBlobP)" opacity="0.84"/>
<circle cx="27.0" cy="33.0" r="1.86" fill="url(#gBlobP)" opacity="0.84"/>
<circle cx="26.9" cy="33.9" r="1.75" fill="url(#gBlobP)" opacity="0.84"/>
<circle cx="26.3" cy="32.8" r="1.45" fill="url(#gBlobP)" opacity="0.84"/>
<circle cx="8.9" cy="44.0" r="1.64" fill="url(#gBlobP)" opacity="0.84"/>
<circle cx="9.6" cy="43.6" r="1.37" fill="url(#gBlobP)" opacity="0.84"/>
<circle cx="10.1" cy="43.1" r="1.86" fill="url(#gBlobP)" opacity="0.84"/>
<circle cx="9.7" cy="44.4" r="1.34" fill="url(#gBlobP)" opacity="0.84"/>
<circle cx="21.4" cy="50.1" r="1.29" fill="url(#gBlobP)" opacity="0.84"/>
<circle cx="20.6" cy="50.3" r="1.90" fill="url(#gBlobP)" opacity="0.84"/>
<circle cx="21.8" cy="48.6" r="1.92" fill="url(#gBlobP)" opacity="0.84"/>
<circle cx="22.2" cy="49.1" r="1.75" fill="url(#gBlobP)" opacity="0.84"/>
<circle cx="20.0" cy="55.9" r="1.22" fill="url(#gBlobP)" opacity="0.77"/>
<circle cx="19.2" cy="55.0" r="1.10" fill="url(#gBlobP)" opacity="0.77"/>
<circle cx="20.2" cy="56.0" r="0.99" fill="url(#gBlobP)" opacity="0.77"/>
<circle cx="18.8" cy="55.8" r="1.11" fill="url(#gBlobP)" opacity="0.77"/>
<circle cx="37.6" cy="13.8" r="1.08" fill="url(#gBlobP)" opacity="0.84"/>
<circle cx="37.5" cy="14.6" r="1.29" fill="url(#gBlobP)" opacity="0.84"/>
<circle cx="37.6" cy="15.0" r="1.01" fill="url(#gBlobP)" opacity="0.84"/>
<circle cx="38.0" cy="15.9" r="1.25" fill="url(#gBlobP)" opacity="0.84"/>
<circle cx="28.7" cy="19.0" r="1.60" fill="url(#gBlobP)" opacity="0.84"/>
<circle cx="28.4" cy="18.0" r="1.03" fill="url(#gBlobP)" opacity="0.84"/>
<circle cx="28.8" cy="18.2" r="0.96" fill="url(#gBlobP)" opacity="0.84"/>
<circle cx="28.5" cy="18.3" r="1.30" fill="url(#gBlobP)" opacity="0.84"/>
<circle cx="38.3" cy="20.7" r="1.19" fill="url(#gBlobP)" opacity="0.77"/>
<circle cx="37.2" cy="21.5" r="1.16" fill="url(#gBlobP)" opacity="0.77"/>
<circle cx="37.7" cy="21.3" r="1.09" fill="url(#gBlobP)" opacity="0.77"/>
<circle cx="37.8" cy="21.2" r="1.25" fill="url(#gBlobP)" opacity="0.77"/>
<circle cx="6.2" cy="26.8" r="1.05" fill="url(#gBlobP)" opacity="0.77"/>
<circle cx="6.9" cy="27.8" r="1.18" fill="url(#gBlobP)" opacity="0.77"/>
<circle cx="5.9" cy="27.9" r="1.49" fill="url(#gBlobP)" opacity="0.77"/>
<circle cx="6.9" cy="27.5" r="0.92" fill="url(#gBlobP)" opacity="0.77"/>
<circle cx="24.4" cy="25.8" r="1.11" fill="url(#gBlobP)" opacity="0.77"/>
<circle cx="24.6" cy="26.7" r="1.06" fill="url(#gBlobP)" opacity="0.77"/>
<circle cx="25.3" cy="26.3" r="1.35" fill="url(#gBlobP)" opacity="0.77"/>
<circle cx="71.8" cy="58.8" r="0.98" fill="url(#gBlobP)" opacity="0.77"/>
<circle cx="71.8" cy="59.3" r="1.38" fill="url(#gBlobP)" opacity="0.77"/>
<circle cx="72.2" cy="58.5" r="1.35" fill="url(#gBlobP)" opacity="0.77"/>
<circle cx="71.5" cy="58.3" r="1.29" fill="url(#gBlobP)" opacity="0.77"/>
<circle cx="85.8" cy="52.2" r="1.06" fill="url(#gBlobP)" opacity="0.77"/>
<circle cx="85.6" cy="51.7" r="1.11" fill="url(#gBlobP)" opacity="0.77"/>
<circle cx="85.2" cy="52.2" r="1.35" fill="url(#gBlobP)" opacity="0.77"/>
<circle cx="85.0" cy="51.9" r="0.95" fill="url(#gBlobP)" opacity="0.77"/>
<circle cx="87.4" cy="34.9" r="1.17" fill="url(#gBlobP)" opacity="0.77"/>
<circle cx="88.1" cy="35.7" r="0.91" fill="url(#gBlobP)" opacity="0.77"/>
<circle cx="87.8" cy="35.5" r="1.57" fill="url(#gBlobP)" opacity="0.77"/>
<circle cx="87.4" cy="34.2" r="1.23" fill="url(#gBlobP)" opacity="0.77"/>
<circle cx="30.4" cy="67.6" r="0.66" fill="#ffb8c0" opacity="0.75"/>
<circle cx="33.1" cy="59.6" r="0.47" fill="#ffb8c0" opacity="0.75"/>
<circle cx="41.1" cy="58.2" r="0.82" fill="#ffb8c0" opacity="0.75"/>
<circle cx="47.9" cy="50.3" r="0.78" fill="#ffb8c0" opacity="0.75"/>
<circle cx="45.1" cy="50.5" r="0.40" fill="#ffb8c0" opacity="0.75"/>
<circle cx="45.8" cy="52.9" r="0.72" fill="#ffb8c0" opacity="0.75"/>
<circle cx="49.1" cy="49.3" r="0.42" fill="#ffb8c0" opacity="0.75"/>
<circle cx="62.4" cy="42.3" r="0.49" fill="#ffb8c0" opacity="0.75"/>
<circle cx="67.0" cy="48.9" r="0.90" fill="#ffb8c0" opacity="0.75"/>
<circle cx="57.8" cy="47.0" r="0.95" fill="#ffb8c0" opacity="0.75"/>
<circle cx="76.5" cy="54.3" r="0.47" fill="#ffb8c0" opacity="0.75"/>
<circle cx="69.6" cy="49.3" r="0.73" fill="#ffb8c0" opacity="0.75"/>
<circle cx="74.4" cy="48.9" r="0.99" fill="#ffb8c0" opacity="0.75"/>
<circle cx="41.0" cy="65.5" r="0.96" fill="#ffb8c0" opacity="0.75"/>
<circle cx="41.6" cy="67.6" r="0.91" fill="#ffb8c0" opacity="0.75"/>
<circle cx="44.7" cy="61.6" r="0.84" fill="#ffb8c0" opacity="0.75"/>
<circle cx="71.1" cy="40.7" r="0.94" fill="#ffb8c0" opacity="0.75"/>
</g>
<g transform="translate(521.60,313.00) scale(1.2210,1.2013)" clip-path="url(#cLatM)">
<path d="M22.0,26.0 L28.0,31.0 L34.0,38.0 L42.0,46.0" fill="none" stroke="#ff9aa6" stroke-width="6.2" stroke-linecap="round" stroke-linejoin="round" opacity="0.39" filter="url(#fb1)"/>
<path d="M22.0,26.0 L28.0,31.0 L34.0,38.0 L42.0,46.0" fill="none" stroke="#fa0a18" stroke-width="4.2" stroke-linecap="round" stroke-linejoin="round" opacity="0.70" filter="url(#fb2)"/>
<path d="M42.0,46.0 L50.0,52.0 L58.0,58.0 L68.0,65.0" fill="none" stroke="#ff9aa6" stroke-width="9.6" stroke-linecap="round" stroke-linejoin="round" opacity="0.50" filter="url(#fb1)"/>
<path d="M42.0,46.0 L50.0,52.0 L58.0,58.0 L68.0,65.0" fill="none" stroke="#fa0a18" stroke-width="6.4" stroke-linecap="round" stroke-linejoin="round" opacity="0.90" filter="url(#fb2)"/>
<path d="M24.0,33.0 L30.0,44.0 L40.0,52.0" fill="none" stroke="#ff9aa6" stroke-width="6.0" stroke-linecap="round" stroke-linejoin="round" opacity="0.39" filter="url(#fb1)"/>
<path d="M24.0,33.0 L30.0,44.0 L40.0,52.0" fill="none" stroke="#fa0a18" stroke-width="4.0" stroke-linecap="round" stroke-linejoin="round" opacity="0.70" filter="url(#fb2)"/>
<circle cx="18.7" cy="24.8" r="4.72" fill="#ffc4c8" opacity="0.55"/>
<circle cx="18.4" cy="23.7" r="2.75" fill="#ffc4c8" opacity="0.55"/>
<circle cx="17.1" cy="24.3" r="3.58" fill="#ffc4c8" opacity="0.55"/>
<circle cx="18.5" cy="25.8" r="4.64" fill="#ffc4c8" opacity="0.55"/>
<circle cx="18.6" cy="24.4" r="3.41" fill="#ffc4c8" opacity="0.55"/>
<circle cx="17.3" cy="25.0" r="3.12" fill="#ffc4c8" opacity="0.55"/>
<circle cx="20.6" cy="28.4" r="3.29" fill="#ffc4c8" opacity="0.55"/>
<circle cx="20.7" cy="31.6" r="2.94" fill="#ffc4c8" opacity="0.55"/>
<circle cx="20.4" cy="29.4" r="2.77" fill="#ffc4c8" opacity="0.55"/>
<circle cx="20.2" cy="29.2" r="4.11" fill="#ffc4c8" opacity="0.55"/>
<circle cx="19.8" cy="29.8" r="2.77" fill="#ffc4c8" opacity="0.55"/>
<circle cx="29.2" cy="29.3" r="1.28" fill="#ffc4c8" opacity="0.31"/>
<circle cx="31.2" cy="30.3" r="1.62" fill="#ffc4c8" opacity="0.31"/>
<circle cx="28.1" cy="35.2" r="1.39" fill="#ffc4c8" opacity="0.31"/>
<circle cx="43.1" cy="43.3" r="1.82" fill="#ffc4c8" opacity="0.31"/>
<circle cx="32.8" cy="40.2" r="1.59" fill="#ffc4c8" opacity="0.31"/>
<circle cx="38.4" cy="45.6" r="1.71" fill="#ffc4c8" opacity="0.31"/>
<circle cx="34.3" cy="42.0" r="2.13" fill="#ffc4c8" opacity="0.31"/>
<circle cx="38.2" cy="38.2" r="2.33" fill="#ffc4c8" opacity="0.31"/>
<circle cx="47.3" cy="54.9" r="1.78" fill="#ffc4c8" opacity="0.40"/>
<circle cx="46.5" cy="54.7" r="1.60" fill="#ffc4c8" opacity="0.40"/>
<circle cx="44.8" cy="43.7" r="1.95" fill="#ffc4c8" opacity="0.40"/>
<circle cx="54.2" cy="58.9" r="2.20" fill="#ffc4c8" opacity="0.40"/>
<circle cx="49.2" cy="55.6" r="2.07" fill="#ffc4c8" opacity="0.40"/>
<circle cx="52.6" cy="59.4" r="1.35" fill="#ffc4c8" opacity="0.40"/>
<circle cx="59.7" cy="54.3" r="1.64" fill="#ffc4c8" opacity="0.40"/>
<circle cx="52.4" cy="58.5" r="1.76" fill="#ffc4c8" opacity="0.40"/>
<circle cx="63.5" cy="66.7" r="1.36" fill="#ffc4c8" opacity="0.40"/>
<circle cx="63.5" cy="58.0" r="1.51" fill="#ffc4c8" opacity="0.40"/>
<circle cx="62.5" cy="55.9" r="1.69" fill="#ffc4c8" opacity="0.40"/>
<circle cx="60.6" cy="55.6" r="1.79" fill="#ffc4c8" opacity="0.40"/>
<circle cx="58.8" cy="63.4" r="1.67" fill="#ffc4c8" opacity="0.40"/>
<circle cx="64.1" cy="67.6" r="1.75" fill="#ffc4c8" opacity="0.40"/>
<circle cx="56.0" cy="60.9" r="1.84" fill="#ffc4c8" opacity="0.40"/>
<circle cx="25.9" cy="41.1" r="1.33" fill="#ffc4c8" opacity="0.31"/>
<circle cx="31.4" cy="42.2" r="1.94" fill="#ffc4c8" opacity="0.31"/>
<circle cx="26.6" cy="43.1" r="1.50" fill="#ffc4c8" opacity="0.31"/>
<circle cx="22.6" cy="35.6" r="2.66" fill="#ffc4c8" opacity="0.31"/>
<circle cx="29.1" cy="37.1" r="2.59" fill="#ffc4c8" opacity="0.31"/>
<circle cx="24.4" cy="38.3" r="2.13" fill="#ffc4c8" opacity="0.31"/>
<circle cx="40.5" cy="49.2" r="2.04" fill="#ffc4c8" opacity="0.31"/>
<circle cx="39.2" cy="48.1" r="2.46" fill="#ffc4c8" opacity="0.31"/>
<circle cx="41.6" cy="25.9" r="2.15" fill="#ffc4c8" opacity="0.44"/>
<circle cx="42.0" cy="25.4" r="1.54" fill="#ffc4c8" opacity="0.44"/>
<circle cx="41.8" cy="25.9" r="1.48" fill="#ffc4c8" opacity="0.44"/>
<circle cx="41.8" cy="25.9" r="1.81" fill="#ffc4c8" opacity="0.44"/>
<circle cx="55.7" cy="19.6" r="2.52" fill="#ffc4c8" opacity="0.50"/>
<circle cx="56.7" cy="20.1" r="2.71" fill="#ffc4c8" opacity="0.50"/>
<circle cx="55.7" cy="19.6" r="2.35" fill="#ffc4c8" opacity="0.50"/>
<circle cx="54.9" cy="20.5" r="1.87" fill="#ffc4c8" opacity="0.50"/>
<circle cx="63.8" cy="12.8" r="3.18" fill="#ffc4c8" opacity="0.55"/>
<circle cx="62.9" cy="13.8" r="3.57" fill="#ffc4c8" opacity="0.55"/>
<circle cx="61.2" cy="14.2" r="3.47" fill="#ffc4c8" opacity="0.55"/>
<circle cx="63.5" cy="15.2" r="3.49" fill="#ffc4c8" opacity="0.55"/>
<circle cx="63.3" cy="14.3" r="3.22" fill="#ffc4c8" opacity="0.55"/>
<circle cx="73.7" cy="15.3" r="2.46" fill="#ffc4c8" opacity="0.55"/>
<circle cx="73.0" cy="13.9" r="2.82" fill="#ffc4c8" opacity="0.55"/>
<circle cx="73.2" cy="13.9" r="2.44" fill="#ffc4c8" opacity="0.55"/>
<circle cx="72.4" cy="14.1" r="2.08" fill="#ffc4c8" opacity="0.55"/>
<circle cx="73.0" cy="14.3" r="3.50" fill="#ffc4c8" opacity="0.55"/>
<circle cx="67.0" cy="29.7" r="1.53" fill="#ffc4c8" opacity="0.44"/>
<circle cx="67.4" cy="30.5" r="1.91" fill="#ffc4c8" opacity="0.44"/>
<circle cx="67.1" cy="30.3" r="2.27" fill="#ffc4c8" opacity="0.44"/>
<circle cx="66.8" cy="30.4" r="2.28" fill="#ffc4c8" opacity="0.44"/>
<circle cx="75.7" cy="37.9" r="3.02" fill="#ffc4c8" opacity="0.50"/>
<circle cx="73.4" cy="37.7" r="2.44" fill="#ffc4c8" opacity="0.50"/>
<circle cx="75.4" cy="36.8" r="2.59" fill="#ffc4c8" opacity="0.50"/>
<circle cx="74.5" cy="36.2" r="2.30" fill="#ffc4c8" opacity="0.50"/>
<circle cx="74.4" cy="36.8" r="3.32" fill="#ffc4c8" opacity="0.50"/>
<circle cx="79.1" cy="36.2" r="2.98" fill="#ffc4c8" opacity="0.44"/>
<circle cx="78.3" cy="34.8" r="2.10" fill="#ffc4c8" opacity="0.44"/>
<circle cx="79.1" cy="35.3" r="1.88" fill="#ffc4c8" opacity="0.44"/>
<circle cx="78.7" cy="34.9" r="2.36" fill="#ffc4c8" opacity="0.44"/>
<circle cx="87.8" cy="38.3" r="2.38" fill="#ffc4c8" opacity="0.50"/>
<circle cx="87.6" cy="38.4" r="2.03" fill="#ffc4c8" opacity="0.50"/>
<circle cx="87.5" cy="38.5" r="2.59" fill="#ffc4c8" opacity="0.50"/>
<circle cx="87.8" cy="39.4" r="2.95" fill="#ffc4c8" opacity="0.50"/>
<circle cx="87.9" cy="39.4" r="2.77" fill="#ffc4c8" opacity="0.50"/>
<circle cx="84.6" cy="44.1" r="2.01" fill="#ffc4c8" opacity="0.44"/>
<circle cx="83.8" cy="43.2" r="2.53" fill="#ffc4c8" opacity="0.44"/>
<circle cx="84.4" cy="42.3" r="2.22" fill="#ffc4c8" opacity="0.44"/>
<circle cx="83.7" cy="43.1" r="2.53" fill="#ffc4c8" opacity="0.44"/>
<circle cx="89.5" cy="47.6" r="2.53" fill="#ffc4c8" opacity="0.39"/>
<circle cx="88.7" cy="48.2" r="2.65" fill="#ffc4c8" opacity="0.39"/>
<circle cx="89.9" cy="49.0" r="1.75" fill="#ffc4c8" opacity="0.39"/>
<circle cx="89.4" cy="47.7" r="2.00" fill="#ffc4c8" opacity="0.39"/>
<circle cx="96.1" cy="45.8" r="1.36" fill="#ffc4c8" opacity="0.39"/>
<circle cx="94.3" cy="45.2" r="1.50" fill="#ffc4c8" opacity="0.39"/>
<circle cx="95.5" cy="46.1" r="1.88" fill="#ffc4c8" opacity="0.39"/>
<circle cx="94.7" cy="44.8" r="1.53" fill="#ffc4c8" opacity="0.39"/>
<circle cx="77.4" cy="56.0" r="1.40" fill="#ffc4c8" opacity="0.39"/>
<circle cx="78.2" cy="55.1" r="2.10" fill="#ffc4c8" opacity="0.39"/>
<circle cx="78.4" cy="55.7" r="2.13" fill="#ffc4c8" opacity="0.39"/>
<circle cx="76.7" cy="55.9" r="1.83" fill="#ffc4c8" opacity="0.39"/>
<circle cx="9.3" cy="40.1" r="1.59" fill="#ffc4c8" opacity="0.39"/>
<circle cx="9.7" cy="40.1" r="2.14" fill="#ffc4c8" opacity="0.39"/>
<circle cx="9.0" cy="39.1" r="2.10" fill="#ffc4c8" opacity="0.39"/>
<circle cx="9.2" cy="40.6" r="1.81" fill="#ffc4c8" opacity="0.39"/>
<circle cx="9.4" cy="44.2" r="1.47" fill="#ffc4c8" opacity="0.39"/>
<circle cx="8.7" cy="44.0" r="1.42" fill="#ffc4c8" opacity="0.39"/>
<circle cx="9.3" cy="44.7" r="1.46" fill="#ffc4c8" opacity="0.39"/>
<circle cx="32.7" cy="58.1" r="2.34" fill="#ffc4c8" opacity="0.39"/>
<circle cx="32.6" cy="56.9" r="2.27" fill="#ffc4c8" opacity="0.39"/>
<circle cx="32.5" cy="57.5" r="2.30" fill="#ffc4c8" opacity="0.39"/>
<circle cx="32.1" cy="56.7" r="2.05" fill="#ffc4c8" opacity="0.39"/>
<circle cx="47.5" cy="30.9" r="2.23" fill="#ffc4c8" opacity="0.39"/>
<circle cx="46.7" cy="30.1" r="1.81" fill="#ffc4c8" opacity="0.39"/>
<circle cx="46.9" cy="30.4" r="1.67" fill="#ffc4c8" opacity="0.39"/>
<circle cx="47.2" cy="31.7" r="1.43" fill="#ffc4c8" opacity="0.39"/>
<circle cx="60.1" cy="25.9" r="1.03" fill="#ffc4c8" opacity="0.33"/>
<circle cx="60.6" cy="26.5" r="1.28" fill="#ffc4c8" opacity="0.33"/>
<circle cx="60.0" cy="26.0" r="1.05" fill="#ffc4c8" opacity="0.33"/>
<circle cx="18.7" cy="24.8" r="3.14" fill="url(#gBlob)" opacity="1.00"/>
<circle cx="18.4" cy="23.7" r="1.83" fill="url(#gBlob)" opacity="1.00"/>
<circle cx="17.1" cy="24.3" r="2.39" fill="url(#gBlob)" opacity="1.00"/>
<circle cx="18.5" cy="25.8" r="3.10" fill="url(#gBlob)" opacity="1.00"/>
<circle cx="18.6" cy="24.4" r="2.27" fill="url(#gBlob)" opacity="1.00"/>
<circle cx="17.3" cy="25.0" r="2.08" fill="url(#gBlob)" opacity="1.00"/>
<circle cx="20.6" cy="28.4" r="2.19" fill="url(#gBlob)" opacity="1.00"/>
<circle cx="20.7" cy="31.6" r="1.96" fill="url(#gBlob)" opacity="1.00"/>
<circle cx="20.4" cy="29.4" r="1.85" fill="url(#gBlob)" opacity="1.00"/>
<circle cx="20.2" cy="29.2" r="2.74" fill="url(#gBlob)" opacity="1.00"/>
<circle cx="19.8" cy="29.8" r="1.85" fill="url(#gBlob)" opacity="1.00"/>
<circle cx="29.2" cy="29.3" r="0.85" fill="url(#gBlobP)" opacity="0.74"/>
<circle cx="31.2" cy="30.3" r="1.08" fill="url(#gBlobP)" opacity="0.74"/>
<circle cx="28.1" cy="35.2" r="0.92" fill="url(#gBlobP)" opacity="0.74"/>
<circle cx="43.1" cy="43.3" r="1.21" fill="url(#gBlobP)" opacity="0.74"/>
<circle cx="32.8" cy="40.2" r="1.06" fill="url(#gBlobP)" opacity="0.74"/>
<circle cx="38.4" cy="45.6" r="1.14" fill="url(#gBlobP)" opacity="0.74"/>
<circle cx="34.3" cy="42.0" r="1.42" fill="url(#gBlobP)" opacity="0.74"/>
<circle cx="38.2" cy="38.2" r="1.56" fill="url(#gBlobP)" opacity="0.74"/>
<circle cx="47.3" cy="54.9" r="1.19" fill="url(#gBlobP)" opacity="0.85"/>
<circle cx="46.5" cy="54.7" r="1.06" fill="url(#gBlobP)" opacity="0.85"/>
<circle cx="44.8" cy="43.7" r="1.30" fill="url(#gBlobP)" opacity="0.85"/>
<circle cx="54.2" cy="58.9" r="1.46" fill="url(#gBlobP)" opacity="0.85"/>
<circle cx="49.2" cy="55.6" r="1.38" fill="url(#gBlobP)" opacity="0.85"/>
<circle cx="52.6" cy="59.4" r="0.90" fill="url(#gBlobP)" opacity="0.85"/>
<circle cx="59.7" cy="54.3" r="1.09" fill="url(#gBlobP)" opacity="0.85"/>
<circle cx="52.4" cy="58.5" r="1.17" fill="url(#gBlobP)" opacity="0.85"/>
<circle cx="63.5" cy="66.7" r="0.91" fill="url(#gBlobP)" opacity="0.85"/>
<circle cx="63.5" cy="58.0" r="1.00" fill="url(#gBlobP)" opacity="0.85"/>
<circle cx="62.5" cy="55.9" r="1.13" fill="url(#gBlobP)" opacity="0.85"/>
<circle cx="60.6" cy="55.6" r="1.20" fill="url(#gBlobP)" opacity="0.85"/>
<circle cx="58.8" cy="63.4" r="1.11" fill="url(#gBlobP)" opacity="0.85"/>
<circle cx="64.1" cy="67.6" r="1.16" fill="url(#gBlobP)" opacity="0.85"/>
<circle cx="56.0" cy="60.9" r="1.22" fill="url(#gBlobP)" opacity="0.85"/>
<circle cx="25.9" cy="41.1" r="0.89" fill="url(#gBlobP)" opacity="0.74"/>
<circle cx="31.4" cy="42.2" r="1.29" fill="url(#gBlobP)" opacity="0.74"/>
<circle cx="26.6" cy="43.1" r="1.00" fill="url(#gBlobP)" opacity="0.74"/>
<circle cx="22.6" cy="35.6" r="1.78" fill="url(#gBlobP)" opacity="0.74"/>
<circle cx="29.1" cy="37.1" r="1.73" fill="url(#gBlobP)" opacity="0.74"/>
<circle cx="24.4" cy="38.3" r="1.42" fill="url(#gBlobP)" opacity="0.74"/>
<circle cx="40.5" cy="49.2" r="1.36" fill="url(#gBlobP)" opacity="0.74"/>
<circle cx="39.2" cy="48.1" r="1.64" fill="url(#gBlobP)" opacity="0.74"/>
<circle cx="41.6" cy="25.9" r="1.43" fill="url(#gBlob)" opacity="0.91"/>
<circle cx="42.0" cy="25.4" r="1.03" fill="url(#gBlob)" opacity="0.91"/>
<circle cx="41.8" cy="25.9" r="0.99" fill="url(#gBlob)" opacity="0.91"/>
<circle cx="41.8" cy="25.9" r="1.21" fill="url(#gBlob)" opacity="0.91"/>
<circle cx="55.7" cy="19.6" r="1.68" fill="url(#gBlob)" opacity="0.98"/>
<circle cx="56.7" cy="20.1" r="1.81" fill="url(#gBlob)" opacity="0.98"/>
<circle cx="55.7" cy="19.6" r="1.57" fill="url(#gBlob)" opacity="0.98"/>
<circle cx="54.9" cy="20.5" r="1.24" fill="url(#gBlob)" opacity="0.98"/>
<circle cx="63.8" cy="12.8" r="2.12" fill="url(#gBlob)" opacity="1.00"/>
<circle cx="62.9" cy="13.8" r="2.38" fill="url(#gBlob)" opacity="1.00"/>
<circle cx="61.2" cy="14.2" r="2.31" fill="url(#gBlob)" opacity="1.00"/>
<circle cx="63.5" cy="15.2" r="2.33" fill="url(#gBlob)" opacity="1.00"/>
<circle cx="63.3" cy="14.3" r="2.14" fill="url(#gBlob)" opacity="1.00"/>
<circle cx="73.7" cy="15.3" r="1.64" fill="url(#gBlob)" opacity="1.00"/>
<circle cx="73.0" cy="13.9" r="1.88" fill="url(#gBlob)" opacity="1.00"/>
<circle cx="73.2" cy="13.9" r="1.63" fill="url(#gBlob)" opacity="1.00"/>
<circle cx="72.4" cy="14.1" r="1.39" fill="url(#gBlob)" opacity="1.00"/>
<circle cx="73.0" cy="14.3" r="2.33" fill="url(#gBlob)" opacity="1.00"/>
<circle cx="67.0" cy="29.7" r="1.02" fill="url(#gBlob)" opacity="0.91"/>
<circle cx="67.4" cy="30.5" r="1.27" fill="url(#gBlob)" opacity="0.91"/>
<circle cx="67.1" cy="30.3" r="1.51" fill="url(#gBlob)" opacity="0.91"/>
<circle cx="66.8" cy="30.4" r="1.52" fill="url(#gBlob)" opacity="0.91"/>
<circle cx="75.7" cy="37.9" r="2.01" fill="url(#gBlob)" opacity="0.98"/>
<circle cx="73.4" cy="37.7" r="1.63" fill="url(#gBlob)" opacity="0.98"/>
<circle cx="75.4" cy="36.8" r="1.73" fill="url(#gBlob)" opacity="0.98"/>
<circle cx="74.5" cy="36.2" r="1.54" fill="url(#gBlob)" opacity="0.98"/>
<circle cx="74.4" cy="36.8" r="2.21" fill="url(#gBlob)" opacity="0.98"/>
<circle cx="79.1" cy="36.2" r="1.99" fill="url(#gBlob)" opacity="0.91"/>
<circle cx="78.3" cy="34.8" r="1.40" fill="url(#gBlob)" opacity="0.91"/>
<circle cx="79.1" cy="35.3" r="1.26" fill="url(#gBlob)" opacity="0.91"/>
<circle cx="78.7" cy="34.9" r="1.57" fill="url(#gBlob)" opacity="0.91"/>
<circle cx="87.8" cy="38.3" r="1.59" fill="url(#gBlob)" opacity="0.98"/>
<circle cx="87.6" cy="38.4" r="1.35" fill="url(#gBlob)" opacity="0.98"/>
<circle cx="87.5" cy="38.5" r="1.73" fill="url(#gBlob)" opacity="0.98"/>
<circle cx="87.8" cy="39.4" r="1.97" fill="url(#gBlob)" opacity="0.98"/>
<circle cx="87.9" cy="39.4" r="1.85" fill="url(#gBlob)" opacity="0.98"/>
<circle cx="84.6" cy="44.1" r="1.34" fill="url(#gBlob)" opacity="0.91"/>
<circle cx="83.8" cy="43.2" r="1.68" fill="url(#gBlob)" opacity="0.91"/>
<circle cx="84.4" cy="42.3" r="1.48" fill="url(#gBlob)" opacity="0.91"/>
<circle cx="83.7" cy="43.1" r="1.69" fill="url(#gBlob)" opacity="0.91"/>
<circle cx="89.5" cy="47.6" r="1.69" fill="url(#gBlobP)" opacity="0.84"/>
<circle cx="88.7" cy="48.2" r="1.77" fill="url(#gBlobP)" opacity="0.84"/>
<circle cx="89.9" cy="49.0" r="1.16" fill="url(#gBlobP)" opacity="0.84"/>
<circle cx="89.4" cy="47.7" r="1.33" fill="url(#gBlobP)" opacity="0.84"/>
<circle cx="96.1" cy="45.8" r="0.91" fill="url(#gBlobP)" opacity="0.84"/>
<circle cx="94.3" cy="45.2" r="1.00" fill="url(#gBlobP)" opacity="0.84"/>
<circle cx="95.5" cy="46.1" r="1.25" fill="url(#gBlobP)" opacity="0.84"/>
<circle cx="94.7" cy="44.8" r="1.02" fill="url(#gBlobP)" opacity="0.84"/>
<circle cx="77.4" cy="56.0" r="0.93" fill="url(#gBlobP)" opacity="0.84"/>
<circle cx="78.2" cy="55.1" r="1.40" fill="url(#gBlobP)" opacity="0.84"/>
<circle cx="78.4" cy="55.7" r="1.42" fill="url(#gBlobP)" opacity="0.84"/>
<circle cx="76.7" cy="55.9" r="1.22" fill="url(#gBlobP)" opacity="0.84"/>
<circle cx="9.3" cy="40.1" r="1.06" fill="url(#gBlobP)" opacity="0.84"/>
<circle cx="9.7" cy="40.1" r="1.42" fill="url(#gBlobP)" opacity="0.84"/>
<circle cx="9.0" cy="39.1" r="1.40" fill="url(#gBlobP)" opacity="0.84"/>
<circle cx="9.2" cy="40.6" r="1.21" fill="url(#gBlobP)" opacity="0.84"/>
<circle cx="9.4" cy="44.2" r="0.98" fill="url(#gBlobP)" opacity="0.84"/>
<circle cx="8.7" cy="44.0" r="0.95" fill="url(#gBlobP)" opacity="0.84"/>
<circle cx="9.3" cy="44.7" r="0.97" fill="url(#gBlobP)" opacity="0.84"/>
<circle cx="32.7" cy="58.1" r="1.56" fill="url(#gBlobP)" opacity="0.84"/>
<circle cx="32.6" cy="56.9" r="1.52" fill="url(#gBlobP)" opacity="0.84"/>
<circle cx="32.5" cy="57.5" r="1.54" fill="url(#gBlobP)" opacity="0.84"/>
<circle cx="32.1" cy="56.7" r="1.37" fill="url(#gBlobP)" opacity="0.84"/>
<circle cx="47.5" cy="30.9" r="1.49" fill="url(#gBlobP)" opacity="0.84"/>
<circle cx="46.7" cy="30.1" r="1.21" fill="url(#gBlobP)" opacity="0.84"/>
<circle cx="46.9" cy="30.4" r="1.12" fill="url(#gBlobP)" opacity="0.84"/>
<circle cx="47.2" cy="31.7" r="0.95" fill="url(#gBlobP)" opacity="0.84"/>
<circle cx="60.1" cy="25.9" r="0.69" fill="url(#gBlobP)" opacity="0.77"/>
<circle cx="60.6" cy="26.5" r="0.86" fill="url(#gBlobP)" opacity="0.77"/>
<circle cx="60.0" cy="26.0" r="0.70" fill="url(#gBlobP)" opacity="0.77"/>
<circle cx="32.5" cy="38.5" r="0.80" fill="#ffb8c0" opacity="0.75"/>
<circle cx="39.4" cy="45.6" r="0.42" fill="#ffb8c0" opacity="0.75"/>
<circle cx="43.4" cy="50.2" r="0.52" fill="#ffb8c0" opacity="0.75"/>
<circle cx="49.4" cy="48.7" r="0.42" fill="#ffb8c0" opacity="0.75"/>
<circle cx="62.8" cy="62.9" r="0.50" fill="#ffb8c0" opacity="0.75"/>
<circle cx="28.4" cy="37.2" r="0.73" fill="#ffb8c0" opacity="0.75"/>
<circle cx="34.7" cy="47.3" r="0.77" fill="#ffb8c0" opacity="0.75"/>
</g>
<g transform="translate(355.70,438.80) scale(1.1970,1.1800)" clip-path="url(#cMed)">
<circle cx="18.2" cy="20.3" r="3.64" fill="#ffc4c8" opacity="0.50"/>
<circle cx="18.6" cy="21.3" r="3.45" fill="#ffc4c8" opacity="0.50"/>
<circle cx="17.6" cy="22.6" r="3.87" fill="#ffc4c8" opacity="0.50"/>
<circle cx="18.7" cy="21.3" r="3.96" fill="#ffc4c8" opacity="0.50"/>
<circle cx="20.2" cy="20.5" r="2.56" fill="#ffc4c8" opacity="0.50"/>
<circle cx="23.4" cy="31.1" r="2.43" fill="#ffc4c8" opacity="0.50"/>
<circle cx="24.2" cy="29.6" r="3.53" fill="#ffc4c8" opacity="0.50"/>
<circle cx="23.9" cy="29.8" r="2.89" fill="#ffc4c8" opacity="0.50"/>
<circle cx="23.5" cy="31.0" r="3.75" fill="#ffc4c8" opacity="0.50"/>
<circle cx="23.5" cy="31.5" r="3.14" fill="#ffc4c8" opacity="0.50"/>
<circle cx="31.4" cy="27.8" r="2.47" fill="#ffc4c8" opacity="0.55"/>
<circle cx="30.9" cy="27.1" r="2.53" fill="#ffc4c8" opacity="0.55"/>
<circle cx="31.8" cy="27.5" r="3.37" fill="#ffc4c8" opacity="0.55"/>
<circle cx="31.0" cy="27.7" r="2.68" fill="#ffc4c8" opacity="0.55"/>
<circle cx="29.8" cy="28.2" r="2.57" fill="#ffc4c8" opacity="0.55"/>
<circle cx="32.4" cy="36.3" r="2.37" fill="#ffc4c8" opacity="0.44"/>
<circle cx="32.7" cy="37.1" r="3.32" fill="#ffc4c8" opacity="0.44"/>
<circle cx="32.6" cy="37.2" r="2.34" fill="#ffc4c8" opacity="0.44"/>
<circle cx="32.7" cy="35.6" r="2.03" fill="#ffc4c8" opacity="0.44"/>
<circle cx="31.8" cy="37.2" r="3.28" fill="#ffc4c8" opacity="0.44"/>
<circle cx="40.6" cy="26.8" r="2.57" fill="#ffc4c8" opacity="0.44"/>
<circle cx="40.5" cy="25.7" r="3.51" fill="#ffc4c8" opacity="0.44"/>
<circle cx="40.2" cy="26.4" r="3.13" fill="#ffc4c8" opacity="0.44"/>
<circle cx="40.1" cy="26.1" r="3.03" fill="#ffc4c8" opacity="0.44"/>
<circle cx="41.4" cy="26.7" r="3.12" fill="#ffc4c8" opacity="0.44"/>
<circle cx="43.6" cy="28.3" r="2.59" fill="#ffc4c8" opacity="0.50"/>
<circle cx="42.9" cy="29.7" r="3.43" fill="#ffc4c8" opacity="0.50"/>
<circle cx="44.7" cy="30.1" r="2.06" fill="#ffc4c8" opacity="0.50"/>
<circle cx="43.5" cy="29.7" r="3.44" fill="#ffc4c8" opacity="0.50"/>
<circle cx="42.8" cy="29.3" r="3.42" fill="#ffc4c8" opacity="0.50"/>
<circle cx="48.1" cy="29.1" r="2.39" fill="#ffc4c8" opacity="0.39"/>
<circle cx="48.0" cy="27.5" r="2.54" fill="#ffc4c8" opacity="0.39"/>
<circle cx="47.7" cy="28.9" r="1.89" fill="#ffc4c8" opacity="0.39"/>
<circle cx="48.5" cy="27.7" r="2.66" fill="#ffc4c8" opacity="0.39"/>
<circle cx="28.3" cy="41.0" r="3.24" fill="#ffc4c8" opacity="0.39"/>
<circle cx="27.7" cy="40.3" r="2.75" fill="#ffc4c8" opacity="0.39"/>
<circle cx="28.2" cy="40.1" r="2.33" fill="#ffc4c8" opacity="0.39"/>
<circle cx="27.5" cy="41.5" r="3.35" fill="#ffc4c8" opacity="0.39"/>
<circle cx="28.0" cy="40.6" r="2.41" fill="#ffc4c8" opacity="0.39"/>
<circle cx="33.8" cy="45.7" r="1.90" fill="#ffc4c8" opacity="0.39"/>
<circle cx="34.0" cy="45.3" r="2.97" fill="#ffc4c8" opacity="0.39"/>
<circle cx="34.1" cy="45.0" r="2.95" fill="#ffc4c8" opacity="0.39"/>
<circle cx="34.5" cy="45.4" r="2.98" fill="#ffc4c8" opacity="0.39"/>
<circle cx="20.3" cy="26.0" r="2.26" fill="#ffc4c8" opacity="0.50"/>
<circle cx="20.3" cy="27.8" r="1.83" fill="#ffc4c8" opacity="0.50"/>
<circle cx="20.1" cy="27.5" r="1.73" fill="#ffc4c8" opacity="0.50"/>
<circle cx="19.1" cy="27.6" r="2.60" fill="#ffc4c8" opacity="0.50"/>
<circle cx="25.3" cy="22.0" r="1.84" fill="#ffc4c8" opacity="0.39"/>
<circle cx="26.4" cy="22.5" r="1.77" fill="#ffc4c8" opacity="0.39"/>
<circle cx="25.9" cy="21.0" r="1.80" fill="#ffc4c8" opacity="0.39"/>
<circle cx="25.3" cy="21.6" r="1.79" fill="#ffc4c8" opacity="0.39"/>
<circle cx="36.1" cy="33.0" r="2.84" fill="#ffc4c8" opacity="0.44"/>
<circle cx="36.1" cy="31.0" r="2.81" fill="#ffc4c8" opacity="0.44"/>
<circle cx="35.6" cy="31.2" r="2.28" fill="#ffc4c8" opacity="0.44"/>
<circle cx="35.7" cy="32.8" r="1.82" fill="#ffc4c8" opacity="0.44"/>
<circle cx="88.2" cy="31.8" r="4.72" fill="#ffc4c8" opacity="0.55"/>
<circle cx="89.5" cy="30.4" r="4.04" fill="#ffc4c8" opacity="0.55"/>
<circle cx="88.4" cy="31.3" r="4.00" fill="#ffc4c8" opacity="0.55"/>
<circle cx="88.9" cy="28.8" r="3.47" fill="#ffc4c8" opacity="0.55"/>
<circle cx="88.8" cy="29.3" r="3.96" fill="#ffc4c8" opacity="0.55"/>
<circle cx="87.5" cy="31.1" r="3.13" fill="#ffc4c8" opacity="0.55"/>
<circle cx="91.2" cy="27.6" r="3.80" fill="#ffc4c8" opacity="0.50"/>
<circle cx="92.4" cy="27.3" r="2.55" fill="#ffc4c8" opacity="0.50"/>
<circle cx="90.6" cy="27.2" r="3.68" fill="#ffc4c8" opacity="0.50"/>
<circle cx="90.3" cy="27.6" r="3.89" fill="#ffc4c8" opacity="0.50"/>
<circle cx="90.7" cy="27.6" r="4.10" fill="#ffc4c8" opacity="0.50"/>
<circle cx="88.7" cy="46.2" r="2.64" fill="#ffc4c8" opacity="0.33"/>
<circle cx="88.4" cy="44.9" r="3.58" fill="#ffc4c8" opacity="0.33"/>
<circle cx="88.3" cy="45.2" r="2.46" fill="#ffc4c8" opacity="0.33"/>
<circle cx="88.4" cy="45.1" r="2.68" fill="#ffc4c8" opacity="0.33"/>
<circle cx="87.4" cy="45.7" r="2.58" fill="#ffc4c8" opacity="0.33"/>
<circle cx="93.0" cy="51.9" r="3.19" fill="#ffc4c8" opacity="0.33"/>
<circle cx="93.8" cy="51.2" r="2.37" fill="#ffc4c8" opacity="0.33"/>
<circle cx="93.2" cy="50.9" r="2.36" fill="#ffc4c8" opacity="0.33"/>
<circle cx="93.9" cy="52.4" r="3.30" fill="#ffc4c8" opacity="0.33"/>
<circle cx="92.5" cy="50.9" r="2.91" fill="#ffc4c8" opacity="0.33"/>
<circle cx="91.7" cy="61.0" r="2.58" fill="#ffc4c8" opacity="0.33"/>
<circle cx="90.6" cy="58.4" r="3.31" fill="#ffc4c8" opacity="0.33"/>
<circle cx="91.0" cy="59.5" r="2.89" fill="#ffc4c8" opacity="0.33"/>
<circle cx="92.5" cy="60.4" r="2.58" fill="#ffc4c8" opacity="0.33"/>
<circle cx="91.8" cy="59.0" r="2.62" fill="#ffc4c8" opacity="0.33"/>
<circle cx="87.0" cy="36.6" r="1.93" fill="#ffc4c8" opacity="0.39"/>
<circle cx="88.0" cy="36.0" r="2.06" fill="#ffc4c8" opacity="0.39"/>
<circle cx="87.0" cy="36.4" r="2.32" fill="#ffc4c8" opacity="0.39"/>
<circle cx="86.2" cy="36.4" r="2.55" fill="#ffc4c8" opacity="0.39"/>
<circle cx="67.6" cy="9.4" r="2.02" fill="#ffc4c8" opacity="0.33"/>
<circle cx="69.0" cy="9.0" r="2.07" fill="#ffc4c8" opacity="0.33"/>
<circle cx="68.2" cy="8.6" r="2.00" fill="#ffc4c8" opacity="0.33"/>
<circle cx="69.8" cy="12.7" r="1.23" fill="#ffc4c8" opacity="0.33"/>
<circle cx="70.4" cy="12.5" r="1.45" fill="#ffc4c8" opacity="0.33"/>
<circle cx="69.9" cy="12.8" r="1.44" fill="#ffc4c8" opacity="0.33"/>
<circle cx="80.7" cy="15.5" r="1.36" fill="#ffc4c8" opacity="0.33"/>
<circle cx="81.2" cy="15.4" r="1.37" fill="#ffc4c8" opacity="0.33"/>
<circle cx="81.1" cy="15.4" r="1.95" fill="#ffc4c8" opacity="0.33"/>
<circle cx="86.4" cy="17.4" r="1.96" fill="#ffc4c8" opacity="0.33"/>
<circle cx="86.9" cy="18.0" r="1.87" fill="#ffc4c8" opacity="0.33"/>
<circle cx="86.1" cy="18.1" r="1.63" fill="#ffc4c8" opacity="0.33"/>
<circle cx="18.2" cy="20.3" r="2.43" fill="url(#gBlob)" opacity="0.98"/>
<circle cx="18.6" cy="21.3" r="2.30" fill="url(#gBlob)" opacity="0.98"/>
<circle cx="17.6" cy="22.6" r="2.58" fill="url(#gBlob)" opacity="0.98"/>
<circle cx="18.7" cy="21.3" r="2.64" fill="url(#gBlob)" opacity="0.98"/>
<circle cx="20.2" cy="20.5" r="1.71" fill="url(#gBlob)" opacity="0.98"/>
<circle cx="23.4" cy="31.1" r="1.62" fill="url(#gBlob)" opacity="0.98"/>
<circle cx="24.2" cy="29.6" r="2.35" fill="url(#gBlob)" opacity="0.98"/>
<circle cx="23.9" cy="29.8" r="1.93" fill="url(#gBlob)" opacity="0.98"/>
<circle cx="23.5" cy="31.0" r="2.50" fill="url(#gBlob)" opacity="0.98"/>
<circle cx="23.5" cy="31.5" r="2.09" fill="url(#gBlob)" opacity="0.98"/>
<circle cx="31.4" cy="27.8" r="1.65" fill="url(#gBlob)" opacity="1.00"/>
<circle cx="30.9" cy="27.1" r="1.69" fill="url(#gBlob)" opacity="1.00"/>
<circle cx="31.8" cy="27.5" r="2.24" fill="url(#gBlob)" opacity="1.00"/>
<circle cx="31.0" cy="27.7" r="1.78" fill="url(#gBlob)" opacity="1.00"/>
<circle cx="29.8" cy="28.2" r="1.71" fill="url(#gBlob)" opacity="1.00"/>
<circle cx="32.4" cy="36.3" r="1.58" fill="url(#gBlob)" opacity="0.91"/>
<circle cx="32.7" cy="37.1" r="2.21" fill="url(#gBlob)" opacity="0.91"/>
<circle cx="32.6" cy="37.2" r="1.56" fill="url(#gBlob)" opacity="0.91"/>
<circle cx="32.7" cy="35.6" r="1.35" fill="url(#gBlob)" opacity="0.91"/>
<circle cx="31.8" cy="37.2" r="2.19" fill="url(#gBlob)" opacity="0.91"/>
<circle cx="40.6" cy="26.8" r="1.71" fill="url(#gBlob)" opacity="0.91"/>
<circle cx="40.5" cy="25.7" r="2.34" fill="url(#gBlob)" opacity="0.91"/>
<circle cx="40.2" cy="26.4" r="2.08" fill="url(#gBlob)" opacity="0.91"/>
<circle cx="40.1" cy="26.1" r="2.02" fill="url(#gBlob)" opacity="0.91"/>
<circle cx="41.4" cy="26.7" r="2.08" fill="url(#gBlob)" opacity="0.91"/>
<circle cx="43.6" cy="28.3" r="1.72" fill="url(#gBlob)" opacity="0.98"/>
<circle cx="42.9" cy="29.7" r="2.28" fill="url(#gBlob)" opacity="0.98"/>
<circle cx="44.7" cy="30.1" r="1.38" fill="url(#gBlob)" opacity="0.98"/>
<circle cx="43.5" cy="29.7" r="2.30" fill="url(#gBlob)" opacity="0.98"/>
<circle cx="42.8" cy="29.3" r="2.28" fill="url(#gBlob)" opacity="0.98"/>
<circle cx="48.1" cy="29.1" r="1.59" fill="url(#gBlobP)" opacity="0.84"/>
<circle cx="48.0" cy="27.5" r="1.69" fill="url(#gBlobP)" opacity="0.84"/>
<circle cx="47.7" cy="28.9" r="1.26" fill="url(#gBlobP)" opacity="0.84"/>
<circle cx="48.5" cy="27.7" r="1.77" fill="url(#gBlobP)" opacity="0.84"/>
<circle cx="28.3" cy="41.0" r="2.16" fill="url(#gBlobP)" opacity="0.84"/>
<circle cx="27.7" cy="40.3" r="1.84" fill="url(#gBlobP)" opacity="0.84"/>
<circle cx="28.2" cy="40.1" r="1.55" fill="url(#gBlobP)" opacity="0.84"/>
<circle cx="27.5" cy="41.5" r="2.24" fill="url(#gBlobP)" opacity="0.84"/>
<circle cx="28.0" cy="40.6" r="1.61" fill="url(#gBlobP)" opacity="0.84"/>
<circle cx="33.8" cy="45.7" r="1.27" fill="url(#gBlobP)" opacity="0.84"/>
<circle cx="34.0" cy="45.3" r="1.98" fill="url(#gBlobP)" opacity="0.84"/>
<circle cx="34.1" cy="45.0" r="1.97" fill="url(#gBlobP)" opacity="0.84"/>
<circle cx="34.5" cy="45.4" r="1.99" fill="url(#gBlobP)" opacity="0.84"/>
<circle cx="20.3" cy="26.0" r="1.51" fill="url(#gBlob)" opacity="0.98"/>
<circle cx="20.3" cy="27.8" r="1.22" fill="url(#gBlob)" opacity="0.98"/>
<circle cx="20.1" cy="27.5" r="1.15" fill="url(#gBlob)" opacity="0.98"/>
<circle cx="19.1" cy="27.6" r="1.73" fill="url(#gBlob)" opacity="0.98"/>
<circle cx="25.3" cy="22.0" r="1.22" fill="url(#gBlobP)" opacity="0.84"/>
<circle cx="26.4" cy="22.5" r="1.18" fill="url(#gBlobP)" opacity="0.84"/>
<circle cx="25.9" cy="21.0" r="1.20" fill="url(#gBlobP)" opacity="0.84"/>
<circle cx="25.3" cy="21.6" r="1.19" fill="url(#gBlobP)" opacity="0.84"/>
<circle cx="36.1" cy="33.0" r="1.90" fill="url(#gBlob)" opacity="0.91"/>
<circle cx="36.1" cy="31.0" r="1.87" fill="url(#gBlob)" opacity="0.91"/>
<circle cx="35.6" cy="31.2" r="1.52" fill="url(#gBlob)" opacity="0.91"/>
<circle cx="35.7" cy="32.8" r="1.21" fill="url(#gBlob)" opacity="0.91"/>
<circle cx="88.2" cy="31.8" r="3.15" fill="url(#gBlob)" opacity="1.00"/>
<circle cx="89.5" cy="30.4" r="2.69" fill="url(#gBlob)" opacity="1.00"/>
<circle cx="88.4" cy="31.3" r="2.67" fill="url(#gBlob)" opacity="1.00"/>
<circle cx="88.9" cy="28.8" r="2.31" fill="url(#gBlob)" opacity="1.00"/>
<circle cx="88.8" cy="29.3" r="2.64" fill="url(#gBlob)" opacity="1.00"/>
<circle cx="87.5" cy="31.1" r="2.09" fill="url(#gBlob)" opacity="1.00"/>
<circle cx="91.2" cy="27.6" r="2.53" fill="url(#gBlob)" opacity="0.98"/>
<circle cx="92.4" cy="27.3" r="1.70" fill="url(#gBlob)" opacity="0.98"/>
<circle cx="90.6" cy="27.2" r="2.45" fill="url(#gBlob)" opacity="0.98"/>
<circle cx="90.3" cy="27.6" r="2.59" fill="url(#gBlob)" opacity="0.98"/>
<circle cx="90.7" cy="27.6" r="2.74" fill="url(#gBlob)" opacity="0.98"/>
<circle cx="88.7" cy="46.2" r="1.76" fill="url(#gBlobP)" opacity="0.77"/>
<circle cx="88.4" cy="44.9" r="2.38" fill="url(#gBlobP)" opacity="0.77"/>
<circle cx="88.3" cy="45.2" r="1.64" fill="url(#gBlobP)" opacity="0.77"/>
<circle cx="88.4" cy="45.1" r="1.79" fill="url(#gBlobP)" opacity="0.77"/>
<circle cx="87.4" cy="45.7" r="1.72" fill="url(#gBlobP)" opacity="0.77"/>
<circle cx="93.0" cy="51.9" r="2.13" fill="url(#gBlobP)" opacity="0.77"/>
<circle cx="93.8" cy="51.2" r="1.58" fill="url(#gBlobP)" opacity="0.77"/>
<circle cx="93.2" cy="50.9" r="1.57" fill="url(#gBlobP)" opacity="0.77"/>
<circle cx="93.9" cy="52.4" r="2.20" fill="url(#gBlobP)" opacity="0.77"/>
<circle cx="92.5" cy="50.9" r="1.94" fill="url(#gBlobP)" opacity="0.77"/>
<circle cx="91.7" cy="61.0" r="1.72" fill="url(#gBlobP)" opacity="0.77"/>
<circle cx="90.6" cy="58.4" r="2.21" fill="url(#gBlobP)" opacity="0.77"/>
<circle cx="91.0" cy="59.5" r="1.93" fill="url(#gBlobP)" opacity="0.77"/>
<circle cx="92.5" cy="60.4" r="1.72" fill="url(#gBlobP)" opacity="0.77"/>
<circle cx="91.8" cy="59.0" r="1.74" fill="url(#gBlobP)" opacity="0.77"/>
<circle cx="87.0" cy="36.6" r="1.29" fill="url(#gBlobP)" opacity="0.84"/>
<circle cx="88.0" cy="36.0" r="1.37" fill="url(#gBlobP)" opacity="0.84"/>
<circle cx="87.0" cy="36.4" r="1.54" fill="url(#gBlobP)" opacity="0.84"/>
<circle cx="86.2" cy="36.4" r="1.70" fill="url(#gBlobP)" opacity="0.84"/>
<circle cx="67.6" cy="9.4" r="1.35" fill="url(#gBlobP)" opacity="0.77"/>
<circle cx="69.0" cy="9.0" r="1.38" fill="url(#gBlobP)" opacity="0.77"/>
<circle cx="68.2" cy="8.6" r="1.33" fill="url(#gBlobP)" opacity="0.77"/>
<circle cx="69.8" cy="12.7" r="0.82" fill="url(#gBlobP)" opacity="0.77"/>
<circle cx="70.4" cy="12.5" r="0.97" fill="url(#gBlobP)" opacity="0.77"/>
<circle cx="69.9" cy="12.8" r="0.96" fill="url(#gBlobP)" opacity="0.77"/>
<circle cx="80.7" cy="15.5" r="0.91" fill="url(#gBlobP)" opacity="0.77"/>
<circle cx="81.2" cy="15.4" r="0.92" fill="url(#gBlobP)" opacity="0.77"/>
<circle cx="81.1" cy="15.4" r="1.30" fill="url(#gBlobP)" opacity="0.77"/>
<circle cx="86.4" cy="17.4" r="1.31" fill="url(#gBlobP)" opacity="0.77"/>
<circle cx="86.9" cy="18.0" r="1.25" fill="url(#gBlobP)" opacity="0.77"/>
<circle cx="86.1" cy="18.1" r="1.09" fill="url(#gBlobP)" opacity="0.77"/>
</g>
<g transform="translate(520.30,444.80) scale(1.1740,1.1413)" clip-path="url(#cMedM)">
<circle cx="6.5" cy="34.3" r="2.85" fill="#ffc4c8" opacity="0.55"/>
<circle cx="5.7" cy="35.3" r="3.27" fill="#ffc4c8" opacity="0.55"/>
<circle cx="6.5" cy="35.3" r="2.63" fill="#ffc4c8" opacity="0.55"/>
<circle cx="4.7" cy="35.1" r="3.35" fill="#ffc4c8" opacity="0.55"/>
<circle cx="5.7" cy="35.0" r="3.91" fill="#ffc4c8" opacity="0.55"/>
<circle cx="3.8" cy="41.1" r="2.56" fill="#ffc4c8" opacity="0.44"/>
<circle cx="4.9" cy="40.5" r="2.24" fill="#ffc4c8" opacity="0.44"/>
<circle cx="4.7" cy="40.9" r="2.52" fill="#ffc4c8" opacity="0.44"/>
<circle cx="4.6" cy="40.9" r="2.49" fill="#ffc4c8" opacity="0.44"/>
<circle cx="16.8" cy="19.9" r="1.70" fill="#ffc4c8" opacity="0.39"/>
<circle cx="17.8" cy="20.7" r="1.86" fill="#ffc4c8" opacity="0.39"/>
<circle cx="17.2" cy="20.8" r="2.10" fill="#ffc4c8" opacity="0.39"/>
<circle cx="16.9" cy="20.5" r="2.25" fill="#ffc4c8" opacity="0.39"/>
<circle cx="19.2" cy="23.6" r="1.90" fill="#ffc4c8" opacity="0.44"/>
<circle cx="19.5" cy="23.0" r="1.81" fill="#ffc4c8" opacity="0.44"/>
<circle cx="19.0" cy="23.5" r="2.22" fill="#ffc4c8" opacity="0.44"/>
<circle cx="19.3" cy="24.1" r="1.77" fill="#ffc4c8" opacity="0.44"/>
<circle cx="26.1" cy="14.9" r="1.69" fill="#ffc4c8" opacity="0.33"/>
<circle cx="27.0" cy="14.8" r="1.96" fill="#ffc4c8" opacity="0.33"/>
<circle cx="26.2" cy="15.2" r="1.50" fill="#ffc4c8" opacity="0.33"/>
<circle cx="16.7" cy="33.5" r="1.96" fill="#ffc4c8" opacity="0.33"/>
<circle cx="17.9" cy="34.0" r="2.05" fill="#ffc4c8" opacity="0.33"/>
<circle cx="17.2" cy="33.8" r="1.50" fill="#ffc4c8" opacity="0.33"/>
<circle cx="23.2" cy="19.0" r="1.74" fill="#ffc4c8" opacity="0.33"/>
<circle cx="22.6" cy="18.7" r="1.63" fill="#ffc4c8" opacity="0.33"/>
<circle cx="23.4" cy="18.7" r="1.50" fill="#ffc4c8" opacity="0.33"/>
<circle cx="6.6" cy="59.6" r="1.19" fill="#ffc4c8" opacity="0.28"/>
<circle cx="6.8" cy="59.8" r="1.23" fill="#ffc4c8" opacity="0.28"/>
<circle cx="6.4" cy="60.0" r="0.87" fill="#ffc4c8" opacity="0.28"/>
<circle cx="75.9" cy="16.2" r="3.79" fill="#ffc4c8" opacity="0.55"/>
<circle cx="77.0" cy="15.5" r="3.04" fill="#ffc4c8" opacity="0.55"/>
<circle cx="76.6" cy="14.7" r="3.40" fill="#ffc4c8" opacity="0.55"/>
<circle cx="75.9" cy="16.7" r="3.14" fill="#ffc4c8" opacity="0.55"/>
<circle cx="75.6" cy="16.9" r="3.54" fill="#ffc4c8" opacity="0.55"/>
<circle cx="72.1" cy="15.0" r="2.43" fill="#ffc4c8" opacity="0.50"/>
<circle cx="72.2" cy="15.0" r="2.75" fill="#ffc4c8" opacity="0.50"/>
<circle cx="70.9" cy="14.4" r="2.27" fill="#ffc4c8" opacity="0.50"/>
<circle cx="72.5" cy="15.0" r="2.46" fill="#ffc4c8" opacity="0.50"/>
<circle cx="64.7" cy="23.8" r="2.77" fill="#ffc4c8" opacity="0.50"/>
<circle cx="63.1" cy="24.5" r="3.04" fill="#ffc4c8" opacity="0.50"/>
<circle cx="63.3" cy="24.6" r="2.05" fill="#ffc4c8" opacity="0.50"/>
<circle cx="64.3" cy="24.4" r="2.22" fill="#ffc4c8" opacity="0.50"/>
<circle cx="63.3" cy="24.4" r="3.39" fill="#ffc4c8" opacity="0.50"/>
<circle cx="70.1" cy="25.6" r="3.16" fill="#ffc4c8" opacity="0.50"/>
<circle cx="70.2" cy="26.8" r="2.32" fill="#ffc4c8" opacity="0.50"/>
<circle cx="71.3" cy="26.0" r="3.15" fill="#ffc4c8" opacity="0.50"/>
<circle cx="70.8" cy="24.7" r="2.16" fill="#ffc4c8" opacity="0.50"/>
<circle cx="69.3" cy="24.8" r="2.75" fill="#ffc4c8" opacity="0.50"/>
<circle cx="68.2" cy="32.5" r="3.54" fill="#ffc4c8" opacity="0.50"/>
<circle cx="67.8" cy="32.7" r="2.05" fill="#ffc4c8" opacity="0.50"/>
<circle cx="67.0" cy="31.6" r="2.15" fill="#ffc4c8" opacity="0.50"/>
<circle cx="67.3" cy="33.8" r="2.29" fill="#ffc4c8" opacity="0.50"/>
<circle cx="68.3" cy="32.1" r="2.12" fill="#ffc4c8" opacity="0.50"/>
<circle cx="51.2" cy="30.9" r="2.26" fill="#ffc4c8" opacity="0.44"/>
<circle cx="51.6" cy="30.1" r="2.73" fill="#ffc4c8" opacity="0.44"/>
<circle cx="51.1" cy="31.0" r="2.51" fill="#ffc4c8" opacity="0.44"/>
<circle cx="51.2" cy="30.6" r="2.72" fill="#ffc4c8" opacity="0.44"/>
<circle cx="59.6" cy="29.9" r="2.43" fill="#ffc4c8" opacity="0.44"/>
<circle cx="58.6" cy="30.4" r="2.97" fill="#ffc4c8" opacity="0.44"/>
<circle cx="58.3" cy="29.2" r="2.12" fill="#ffc4c8" opacity="0.44"/>
<circle cx="57.5" cy="29.5" r="2.78" fill="#ffc4c8" opacity="0.44"/>
<circle cx="75.6" cy="25.3" r="2.25" fill="#ffc4c8" opacity="0.44"/>
<circle cx="76.3" cy="25.3" r="2.59" fill="#ffc4c8" opacity="0.44"/>
<circle cx="74.9" cy="24.9" r="2.75" fill="#ffc4c8" opacity="0.44"/>
<circle cx="75.9" cy="25.6" r="2.03" fill="#ffc4c8" opacity="0.44"/>
<circle cx="78.4" cy="21.3" r="2.21" fill="#ffc4c8" opacity="0.39"/>
<circle cx="79.0" cy="21.0" r="2.22" fill="#ffc4c8" opacity="0.39"/>
<circle cx="79.4" cy="20.1" r="1.95" fill="#ffc4c8" opacity="0.39"/>
<circle cx="78.9" cy="21.9" r="2.20" fill="#ffc4c8" opacity="0.39"/>
<circle cx="67.4" cy="38.9" r="1.71" fill="#ffc4c8" opacity="0.33"/>
<circle cx="68.3" cy="40.1" r="2.19" fill="#ffc4c8" opacity="0.33"/>
<circle cx="68.1" cy="40.6" r="2.33" fill="#ffc4c8" opacity="0.33"/>
<circle cx="67.9" cy="40.5" r="2.06" fill="#ffc4c8" opacity="0.33"/>
<circle cx="61.8" cy="19.0" r="1.62" fill="#ffc4c8" opacity="0.33"/>
<circle cx="62.0" cy="18.1" r="1.83" fill="#ffc4c8" opacity="0.33"/>
<circle cx="62.8" cy="19.5" r="2.16" fill="#ffc4c8" opacity="0.33"/>
<circle cx="62.1" cy="19.6" r="2.29" fill="#ffc4c8" opacity="0.33"/>
<circle cx="80.4" cy="29.6" r="1.85" fill="#ffc4c8" opacity="0.39"/>
<circle cx="79.8" cy="29.9" r="1.55" fill="#ffc4c8" opacity="0.39"/>
<circle cx="80.3" cy="30.7" r="1.73" fill="#ffc4c8" opacity="0.39"/>
<circle cx="79.6" cy="29.8" r="1.89" fill="#ffc4c8" opacity="0.39"/>
<circle cx="6.5" cy="34.3" r="1.90" fill="url(#gBlob)" opacity="1.00"/>
<circle cx="5.7" cy="35.3" r="2.18" fill="url(#gBlob)" opacity="1.00"/>
<circle cx="6.5" cy="35.3" r="1.75" fill="url(#gBlob)" opacity="1.00"/>
<circle cx="4.7" cy="35.1" r="2.24" fill="url(#gBlob)" opacity="1.00"/>
<circle cx="5.7" cy="35.0" r="2.60" fill="url(#gBlob)" opacity="1.00"/>
<circle cx="3.8" cy="41.1" r="1.71" fill="url(#gBlob)" opacity="0.91"/>
<circle cx="4.9" cy="40.5" r="1.49" fill="url(#gBlob)" opacity="0.91"/>
<circle cx="4.7" cy="40.9" r="1.68" fill="url(#gBlob)" opacity="0.91"/>
<circle cx="4.6" cy="40.9" r="1.66" fill="url(#gBlob)" opacity="0.91"/>
<circle cx="16.8" cy="19.9" r="1.13" fill="url(#gBlobP)" opacity="0.84"/>
<circle cx="17.8" cy="20.7" r="1.24" fill="url(#gBlobP)" opacity="0.84"/>
<circle cx="17.2" cy="20.8" r="1.40" fill="url(#gBlobP)" opacity="0.84"/>
<circle cx="16.9" cy="20.5" r="1.50" fill="url(#gBlobP)" opacity="0.84"/>
<circle cx="19.2" cy="23.6" r="1.27" fill="url(#gBlob)" opacity="0.91"/>
<circle cx="19.5" cy="23.0" r="1.20" fill="url(#gBlob)" opacity="0.91"/>
<circle cx="19.0" cy="23.5" r="1.48" fill="url(#gBlob)" opacity="0.91"/>
<circle cx="19.3" cy="24.1" r="1.18" fill="url(#gBlob)" opacity="0.91"/>
<circle cx="26.1" cy="14.9" r="1.13" fill="url(#gBlobP)" opacity="0.77"/>
<circle cx="27.0" cy="14.8" r="1.31" fill="url(#gBlobP)" opacity="0.77"/>
<circle cx="26.2" cy="15.2" r="1.00" fill="url(#gBlobP)" opacity="0.77"/>
<circle cx="16.7" cy="33.5" r="1.30" fill="url(#gBlobP)" opacity="0.77"/>
<circle cx="17.9" cy="34.0" r="1.37" fill="url(#gBlobP)" opacity="0.77"/>
<circle cx="17.2" cy="33.8" r="1.00" fill="url(#gBlobP)" opacity="0.77"/>
<circle cx="23.2" cy="19.0" r="1.16" fill="url(#gBlobP)" opacity="0.77"/>
<circle cx="22.6" cy="18.7" r="1.09" fill="url(#gBlobP)" opacity="0.77"/>
<circle cx="23.4" cy="18.7" r="1.00" fill="url(#gBlobP)" opacity="0.77"/>
<circle cx="6.6" cy="59.6" r="0.79" fill="url(#gBlobP)" opacity="0.70"/>
<circle cx="6.8" cy="59.8" r="0.82" fill="url(#gBlobP)" opacity="0.70"/>
<circle cx="6.4" cy="60.0" r="0.58" fill="url(#gBlobP)" opacity="0.70"/>
<circle cx="75.9" cy="16.2" r="2.52" fill="url(#gBlob)" opacity="1.00"/>
<circle cx="77.0" cy="15.5" r="2.03" fill="url(#gBlob)" opacity="1.00"/>
<circle cx="76.6" cy="14.7" r="2.26" fill="url(#gBlob)" opacity="1.00"/>
<circle cx="75.9" cy="16.7" r="2.09" fill="url(#gBlob)" opacity="1.00"/>
<circle cx="75.6" cy="16.9" r="2.36" fill="url(#gBlob)" opacity="1.00"/>
<circle cx="72.1" cy="15.0" r="1.62" fill="url(#gBlob)" opacity="0.98"/>
<circle cx="72.2" cy="15.0" r="1.83" fill="url(#gBlob)" opacity="0.98"/>
<circle cx="70.9" cy="14.4" r="1.52" fill="url(#gBlob)" opacity="0.98"/>
<circle cx="72.5" cy="15.0" r="1.64" fill="url(#gBlob)" opacity="0.98"/>
<circle cx="64.7" cy="23.8" r="1.85" fill="url(#gBlob)" opacity="0.98"/>
<circle cx="63.1" cy="24.5" r="2.03" fill="url(#gBlob)" opacity="0.98"/>
<circle cx="63.3" cy="24.6" r="1.37" fill="url(#gBlob)" opacity="0.98"/>
<circle cx="64.3" cy="24.4" r="1.48" fill="url(#gBlob)" opacity="0.98"/>
<circle cx="63.3" cy="24.4" r="2.26" fill="url(#gBlob)" opacity="0.98"/>
<circle cx="70.1" cy="25.6" r="2.11" fill="url(#gBlob)" opacity="0.98"/>
<circle cx="70.2" cy="26.8" r="1.55" fill="url(#gBlob)" opacity="0.98"/>
<circle cx="71.3" cy="26.0" r="2.10" fill="url(#gBlob)" opacity="0.98"/>
<circle cx="70.8" cy="24.7" r="1.44" fill="url(#gBlob)" opacity="0.98"/>
<circle cx="69.3" cy="24.8" r="1.83" fill="url(#gBlob)" opacity="0.98"/>
<circle cx="68.2" cy="32.5" r="2.36" fill="url(#gBlob)" opacity="0.98"/>
<circle cx="67.8" cy="32.7" r="1.37" fill="url(#gBlob)" opacity="0.98"/>
<circle cx="67.0" cy="31.6" r="1.43" fill="url(#gBlob)" opacity="0.98"/>
<circle cx="67.3" cy="33.8" r="1.52" fill="url(#gBlob)" opacity="0.98"/>
<circle cx="68.3" cy="32.1" r="1.41" fill="url(#gBlob)" opacity="0.98"/>
<circle cx="51.2" cy="30.9" r="1.51" fill="url(#gBlob)" opacity="0.91"/>
<circle cx="51.6" cy="30.1" r="1.82" fill="url(#gBlob)" opacity="0.91"/>
<circle cx="51.1" cy="31.0" r="1.68" fill="url(#gBlob)" opacity="0.91"/>
<circle cx="51.2" cy="30.6" r="1.81" fill="url(#gBlob)" opacity="0.91"/>
<circle cx="59.6" cy="29.9" r="1.62" fill="url(#gBlob)" opacity="0.91"/>
<circle cx="58.6" cy="30.4" r="1.98" fill="url(#gBlob)" opacity="0.91"/>
<circle cx="58.3" cy="29.2" r="1.42" fill="url(#gBlob)" opacity="0.91"/>
<circle cx="57.5" cy="29.5" r="1.85" fill="url(#gBlob)" opacity="0.91"/>
<circle cx="75.6" cy="25.3" r="1.50" fill="url(#gBlob)" opacity="0.91"/>
<circle cx="76.3" cy="25.3" r="1.72" fill="url(#gBlob)" opacity="0.91"/>
<circle cx="74.9" cy="24.9" r="1.83" fill="url(#gBlob)" opacity="0.91"/>
<circle cx="75.9" cy="25.6" r="1.36" fill="url(#gBlob)" opacity="0.91"/>
<circle cx="78.4" cy="21.3" r="1.47" fill="url(#gBlobP)" opacity="0.84"/>
<circle cx="79.0" cy="21.0" r="1.48" fill="url(#gBlobP)" opacity="0.84"/>
<circle cx="79.4" cy="20.1" r="1.30" fill="url(#gBlobP)" opacity="0.84"/>
<circle cx="78.9" cy="21.9" r="1.46" fill="url(#gBlobP)" opacity="0.84"/>
<circle cx="67.4" cy="38.9" r="1.14" fill="url(#gBlobP)" opacity="0.77"/>
<circle cx="68.3" cy="40.1" r="1.46" fill="url(#gBlobP)" opacity="0.77"/>
<circle cx="68.1" cy="40.6" r="1.55" fill="url(#gBlobP)" opacity="0.77"/>
<circle cx="67.9" cy="40.5" r="1.37" fill="url(#gBlobP)" opacity="0.77"/>
<circle cx="61.8" cy="19.0" r="1.08" fill="url(#gBlobP)" opacity="0.77"/>
<circle cx="62.0" cy="18.1" r="1.22" fill="url(#gBlobP)" opacity="0.77"/>
<circle cx="62.8" cy="19.5" r="1.44" fill="url(#gBlobP)" opacity="0.77"/>
<circle cx="62.1" cy="19.6" r="1.53" fill="url(#gBlobP)" opacity="0.77"/>
<circle cx="80.4" cy="29.6" r="1.23" fill="url(#gBlobP)" opacity="0.84"/>
<circle cx="79.8" cy="29.9" r="1.03" fill="url(#gBlobP)" opacity="0.84"/>
<circle cx="80.3" cy="30.7" r="1.15" fill="url(#gBlobP)" opacity="0.84"/>
<circle cx="79.6" cy="29.8" r="1.26" fill="url(#gBlobP)" opacity="0.84"/>
</g>
</svg></body></html>
